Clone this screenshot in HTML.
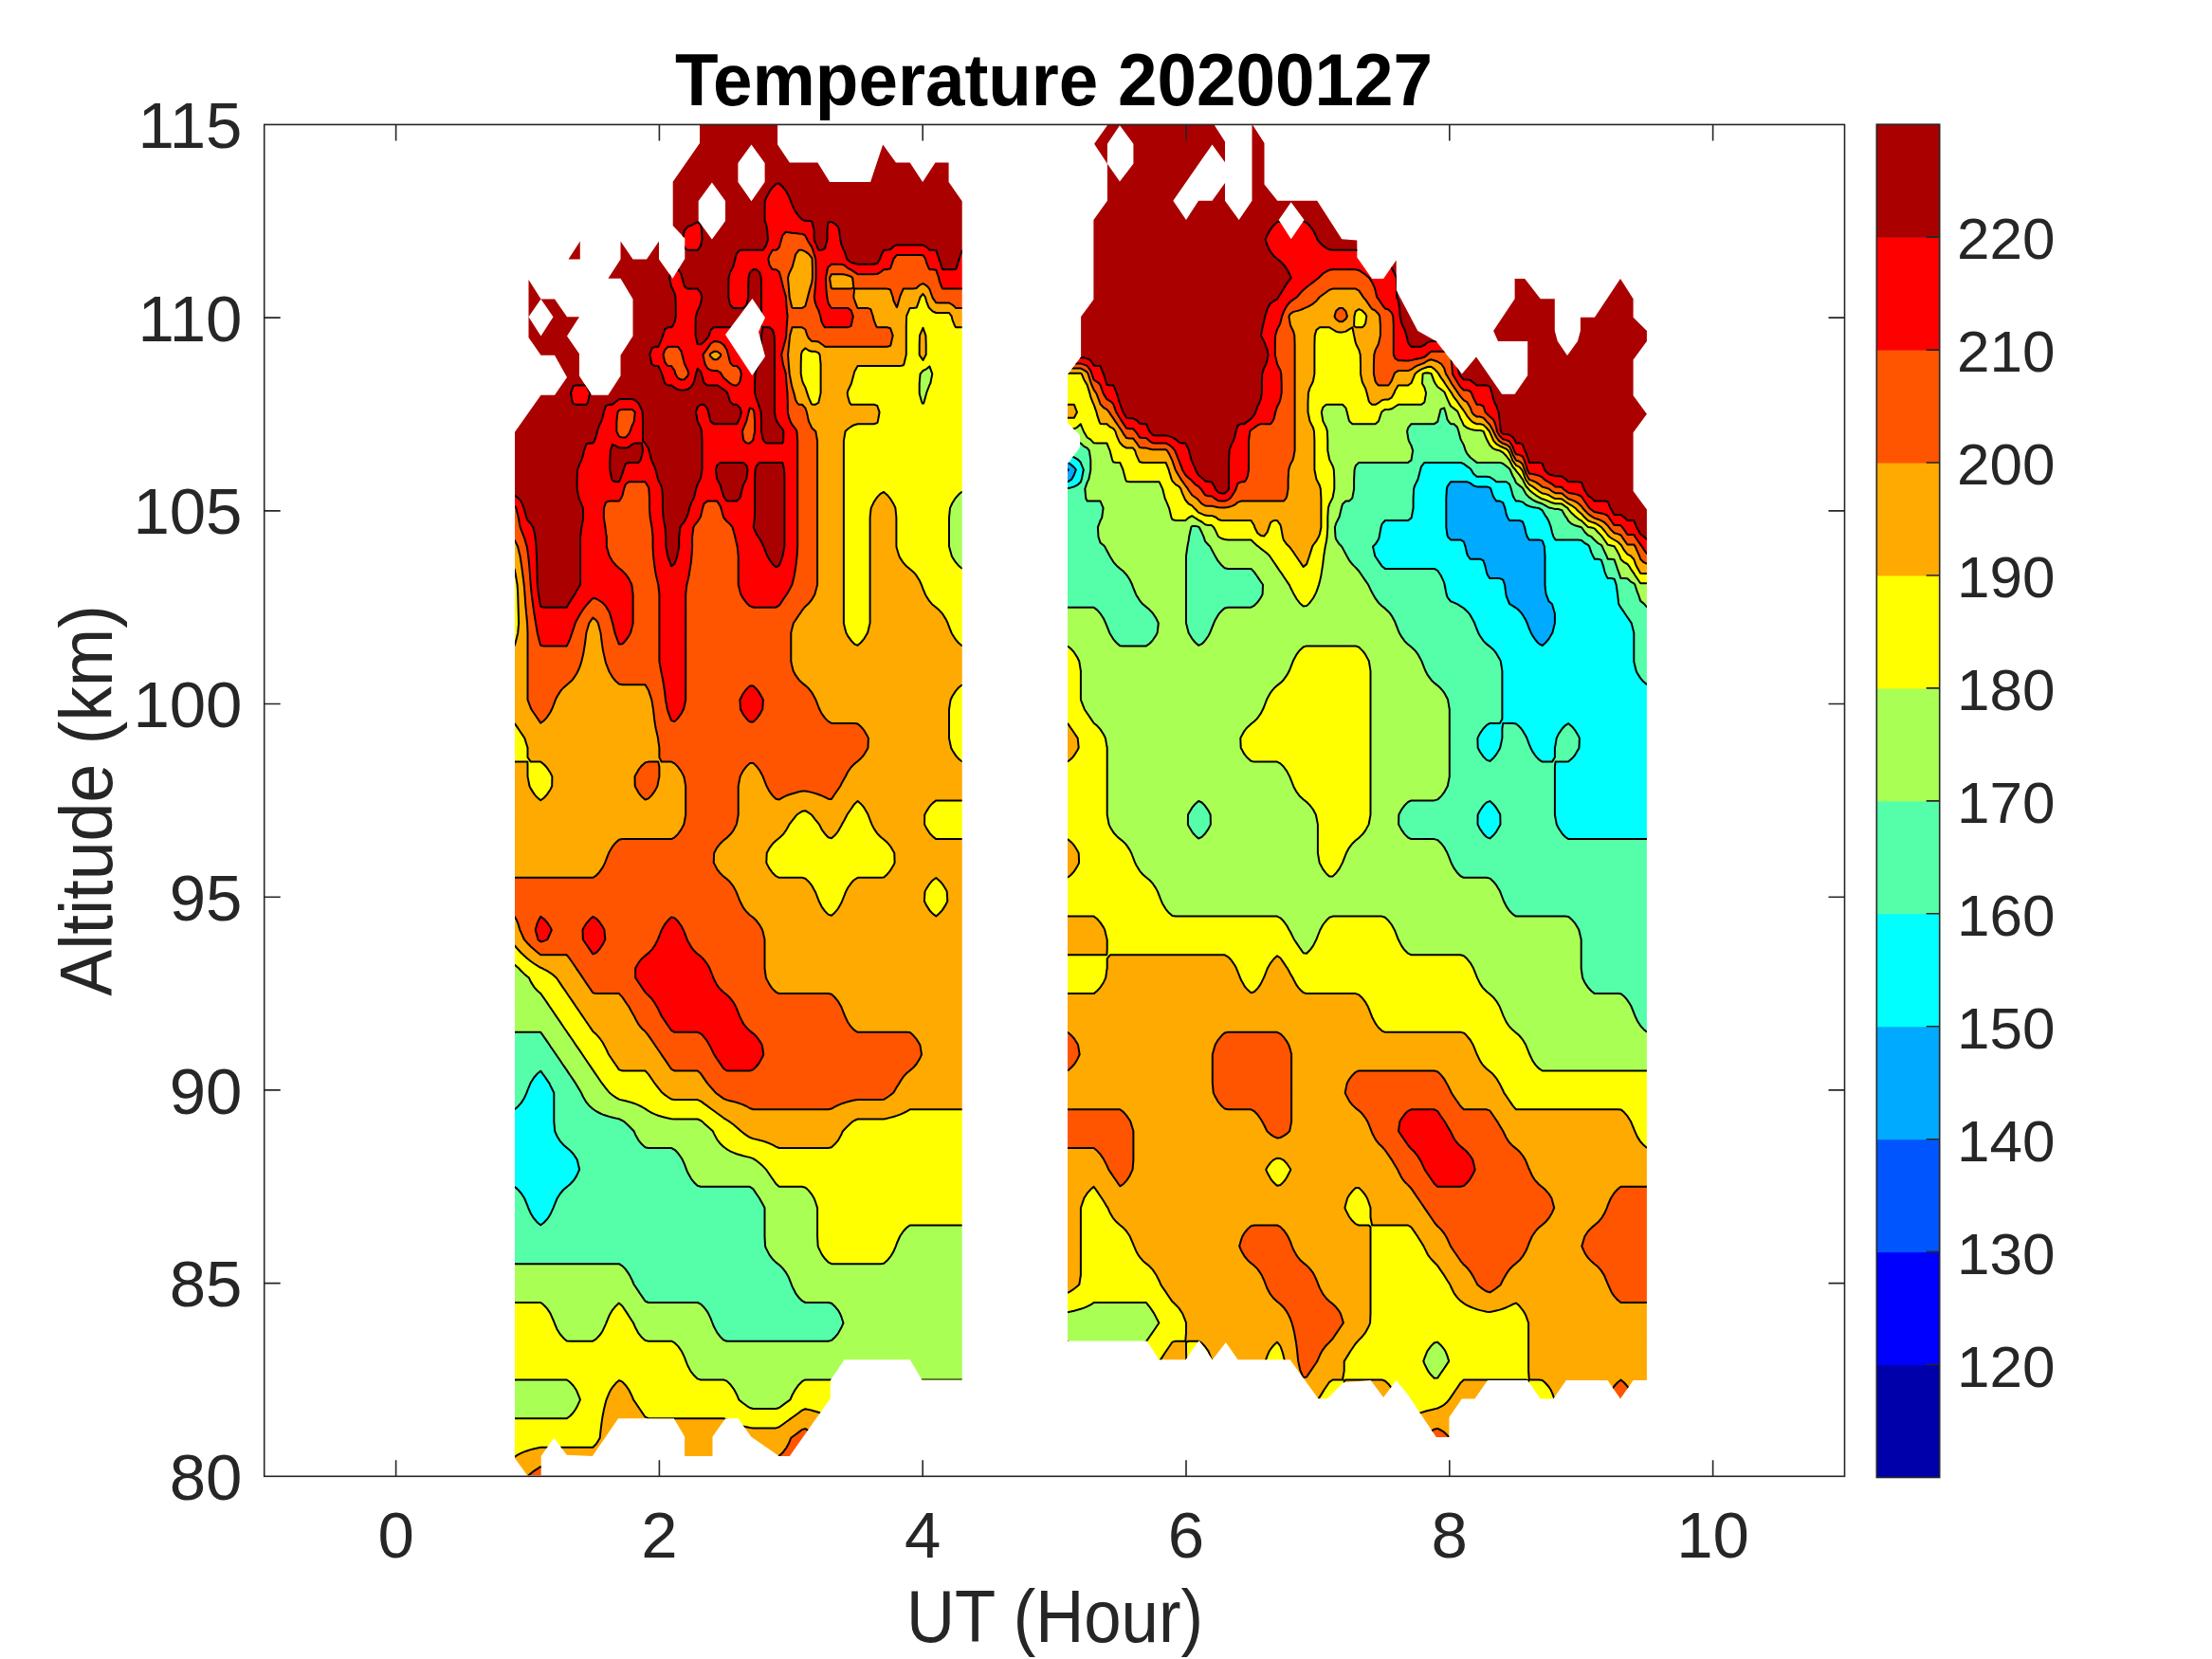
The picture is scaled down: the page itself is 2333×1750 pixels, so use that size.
<!DOCTYPE html>
<html><head><meta charset="utf-8"><style>
html,body{margin:0;padding:0;background:#fff;}
svg{display:block;font-family:"Liberation Sans",sans-serif;}
</style></head><body>
<svg width="2333" height="1750" viewBox="0 0 2333 1750" xmlns="http://www.w3.org/2000/svg">
<rect width="2333" height="1750" fill="#fff"/>
<defs><clipPath id="clipL"><path d="M543.0 1538.2L543.0 455.8L570.5 416.7L585.0 416.7L598.0 397.9L585.0 374.7L570.5 374.7L557.5 355.9L557.5 295.1L570.5 315.4L585.0 315.4L598.0 334.2L611.0 334.2L598.0 354.5L611.0 373.3L611.0 396.4L624.1 416.7L641.4 416.7L654.5 396.4L654.5 374.7L667.5 354.5L667.5 315.4L654.5 293.7L641.4 293.7L654.5 273.4L654.5 254.6L667.5 273.4L682.0 273.4L695.0 254.6L695.0 273.4L709.4 293.7L722.3 273.0L722.3 251.6L709.7 238.0L709.7 191.7L738.0 151.0L738.0 130.7L820.1 130.7L820.1 152.4L832.8 171.4L862.4 171.4L875.1 191.9L918.1 191.9L931.2 152.4L944.9 171.4L959.7 171.4L973.1 191.9L986.5 171.4L1000.6 171.4L1000.6 191.9L1014.7 212.3L1014.7 1455.5L972.4 1455.5L959.7 1434.3L890.6 1434.3L875.8 1456.0L875.8 1474.9L832.9 1535.9L821.6 1535.9L792.2 1515.6L778.6 1496.3L765.1 1496.3L751.5 1515.6L751.5 1535.9L722.1 1535.9L722.1 1515.6L710.8 1496.3L652.1 1496.3L624.9 1535.9L597.8 1534.8L584.2 1516.7L570.7 1535.9L570.7 1556.2L556.0 1556.2L543.1 1538.2Z"/><path d="M611.8 254.6L611.8 273.4L599.5 273.4Z"/></clipPath><clipPath id="clipR"><path d="M1126.0 1414.6L1126.0 489.3L1139.0 472.0L1139.0 458.9L1126.0 445.9L1126.0 394.9L1140.1 376.4L1140.1 334.1L1153.4 316.0L1153.4 232.1L1167.9 211.8L1167.9 172.7L1154.1 151.8L1167.9 132.2L1167.9 130.7L1280.0 130.7L1292.0 149.6L1292.0 211.8L1306.7 232.1L1320.5 211.8L1320.5 130.7L1333.5 151.0L1333.5 194.4L1347.3 211.8L1389.2 211.8L1415.2 252.3L1431.3 253.5L1431.3 271.6L1447.1 294.1L1459.1 294.1L1472.7 274.6L1472.7 306.2L1495.3 348.9L1514.8 360.0L1541.9 394.6L1557.0 376.6L1584.1 415.7L1597.6 415.7L1611.2 396.1L1611.2 360.0L1580.0 360.0L1575.1 349.0L1597.6 315.2L1597.6 294.1L1608.2 294.1L1624.7 315.2L1639.8 315.2L1639.8 349.0L1642.8 360.0L1653.0 375.0L1663.9 360.0L1666.9 349.0L1666.9 334.8L1681.9 334.8L1709.0 294.1L1722.6 315.2L1722.6 334.8L1736.9 349.0L1736.9 360.0L1722.6 379.6L1722.6 417.2L1736.9 436.8L1722.6 456.3L1722.6 518.1L1736.9 537.6L1736.9 1455.9L1722.6 1455.9L1709.0 1475.5L1695.5 1455.9L1651.8 1455.9L1638.3 1475.5L1624.7 1475.5L1611.2 1455.9L1569.0 1455.9L1555.5 1475.5L1541.9 1475.5L1528.4 1495.1L1528.4 1516.1L1514.8 1516.1L1484.7 1471.0L1472.7 1455.9L1459.1 1474.0L1445.6 1455.9L1416.9 1458.3L1400.1 1475.2L1390.3 1475.2L1360.6 1434.3L1305.6 1434.3L1292.9 1416.0L1278.8 1434.3L1264.7 1413.9L1250.6 1434.3L1222.4 1434.3L1209.7 1414.6Z"/></clipPath></defs>
<g clip-path="url(#clipL)">
<path d="MZ" fill="#0000AA" fill-rule="evenodd" stroke="#0000AA" stroke-width="0.6"/>
<path d="MZ" fill="#0000FF" fill-rule="evenodd" stroke="#0000FF" stroke-width="0.6"/>
<path d="MZ" fill="#0055FF" fill-rule="evenodd" stroke="#0055FF" stroke-width="0.6"/>
<path d="MZ" fill="#00AAFF" fill-rule="evenodd" stroke="#00AAFF" stroke-width="0.6"/>
<path d="M563.3 1285.5L566.7 1289.4L570.2 1292.3L573.6 1289.8L577.1 1286.0L578.4 1284.3L580.5 1280.8L583.6 1274.1L584.0 1273.0L587.4 1264.7L587.7 1264.0L590.9 1259.0L594.3 1255.0L595.5 1253.9L597.8 1252.1L601.2 1249.3L604.7 1245.5L606.0 1243.8L608.1 1240.4L611.2 1233.7L608.8 1223.6L608.1 1222.4L604.7 1217.2L601.2 1213.5L601.2 1213.5L597.8 1210.7L594.3 1207.7L590.9 1203.8L590.6 1203.4L587.4 1198.2L585.2 1193.2L584.3 1183.1L584.3 1173.0L584.3 1162.9L584.3 1152.8L584.0 1152.2L580.5 1145.1L579.4 1142.7L577.1 1139.4L573.6 1134.3L572.3 1132.6L570.2 1129.7L566.8 1132.6L566.7 1132.6L563.3 1136.5L559.8 1142.0L559.5 1142.7L556.4 1150.2L555.4 1152.8L553.0 1158.2L550.0 1162.9L549.5 1163.6L546.1 1167.4L542.6 1170.3L542.6 1173.0L542.6 1183.1L542.6 1193.2L542.6 1203.4L542.6 1213.5L542.6 1223.6L542.6 1233.7L542.6 1243.8L542.6 1251.8L545.3 1253.9L546.1 1254.6L549.5 1258.5L553.0 1263.8L553.1 1264.0L556.4 1271.9L557.2 1274.1L559.8 1280.0L562.4 1284.3Z" fill="#00FFFF" fill-rule="evenodd" stroke="#00FFFF" stroke-width="0.6"/>
<path d="M756.3 1405.7L759.8 1410.2L763.2 1413.5L766.7 1414.7L770.1 1414.7L773.6 1414.7L777.0 1414.7L780.5 1414.7L783.9 1414.7L787.4 1414.7L790.8 1414.7L794.3 1414.7L797.7 1414.7L801.1 1414.7L804.6 1414.7L808.0 1414.7L811.5 1414.7L814.9 1414.7L818.4 1414.7L821.8 1414.7L825.3 1414.7L828.7 1414.7L832.2 1414.7L835.6 1414.7L839.1 1414.7L842.5 1414.7L846.0 1414.7L849.4 1414.7L852.9 1414.7L856.3 1414.7L859.7 1414.7L863.2 1414.7L866.6 1414.7L870.1 1414.7L873.5 1414.7L877.0 1413.9L880.4 1410.8L883.9 1406.6L884.5 1405.6L887.3 1400.6L889.5 1395.5L887.3 1388.8L885.9 1385.4L883.9 1382.1L880.4 1377.9L877.6 1375.3L877.0 1374.7L873.5 1374.0L870.1 1374.0L866.6 1374.0L863.2 1374.0L859.7 1374.0L856.3 1374.0L852.9 1374.0L849.4 1374.0L846.0 1372.2L842.5 1368.7L839.8 1365.2L839.1 1364.0L835.6 1357.1L834.8 1355.0L832.2 1348.3L830.5 1344.9L828.7 1341.9L825.3 1337.6L822.4 1334.8L821.8 1334.3L818.4 1331.6L814.9 1328.2L812.2 1324.7L811.5 1323.6L808.0 1316.9L807.1 1314.6L806.5 1304.5L806.5 1294.4L806.5 1284.3L806.5 1274.1L804.6 1270.6L801.1 1264.3L801.0 1264.0L797.7 1259.2L794.3 1254.1L793.9 1253.9L790.8 1251.8L787.4 1251.8L783.9 1251.8L780.5 1251.8L777.0 1251.8L773.6 1251.8L770.1 1251.8L766.7 1251.8L763.2 1251.8L759.8 1251.8L756.3 1251.8L752.9 1251.8L749.4 1251.8L746.0 1251.8L742.5 1251.8L739.1 1251.8L735.7 1250.7L732.2 1247.4L729.3 1243.8L728.8 1243.1L725.3 1236.8L724.0 1233.7L721.9 1228.0L719.9 1223.6L718.4 1221.0L715.0 1216.3L712.3 1213.5L711.5 1212.8L708.1 1211.0L704.6 1211.0L701.2 1211.0L697.7 1211.0L694.3 1211.0L690.8 1211.0L687.4 1211.0L683.9 1211.0L680.5 1210.2L677.0 1207.1L673.9 1203.4L673.6 1202.9L670.2 1196.9L668.6 1193.2L666.7 1191.2L663.3 1187.7L659.8 1184.5L658.2 1183.1L656.4 1182.0L652.9 1180.3L649.5 1179.6L646.0 1178.8L642.6 1177.9L639.1 1176.8L635.7 1175.6L632.2 1174.0L630.3 1173.0L628.8 1172.2L625.3 1169.8L621.9 1166.8L618.6 1162.9L618.4 1162.7L615.0 1157.0L613.1 1152.8L611.6 1150.3L608.1 1144.4L607.1 1142.7L604.7 1139.1L601.2 1134.0L600.2 1132.6L597.8 1128.9L594.3 1123.9L593.3 1122.5L590.9 1118.8L587.4 1113.8L586.4 1112.3L584.0 1108.7L580.5 1103.7L579.6 1102.2L577.1 1098.6L573.6 1093.6L572.6 1092.1L570.2 1088.8L566.7 1088.8L563.3 1088.8L559.8 1088.8L556.4 1088.8L553.0 1088.8L549.5 1088.8L546.1 1088.8L542.6 1088.8L542.6 1092.1L542.6 1102.2L542.6 1112.3L542.6 1122.5L542.6 1132.6L542.6 1142.7L542.6 1152.8L542.6 1162.9L542.6 1170.3L546.1 1167.4L549.5 1163.6L550.0 1162.9L553.0 1158.2L555.4 1152.8L556.4 1150.2L559.5 1142.7L559.8 1142.0L563.3 1136.5L566.7 1132.6L566.8 1132.6L570.2 1129.7L572.3 1132.6L573.6 1134.3L577.1 1139.4L579.4 1142.7L580.5 1145.1L584.0 1152.2L584.3 1152.8L584.3 1162.9L584.3 1173.0L584.3 1183.1L585.2 1193.2L587.4 1198.2L590.6 1203.4L590.9 1203.8L594.3 1207.7L597.8 1210.7L601.2 1213.5L601.2 1213.5L604.7 1217.2L608.1 1222.4L608.8 1223.6L611.2 1233.7L608.1 1240.4L606.0 1243.8L604.7 1245.5L601.2 1249.3L597.8 1252.1L595.5 1253.9L594.3 1255.0L590.9 1259.0L587.7 1264.0L587.4 1264.7L584.0 1273.0L583.6 1274.1L580.5 1280.8L578.4 1284.3L577.1 1286.0L573.6 1289.8L570.2 1292.3L566.7 1289.4L563.3 1285.5L562.4 1284.3L559.8 1280.0L557.2 1274.1L556.4 1271.9L553.1 1264.0L553.0 1263.8L549.5 1258.5L546.1 1254.6L545.3 1253.9L542.6 1251.8L542.6 1253.9L542.6 1264.0L542.6 1274.1L542.6 1284.3L542.6 1294.4L542.6 1304.5L542.6 1314.6L542.6 1324.7L542.6 1333.2L546.1 1333.2L549.5 1333.2L553.0 1333.2L556.4 1333.2L559.8 1333.2L563.3 1333.2L566.7 1333.2L570.2 1333.2L573.6 1333.2L577.1 1333.2L580.5 1333.2L584.0 1333.2L587.4 1333.2L590.9 1333.2L594.3 1333.2L597.8 1333.2L601.2 1333.2L604.7 1333.2L608.1 1333.2L611.6 1333.2L615.0 1333.2L618.4 1333.2L621.9 1333.2L625.3 1333.2L628.8 1333.2L632.2 1333.2L635.7 1333.2L639.1 1333.2L642.6 1333.2L646.0 1333.2L649.5 1333.2L652.9 1333.2L655.5 1334.8L656.4 1335.4L659.8 1338.9L663.3 1343.9L663.9 1344.9L666.7 1350.4L668.6 1355.0L670.2 1357.3L673.6 1362.4L675.5 1365.2L677.0 1367.4L680.5 1372.5L683.9 1374.0L687.4 1374.0L690.8 1374.0L694.3 1374.0L697.7 1374.0L701.2 1374.0L704.6 1374.0L708.1 1374.0L711.5 1374.0L715.0 1374.0L718.4 1374.0L721.9 1374.0L725.3 1374.0L728.8 1374.0L732.2 1374.0L735.7 1374.0L738.5 1375.3L739.1 1375.6L742.5 1379.0L746.0 1383.6L747.0 1385.4L749.4 1390.4L751.4 1395.5L752.9 1399.3L756.3 1405.6Z" fill="#55FFAA" fill-rule="evenodd" stroke="#55FFAA" stroke-width="0.6"/>
<path d="M546.1 1496.2L549.5 1496.2L553.0 1496.2L556.4 1496.2L559.8 1496.2L563.3 1496.2L566.7 1496.2L570.2 1496.2L573.6 1496.2L577.1 1496.2L580.5 1496.2L584.0 1496.2L587.4 1496.2L590.9 1496.2L594.3 1496.2L597.8 1496.2L601.2 1493.7L604.7 1490.0L607.1 1486.5L608.1 1484.8L611.6 1477.3L611.9 1476.4L611.6 1475.4L608.1 1466.9L607.8 1466.3L604.7 1461.7L601.2 1458.0L598.8 1456.2L597.8 1455.5L594.3 1455.5L590.9 1455.5L587.4 1455.5L584.0 1455.5L580.5 1455.5L577.1 1455.5L573.6 1455.5L570.2 1455.5L566.7 1455.5L563.3 1455.5L559.8 1455.5L556.4 1455.5L553.0 1455.5L549.5 1455.5L546.1 1455.5L542.6 1455.5L542.6 1456.2L542.6 1466.3L542.6 1476.4L542.6 1486.5L542.6 1496.2ZM780.5 1477.4L783.9 1480.3L787.4 1482.8L790.8 1485.0L794.3 1486.0L797.7 1486.0L801.1 1486.0L804.6 1486.0L808.0 1486.0L811.5 1486.0L814.9 1486.0L818.4 1486.0L821.8 1485.0L825.3 1482.4L828.7 1479.9L832.2 1477.4L833.5 1476.4L835.6 1471.5L838.5 1466.3L839.1 1465.4L842.5 1460.7L846.0 1457.2L847.9 1456.2L849.4 1455.5L852.9 1455.5L856.3 1455.5L859.7 1455.5L863.2 1455.5L866.6 1455.5L870.1 1455.5L873.5 1455.5L877.0 1455.5L880.4 1455.5L883.9 1455.5L887.3 1455.5L890.8 1455.5L894.2 1455.5L897.7 1455.5L901.1 1455.5L904.6 1455.5L908.0 1455.5L911.5 1455.5L914.9 1455.5L918.3 1455.5L921.8 1455.5L925.2 1455.5L928.7 1455.5L932.1 1455.5L935.6 1455.5L939.0 1455.5L942.5 1455.5L945.9 1455.5L949.4 1455.5L952.8 1455.5L956.3 1455.5L959.7 1455.5L963.2 1455.5L966.6 1455.5L970.1 1455.5L973.5 1455.5L977.0 1455.5L980.4 1455.5L983.8 1455.5L987.3 1455.5L990.7 1455.5L994.2 1455.5L997.6 1455.5L1001.1 1455.5L1004.5 1455.5L1008.0 1455.5L1011.4 1455.5L1014.9 1455.5L1014.9 1446.1L1014.9 1435.9L1014.9 1425.8L1014.9 1415.7L1014.9 1405.6L1014.9 1395.5L1014.9 1385.4L1014.9 1375.3L1014.9 1365.2L1014.9 1355.0L1014.9 1344.9L1014.9 1334.8L1014.9 1324.7L1014.9 1314.6L1014.9 1304.5L1014.9 1294.4L1014.9 1292.5L1011.4 1292.5L1008.0 1292.5L1004.5 1292.5L1001.1 1292.5L997.6 1292.5L994.2 1292.5L990.7 1292.5L987.3 1292.5L983.8 1292.5L980.4 1292.5L977.0 1292.5L973.5 1292.5L970.1 1292.5L966.6 1292.5L963.2 1292.5L959.7 1292.5L957.1 1294.4L956.3 1295.0L952.8 1298.7L949.4 1303.8L949.0 1304.5L945.9 1311.5L944.8 1314.6L942.5 1320.0L939.7 1324.7L939.0 1325.7L935.6 1329.8L932.1 1332.8L928.7 1333.2L925.2 1333.2L921.8 1333.2L918.3 1333.2L914.9 1333.2L911.5 1333.2L908.0 1333.2L904.6 1333.2L901.1 1333.2L897.7 1333.2L894.2 1333.2L890.8 1333.2L887.3 1333.2L883.9 1333.2L880.4 1333.2L877.0 1333.2L873.5 1331.3L870.1 1327.8L867.8 1324.7L866.6 1322.9L863.2 1315.9L862.7 1314.6L862.1 1304.5L862.1 1294.4L862.1 1284.3L862.1 1274.1L859.7 1266.8L858.6 1264.0L856.3 1260.2L852.9 1255.9L850.9 1253.9L849.4 1252.7L846.0 1251.8L842.5 1251.8L839.1 1251.8L835.6 1251.8L832.2 1251.8L828.7 1251.8L825.3 1251.8L821.8 1251.8L818.4 1248.8L815.0 1243.8L814.9 1243.7L811.5 1238.7L808.1 1233.7L808.0 1233.6L804.6 1230.1L801.1 1227.1L797.7 1224.3L796.7 1223.6L794.3 1222.1L790.8 1220.9L787.4 1220.1L783.9 1219.3L780.5 1218.3L777.0 1217.2L773.6 1215.9L770.1 1214.3L768.7 1213.5L766.7 1212.3L763.2 1209.8L759.8 1206.5L757.3 1203.4L756.3 1202.0L752.9 1195.6L751.9 1193.2L749.4 1191.1L746.0 1188.1L742.5 1184.9L740.7 1183.1L739.1 1182.0L735.7 1180.5L732.2 1180.5L728.8 1180.5L725.3 1180.5L721.9 1180.5L718.4 1180.5L715.0 1180.5L711.5 1180.5L708.1 1180.2L704.6 1179.5L701.2 1178.7L697.7 1177.8L694.3 1176.7L690.8 1175.4L687.4 1173.8L685.8 1173.0L683.9 1171.9L680.5 1169.6L677.0 1167.5L673.6 1165.8L670.2 1164.4L666.7 1163.2L665.8 1162.9L663.3 1162.2L659.8 1161.3L656.4 1160.6L652.9 1159.6L649.5 1157.6L646.0 1155.2L643.0 1152.8L642.6 1152.3L639.1 1148.1L635.7 1143.7L634.9 1142.7L632.2 1138.8L628.8 1133.7L628.0 1132.6L625.3 1128.6L621.9 1123.6L621.1 1122.5L618.4 1118.5L615.0 1113.5L614.2 1112.3L611.6 1108.4L608.1 1103.4L607.3 1102.2L604.7 1098.3L601.2 1093.3L600.4 1092.1L597.8 1088.2L594.3 1083.2L593.5 1082.0L590.9 1078.1L587.4 1073.0L586.6 1071.9L584.0 1068.0L580.5 1062.9L579.7 1061.8L577.1 1057.9L573.6 1052.8L572.8 1051.7L570.2 1047.9L566.7 1045.0L563.7 1041.6L563.3 1041.1L559.8 1035.6L557.9 1031.4L556.4 1030.3L553.0 1027.4L549.5 1024.0L547.1 1021.3L546.1 1020.5L542.6 1017.5L542.6 1021.3L542.6 1031.4L542.6 1041.6L542.6 1051.7L542.6 1061.8L542.6 1071.9L542.6 1082.0L542.6 1088.8L546.1 1088.8L549.5 1088.8L553.0 1088.8L556.4 1088.8L559.8 1088.8L563.3 1088.8L566.7 1088.8L570.2 1088.8L572.6 1092.1L573.6 1093.6L577.1 1098.6L579.6 1102.2L580.5 1103.7L584.0 1108.7L586.4 1112.3L587.4 1113.8L590.9 1118.8L593.3 1122.5L594.3 1123.9L597.8 1128.9L600.2 1132.6L601.2 1134.0L604.7 1139.1L607.1 1142.7L608.1 1144.4L611.6 1150.3L613.1 1152.8L615.0 1157.0L618.4 1162.7L618.6 1162.9L621.9 1166.8L625.3 1169.8L628.8 1172.2L630.3 1173.0L632.2 1174.0L635.7 1175.6L639.1 1176.8L642.6 1177.9L646.0 1178.8L649.5 1179.6L652.9 1180.3L656.4 1182.0L658.2 1183.1L659.8 1184.5L663.3 1187.7L666.7 1191.2L668.6 1193.2L670.2 1196.9L673.6 1202.9L673.9 1203.4L677.0 1207.1L680.5 1210.2L683.9 1211.0L687.4 1211.0L690.8 1211.0L694.3 1211.0L697.7 1211.0L701.2 1211.0L704.6 1211.0L708.1 1211.0L711.5 1212.8L712.3 1213.5L715.0 1216.3L718.4 1221.0L719.9 1223.6L721.9 1228.0L724.0 1233.7L725.3 1236.8L728.8 1243.1L729.3 1243.8L732.2 1247.4L735.7 1250.7L739.1 1251.8L742.5 1251.8L746.0 1251.8L749.4 1251.8L752.9 1251.8L756.3 1251.8L759.8 1251.8L763.2 1251.8L766.7 1251.8L770.1 1251.8L773.6 1251.8L777.0 1251.8L780.5 1251.8L783.9 1251.8L787.4 1251.8L790.8 1251.8L793.9 1253.9L794.3 1254.1L797.7 1259.2L801.0 1264.0L801.1 1264.3L804.6 1270.6L806.5 1274.1L806.5 1284.3L806.5 1294.4L806.5 1304.5L807.1 1314.6L808.0 1316.9L811.5 1323.6L812.2 1324.7L814.9 1328.2L818.4 1331.6L821.8 1334.3L822.4 1334.8L825.3 1337.6L828.7 1341.9L830.5 1344.9L832.2 1348.3L834.8 1355.0L835.6 1357.1L839.1 1364.0L839.8 1365.2L842.5 1368.7L846.0 1372.2L849.4 1374.0L852.9 1374.0L856.3 1374.0L859.7 1374.0L863.2 1374.0L866.6 1374.0L870.1 1374.0L873.5 1374.0L877.0 1374.7L877.6 1375.3L880.4 1377.9L883.9 1382.1L885.9 1385.4L887.3 1388.8L889.5 1395.5L887.3 1400.6L884.5 1405.6L883.9 1406.6L880.4 1410.8L877.0 1413.9L873.5 1414.7L870.1 1414.7L866.6 1414.7L863.2 1414.7L859.7 1414.7L856.3 1414.7L852.9 1414.7L849.4 1414.7L846.0 1414.7L842.5 1414.7L839.1 1414.7L835.6 1414.7L832.2 1414.7L828.7 1414.7L825.3 1414.7L821.8 1414.7L818.4 1414.7L814.9 1414.7L811.5 1414.7L808.0 1414.7L804.6 1414.7L801.1 1414.7L797.7 1414.7L794.3 1414.7L790.8 1414.7L787.4 1414.7L783.9 1414.7L780.5 1414.7L777.0 1414.7L773.6 1414.7L770.1 1414.7L766.7 1414.7L763.2 1413.5L759.8 1410.2L756.3 1405.7L756.3 1405.6L752.9 1399.3L751.4 1395.5L749.4 1390.4L747.0 1385.4L746.0 1383.6L742.5 1379.0L739.1 1375.6L738.5 1375.3L735.7 1374.0L732.2 1374.0L728.8 1374.0L725.3 1374.0L721.9 1374.0L718.4 1374.0L715.0 1374.0L711.5 1374.0L708.1 1374.0L704.6 1374.0L701.2 1374.0L697.7 1374.0L694.3 1374.0L690.8 1374.0L687.4 1374.0L683.9 1374.0L680.5 1372.5L677.0 1367.4L675.5 1365.2L673.6 1362.4L670.2 1357.3L668.6 1355.0L666.7 1350.4L663.9 1344.9L663.3 1343.9L659.8 1338.9L656.4 1335.4L655.5 1334.8L652.9 1333.2L649.5 1333.2L646.0 1333.2L642.6 1333.2L639.1 1333.2L635.7 1333.2L632.2 1333.2L628.8 1333.2L625.3 1333.2L621.9 1333.2L618.4 1333.2L615.0 1333.2L611.6 1333.2L608.1 1333.2L604.7 1333.2L601.2 1333.2L597.8 1333.2L594.3 1333.2L590.9 1333.2L587.4 1333.2L584.0 1333.2L580.5 1333.2L577.1 1333.2L573.6 1333.2L570.2 1333.2L566.7 1333.2L563.3 1333.2L559.8 1333.2L556.4 1333.2L553.0 1333.2L549.5 1333.2L546.1 1333.2L542.6 1333.2L542.6 1334.8L542.6 1344.9L542.6 1355.0L542.6 1365.2L542.6 1374.0L546.1 1374.0L549.5 1374.0L553.0 1374.0L556.4 1374.0L559.8 1374.0L563.3 1374.0L566.7 1374.0L570.2 1374.0L572.0 1375.3L573.6 1376.7L577.1 1380.4L580.4 1385.4L580.5 1385.7L584.0 1393.5L584.7 1395.5L587.4 1401.9L589.6 1405.6L590.9 1407.5L594.3 1411.4L597.8 1414.4L601.2 1414.7L604.7 1414.7L608.1 1414.7L611.6 1414.7L615.0 1414.7L618.4 1414.7L621.9 1414.7L625.3 1414.7L628.8 1412.4L632.2 1408.8L634.5 1405.6L635.7 1403.7L639.1 1396.3L639.4 1395.5L642.6 1387.7L643.8 1385.4L646.0 1381.8L649.5 1377.7L652.1 1375.3L652.9 1374.6L653.6 1375.3L656.4 1377.8L659.8 1382.9L661.5 1385.4L663.3 1388.2L666.7 1393.5L668.0 1395.5L670.2 1400.6L672.9 1405.6L673.6 1406.6L677.0 1410.8L680.5 1413.9L683.9 1414.7L687.4 1414.7L690.8 1414.7L694.3 1414.7L697.7 1414.7L701.2 1414.7L704.6 1414.7L708.1 1414.7L710.1 1415.7L711.5 1416.5L715.0 1419.9L718.4 1424.7L719.1 1425.8L721.9 1431.6L723.5 1435.9L725.3 1440.5L728.3 1446.1L728.8 1446.8L732.2 1451.1L735.7 1454.4L739.1 1455.5L742.5 1455.5L746.0 1455.5L749.4 1455.5L752.9 1455.5L756.3 1455.5L759.8 1455.5L763.2 1455.5L765.0 1456.2L766.7 1456.9L770.1 1460.2L773.6 1464.8L774.5 1466.3L777.0 1470.9L779.3 1476.4ZM1011.4 597.0L1014.9 599.9L1014.9 596.6L1014.9 586.5L1014.9 576.4L1014.9 566.3L1014.9 556.2L1014.9 546.0L1014.9 535.9L1014.9 525.8L1014.9 518.5L1011.4 521.3L1008.0 525.2L1007.5 525.8L1004.5 530.5L1002.0 535.9L1001.1 545.0L1001.0 546.0L1001.0 556.2L1001.0 566.3L1001.0 576.4L1001.1 576.8L1003.8 586.5L1004.5 587.9L1008.0 593.2L1011.0 596.6ZM973.5 426.3L974.4 424.7L977.0 415.2L977.1 414.6L980.4 406.0L981.3 404.5L983.3 394.4L980.4 386.4L977.0 389.3L973.5 391.0L970.6 394.4L970.1 399.7L969.7 404.5L969.7 414.6L970.1 416.8L972.4 424.7Z" fill="#AAFF55" fill-rule="evenodd" stroke="#AAFF55" stroke-width="0.6"/>
<path d="M546.1 1534.7L549.5 1532.9L553.0 1531.4L556.4 1530.2L559.8 1529.1L563.3 1528.2L566.7 1527.5L569.2 1527.0L570.2 1526.8L573.6 1526.7L577.1 1526.7L580.5 1526.7L584.0 1526.7L587.4 1526.7L590.9 1526.7L594.3 1526.7L597.8 1526.7L601.2 1526.7L604.7 1526.7L608.1 1526.7L611.6 1526.7L615.0 1526.7L618.4 1526.7L621.9 1526.7L625.3 1526.7L628.8 1523.3L632.2 1517.8L632.7 1516.8L633.8 1506.7L635.1 1496.6L635.7 1493.2L637.0 1486.5L639.1 1478.0L639.6 1476.4L642.6 1469.1L644.1 1466.3L646.0 1463.3L649.5 1459.1L652.8 1456.2L652.9 1456.1L653.2 1456.2L656.4 1457.6L659.8 1461.2L663.3 1466.1L663.4 1466.3L666.7 1473.0L668.0 1476.4L670.2 1479.5L673.6 1484.6L674.9 1486.5L677.0 1489.6L680.5 1494.7L683.9 1496.2L687.4 1496.2L690.8 1496.2L694.3 1496.2L697.7 1496.2L701.2 1496.2L704.6 1496.2L708.1 1496.2L711.5 1496.2L715.0 1496.2L718.4 1496.2L721.9 1496.2L725.3 1496.2L728.8 1496.2L732.2 1496.2L735.7 1496.2L739.1 1496.2L742.5 1496.2L746.0 1496.2L749.4 1496.2L752.9 1496.2L756.3 1496.2L759.8 1496.2L763.2 1496.2L764.4 1496.6L766.7 1497.4L770.1 1499.4L773.6 1501.1L777.0 1502.4L780.5 1503.5L783.9 1504.5L787.4 1505.3L790.8 1506.0L794.3 1506.4L797.7 1506.4L801.1 1506.4L804.6 1506.4L808.0 1506.4L811.5 1506.4L814.9 1506.4L818.4 1506.4L821.8 1505.3L825.3 1502.8L828.7 1500.3L832.2 1497.8L833.7 1496.6L835.6 1495.2L839.1 1492.7L842.5 1490.2L846.0 1487.6L848.7 1486.5L849.4 1486.2L850.8 1486.5L852.9 1486.9L856.3 1487.7L859.7 1488.7L863.2 1489.8L866.6 1491.1L870.1 1492.6L873.5 1494.6L877.0 1496.2L880.4 1496.2L883.9 1496.2L887.3 1496.2L890.8 1496.2L894.2 1496.2L897.7 1496.2L901.1 1496.2L904.6 1496.2L908.0 1496.2L911.5 1496.2L914.9 1496.2L918.3 1496.2L921.8 1496.2L925.2 1496.2L928.7 1496.2L932.1 1496.2L935.6 1496.2L939.0 1496.2L942.5 1496.2L945.9 1496.2L949.4 1496.2L952.8 1496.2L956.3 1496.2L959.7 1496.2L963.2 1496.2L966.6 1496.2L970.1 1496.2L973.5 1496.2L977.0 1496.2L980.4 1496.2L983.8 1496.2L987.3 1496.2L990.7 1496.2L994.2 1496.2L997.6 1496.2L1001.1 1496.2L1004.5 1496.2L1008.0 1496.2L1011.4 1496.2L1014.9 1496.2L1014.9 1486.5L1014.9 1476.4L1014.9 1466.3L1014.9 1456.2L1014.9 1455.5L1011.4 1455.5L1008.0 1455.5L1004.5 1455.5L1001.1 1455.5L997.6 1455.5L994.2 1455.5L990.7 1455.5L987.3 1455.5L983.8 1455.5L980.4 1455.5L977.0 1455.5L973.5 1455.5L970.1 1455.5L966.6 1455.5L963.2 1455.5L959.7 1455.5L956.3 1455.5L952.8 1455.5L949.4 1455.5L945.9 1455.5L942.5 1455.5L939.0 1455.5L935.6 1455.5L932.1 1455.5L928.7 1455.5L925.2 1455.5L921.8 1455.5L918.3 1455.5L914.9 1455.5L911.5 1455.5L908.0 1455.5L904.6 1455.5L901.1 1455.5L897.7 1455.5L894.2 1455.5L890.8 1455.5L887.3 1455.5L883.9 1455.5L880.4 1455.5L877.0 1455.5L873.5 1455.5L870.1 1455.5L866.6 1455.5L863.2 1455.5L859.7 1455.5L856.3 1455.5L852.9 1455.5L849.4 1455.5L847.9 1456.2L846.0 1457.2L842.5 1460.7L839.1 1465.4L838.5 1466.3L835.6 1471.5L833.5 1476.4L832.2 1477.4L828.7 1479.9L825.3 1482.4L821.8 1485.0L818.4 1486.0L814.9 1486.0L811.5 1486.0L808.0 1486.0L804.6 1486.0L801.1 1486.0L797.7 1486.0L794.3 1486.0L790.8 1485.0L787.4 1482.8L783.9 1480.3L780.5 1477.4L779.3 1476.4L777.0 1470.9L774.5 1466.3L773.6 1464.8L770.1 1460.2L766.7 1456.9L765.0 1456.2L763.2 1455.5L759.8 1455.5L756.3 1455.5L752.9 1455.5L749.4 1455.5L746.0 1455.5L742.5 1455.5L739.1 1455.5L735.7 1454.4L732.2 1451.1L728.8 1446.8L728.3 1446.1L725.3 1440.5L723.5 1435.9L721.9 1431.6L719.1 1425.8L718.4 1424.7L715.0 1419.9L711.5 1416.5L710.1 1415.7L708.1 1414.7L704.6 1414.7L701.2 1414.7L697.7 1414.7L694.3 1414.7L690.8 1414.7L687.4 1414.7L683.9 1414.7L680.5 1413.9L677.0 1410.8L673.6 1406.6L672.9 1405.6L670.2 1400.6L668.0 1395.5L666.7 1393.5L663.3 1388.2L661.5 1385.4L659.8 1382.9L656.4 1377.8L653.6 1375.3L652.9 1374.6L652.1 1375.3L649.5 1377.7L646.0 1381.8L643.8 1385.4L642.6 1387.7L639.4 1395.5L639.1 1396.3L635.7 1403.7L634.5 1405.6L632.2 1408.8L628.8 1412.4L625.3 1414.7L621.9 1414.7L618.4 1414.7L615.0 1414.7L611.6 1414.7L608.1 1414.7L604.7 1414.7L601.2 1414.7L597.8 1414.4L594.3 1411.4L590.9 1407.5L589.6 1405.6L587.4 1401.9L584.7 1395.5L584.0 1393.5L580.5 1385.7L580.4 1385.4L577.1 1380.4L573.6 1376.7L572.0 1375.3L570.2 1374.0L566.7 1374.0L563.3 1374.0L559.8 1374.0L556.4 1374.0L553.0 1374.0L549.5 1374.0L546.1 1374.0L542.6 1374.0L542.6 1375.3L542.6 1385.4L542.6 1395.5L542.6 1405.6L542.6 1415.7L542.6 1425.8L542.6 1435.9L542.6 1446.1L542.6 1455.5L546.1 1455.5L549.5 1455.5L553.0 1455.5L556.4 1455.5L559.8 1455.5L563.3 1455.5L566.7 1455.5L570.2 1455.5L573.6 1455.5L577.1 1455.5L580.5 1455.5L584.0 1455.5L587.4 1455.5L590.9 1455.5L594.3 1455.5L597.8 1455.5L598.8 1456.2L601.2 1458.0L604.7 1461.7L607.8 1466.3L608.1 1466.9L611.6 1475.4L611.9 1476.4L611.6 1477.3L608.1 1484.8L607.1 1486.5L604.7 1490.0L601.2 1493.7L597.8 1496.2L594.3 1496.2L590.9 1496.2L587.4 1496.2L584.0 1496.2L580.5 1496.2L577.1 1496.2L573.6 1496.2L570.2 1496.2L566.7 1496.2L563.3 1496.2L559.8 1496.2L556.4 1496.2L553.0 1496.2L549.5 1496.2L546.1 1496.2L542.6 1496.2L542.6 1496.6L542.6 1506.7L542.6 1516.8L542.6 1527.0L542.6 1536.9ZM870.1 1327.8L873.5 1331.3L877.0 1333.2L880.4 1333.2L883.9 1333.2L887.3 1333.2L890.8 1333.2L894.2 1333.2L897.7 1333.2L901.1 1333.2L904.6 1333.2L908.0 1333.2L911.5 1333.2L914.9 1333.2L918.3 1333.2L921.8 1333.2L925.2 1333.2L928.7 1333.2L932.1 1332.8L935.6 1329.8L939.0 1325.7L939.7 1324.7L942.5 1320.0L944.8 1314.6L945.9 1311.5L949.0 1304.5L949.4 1303.8L952.8 1298.7L956.3 1295.0L957.1 1294.4L959.7 1292.5L963.2 1292.5L966.6 1292.5L970.1 1292.5L973.5 1292.5L977.0 1292.5L980.4 1292.5L983.8 1292.5L987.3 1292.5L990.7 1292.5L994.2 1292.5L997.6 1292.5L1001.1 1292.5L1004.5 1292.5L1008.0 1292.5L1011.4 1292.5L1014.9 1292.5L1014.9 1284.3L1014.9 1274.1L1014.9 1264.0L1014.9 1253.9L1014.9 1243.8L1014.9 1233.7L1014.9 1223.6L1014.9 1213.5L1014.9 1203.4L1014.9 1193.2L1014.9 1183.1L1014.9 1173.0L1014.9 1170.3L1011.4 1170.3L1008.0 1170.3L1004.5 1170.3L1001.1 1170.3L997.6 1170.3L994.2 1170.3L990.7 1170.3L987.3 1170.3L983.8 1170.3L980.4 1170.3L977.0 1170.3L973.5 1170.3L970.1 1170.3L966.6 1170.3L963.2 1170.3L959.7 1170.3L956.3 1172.3L955.0 1173.0L952.8 1174.1L949.4 1175.6L945.9 1176.9L942.5 1178.0L939.0 1178.9L935.6 1179.7L932.1 1180.4L928.7 1180.5L925.2 1180.5L921.8 1180.5L918.3 1180.5L914.9 1180.5L911.5 1180.5L908.0 1180.5L904.6 1180.5L901.1 1182.0L899.3 1183.1L897.7 1184.5L894.2 1187.7L890.8 1191.2L888.9 1193.2L887.3 1196.9L883.9 1202.9L883.6 1203.4L880.4 1207.1L877.0 1210.2L873.5 1211.0L870.1 1211.0L866.6 1211.0L863.2 1211.0L859.7 1211.0L856.3 1211.0L852.9 1211.0L849.4 1211.0L846.0 1211.0L842.5 1211.0L839.1 1211.0L835.6 1211.0L832.2 1211.0L828.7 1211.0L825.3 1211.0L821.8 1211.0L818.4 1209.6L814.9 1207.7L811.5 1206.1L808.0 1204.7L804.6 1203.6L803.7 1203.4L801.1 1202.7L797.7 1201.9L794.3 1201.1L790.8 1199.8L787.4 1197.6L783.9 1195.1L781.6 1193.2L780.5 1192.2L777.0 1189.2L773.6 1186.3L770.1 1183.7L769.3 1183.1L766.7 1181.5L763.2 1179.3L759.8 1176.7L756.3 1174.2L754.7 1173.0L752.9 1171.7L749.4 1169.2L746.0 1166.6L742.5 1164.1L740.9 1162.9L739.1 1161.6L735.7 1160.1L732.2 1160.1L728.8 1160.1L725.3 1160.1L721.9 1160.1L718.4 1160.1L715.0 1160.1L711.5 1160.1L708.1 1159.4L704.6 1157.3L701.2 1154.9L698.6 1152.8L697.7 1151.8L694.3 1147.6L690.8 1143.2L690.5 1142.7L687.4 1138.2L683.9 1133.1L683.4 1132.6L680.5 1129.5L677.0 1129.5L673.6 1129.5L670.2 1129.5L666.7 1129.5L663.3 1129.5L659.8 1129.5L656.4 1129.5L652.9 1128.4L649.5 1123.3L648.9 1122.5L646.0 1118.2L642.6 1113.2L642.0 1112.3L639.1 1106.1L637.0 1102.2L635.7 1099.8L632.2 1094.8L629.8 1092.1L628.8 1091.1L625.3 1087.9L621.9 1082.9L621.3 1082.0L618.4 1077.8L615.0 1072.7L614.4 1071.9L611.6 1067.7L608.1 1062.6L607.5 1061.8L604.7 1057.6L601.2 1052.5L600.6 1051.7L597.8 1047.5L594.3 1042.4L593.7 1041.6L590.9 1037.4L587.4 1032.3L586.8 1031.4L584.0 1028.9L580.5 1026.3L577.1 1024.1L573.6 1022.3L571.8 1021.3L570.2 1020.8L566.7 1018.7L563.3 1016.5L559.8 1014.0L556.4 1011.3L556.3 1011.2L553.0 1008.3L549.5 1005.0L546.1 1001.3L545.9 1001.1L542.6 997.1L542.6 1001.1L542.6 1011.2L542.6 1017.5L546.1 1020.5L547.1 1021.3L549.5 1024.0L553.0 1027.4L556.4 1030.3L557.9 1031.4L559.8 1035.6L563.3 1041.1L563.7 1041.6L566.7 1045.0L570.2 1047.9L572.8 1051.7L573.6 1052.8L577.1 1057.9L579.7 1061.8L580.5 1062.9L584.0 1068.0L586.6 1071.9L587.4 1073.0L590.9 1078.1L593.5 1082.0L594.3 1083.2L597.8 1088.2L600.4 1092.1L601.2 1093.3L604.7 1098.3L607.3 1102.2L608.1 1103.4L611.6 1108.4L614.2 1112.3L615.0 1113.5L618.4 1118.5L621.1 1122.5L621.9 1123.6L625.3 1128.6L628.0 1132.6L628.8 1133.7L632.2 1138.8L634.9 1142.7L635.7 1143.7L639.1 1148.1L642.6 1152.3L643.0 1152.8L646.0 1155.2L649.5 1157.6L652.9 1159.6L656.4 1160.6L659.8 1161.3L663.3 1162.2L665.8 1162.9L666.7 1163.2L670.2 1164.4L673.6 1165.8L677.0 1167.5L680.5 1169.6L683.9 1171.9L685.8 1173.0L687.4 1173.8L690.8 1175.4L694.3 1176.7L697.7 1177.8L701.2 1178.7L704.6 1179.5L708.1 1180.2L711.5 1180.5L715.0 1180.5L718.4 1180.5L721.9 1180.5L725.3 1180.5L728.8 1180.5L732.2 1180.5L735.7 1180.5L739.1 1182.0L740.7 1183.1L742.5 1184.9L746.0 1188.1L749.4 1191.1L751.9 1193.2L752.9 1195.6L756.3 1202.0L757.3 1203.4L759.8 1206.5L763.2 1209.8L766.7 1212.3L768.7 1213.5L770.1 1214.3L773.6 1215.9L777.0 1217.2L780.5 1218.3L783.9 1219.3L787.4 1220.1L790.8 1220.9L794.3 1222.1L796.7 1223.6L797.7 1224.3L801.1 1227.1L804.6 1230.1L808.0 1233.6L808.1 1233.7L811.5 1238.7L814.9 1243.7L815.0 1243.8L818.4 1248.8L821.8 1251.8L825.3 1251.8L828.7 1251.8L832.2 1251.8L835.6 1251.8L839.1 1251.8L842.5 1251.8L846.0 1251.8L849.4 1252.7L850.9 1253.9L852.9 1255.9L856.3 1260.2L858.6 1264.0L859.7 1266.8L862.1 1274.1L862.1 1284.3L862.1 1294.4L862.1 1304.5L862.7 1314.6L863.2 1315.9L866.6 1322.9L867.8 1324.7ZM870.1 961.1L873.5 964.6L877.0 965.8L880.4 962.7L882.2 960.7L883.9 958.5L887.3 952.5L888.2 950.5L890.8 943.9L892.2 940.4L894.2 936.5L897.7 931.6L898.7 930.3L901.1 928.0L904.6 925.8L908.0 925.8L911.5 925.8L914.9 925.8L918.3 925.8L921.8 925.8L925.2 925.8L928.7 925.8L932.1 925.4L935.6 922.4L937.5 920.2L939.0 918.3L942.5 912.6L943.6 910.1L943.3 900.0L942.5 898.4L939.0 892.6L936.8 889.9L935.6 888.6L932.1 885.6L928.7 882.8L925.8 879.8L925.2 879.1L921.8 874.1L919.5 869.6L918.3 866.6L915.6 859.5L914.9 858.0L911.5 852.2L909.3 849.4L908.0 848.1L904.6 845.0L901.1 848.2L900.3 849.4L897.7 853.3L894.2 858.3L893.4 859.5L890.8 864.7L888.0 869.6L887.3 871.0L883.9 877.0L881.7 879.8L880.4 881.2L877.0 884.3L873.5 883.2L870.2 879.8L870.1 879.6L866.6 874.8L864.0 869.6L863.2 868.6L859.7 864.3L856.3 859.9L856.0 859.5L852.9 857.4L849.4 855.2L846.0 855.8L842.5 858.0L840.4 859.5L839.1 861.2L835.6 865.6L832.4 869.6L832.2 870.2L828.7 876.4L826.2 879.8L825.3 880.8L821.8 884.0L818.4 886.7L815.1 889.9L814.9 890.1L811.5 894.7L808.7 900.0L808.3 910.1L811.5 916.2L814.4 920.2L814.9 920.8L818.4 924.2L821.8 925.8L825.3 925.8L828.7 925.8L832.2 925.8L835.6 925.8L839.1 925.8L842.5 925.8L846.0 925.8L849.4 926.8L852.9 930.0L853.2 930.3L856.3 934.2L859.7 940.4L859.8 940.4L863.2 949.1L863.7 950.5L866.6 956.3L869.7 960.7ZM983.8 963.9L987.3 966.4L990.7 963.5L993.3 960.7L994.2 959.6L997.6 954.1L999.3 950.5L998.7 940.4L997.6 938.3L994.2 932.8L992.1 930.3L990.7 928.9L987.3 926.0L983.8 928.5L982.1 930.3L980.4 932.3L977.0 937.6L975.5 940.4L974.9 950.5L977.0 954.9L980.4 960.1L980.8 960.7ZM983.8 882.4L987.3 885.1L990.7 885.1L994.2 885.1L997.6 885.1L1001.1 885.1L1004.5 885.1L1008.0 885.1L1011.4 885.1L1014.9 885.1L1014.9 879.8L1014.9 869.6L1014.9 859.5L1014.9 849.4L1014.9 844.4L1011.4 844.4L1008.0 844.4L1004.5 844.4L1001.1 844.4L997.6 844.4L994.2 844.4L990.7 844.4L987.3 844.4L983.8 847.1L981.6 849.4L980.4 850.8L977.0 856.1L975.2 859.5L975.1 869.6L977.0 873.4L980.4 878.6L981.3 879.8ZM566.7 841.3L570.2 844.2L573.6 841.7L575.9 839.3L577.1 837.9L580.5 832.7L582.2 829.2L582.4 819.1L580.5 815.3L577.1 810.1L576.2 809.0L573.6 806.3L570.2 803.6L566.7 803.6L563.3 803.6L559.8 803.6L556.5 798.9L556.5 788.7L556.4 788.5L553.3 778.6L553.0 778.1L549.5 773.0L546.5 768.5L546.1 767.9L542.6 762.9L542.6 768.5L542.6 778.6L542.6 788.7L542.6 798.9L542.6 803.6L546.1 803.6L549.5 803.6L553.0 803.6L556.4 803.6L556.5 809.0L556.5 819.1L558.5 829.2L559.8 831.9L563.3 837.4L564.9 839.3ZM1011.4 800.7L1014.9 803.6L1014.9 798.9L1014.9 788.7L1014.9 778.6L1014.9 768.5L1014.9 758.4L1014.9 748.3L1014.9 738.2L1014.9 728.1L1014.9 722.2L1011.4 725.0L1008.6 728.1L1008.0 728.9L1004.5 734.2L1002.6 738.2L1001.1 747.6L1001.0 748.3L1001.0 758.4L1001.0 768.5L1001.0 778.6L1001.1 779.2L1003.1 788.7L1004.5 791.5L1008.0 796.9L1009.6 798.9ZM543.8 677.5L546.1 668.0L546.2 667.4L547.1 657.3L546.8 647.2L546.5 637.1L546.2 626.9L546.1 624.4L545.6 616.8L543.9 606.7L542.6 599.9L542.6 606.7L542.6 616.8L542.6 626.9L542.6 637.1L542.6 647.2L542.6 657.3L542.6 667.4L542.6 677.5L542.6 681.4ZM901.1 679.3L904.6 680.8L908.0 677.7L908.2 677.5L911.5 673.6L914.9 667.7L915.1 667.4L917.6 657.3L917.6 647.2L917.6 637.1L917.6 626.9L917.6 616.8L917.6 606.7L917.6 596.6L917.6 586.5L917.6 576.4L917.6 566.3L917.6 556.2L917.6 546.0L918.3 539.1L918.7 535.9L921.8 529.4L924.2 525.8L925.2 524.4L928.7 520.8L932.1 518.9L935.6 521.9L938.9 525.8L939.0 526.0L942.5 531.7L944.4 535.9L945.4 546.0L945.4 556.2L945.4 566.3L945.4 576.4L945.9 578.5L948.3 586.5L949.4 588.6L952.8 593.7L955.4 596.6L956.3 597.4L959.7 600.2L963.2 603.2L966.3 606.7L966.6 607.2L970.1 612.8L971.9 616.8L973.5 621.1L975.9 626.9L977.0 629.0L980.4 634.2L982.9 637.1L983.8 638.0L987.3 640.8L990.7 643.8L993.8 647.2L994.2 647.7L997.6 653.1L999.6 657.3L1001.1 661.3L1003.5 667.4L1004.5 669.3L1008.0 674.7L1010.4 677.5L1011.4 678.5L1014.9 681.4L1014.9 677.5L1014.9 667.4L1014.9 657.3L1014.9 647.2L1014.9 637.1L1014.9 626.9L1014.9 616.8L1014.9 606.7L1014.9 599.9L1011.4 597.0L1011.0 596.6L1008.0 593.2L1004.5 587.9L1003.8 586.5L1001.1 576.8L1001.0 576.4L1001.0 566.3L1001.0 556.2L1001.0 546.0L1001.1 545.0L1002.0 535.9L1004.5 530.5L1007.5 525.8L1008.0 525.2L1011.4 521.3L1014.9 518.5L1014.9 515.7L1014.9 505.6L1014.9 495.5L1014.9 485.4L1014.9 475.3L1014.9 465.1L1014.9 455.0L1014.9 444.9L1014.9 434.8L1014.9 424.7L1014.9 414.6L1014.9 404.5L1014.9 394.4L1014.9 384.2L1014.9 374.1L1014.9 364.0L1014.9 353.9L1014.9 345.3L1011.4 345.3L1008.0 345.3L1007.1 343.8L1004.5 337.3L1003.7 333.7L1001.1 330.1L997.6 330.0L994.2 330.0L990.7 330.0L987.3 330.0L983.8 328.5L980.4 325.3L979.3 323.6L977.0 317.6L976.0 313.5L973.5 310.0L970.5 313.5L970.1 315.2L967.1 323.6L966.6 324.4L963.2 324.9L959.7 324.9L956.3 332.9L956.1 333.7L955.8 343.8L955.8 353.9L955.8 364.0L955.8 374.1L953.4 384.2L952.8 385.3L949.4 386.1L945.9 386.1L942.5 386.1L939.0 386.1L935.6 386.1L932.1 386.1L928.7 386.1L925.2 386.1L921.8 386.1L918.3 386.1L914.9 386.1L911.5 386.1L908.0 386.1L904.6 386.1L901.1 392.3L900.6 394.4L897.9 404.5L897.7 405.0L894.2 412.5L893.7 414.6L894.2 418.1L896.1 424.7L897.7 426.8L901.1 426.8L904.6 426.8L908.0 426.8L911.5 426.8L914.9 426.8L918.3 426.8L921.8 426.8L925.2 427.9L927.6 434.8L925.8 444.9L925.2 446.1L921.8 447.2L918.3 447.2L914.9 447.2L911.5 447.2L908.0 447.2L904.6 447.2L901.1 448.2L897.7 450.0L894.2 452.5L891.6 455.0L890.8 459.7L889.9 465.1L889.9 475.3L889.9 485.4L889.9 495.5L889.9 505.6L889.9 515.7L889.9 525.8L889.9 535.9L889.9 546.0L889.9 556.2L889.9 566.3L889.9 576.4L889.9 586.5L889.9 596.6L889.9 606.7L889.9 616.8L889.9 626.9L889.9 637.1L889.9 647.2L889.9 657.3L890.8 661.3L892.4 667.4L894.2 670.8L897.7 675.7L899.3 677.5ZM972.4 424.7L970.1 416.8L969.7 414.6L969.7 404.5L970.1 399.7L970.6 394.4L973.5 391.0L977.0 389.3L980.4 386.4L983.3 394.4L981.3 404.5L980.4 406.0L977.1 414.6L977.0 415.2L974.4 424.7L973.5 426.3ZM969.7 374.1L969.7 364.0L970.0 353.9L970.1 353.7L973.5 345.8L976.4 353.9L976.7 364.0L976.7 374.1L973.5 379.9L970.1 375.2ZM856.3 426.8L859.7 426.8L863.2 424.8L863.3 424.7L865.6 414.6L865.6 404.5L865.6 394.4L865.6 384.2L864.6 374.1L863.2 372.1L859.7 370.8L856.3 370.8L852.9 369.8L849.4 367.2L846.0 370.5L845.0 374.1L844.7 384.2L844.7 394.4L846.0 401.0L847.2 404.5L849.4 408.6L851.3 414.6L852.9 419.4L855.2 424.7Z" fill="#FFFF00" fill-rule="evenodd" stroke="#FFFF00" stroke-width="0.6"/>
<path d="M546.1 1557.3L549.5 1557.3L553.0 1557.3L556.4 1557.3L556.5 1557.3L559.8 1554.3L563.3 1551.6L566.7 1549.3L570.2 1547.2L571.4 1547.2L573.6 1547.1L577.1 1547.1L580.5 1547.1L584.0 1547.1L587.4 1547.1L590.9 1547.1L594.3 1547.1L597.8 1547.1L601.2 1547.1L604.7 1547.1L608.1 1547.1L611.6 1547.1L615.0 1547.1L618.4 1547.1L621.9 1547.1L625.3 1547.1L628.8 1546.0L632.2 1544.1L635.7 1541.6L639.1 1537.9L639.7 1537.1L642.6 1531.9L644.4 1527.0L646.0 1520.6L646.7 1516.8L649.5 1507.3L649.6 1506.7L652.9 1498.0L656.4 1500.1L659.8 1505.1L660.9 1506.7L663.3 1510.3L666.7 1515.5L667.6 1516.8L667.6 1527.0L667.6 1537.1L667.6 1547.2L667.6 1557.3L670.2 1557.3L673.6 1557.3L677.0 1557.3L680.5 1557.3L683.9 1557.3L687.4 1557.3L690.8 1557.3L694.3 1557.3L697.7 1557.3L701.2 1557.3L704.6 1557.3L708.1 1557.3L711.5 1557.3L715.0 1557.3L718.4 1557.3L721.9 1557.3L723.2 1557.3L725.3 1551.9L727.8 1547.2L728.8 1545.6L732.2 1541.3L735.7 1538.0L739.1 1538.5L742.5 1541.9L746.0 1546.6L746.4 1547.2L749.4 1553.3L751.0 1557.3L752.9 1557.3L756.3 1557.3L759.8 1557.3L763.2 1557.3L766.7 1557.3L770.1 1557.3L773.6 1557.3L777.0 1557.3L778.7 1557.3L780.5 1552.8L783.3 1547.2L783.9 1546.2L787.4 1541.7L790.8 1538.4L793.9 1537.1L794.3 1536.9L797.7 1536.9L801.1 1536.9L804.6 1536.9L808.0 1536.9L811.5 1536.9L814.9 1536.9L818.4 1536.9L821.8 1535.8L825.3 1532.6L828.7 1528.2L829.5 1527.0L832.2 1522.0L834.2 1516.8L835.6 1515.8L839.1 1513.2L842.5 1510.6L846.0 1508.0L849.4 1507.1L852.9 1509.2L856.3 1511.7L859.7 1514.6L862.2 1516.8L863.2 1519.6L866.6 1526.6L866.8 1527.0L870.1 1531.5L873.5 1535.0L877.0 1536.9L880.4 1536.9L883.9 1536.9L887.3 1536.9L890.8 1536.9L894.2 1536.9L897.7 1536.9L901.1 1536.9L904.6 1536.9L908.0 1536.9L911.5 1536.9L914.9 1536.9L918.3 1536.9L921.8 1536.9L925.2 1536.9L928.7 1536.9L932.1 1536.9L935.6 1536.9L939.0 1536.9L942.5 1536.9L945.9 1536.9L949.4 1536.9L952.8 1536.9L956.3 1536.9L959.7 1536.9L963.2 1536.9L966.6 1536.9L970.1 1536.9L973.5 1536.9L977.0 1536.9L980.4 1536.9L983.8 1536.9L987.3 1536.9L990.7 1536.9L994.2 1536.9L997.6 1536.9L1001.1 1536.9L1004.5 1536.9L1008.0 1536.9L1011.4 1536.9L1014.9 1536.9L1014.9 1527.0L1014.9 1516.8L1014.9 1506.7L1014.9 1496.6L1014.9 1496.2L1011.4 1496.2L1008.0 1496.2L1004.5 1496.2L1001.1 1496.2L997.6 1496.2L994.2 1496.2L990.7 1496.2L987.3 1496.2L983.8 1496.2L980.4 1496.2L977.0 1496.2L973.5 1496.2L970.1 1496.2L966.6 1496.2L963.2 1496.2L959.7 1496.2L956.3 1496.2L952.8 1496.2L949.4 1496.2L945.9 1496.2L942.5 1496.2L939.0 1496.2L935.6 1496.2L932.1 1496.2L928.7 1496.2L925.2 1496.2L921.8 1496.2L918.3 1496.2L914.9 1496.2L911.5 1496.2L908.0 1496.2L904.6 1496.2L901.1 1496.2L897.7 1496.2L894.2 1496.2L890.8 1496.2L887.3 1496.2L883.9 1496.2L880.4 1496.2L877.0 1496.2L873.5 1494.6L870.1 1492.6L866.6 1491.1L863.2 1489.8L859.7 1488.7L856.3 1487.7L852.9 1486.9L850.8 1486.5L849.4 1486.2L848.7 1486.5L846.0 1487.6L842.5 1490.2L839.1 1492.7L835.6 1495.2L833.7 1496.6L832.2 1497.8L828.7 1500.3L825.3 1502.8L821.8 1505.3L818.4 1506.4L814.9 1506.4L811.5 1506.4L808.0 1506.4L804.6 1506.4L801.1 1506.4L797.7 1506.4L794.3 1506.4L790.8 1506.0L787.4 1505.3L783.9 1504.5L780.5 1503.5L777.0 1502.4L773.6 1501.1L770.1 1499.4L766.7 1497.4L764.4 1496.6L763.2 1496.2L759.8 1496.2L756.3 1496.2L752.9 1496.2L749.4 1496.2L746.0 1496.2L742.5 1496.2L739.1 1496.2L735.7 1496.2L732.2 1496.2L728.8 1496.2L725.3 1496.2L721.9 1496.2L718.4 1496.2L715.0 1496.2L711.5 1496.2L708.1 1496.2L704.6 1496.2L701.2 1496.2L697.7 1496.2L694.3 1496.2L690.8 1496.2L687.4 1496.2L683.9 1496.2L680.5 1494.7L677.0 1489.6L674.9 1486.5L673.6 1484.6L670.2 1479.5L668.0 1476.4L666.7 1473.0L663.4 1466.3L663.3 1466.1L659.8 1461.2L656.4 1457.6L653.2 1456.2L652.9 1456.1L652.8 1456.2L649.5 1459.1L646.0 1463.3L644.1 1466.3L642.6 1469.1L639.6 1476.4L639.1 1478.0L637.0 1486.5L635.7 1493.2L635.1 1496.6L633.8 1506.7L632.7 1516.8L632.2 1517.8L628.8 1523.3L625.3 1526.7L621.9 1526.7L618.4 1526.7L615.0 1526.7L611.6 1526.7L608.1 1526.7L604.7 1526.7L601.2 1526.7L597.8 1526.7L594.3 1526.7L590.9 1526.7L587.4 1526.7L584.0 1526.7L580.5 1526.7L577.1 1526.7L573.6 1526.7L570.2 1526.8L569.2 1527.0L566.7 1527.5L563.3 1528.2L559.8 1529.1L556.4 1530.2L553.0 1531.4L549.5 1532.9L546.1 1534.7L542.6 1536.9L542.6 1537.1L542.6 1547.2L542.6 1557.3ZM804.6 1203.6L808.0 1204.7L811.5 1206.1L814.9 1207.7L818.4 1209.6L821.8 1211.0L825.3 1211.0L828.7 1211.0L832.2 1211.0L835.6 1211.0L839.1 1211.0L842.5 1211.0L846.0 1211.0L849.4 1211.0L852.9 1211.0L856.3 1211.0L859.7 1211.0L863.2 1211.0L866.6 1211.0L870.1 1211.0L873.5 1211.0L877.0 1210.2L880.4 1207.1L883.6 1203.4L883.9 1202.9L887.3 1196.9L888.9 1193.2L890.8 1191.2L894.2 1187.7L897.7 1184.5L899.3 1183.1L901.1 1182.0L904.6 1180.5L908.0 1180.5L911.5 1180.5L914.9 1180.5L918.3 1180.5L921.8 1180.5L925.2 1180.5L928.7 1180.5L932.1 1180.4L935.6 1179.7L939.0 1178.9L942.5 1178.0L945.9 1176.9L949.4 1175.6L952.8 1174.1L955.0 1173.0L956.3 1172.3L959.7 1170.3L963.2 1170.3L966.6 1170.3L970.1 1170.3L973.5 1170.3L977.0 1170.3L980.4 1170.3L983.8 1170.3L987.3 1170.3L990.7 1170.3L994.2 1170.3L997.6 1170.3L1001.1 1170.3L1004.5 1170.3L1008.0 1170.3L1011.4 1170.3L1014.9 1170.3L1014.9 1162.9L1014.9 1152.8L1014.9 1142.7L1014.9 1132.6L1014.9 1122.5L1014.9 1112.3L1014.9 1102.2L1014.9 1092.1L1014.9 1082.0L1014.9 1071.9L1014.9 1061.8L1014.9 1051.7L1014.9 1041.6L1014.9 1031.4L1014.9 1021.3L1014.9 1011.2L1014.9 1001.1L1014.9 991.0L1014.9 980.9L1014.9 970.8L1014.9 960.7L1014.9 950.5L1014.9 940.4L1014.9 930.3L1014.9 920.2L1014.9 910.1L1014.9 900.0L1014.9 889.9L1014.9 885.1L1011.4 885.1L1008.0 885.1L1004.5 885.1L1001.1 885.1L997.6 885.1L994.2 885.1L990.7 885.1L987.3 885.1L983.8 882.4L981.3 879.8L980.4 878.6L977.0 873.4L975.1 869.6L975.2 859.5L977.0 856.1L980.4 850.8L981.6 849.4L983.8 847.1L987.3 844.4L990.7 844.4L994.2 844.4L997.6 844.4L1001.1 844.4L1004.5 844.4L1008.0 844.4L1011.4 844.4L1014.9 844.4L1014.9 839.3L1014.9 829.2L1014.9 819.1L1014.9 809.0L1014.9 803.6L1011.4 800.7L1009.6 798.9L1008.0 796.9L1004.5 791.5L1003.1 788.7L1001.1 779.2L1001.0 778.6L1001.0 768.5L1001.0 758.4L1001.0 748.3L1001.1 747.6L1002.6 738.2L1004.5 734.2L1008.0 728.9L1008.6 728.1L1011.4 725.0L1014.9 722.2L1014.9 718.0L1014.9 707.8L1014.9 697.7L1014.9 687.6L1014.9 681.4L1011.4 678.5L1010.4 677.5L1008.0 674.7L1004.5 669.3L1003.5 667.4L1001.1 661.3L999.6 657.3L997.6 653.1L994.2 647.7L993.8 647.2L990.7 643.8L987.3 640.8L983.8 638.0L982.9 637.1L980.4 634.2L977.0 629.0L975.9 626.9L973.5 621.1L971.9 616.8L970.1 612.8L966.6 607.2L966.3 606.7L963.2 603.2L959.7 600.2L956.3 597.4L955.4 596.6L952.8 593.7L949.4 588.6L948.3 586.5L945.9 578.5L945.4 576.4L945.4 566.3L945.4 556.2L945.4 546.0L944.4 535.9L942.5 531.7L939.0 526.0L938.9 525.8L935.6 521.9L932.1 518.9L928.7 520.8L925.2 524.4L924.2 525.8L921.8 529.4L918.7 535.9L918.3 539.1L917.6 546.0L917.6 556.2L917.6 566.3L917.6 576.4L917.6 586.5L917.6 596.6L917.6 606.7L917.6 616.8L917.6 626.9L917.6 637.1L917.6 647.2L917.6 657.3L915.1 667.4L914.9 667.7L911.5 673.6L908.2 677.5L908.0 677.7L904.6 680.8L901.1 679.3L899.3 677.5L897.7 675.7L894.2 670.8L892.4 667.4L890.8 661.3L889.9 657.3L889.9 647.2L889.9 637.1L889.9 626.9L889.9 616.8L889.9 606.7L889.9 596.6L889.9 586.5L889.9 576.4L889.9 566.3L889.9 556.2L889.9 546.0L889.9 535.9L889.9 525.8L889.9 515.7L889.9 505.6L889.9 495.5L889.9 485.4L889.9 475.3L889.9 465.1L890.8 459.7L891.6 455.0L894.2 452.5L897.7 450.0L901.1 448.2L904.6 447.2L908.0 447.2L911.5 447.2L914.9 447.2L918.3 447.2L921.8 447.2L925.2 446.1L925.8 444.9L927.6 434.8L925.2 427.9L921.8 426.8L918.3 426.8L914.9 426.8L911.5 426.8L908.0 426.8L904.6 426.8L901.1 426.8L897.7 426.8L896.1 424.7L894.2 418.1L893.7 414.6L894.2 412.5L897.7 405.0L897.9 404.5L900.6 394.4L901.1 392.3L904.6 386.1L908.0 386.1L911.5 386.1L914.9 386.1L918.3 386.1L921.8 386.1L925.2 386.1L928.7 386.1L932.1 386.1L935.6 386.1L939.0 386.1L942.5 386.1L945.9 386.1L949.4 386.1L952.8 385.3L953.4 384.2L955.8 374.1L955.8 364.0L955.8 353.9L955.8 343.8L956.1 333.7L956.3 332.9L959.7 324.9L963.2 324.9L966.6 324.4L967.1 323.6L970.1 315.2L970.5 313.5L973.5 310.0L976.0 313.5L977.0 317.6L979.3 323.6L980.4 325.3L983.8 328.5L987.3 330.0L990.7 330.0L994.2 330.0L997.6 330.0L1001.1 330.1L1003.7 333.7L1004.5 337.3L1007.1 343.8L1008.0 345.3L1011.4 345.3L1014.9 345.3L1014.9 343.8L1014.9 333.7L1014.9 324.9L1011.4 324.9L1008.0 324.9L1006.9 323.6L1004.5 321.5L1001.1 319.6L997.6 319.6L994.2 319.6L990.7 319.5L987.3 319.3L983.8 314.4L983.4 313.5L980.4 305.0L979.2 303.3L977.0 301.2L973.5 299.1L970.1 300.7L967.2 303.3L966.6 304.1L963.2 304.6L959.7 304.6L956.3 304.6L952.8 304.6L949.4 312.3L949.1 313.5L946.2 323.6L945.9 324.1L945.5 323.6L942.5 317.3L941.7 313.5L939.0 305.5L935.6 304.6L932.1 304.6L928.7 304.6L925.2 304.6L921.8 304.6L918.3 304.6L914.9 304.6L911.5 304.6L908.0 304.6L904.6 304.6L901.1 304.6L900.3 313.5L901.1 316.0L903.9 323.6L904.6 324.9L908.0 324.9L911.5 324.9L914.9 324.9L918.3 326.1L920.8 333.7L921.8 338.2L924.1 343.8L925.2 345.3L928.7 345.3L932.1 345.3L935.6 345.3L939.0 346.2L941.7 353.9L939.4 364.0L939.0 364.8L935.6 365.7L932.1 365.7L928.7 365.7L925.2 365.7L921.8 365.7L918.3 365.7L914.9 365.7L911.5 365.7L908.0 365.7L904.6 365.7L901.1 365.7L897.7 365.7L894.2 365.7L890.8 365.7L887.3 365.7L883.9 365.7L880.4 365.7L877.0 365.7L873.5 365.7L870.1 365.7L868.1 364.0L866.6 363.0L863.2 360.5L859.7 360.0L856.3 360.0L852.9 356.7L851.4 353.9L849.4 347.5L846.0 345.3L842.5 345.3L839.1 345.3L835.6 345.3L833.1 353.9L832.2 363.2L832.1 364.0L831.1 374.1L831.8 384.2L832.2 388.7L832.7 394.4L834.6 404.5L835.6 408.8L837.4 414.6L839.1 421.8L840.6 424.7L842.5 426.8L846.0 426.8L849.4 430.4L850.9 434.8L852.9 444.1L853.2 444.9L856.3 451.4L859.7 454.4L860.3 455.0L862.1 465.1L862.1 475.3L862.1 485.4L862.1 495.5L862.1 505.6L862.1 515.7L862.1 525.8L862.1 535.9L862.1 546.0L862.1 556.2L862.1 566.3L862.1 576.4L862.1 586.5L862.1 596.6L862.1 606.7L862.1 616.8L859.7 625.7L859.4 626.9L856.3 632.3L852.9 636.6L852.4 637.1L849.4 639.7L846.0 643.9L843.8 647.2L842.5 649.0L839.1 654.1L836.9 657.3L835.6 662.2L834.3 667.4L834.3 677.5L834.3 687.6L834.3 697.7L835.6 703.6L836.7 707.8L839.1 712.2L842.5 716.9L843.5 718.0L846.0 720.4L849.4 723.1L852.9 726.3L854.4 728.1L856.3 730.6L859.7 736.7L860.4 738.2L863.2 745.4L864.4 748.3L866.6 752.6L870.1 757.4L871.0 758.4L873.5 760.9L877.0 762.9L880.4 762.9L883.9 762.9L887.3 762.9L890.8 762.9L894.2 762.9L897.7 762.9L901.1 762.9L904.6 763.5L908.0 766.6L909.8 768.5L911.5 770.7L914.9 776.6L915.9 778.6L915.5 788.7L914.9 790.0L911.5 795.8L909.0 798.9L908.0 799.9L904.6 803.0L901.1 805.8L898.0 809.0L897.7 809.3L894.2 814.3L891.8 819.1L890.8 820.7L887.3 827.1L886.3 829.2L883.9 832.8L880.4 837.8L879.4 839.3L877.0 842.9L873.5 842.7L870.1 840.8L866.8 839.3L866.6 839.2L863.2 838.0L859.7 836.9L856.3 835.9L852.9 835.1L849.4 834.4L846.0 834.6L842.5 835.3L839.1 836.2L835.6 837.2L832.2 838.3L829.6 839.3L828.7 839.7L825.3 841.3L821.8 843.4L818.4 842.8L814.9 839.4L814.9 839.3L811.5 834.7L808.6 829.2L808.0 827.9L804.6 819.1L804.6 819.0L801.1 812.6L798.4 809.0L797.7 808.2L794.3 804.9L790.8 805.1L787.4 808.4L786.9 809.0L783.9 812.9L780.6 819.1L780.5 819.9L778.7 829.2L778.7 839.3L778.7 849.4L778.7 859.5L777.0 868.8L776.8 869.6L773.6 875.8L770.6 879.8L770.1 880.3L766.7 883.7L763.2 886.4L759.8 889.7L759.6 889.9L756.3 894.1L753.1 900.0L752.9 906.1L752.7 910.1L752.9 910.4L756.3 916.8L758.8 920.2L759.8 921.3L763.2 924.6L766.7 927.3L769.9 930.3L770.1 930.6L773.6 935.2L776.4 940.4L777.0 941.9L780.4 950.5L780.5 950.7L783.9 957.3L786.4 960.7L787.4 961.8L790.8 965.2L794.3 967.8L797.4 970.8L797.7 971.1L801.1 975.6L804.1 980.9L804.6 982.7L806.5 991.0L806.5 1001.1L806.5 1011.2L806.5 1021.3L807.9 1031.4L808.0 1031.7L811.5 1038.4L813.7 1041.6L814.9 1043.1L818.4 1046.5L821.8 1048.1L825.3 1048.1L828.7 1048.1L832.2 1048.1L835.6 1048.1L839.1 1048.1L842.5 1048.1L846.0 1048.1L849.4 1048.1L852.9 1048.1L856.3 1048.1L859.7 1048.1L863.2 1048.1L866.6 1048.1L870.1 1048.1L873.5 1048.1L877.0 1048.8L880.2 1051.7L880.4 1052.0L883.9 1056.2L887.2 1061.8L887.3 1062.2L890.8 1070.9L891.2 1071.9L894.2 1078.2L896.8 1082.0L897.7 1083.1L901.1 1086.7L904.6 1088.8L908.0 1088.8L911.5 1088.8L914.9 1088.8L918.3 1088.8L921.8 1088.8L925.2 1088.8L928.7 1088.8L932.1 1088.8L935.6 1088.8L939.0 1088.8L942.5 1088.8L945.9 1088.8L949.4 1088.8L952.8 1088.8L956.3 1088.8L959.7 1089.1L963.2 1092.1L963.2 1092.1L966.6 1096.1L970.1 1101.7L970.4 1102.2L972.0 1112.3L970.1 1116.7L966.6 1122.3L966.5 1122.5L963.2 1126.3L959.7 1129.2L956.3 1132.0L955.7 1132.6L952.8 1135.7L949.4 1140.9L948.4 1142.7L945.9 1146.5L942.5 1152.4L942.2 1152.8L939.0 1155.3L935.6 1157.7L932.1 1159.8L928.7 1160.1L925.2 1160.1L921.8 1160.1L918.3 1160.1L914.9 1160.1L911.5 1160.1L908.0 1160.1L904.6 1160.1L901.1 1160.6L897.7 1161.3L894.2 1162.2L891.7 1162.9L890.8 1163.2L887.3 1164.4L883.9 1165.8L880.4 1167.5L877.0 1169.6L873.5 1170.3L870.1 1170.3L866.6 1170.3L863.2 1170.3L859.7 1170.3L856.3 1170.3L852.9 1170.3L849.4 1170.3L846.0 1170.3L842.5 1170.3L839.1 1170.3L835.6 1170.3L832.2 1170.3L828.7 1170.3L825.3 1170.3L821.8 1170.3L818.4 1170.3L814.9 1170.3L811.5 1170.3L808.0 1170.3L804.6 1170.3L801.1 1170.3L797.7 1170.3L794.3 1170.3L790.8 1169.0L787.4 1167.0L783.9 1165.4L780.5 1164.1L777.0 1163.0L776.9 1162.9L773.6 1162.0L770.1 1161.2L766.7 1160.4L763.2 1158.9L759.8 1156.4L756.3 1153.9L754.9 1152.8L752.9 1150.5L749.4 1146.6L746.0 1142.7L746.0 1142.6L742.5 1137.6L739.1 1132.6L739.1 1132.5L735.7 1129.5L732.2 1129.5L728.8 1129.5L725.3 1129.5L721.9 1129.5L718.4 1129.5L715.0 1129.5L711.5 1129.5L708.1 1127.8L704.6 1122.7L704.5 1122.5L701.2 1117.6L697.7 1112.6L697.6 1112.3L694.3 1107.5L690.8 1102.5L690.7 1102.2L687.4 1097.4L683.9 1092.4L683.7 1092.1L680.5 1088.0L677.0 1084.9L674.6 1082.0L673.6 1080.7L670.2 1074.7L668.9 1071.9L666.7 1068.3L663.3 1062.1L663.1 1061.8L659.8 1057.0L656.4 1051.9L656.1 1051.7L652.9 1048.1L649.5 1048.1L646.0 1048.1L642.6 1048.1L639.1 1048.1L635.7 1048.1L632.2 1048.1L628.8 1048.1L625.3 1047.2L621.9 1042.1L621.5 1041.6L618.4 1037.1L615.0 1032.0L614.6 1031.4L611.6 1026.9L608.1 1021.9L607.7 1021.3L604.7 1016.8L601.2 1011.8L600.8 1011.2L597.8 1007.3L594.3 1007.3L590.9 1007.3L587.4 1007.3L584.0 1007.3L580.5 1007.3L577.1 1007.3L573.6 1007.3L570.2 1007.2L566.7 1004.5L563.3 1001.6L562.7 1001.1L559.8 998.5L556.4 995.0L553.0 991.2L552.8 991.0L549.5 983.3L548.3 980.9L546.1 973.3L545.0 970.8L542.6 966.6L542.6 970.8L542.6 980.9L542.6 991.0L542.6 997.1L545.9 1001.1L546.1 1001.3L549.5 1005.0L553.0 1008.3L556.3 1011.2L556.4 1011.3L559.8 1014.0L563.3 1016.5L566.7 1018.7L570.2 1020.8L571.8 1021.3L573.6 1022.3L577.1 1024.1L580.5 1026.3L584.0 1028.9L586.8 1031.4L587.4 1032.3L590.9 1037.4L593.7 1041.6L594.3 1042.4L597.8 1047.5L600.6 1051.7L601.2 1052.5L604.7 1057.6L607.5 1061.8L608.1 1062.6L611.6 1067.7L614.4 1071.9L615.0 1072.7L618.4 1077.8L621.3 1082.0L621.9 1082.9L625.3 1087.9L628.8 1091.1L629.8 1092.1L632.2 1094.8L635.7 1099.8L637.0 1102.2L639.1 1106.1L642.0 1112.3L642.6 1113.2L646.0 1118.2L648.9 1122.5L649.5 1123.3L652.9 1128.4L656.4 1129.5L659.8 1129.5L663.3 1129.5L666.7 1129.5L670.2 1129.5L673.6 1129.5L677.0 1129.5L680.5 1129.5L683.4 1132.6L683.9 1133.1L687.4 1138.2L690.5 1142.7L690.8 1143.2L694.3 1147.6L697.7 1151.8L698.6 1152.8L701.2 1154.9L704.6 1157.3L708.1 1159.4L711.5 1160.1L715.0 1160.1L718.4 1160.1L721.9 1160.1L725.3 1160.1L728.8 1160.1L732.2 1160.1L735.7 1160.1L739.1 1161.6L740.9 1162.9L742.5 1164.1L746.0 1166.6L749.4 1169.2L752.9 1171.7L754.7 1173.0L756.3 1174.2L759.8 1176.7L763.2 1179.3L766.7 1181.5L769.3 1183.1L770.1 1183.7L773.6 1186.3L777.0 1189.2L780.5 1192.2L781.6 1193.2L783.9 1195.1L787.4 1197.6L790.8 1199.8L794.3 1201.1L797.7 1201.9L801.1 1202.7L803.7 1203.4ZM869.7 960.7L866.6 956.3L863.7 950.5L863.2 949.1L859.8 940.4L859.7 940.4L856.3 934.2L853.2 930.3L852.9 930.0L849.4 926.8L846.0 925.8L842.5 925.8L839.1 925.8L835.6 925.8L832.2 925.8L828.7 925.8L825.3 925.8L821.8 925.8L818.4 924.2L814.9 920.8L814.4 920.2L811.5 916.2L808.3 910.1L808.7 900.0L811.5 894.7L814.9 890.1L815.1 889.9L818.4 886.7L821.8 884.0L825.3 880.8L826.2 879.8L828.7 876.4L832.2 870.2L832.4 869.6L835.6 865.6L839.1 861.2L840.4 859.5L842.5 858.0L846.0 855.8L849.4 855.2L852.9 857.4L856.0 859.5L856.3 859.9L859.7 864.3L863.2 868.6L864.0 869.6L866.6 874.8L870.1 879.6L870.2 879.8L873.5 883.2L877.0 884.3L880.4 881.2L881.7 879.8L883.9 877.0L887.3 871.0L888.0 869.6L890.8 864.7L893.4 859.5L894.2 858.3L897.7 853.3L900.3 849.4L901.1 848.2L904.6 845.0L908.0 848.1L909.3 849.4L911.5 852.2L914.9 858.0L915.6 859.5L918.3 866.6L919.5 869.6L921.8 874.1L925.2 879.1L925.8 879.8L928.7 882.8L932.1 885.6L935.6 888.6L936.8 889.9L939.0 892.6L942.5 898.4L943.3 900.0L943.6 910.1L942.5 912.6L939.0 918.3L937.5 920.2L935.6 922.4L932.1 925.4L928.7 925.8L925.2 925.8L921.8 925.8L918.3 925.8L914.9 925.8L911.5 925.8L908.0 925.8L904.6 925.8L901.1 928.0L898.7 930.3L897.7 931.6L894.2 936.5L892.2 940.4L890.8 943.9L888.2 950.5L887.3 952.5L883.9 958.5L882.2 960.7L880.4 962.7L877.0 965.8L873.5 964.6L870.1 961.1ZM980.8 960.7L980.4 960.1L977.0 954.9L974.9 950.5L975.5 940.4L977.0 937.6L980.4 932.3L982.1 930.3L983.8 928.5L987.3 926.0L990.7 928.9L992.1 930.3L994.2 932.8L997.6 938.3L998.7 940.4L999.3 950.5L997.6 954.1L994.2 959.6L993.3 960.7L990.7 963.5L987.3 966.4L983.8 963.9ZM855.2 424.7L852.9 419.4L851.3 414.6L849.4 408.6L847.2 404.5L846.0 401.0L844.7 394.4L844.7 384.2L845.0 374.1L846.0 370.5L849.4 367.2L852.9 369.8L856.3 370.8L859.7 370.8L863.2 372.1L864.6 374.1L865.6 384.2L865.6 394.4L865.6 404.5L865.6 414.6L863.3 424.7L863.2 424.8L859.7 426.8L856.3 426.8ZM546.1 925.8L549.5 925.8L553.0 925.8L556.4 925.8L559.8 925.8L563.3 925.8L566.7 925.8L570.2 925.8L573.6 925.8L577.1 925.8L580.5 925.8L584.0 925.8L587.4 925.8L590.9 925.8L594.3 925.8L597.8 925.8L601.2 925.8L604.7 925.8L608.1 925.8L611.6 925.8L615.0 925.8L618.4 925.8L621.9 925.8L625.3 925.8L628.8 923.5L632.0 920.2L632.2 919.9L635.7 914.9L638.1 910.1L639.1 907.3L642.0 900.0L642.6 898.8L646.0 892.9L648.5 889.9L649.5 888.8L652.9 885.7L656.4 885.1L659.8 885.1L663.3 885.1L666.7 885.1L670.2 885.1L673.6 885.1L677.0 885.1L680.5 885.1L683.9 885.1L687.4 885.1L690.8 885.1L694.3 885.1L697.7 885.1L701.2 885.1L704.6 885.1L708.1 885.1L711.5 883.3L715.0 879.9L715.1 879.8L718.4 875.1L721.3 869.6L721.9 866.8L723.2 859.5L723.2 849.4L723.2 839.3L723.2 829.2L721.9 821.9L721.3 819.1L718.4 813.6L715.1 809.0L715.0 808.9L711.5 805.4L708.1 803.6L704.6 803.6L701.2 803.6L697.7 803.6L695.4 798.9L695.4 788.7L694.3 781.6L694.0 778.6L691.7 768.5L690.8 763.3L690.1 758.4L689.0 748.3L687.4 738.8L687.3 738.2L684.0 728.1L683.9 728.0L680.5 722.2L677.0 722.2L673.6 722.2L670.2 722.2L666.7 722.2L663.3 722.2L659.8 722.2L656.4 722.2L652.9 721.5L649.5 718.5L649.0 718.0L646.0 714.3L642.6 708.5L642.3 707.8L639.1 699.6L638.6 697.7L636.3 687.6L635.7 684.4L634.7 677.5L633.5 667.4L632.2 662.7L630.8 657.3L628.8 654.3L625.3 651.6L621.9 656.5L621.4 657.3L618.4 667.3L618.4 667.4L617.2 677.5L615.6 687.6L615.0 690.8L613.3 697.7L611.6 703.2L609.6 707.8L608.1 710.8L604.7 715.9L602.9 718.0L601.2 719.6L597.8 722.5L594.3 725.4L591.9 728.1L590.9 729.4L587.4 735.0L585.9 738.2L584.0 743.3L582.0 748.3L580.5 751.2L577.1 756.4L575.4 758.4L573.6 760.2L570.2 762.6L567.3 758.4L566.7 757.5L563.3 752.5L560.4 748.3L559.8 746.8L556.5 738.2L556.5 728.1L556.5 718.0L556.5 707.8L556.5 697.7L556.5 687.6L556.5 677.5L556.5 667.4L556.4 665.2L556.1 657.3L555.1 647.2L554.2 637.1L553.5 626.9L553.0 620.6L552.7 616.8L551.4 606.7L550.1 596.6L549.5 592.8L548.5 586.5L546.1 576.7L546.0 576.4L542.6 569.4L542.6 576.4L542.6 586.5L542.6 596.6L542.6 599.9L543.9 606.7L545.6 616.8L546.1 624.4L546.2 626.9L546.5 637.1L546.8 647.2L547.1 657.3L546.2 667.4L546.1 668.0L543.8 677.5L542.6 681.4L542.6 687.6L542.6 697.7L542.6 707.8L542.6 718.0L542.6 728.1L542.6 738.2L542.6 748.3L542.6 758.4L542.6 762.9L546.1 767.9L546.5 768.5L549.5 773.0L553.0 778.1L553.3 778.6L556.4 788.5L556.5 788.7L556.5 798.9L559.8 803.6L563.3 803.6L566.7 803.6L570.2 803.6L573.6 806.3L576.2 809.0L577.1 810.1L580.5 815.3L582.4 819.1L582.2 829.2L580.5 832.7L577.1 837.9L575.9 839.3L573.6 841.7L570.2 844.2L566.7 841.3L564.9 839.3L563.3 837.4L559.8 831.9L558.5 829.2L556.5 819.1L556.5 809.0L556.4 803.6L553.0 803.6L549.5 803.6L546.1 803.6L542.6 803.6L542.6 809.0L542.6 819.1L542.6 829.2L542.6 839.3L542.6 849.4L542.6 859.5L542.6 869.6L542.6 879.8L542.6 889.9L542.6 900.0L542.6 910.1L542.6 920.2L542.6 925.8ZM676.0 839.3L673.6 836.3L670.2 830.3L669.7 829.2L669.5 819.1L670.2 817.7L673.6 811.7L675.7 809.0L677.0 807.5L680.5 804.4L683.9 803.6L687.4 803.6L690.8 803.6L694.3 803.6L695.4 809.0L695.4 819.1L694.3 824.3L693.4 829.2L690.8 834.1L687.4 838.9L687.0 839.3L683.9 842.4L680.5 843.6L677.0 840.5ZM749.4 376.1L752.9 379.2L756.3 379.2L759.8 376.0L760.4 374.1L759.8 373.2L756.3 370.8L752.9 370.8L749.4 373.0L748.7 374.1ZM970.1 375.2L973.5 379.9L976.7 374.1L976.7 364.0L976.4 353.9L973.5 345.8L970.1 353.7L970.0 353.9L969.7 364.0L969.7 374.1ZM835.6 324.9L839.1 324.9L842.5 324.9L846.0 324.9L848.3 323.6L849.4 322.7L851.9 313.5L852.9 309.6L854.6 303.3L856.3 297.8L856.9 293.2L856.9 283.1L856.6 273.0L856.3 272.2L852.9 267.9L849.4 265.4L846.0 263.8L842.5 263.8L839.1 268.5L838.0 273.0L835.6 281.7L834.9 283.1L832.2 288.7L831.0 293.2L831.9 303.3L832.2 307.2L832.7 313.5L835.1 323.6ZM877.0 304.6L880.4 304.6L883.9 304.6L887.3 304.6L890.8 304.6L894.2 304.6L897.7 304.6L900.3 303.3L899.2 293.2L897.7 291.7L894.2 290.5L890.8 289.6L887.3 289.3L883.9 289.3L880.4 289.3L877.0 289.3L875.0 293.2L876.6 303.3Z" fill="#FFAA00" fill-rule="evenodd" stroke="#FFAA00" stroke-width="0.6"/>
<path d="M559.8 1557.3L563.3 1557.3L566.7 1557.3L570.2 1557.3L573.6 1557.3L577.1 1557.3L580.5 1557.3L584.0 1557.3L587.4 1557.3L590.9 1557.3L594.3 1557.3L597.8 1557.3L601.2 1557.3L604.7 1557.3L608.1 1557.3L611.6 1557.3L615.0 1557.3L618.4 1557.3L621.9 1557.3L625.3 1557.3L628.8 1557.3L632.2 1557.3L635.7 1557.3L639.1 1557.3L642.6 1557.3L646.0 1557.3L649.5 1557.3L652.9 1557.3L656.4 1557.3L659.8 1557.3L663.3 1557.3L666.7 1557.3L667.6 1557.3L667.6 1547.2L667.6 1537.1L667.6 1527.0L667.6 1516.8L666.7 1515.5L663.3 1510.3L660.9 1506.7L659.8 1505.1L656.4 1500.1L652.9 1498.0L649.6 1506.7L649.5 1507.3L646.7 1516.8L646.0 1520.6L644.4 1527.0L642.6 1531.9L639.7 1537.1L639.1 1537.9L635.7 1541.6L632.2 1544.1L628.8 1546.0L625.3 1547.1L621.9 1547.1L618.4 1547.1L615.0 1547.1L611.6 1547.1L608.1 1547.1L604.7 1547.1L601.2 1547.1L597.8 1547.1L594.3 1547.1L590.9 1547.1L587.4 1547.1L584.0 1547.1L580.5 1547.1L577.1 1547.1L573.6 1547.1L571.4 1547.2L570.2 1547.2L566.7 1549.3L563.3 1551.6L559.8 1554.3L556.5 1557.3ZM725.3 1557.3L728.8 1557.3L732.2 1557.3L735.7 1557.3L739.1 1557.3L742.5 1557.3L746.0 1557.3L749.4 1557.3L751.0 1557.3L749.4 1553.3L746.4 1547.2L746.0 1546.6L742.5 1541.9L739.1 1538.5L735.7 1538.0L732.2 1541.3L728.8 1545.6L727.8 1547.2L725.3 1551.9L723.2 1557.3ZM780.5 1557.3L783.9 1557.3L787.4 1557.3L790.8 1557.3L794.3 1557.3L797.7 1557.3L801.1 1557.3L804.6 1557.3L808.0 1557.3L811.5 1557.3L814.9 1557.3L818.4 1557.3L821.8 1557.3L825.3 1557.3L828.7 1557.3L832.2 1557.3L835.6 1557.3L839.1 1557.3L842.5 1557.3L846.0 1557.3L849.4 1557.3L852.9 1557.3L856.3 1557.3L859.7 1557.3L863.2 1557.3L866.6 1557.3L870.1 1557.3L873.5 1557.3L877.0 1557.3L880.4 1557.3L883.9 1557.3L887.3 1557.3L890.8 1557.3L894.2 1557.3L897.7 1557.3L901.1 1557.3L904.6 1557.3L908.0 1557.3L911.5 1557.3L914.9 1557.3L918.3 1557.3L921.8 1557.3L925.2 1557.3L928.7 1557.3L932.1 1557.3L935.6 1557.3L939.0 1557.3L942.5 1557.3L945.9 1557.3L949.4 1557.3L952.8 1557.3L956.3 1557.3L959.7 1557.3L963.2 1557.3L966.6 1557.3L970.1 1557.3L973.5 1557.3L977.0 1557.3L980.4 1557.3L983.8 1557.3L987.3 1557.3L990.7 1557.3L994.2 1557.3L997.6 1557.3L1001.1 1557.3L1004.5 1557.3L1008.0 1557.3L1011.4 1557.3L1014.9 1557.3L1014.9 1547.2L1014.9 1537.1L1014.9 1536.9L1011.4 1536.9L1008.0 1536.9L1004.5 1536.9L1001.1 1536.9L997.6 1536.9L994.2 1536.9L990.7 1536.9L987.3 1536.9L983.8 1536.9L980.4 1536.9L977.0 1536.9L973.5 1536.9L970.1 1536.9L966.6 1536.9L963.2 1536.9L959.7 1536.9L956.3 1536.9L952.8 1536.9L949.4 1536.9L945.9 1536.9L942.5 1536.9L939.0 1536.9L935.6 1536.9L932.1 1536.9L928.7 1536.9L925.2 1536.9L921.8 1536.9L918.3 1536.9L914.9 1536.9L911.5 1536.9L908.0 1536.9L904.6 1536.9L901.1 1536.9L897.7 1536.9L894.2 1536.9L890.8 1536.9L887.3 1536.9L883.9 1536.9L880.4 1536.9L877.0 1536.9L873.5 1535.0L870.1 1531.5L866.8 1527.0L866.6 1526.6L863.2 1519.6L862.2 1516.8L859.7 1514.6L856.3 1511.7L852.9 1509.2L849.4 1507.1L846.0 1508.0L842.5 1510.6L839.1 1513.2L835.6 1515.8L834.2 1516.8L832.2 1522.0L829.5 1527.0L828.7 1528.2L825.3 1532.6L821.8 1535.8L818.4 1536.9L814.9 1536.9L811.5 1536.9L808.0 1536.9L804.6 1536.9L801.1 1536.9L797.7 1536.9L794.3 1536.9L793.9 1537.1L790.8 1538.4L787.4 1541.7L783.9 1546.2L783.3 1547.2L780.5 1552.8L778.7 1557.3ZM777.0 1163.0L780.5 1164.1L783.9 1165.4L787.4 1167.0L790.8 1169.0L794.3 1170.3L797.7 1170.3L801.1 1170.3L804.6 1170.3L808.0 1170.3L811.5 1170.3L814.9 1170.3L818.4 1170.3L821.8 1170.3L825.3 1170.3L828.7 1170.3L832.2 1170.3L835.6 1170.3L839.1 1170.3L842.5 1170.3L846.0 1170.3L849.4 1170.3L852.9 1170.3L856.3 1170.3L859.7 1170.3L863.2 1170.3L866.6 1170.3L870.1 1170.3L873.5 1170.3L877.0 1169.6L880.4 1167.5L883.9 1165.8L887.3 1164.4L890.8 1163.2L891.7 1162.9L894.2 1162.2L897.7 1161.3L901.1 1160.6L904.6 1160.1L908.0 1160.1L911.5 1160.1L914.9 1160.1L918.3 1160.1L921.8 1160.1L925.2 1160.1L928.7 1160.1L932.1 1159.8L935.6 1157.7L939.0 1155.3L942.2 1152.8L942.5 1152.4L945.9 1146.5L948.4 1142.7L949.4 1140.9L952.8 1135.7L955.7 1132.6L956.3 1132.0L959.7 1129.2L963.2 1126.3L966.5 1122.5L966.6 1122.3L970.1 1116.7L972.0 1112.3L970.4 1102.2L970.1 1101.7L966.6 1096.1L963.2 1092.1L963.2 1092.1L959.7 1089.1L956.3 1088.8L952.8 1088.8L949.4 1088.8L945.9 1088.8L942.5 1088.8L939.0 1088.8L935.6 1088.8L932.1 1088.8L928.7 1088.8L925.2 1088.8L921.8 1088.8L918.3 1088.8L914.9 1088.8L911.5 1088.8L908.0 1088.8L904.6 1088.8L901.1 1086.7L897.7 1083.1L896.8 1082.0L894.2 1078.2L891.2 1071.9L890.8 1070.9L887.3 1062.2L887.2 1061.8L883.9 1056.2L880.4 1052.0L880.2 1051.7L877.0 1048.8L873.5 1048.1L870.1 1048.1L866.6 1048.1L863.2 1048.1L859.7 1048.1L856.3 1048.1L852.9 1048.1L849.4 1048.1L846.0 1048.1L842.5 1048.1L839.1 1048.1L835.6 1048.1L832.2 1048.1L828.7 1048.1L825.3 1048.1L821.8 1048.1L818.4 1046.5L814.9 1043.1L813.7 1041.6L811.5 1038.4L808.0 1031.7L807.9 1031.4L806.5 1021.3L806.5 1011.2L806.5 1001.1L806.5 991.0L804.6 982.7L804.1 980.9L801.1 975.6L797.7 971.1L797.4 970.8L794.3 967.8L790.8 965.2L787.4 961.8L786.4 960.7L783.9 957.3L780.5 950.7L780.4 950.5L777.0 941.9L776.4 940.4L773.6 935.2L770.1 930.6L769.9 930.3L766.7 927.3L763.2 924.6L759.8 921.3L758.8 920.2L756.3 916.8L752.9 910.4L752.7 910.1L752.9 906.1L753.1 900.0L756.3 894.1L759.6 889.9L759.8 889.7L763.2 886.4L766.7 883.7L770.1 880.3L770.6 879.8L773.6 875.8L776.8 869.6L777.0 868.8L778.7 859.5L778.7 849.4L778.7 839.3L778.7 829.2L780.5 819.9L780.6 819.1L783.9 812.9L786.9 809.0L787.4 808.4L790.8 805.1L794.3 804.9L797.7 808.2L798.4 809.0L801.1 812.6L804.6 819.0L804.6 819.1L808.0 827.9L808.6 829.2L811.5 834.7L814.9 839.3L814.9 839.4L818.4 842.8L821.8 843.4L825.3 841.3L828.7 839.7L829.6 839.3L832.2 838.3L835.6 837.2L839.1 836.2L842.5 835.3L846.0 834.6L849.4 834.4L852.9 835.1L856.3 835.9L859.7 836.9L863.2 838.0L866.6 839.2L866.8 839.3L870.1 840.8L873.5 842.7L877.0 842.9L879.4 839.3L880.4 837.8L883.9 832.8L886.3 829.2L887.3 827.1L890.8 820.7L891.8 819.1L894.2 814.3L897.7 809.3L898.0 809.0L901.1 805.8L904.6 803.0L908.0 799.9L909.0 798.9L911.5 795.8L914.9 790.0L915.5 788.7L915.9 778.6L914.9 776.6L911.5 770.7L909.8 768.5L908.0 766.6L904.6 763.5L901.1 762.9L897.7 762.9L894.2 762.9L890.8 762.9L887.3 762.9L883.9 762.9L880.4 762.9L877.0 762.9L873.5 760.9L871.0 758.4L870.1 757.4L866.6 752.6L864.4 748.3L863.2 745.4L860.4 738.2L859.7 736.7L856.3 730.6L854.4 728.1L852.9 726.3L849.4 723.1L846.0 720.4L843.5 718.0L842.5 716.9L839.1 712.2L836.7 707.8L835.6 703.6L834.3 697.7L834.3 687.6L834.3 677.5L834.3 667.4L835.6 662.2L836.9 657.3L839.1 654.1L842.5 649.0L843.8 647.2L846.0 643.9L849.4 639.7L852.4 637.1L852.9 636.6L856.3 632.3L859.4 626.9L859.7 625.7L862.1 616.8L862.1 606.7L862.1 596.6L862.1 586.5L862.1 576.4L862.1 566.3L862.1 556.2L862.1 546.0L862.1 535.9L862.1 525.8L862.1 515.7L862.1 505.6L862.1 495.5L862.1 485.4L862.1 475.3L862.1 465.1L860.3 455.0L859.7 454.4L856.3 451.4L853.2 444.9L852.9 444.1L850.9 434.8L849.4 430.4L846.0 426.8L842.5 426.8L840.6 424.7L839.1 421.8L837.4 414.6L835.6 408.8L834.6 404.5L832.7 394.4L832.2 388.7L831.8 384.2L831.1 374.1L832.1 364.0L832.2 363.2L833.1 353.9L835.6 345.3L839.1 345.3L842.5 345.3L846.0 345.3L849.4 347.5L851.4 353.9L852.9 356.7L856.3 360.0L859.7 360.0L863.2 360.5L866.6 363.0L868.1 364.0L870.1 365.7L873.5 365.7L877.0 365.7L880.4 365.7L883.9 365.7L887.3 365.7L890.8 365.7L894.2 365.7L897.7 365.7L901.1 365.7L904.6 365.7L908.0 365.7L911.5 365.7L914.9 365.7L918.3 365.7L921.8 365.7L925.2 365.7L928.7 365.7L932.1 365.7L935.6 365.7L939.0 364.8L939.4 364.0L941.7 353.9L939.0 346.2L935.6 345.3L932.1 345.3L928.7 345.3L925.2 345.3L924.1 343.8L921.8 338.2L920.8 333.7L918.3 326.1L914.9 324.9L911.5 324.9L908.0 324.9L904.6 324.9L903.9 323.6L901.1 316.0L900.3 313.5L901.1 304.6L904.6 304.6L908.0 304.6L911.5 304.6L914.9 304.6L918.3 304.6L921.8 304.6L925.2 304.6L928.7 304.6L932.1 304.6L935.6 304.6L939.0 305.5L941.7 313.5L942.5 317.3L945.5 323.6L945.9 324.1L946.2 323.6L949.1 313.5L949.4 312.3L952.8 304.6L956.3 304.6L959.7 304.6L963.2 304.6L966.6 304.1L967.2 303.3L970.1 300.7L973.5 299.1L977.0 301.2L979.2 303.3L980.4 305.0L983.4 313.5L983.8 314.4L987.3 319.3L990.7 319.5L994.2 319.6L997.6 319.6L1001.1 319.6L1004.5 321.5L1006.9 323.6L1008.0 324.9L1011.4 324.9L1014.9 324.9L1014.9 323.6L1014.9 313.5L1014.9 304.6L1011.4 304.6L1008.0 304.6L1004.5 304.6L1001.1 304.6L997.6 304.6L994.2 304.6L993.4 303.3L990.7 296.1L990.2 293.2L987.3 284.8L983.8 284.2L980.4 284.2L979.7 283.1L977.0 276.6L976.1 273.0L973.5 269.3L970.1 268.9L966.6 268.9L963.2 268.9L959.7 268.9L956.3 268.9L952.8 268.9L949.4 268.9L945.9 268.9L942.5 273.0L942.5 273.1L939.1 283.1L939.0 283.3L935.6 284.2L932.1 284.2L928.7 287.2L925.2 289.0L921.8 289.3L918.3 289.3L914.9 289.3L911.5 289.3L908.0 289.3L904.6 289.3L901.1 286.9L897.7 284.6L894.8 283.1L894.2 282.7L890.8 279.9L887.3 278.8L883.9 278.7L880.4 278.7L877.0 278.7L873.5 281.8L872.9 283.1L870.9 293.2L871.3 303.3L872.3 313.5L873.5 319.5L875.8 323.6L877.0 324.9L880.4 324.9L883.9 324.9L887.3 324.9L890.8 324.9L894.2 324.9L897.7 327.5L899.8 333.7L897.7 343.8L897.7 343.9L894.2 345.3L890.8 345.3L887.3 345.3L883.9 345.3L880.4 345.3L877.0 345.3L873.5 345.3L870.1 345.3L868.8 343.8L866.6 339.7L865.3 333.7L863.2 326.9L861.4 323.6L859.7 318.9L858.8 313.5L859.7 304.8L859.9 303.3L860.6 293.2L860.6 283.1L860.3 273.0L859.7 271.4L857.1 262.9L856.3 260.9L852.9 255.4L851.4 252.8L849.4 248.7L846.0 246.7L842.5 246.4L839.1 246.0L835.6 245.7L832.2 245.2L828.7 244.8L825.3 248.5L824.1 252.8L821.8 261.1L819.8 262.9L818.4 263.8L814.9 263.8L811.5 269.6L810.3 273.0L811.5 279.2L813.8 283.1L814.9 284.2L818.4 284.2L821.8 286.8L823.7 293.2L825.3 300.0L826.1 303.3L828.7 312.1L828.9 313.5L829.6 323.6L830.6 333.7L829.8 343.8L829.2 353.9L828.7 357.4L826.9 364.0L825.3 370.0L824.2 374.1L825.3 380.4L825.9 384.2L828.7 393.6L828.8 394.4L829.5 404.5L830.5 414.6L830.8 424.7L830.8 434.8L832.2 440.7L833.8 444.9L835.6 448.2L839.1 452.5L840.4 455.0L841.2 465.1L841.2 475.3L841.2 485.4L841.2 495.5L841.2 505.6L841.2 515.7L841.2 525.8L841.2 535.9L841.2 546.0L841.2 556.2L841.2 566.3L841.2 576.4L840.6 586.5L839.4 596.6L839.1 599.0L837.8 606.7L835.6 616.0L835.4 616.8L832.2 622.8L829.8 626.9L828.7 628.5L825.3 633.5L822.9 637.1L821.8 638.6L818.4 640.7L814.9 640.7L811.5 640.7L808.0 640.7L804.6 640.7L801.1 640.7L797.7 640.7L794.3 640.7L790.8 639.2L788.4 637.1L787.4 635.9L783.9 631.4L781.4 626.9L780.5 623.7L778.7 616.8L778.7 606.7L778.7 596.6L778.7 586.5L777.7 576.4L777.0 573.8L775.3 566.3L773.6 559.9L772.5 556.2L770.1 553.1L766.7 550.1L763.3 546.0L763.2 545.9L760.4 535.9L759.8 534.1L756.3 528.6L752.9 528.6L749.4 528.6L746.0 528.6L742.5 531.4L741.1 535.9L739.1 544.6L738.4 546.0L735.7 550.2L732.2 554.5L731.4 556.2L730.1 566.3L730.1 576.4L729.5 586.5L728.8 593.0L728.3 596.6L726.7 606.7L725.3 612.9L724.3 616.8L723.2 626.9L723.2 637.1L723.2 647.2L723.2 657.3L723.2 667.4L723.2 677.5L723.2 687.6L723.2 697.7L723.2 707.8L723.2 718.0L723.2 728.1L723.2 738.2L721.9 744.4L720.9 748.3L718.4 752.9L715.0 757.7L714.3 758.4L711.5 761.1L708.1 760.1L707.4 758.4L704.6 750.6L703.9 748.3L702.0 738.2L701.2 730.8L700.8 728.1L699.3 718.0L697.7 710.0L697.2 707.8L695.4 697.7L695.4 687.6L695.4 677.5L695.4 667.4L695.4 657.3L695.4 647.2L695.4 637.1L695.4 626.9L694.3 616.8L694.3 616.7L691.9 606.7L690.8 600.4L690.3 596.6L689.1 586.5L688.5 576.4L688.5 566.3L687.6 556.2L687.4 555.5L685.7 546.0L685.0 535.9L685.0 525.8L684.4 515.7L683.9 513.8L680.5 508.3L677.0 508.3L673.6 508.3L670.2 508.3L666.7 508.3L663.3 508.3L659.8 510.8L658.1 515.7L656.4 522.9L654.9 525.8L652.9 528.6L649.5 528.6L646.0 528.6L642.6 528.6L639.1 529.8L636.9 535.9L636.8 546.0L638.4 556.2L639.1 562.2L639.8 566.3L639.8 576.4L642.6 586.2L642.7 586.5L646.0 592.1L649.5 596.2L649.8 596.6L652.9 599.3L656.4 602.1L659.8 605.6L660.7 606.7L663.3 610.6L666.3 616.8L666.7 619.6L667.6 626.9L667.6 637.1L667.6 647.2L667.6 657.3L666.7 661.3L665.1 667.4L663.3 670.8L659.8 675.7L658.2 677.5L656.4 679.3L652.9 679.6L652.1 677.5L649.5 670.3L648.5 667.4L646.1 657.3L646.0 657.0L643.2 647.2L642.6 645.7L639.1 639.7L636.8 637.1L635.7 636.0L632.2 633.5L628.8 631.6L625.3 631.1L621.9 634.5L619.6 637.1L618.4 638.4L615.0 643.0L612.2 647.2L611.6 648.3L608.1 654.6L606.8 657.3L604.7 663.6L603.4 667.4L601.2 673.9L599.7 677.5L597.8 681.4L594.3 681.4L590.9 681.4L587.4 681.4L584.0 681.4L580.5 681.4L577.1 681.4L573.6 681.4L570.2 680.8L569.2 677.5L566.8 667.4L566.7 666.9L565.1 657.3L563.4 647.2L563.3 646.5L562.0 637.1L560.7 626.9L559.8 617.9L559.7 616.8L559.0 606.7L558.2 596.6L557.2 586.5L556.4 580.5L555.7 576.4L553.0 567.1L552.6 566.3L549.5 558.3L548.7 556.2L546.8 546.0L546.1 543.0L544.4 535.9L542.6 533.7L542.6 535.9L542.6 546.0L542.6 556.2L542.6 566.3L542.6 569.4L546.0 576.4L546.1 576.7L548.5 586.5L549.5 592.8L550.1 596.6L551.4 606.7L552.7 616.8L553.0 620.6L553.5 626.9L554.2 637.1L555.1 647.2L556.1 657.3L556.4 665.2L556.5 667.4L556.5 677.5L556.5 687.6L556.5 697.7L556.5 707.8L556.5 718.0L556.5 728.1L556.5 738.2L559.8 746.8L560.4 748.3L563.3 752.5L566.7 757.5L567.3 758.4L570.2 762.6L573.6 760.2L575.4 758.4L577.1 756.4L580.5 751.2L582.0 748.3L584.0 743.3L585.9 738.2L587.4 735.0L590.9 729.4L591.9 728.1L594.3 725.4L597.8 722.5L601.2 719.6L602.9 718.0L604.7 715.9L608.1 710.8L609.6 707.8L611.6 703.2L613.3 697.7L615.0 690.8L615.6 687.6L617.2 677.5L618.4 667.4L618.4 667.3L621.4 657.3L621.9 656.5L625.3 651.6L628.8 654.3L630.8 657.3L632.2 662.7L633.5 667.4L634.7 677.5L635.7 684.4L636.3 687.6L638.6 697.7L639.1 699.6L642.3 707.8L642.6 708.5L646.0 714.3L649.0 718.0L649.5 718.5L652.9 721.5L656.4 722.2L659.8 722.2L663.3 722.2L666.7 722.2L670.2 722.2L673.6 722.2L677.0 722.2L680.5 722.2L683.9 728.0L684.0 728.1L687.3 738.2L687.4 738.8L689.0 748.3L690.1 758.4L690.8 763.3L691.7 768.5L694.0 778.6L694.3 781.6L695.4 788.7L695.4 798.9L697.7 803.6L701.2 803.6L704.6 803.6L708.1 803.6L711.5 805.4L715.0 808.9L715.1 809.0L718.4 813.6L721.3 819.1L721.9 821.9L723.2 829.2L723.2 839.3L723.2 849.4L723.2 859.5L721.9 866.8L721.3 869.6L718.4 875.1L715.1 879.8L715.0 879.9L711.5 883.3L708.1 885.1L704.6 885.1L701.2 885.1L697.7 885.1L694.3 885.1L690.8 885.1L687.4 885.1L683.9 885.1L680.5 885.1L677.0 885.1L673.6 885.1L670.2 885.1L666.7 885.1L663.3 885.1L659.8 885.1L656.4 885.1L652.9 885.7L649.5 888.8L648.5 889.9L646.0 892.9L642.6 898.8L642.0 900.0L639.1 907.3L638.1 910.1L635.7 914.9L632.2 919.9L632.0 920.2L628.8 923.5L625.3 925.8L621.9 925.8L618.4 925.8L615.0 925.8L611.6 925.8L608.1 925.8L604.7 925.8L601.2 925.8L597.8 925.8L594.3 925.8L590.9 925.8L587.4 925.8L584.0 925.8L580.5 925.8L577.1 925.8L573.6 925.8L570.2 925.8L566.7 925.8L563.3 925.8L559.8 925.8L556.4 925.8L553.0 925.8L549.5 925.8L546.1 925.8L542.6 925.8L542.6 930.3L542.6 940.4L542.6 950.5L542.6 960.7L542.6 966.6L545.0 970.8L546.1 973.3L548.3 980.9L549.5 983.3L552.8 991.0L553.0 991.2L556.4 995.0L559.8 998.5L562.7 1001.1L563.3 1001.6L566.7 1004.5L570.2 1007.2L573.6 1007.3L577.1 1007.3L580.5 1007.3L584.0 1007.3L587.4 1007.3L590.9 1007.3L594.3 1007.3L597.8 1007.3L600.8 1011.2L601.2 1011.8L604.7 1016.8L607.7 1021.3L608.1 1021.9L611.6 1026.9L614.6 1031.4L615.0 1032.0L618.4 1037.1L621.5 1041.6L621.9 1042.1L625.3 1047.2L628.8 1048.1L632.2 1048.1L635.7 1048.1L639.1 1048.1L642.6 1048.1L646.0 1048.1L649.5 1048.1L652.9 1048.1L656.1 1051.7L656.4 1051.9L659.8 1057.0L663.1 1061.8L663.3 1062.1L666.7 1068.3L668.9 1071.9L670.2 1074.7L673.6 1080.7L674.6 1082.0L677.0 1084.9L680.5 1088.0L683.7 1092.1L683.9 1092.4L687.4 1097.4L690.7 1102.2L690.8 1102.5L694.3 1107.5L697.6 1112.3L697.7 1112.6L701.2 1117.6L704.5 1122.5L704.6 1122.7L708.1 1127.8L711.5 1129.5L715.0 1129.5L718.4 1129.5L721.9 1129.5L725.3 1129.5L728.8 1129.5L732.2 1129.5L735.7 1129.5L739.1 1132.5L739.1 1132.6L742.5 1137.6L746.0 1142.6L746.0 1142.7L749.4 1146.6L752.9 1150.5L754.9 1152.8L756.3 1153.9L759.8 1156.4L763.2 1158.9L766.7 1160.4L770.1 1161.2L773.6 1162.0L776.9 1162.9ZM760.0 1122.5L759.8 1122.1L756.3 1117.1L753.1 1112.3L752.9 1111.8L749.4 1104.6L748.1 1102.2L746.0 1098.4L742.5 1093.8L741.0 1092.1L739.1 1090.4L735.7 1088.8L732.2 1088.8L728.8 1088.8L725.3 1088.8L721.9 1088.8L718.4 1088.8L715.0 1088.8L711.5 1088.8L708.1 1087.0L704.7 1082.0L704.6 1082.0L701.2 1076.9L697.8 1071.9L697.7 1071.8L694.3 1064.6L692.7 1061.8L690.8 1058.4L687.4 1053.5L685.7 1051.7L683.9 1050.0L680.5 1046.6L677.1 1041.6L677.0 1041.5L673.6 1036.5L670.2 1031.4L670.2 1021.3L673.6 1015.4L677.0 1011.2L677.0 1011.2L680.5 1008.1L683.9 1005.4L687.4 1001.9L688.0 1001.1L690.8 997.0L693.9 991.0L694.3 989.9L697.7 981.1L697.8 980.9L701.2 975.0L704.6 970.8L704.6 970.7L708.1 967.5L711.5 968.4L714.0 970.8L715.0 971.8L718.4 976.5L720.7 980.9L721.9 983.6L724.7 991.0L725.3 992.4L728.8 998.6L730.6 1001.1L732.2 1003.0L735.7 1006.2L739.1 1008.9L741.5 1011.2L742.5 1012.3L746.0 1017.0L748.4 1021.3L749.4 1023.9L752.4 1031.4L752.9 1032.7L756.3 1039.1L758.1 1041.6L759.8 1043.5L763.2 1046.8L766.7 1049.5L769.0 1051.7L770.1 1052.8L773.6 1057.4L776.0 1061.8L777.0 1064.1L780.0 1071.9L780.5 1072.9L783.9 1079.5L785.7 1082.0L787.4 1084.0L790.8 1087.4L794.3 1090.1L796.5 1092.1L797.7 1093.3L801.1 1097.8L803.7 1102.2L804.6 1107.5L805.3 1112.3L804.6 1114.1L801.1 1120.5L799.8 1122.5L797.7 1125.0L794.3 1128.3L790.8 1129.5L787.4 1129.5L783.9 1129.5L780.5 1129.5L777.0 1129.5L773.6 1129.5L770.1 1129.5L766.7 1129.5L763.2 1127.2ZM621.7 1001.1L618.4 996.3L615.0 991.3L614.8 991.0L614.5 980.9L615.0 979.8L618.4 974.1L621.2 970.8L621.9 970.1L625.3 967.0L628.8 968.9L630.7 970.8L632.2 972.5L635.7 977.6L637.4 980.9L638.3 991.0L635.7 996.3L632.4 1001.1L632.2 1001.4L628.8 1005.0L625.3 1006.4L621.9 1001.4ZM567.4 991.0L566.7 988.2L564.7 980.9L566.7 973.8L568.0 970.8L570.2 966.9L573.6 969.3L575.1 970.8L577.1 973.0L580.5 978.3L581.8 980.9L580.5 984.0L577.4 991.0L577.1 991.1L573.6 992.6L570.2 993.6ZM787.6 758.4L787.4 758.1L783.9 753.6L781.0 748.3L780.5 739.3L780.4 738.2L780.5 738.0L783.9 731.5L786.4 728.1L787.4 726.9L790.8 723.6L794.3 723.4L797.7 726.7L798.9 728.1L801.1 731.2L804.6 737.6L804.9 738.2L804.6 742.6L804.2 748.3L801.1 753.9L797.7 758.3L797.6 758.4L794.3 761.6L790.8 761.5ZM835.1 323.6L832.7 313.5L832.2 307.2L831.9 303.3L831.0 293.2L832.2 288.7L834.9 283.1L835.6 281.7L838.0 273.0L839.1 268.5L842.5 263.8L846.0 263.8L849.4 265.4L852.9 267.9L856.3 272.2L856.6 273.0L856.9 283.1L856.9 293.2L856.3 297.8L854.6 303.3L852.9 309.6L851.9 313.5L849.4 322.7L848.3 323.6L846.0 324.9L842.5 324.9L839.1 324.9L835.6 324.9ZM876.6 303.3L875.0 293.2L877.0 289.3L880.4 289.3L883.9 289.3L887.3 289.3L890.8 289.6L894.2 290.5L897.7 291.7L899.2 293.2L900.3 303.3L897.7 304.6L894.2 304.6L890.8 304.6L887.3 304.6L883.9 304.6L880.4 304.6L877.0 304.6ZM677.0 840.5L680.5 843.6L683.9 842.4L687.0 839.3L687.4 838.9L690.8 834.1L693.4 829.2L694.3 824.3L695.4 819.1L695.4 809.0L694.3 803.6L690.8 803.6L687.4 803.6L683.9 803.6L680.5 804.4L677.0 807.5L675.7 809.0L673.6 811.7L670.2 817.7L669.5 819.1L669.7 829.2L670.2 830.3L673.6 836.3L676.0 839.3ZM787.4 467.5L790.8 467.5L793.6 465.1L794.3 464.2L796.1 455.0L796.1 444.9L795.4 434.8L794.3 431.6L790.8 430.4L789.6 434.8L787.4 443.8L787.0 444.9L783.9 452.4L783.0 455.0L783.9 462.8L784.8 465.1ZM652.9 460.4L656.4 461.6L659.8 461.6L663.3 457.6L664.6 455.0L666.7 448.7L668.7 444.9L669.7 434.8L666.7 431.9L663.3 431.9L659.8 431.9L656.4 431.9L652.9 432.8L651.5 434.8L650.3 444.9L650.3 455.0ZM773.6 406.4L777.0 406.4L779.2 404.5L780.5 402.2L781.9 394.4L780.5 389.4L777.0 386.1L773.6 386.1L771.4 384.2L770.1 382.6L768.0 374.1L766.7 369.3L763.5 364.0L763.2 363.7L759.8 361.2L756.3 360.3L752.9 360.3L749.4 362.7L748.6 364.0L746.0 367.9L742.5 372.6L741.5 374.1L742.5 379.4L743.7 384.2L746.0 388.3L749.4 390.5L752.9 391.1L756.3 391.1L759.8 393.0L760.6 394.4L763.2 398.5L766.7 401.5L770.1 404.4L770.2 404.5ZM748.7 374.1L749.4 373.0L752.9 370.8L756.3 370.8L759.8 373.2L760.4 374.1L759.8 376.0L756.3 379.2L752.9 379.2L749.4 376.1ZM715.0 398.9L718.4 400.5L721.9 400.2L725.3 396.5L726.3 394.4L725.3 390.6L722.2 384.2L721.9 383.6L719.4 374.1L718.4 370.3L715.0 365.7L711.5 365.7L708.1 365.7L704.6 365.7L701.2 369.1L699.5 374.1L701.2 381.8L702.8 384.2L704.6 386.1L708.1 386.1L711.5 390.9L712.4 394.4Z" fill="#FF5500" fill-rule="evenodd" stroke="#FF5500" stroke-width="0.6"/>
<path d="M763.2 1127.2L766.7 1129.5L770.1 1129.5L773.6 1129.5L777.0 1129.5L780.5 1129.5L783.9 1129.5L787.4 1129.5L790.8 1129.5L794.3 1128.3L797.7 1125.0L799.8 1122.5L801.1 1120.5L804.6 1114.1L805.3 1112.3L804.6 1107.5L803.7 1102.2L801.1 1097.8L797.7 1093.3L796.5 1092.1L794.3 1090.1L790.8 1087.4L787.4 1084.0L785.7 1082.0L783.9 1079.5L780.5 1072.9L780.0 1071.9L777.0 1064.1L776.0 1061.8L773.6 1057.4L770.1 1052.8L769.0 1051.7L766.7 1049.5L763.2 1046.8L759.8 1043.5L758.1 1041.6L756.3 1039.1L752.9 1032.7L752.4 1031.4L749.4 1023.9L748.4 1021.3L746.0 1017.0L742.5 1012.3L741.5 1011.2L739.1 1008.9L735.7 1006.2L732.2 1003.0L730.6 1001.1L728.8 998.6L725.3 992.4L724.7 991.0L721.9 983.6L720.7 980.9L718.4 976.5L715.0 971.8L714.0 970.8L711.5 968.4L708.1 967.5L704.6 970.7L704.6 970.8L701.2 975.0L697.8 980.9L697.7 981.1L694.3 989.9L693.9 991.0L690.8 997.0L688.0 1001.1L687.4 1001.9L683.9 1005.4L680.5 1008.1L677.0 1011.2L677.0 1011.2L673.6 1015.4L670.2 1021.3L670.2 1031.4L673.6 1036.5L677.0 1041.5L677.1 1041.6L680.5 1046.6L683.9 1050.0L685.7 1051.7L687.4 1053.5L690.8 1058.4L692.7 1061.8L694.3 1064.6L697.7 1071.8L697.8 1071.9L701.2 1076.9L704.6 1082.0L704.7 1082.0L708.1 1087.0L711.5 1088.8L715.0 1088.8L718.4 1088.8L721.9 1088.8L725.3 1088.8L728.8 1088.8L732.2 1088.8L735.7 1088.8L739.1 1090.4L741.0 1092.1L742.5 1093.8L746.0 1098.4L748.1 1102.2L749.4 1104.6L752.9 1111.8L753.1 1112.3L756.3 1117.1L759.8 1122.1L760.0 1122.5ZM621.9 1001.4L625.3 1006.4L628.8 1005.0L632.2 1001.4L632.4 1001.1L635.7 996.3L638.3 991.0L637.4 980.9L635.7 977.6L632.2 972.5L630.7 970.8L628.8 968.9L625.3 967.0L621.9 970.1L621.2 970.8L618.4 974.1L615.0 979.8L614.5 980.9L614.8 991.0L615.0 991.3L618.4 996.3L621.7 1001.1ZM570.2 993.6L573.6 992.6L577.1 991.1L577.4 991.0L580.5 984.0L581.8 980.9L580.5 978.3L577.1 973.0L575.1 970.8L573.6 969.3L570.2 966.9L568.0 970.8L566.7 973.8L564.7 980.9L566.7 988.2L567.4 991.0ZM708.1 760.1L711.5 761.1L714.3 758.4L715.0 757.7L718.4 752.9L720.9 748.3L721.9 744.4L723.2 738.2L723.2 728.1L723.2 718.0L723.2 707.8L723.2 697.7L723.2 687.6L723.2 677.5L723.2 667.4L723.2 657.3L723.2 647.2L723.2 637.1L723.2 626.9L724.3 616.8L725.3 612.9L726.7 606.7L728.3 596.6L728.8 593.0L729.5 586.5L730.1 576.4L730.1 566.3L731.4 556.2L732.2 554.5L735.7 550.2L738.4 546.0L739.1 544.6L741.1 535.9L742.5 531.4L746.0 528.6L749.4 528.6L752.9 528.6L756.3 528.6L759.8 534.1L760.4 535.9L763.2 545.9L763.3 546.0L766.7 550.1L770.1 553.1L772.5 556.2L773.6 559.9L775.3 566.3L777.0 573.8L777.7 576.4L778.7 586.5L778.7 596.6L778.7 606.7L778.7 616.8L780.5 623.7L781.4 626.9L783.9 631.4L787.4 635.9L788.4 637.1L790.8 639.2L794.3 640.7L797.7 640.7L801.1 640.7L804.6 640.7L808.0 640.7L811.5 640.7L814.9 640.7L818.4 640.7L821.8 638.6L822.9 637.1L825.3 633.5L828.7 628.5L829.8 626.9L832.2 622.8L835.4 616.8L835.6 616.0L837.8 606.7L839.1 599.0L839.4 596.6L840.6 586.5L841.2 576.4L841.2 566.3L841.2 556.2L841.2 546.0L841.2 535.9L841.2 525.8L841.2 515.7L841.2 505.6L841.2 495.5L841.2 485.4L841.2 475.3L841.2 465.1L840.4 455.0L839.1 452.5L835.6 448.2L833.8 444.9L832.2 440.7L830.8 434.8L830.8 424.7L830.5 414.6L829.5 404.5L828.8 394.4L828.7 393.6L825.9 384.2L825.3 380.4L824.2 374.1L825.3 370.0L826.9 364.0L828.7 357.4L829.2 353.9L829.8 343.8L830.6 333.7L829.6 323.6L828.9 313.5L828.7 312.1L826.1 303.3L825.3 300.0L823.7 293.2L821.8 286.8L818.4 284.2L814.9 284.2L813.8 283.1L811.5 279.2L810.3 273.0L811.5 269.6L814.9 263.8L818.4 263.8L819.8 262.9L821.8 261.1L824.1 252.8L825.3 248.5L828.7 244.8L832.2 245.2L835.6 245.7L839.1 246.0L842.5 246.4L846.0 246.7L849.4 248.7L851.4 252.8L852.9 255.4L856.3 260.9L857.1 262.9L859.7 271.4L860.3 273.0L860.6 283.1L860.6 293.2L859.9 303.3L859.7 304.8L858.8 313.5L859.7 318.9L861.4 323.6L863.2 326.9L865.3 333.7L866.6 339.7L868.8 343.8L870.1 345.3L873.5 345.3L877.0 345.3L880.4 345.3L883.9 345.3L887.3 345.3L890.8 345.3L894.2 345.3L897.7 343.9L897.7 343.8L899.8 333.7L897.7 327.5L894.2 324.9L890.8 324.9L887.3 324.9L883.9 324.9L880.4 324.9L877.0 324.9L875.8 323.6L873.5 319.5L872.3 313.5L871.3 303.3L870.9 293.2L872.9 283.1L873.5 281.8L877.0 278.7L880.4 278.7L883.9 278.7L887.3 278.8L890.8 279.9L894.2 282.7L894.8 283.1L897.7 284.6L901.1 286.9L904.6 289.3L908.0 289.3L911.5 289.3L914.9 289.3L918.3 289.3L921.8 289.3L925.2 289.0L928.7 287.2L932.1 284.2L935.6 284.2L939.0 283.3L939.1 283.1L942.5 273.1L942.5 273.0L945.9 268.9L949.4 268.9L952.8 268.9L956.3 268.9L959.7 268.9L963.2 268.9L966.6 268.9L970.1 268.9L973.5 269.3L976.1 273.0L977.0 276.6L979.7 283.1L980.4 284.2L983.8 284.2L987.3 284.8L990.2 293.2L990.7 296.1L993.4 303.3L994.2 304.6L997.6 304.6L1001.1 304.6L1004.5 304.6L1008.0 304.6L1011.4 304.6L1014.9 304.6L1014.9 303.3L1014.9 293.2L1014.9 283.1L1014.9 273.0L1014.9 263.8L1011.6 273.0L1011.4 273.9L1008.6 283.1L1008.0 284.1L1004.5 284.2L1001.1 284.2L997.6 284.2L994.2 284.2L993.8 283.1L990.7 274.1L990.4 273.0L987.3 264.1L983.8 263.8L980.4 263.8L979.6 262.9L977.0 260.4L973.5 258.5L970.1 258.4L966.6 258.4L963.2 258.4L959.7 258.4L956.3 258.4L952.8 258.4L949.4 258.4L945.9 258.4L942.5 259.9L939.2 262.9L939.0 263.1L935.6 263.8L932.1 263.8L928.7 270.9L928.2 273.0L925.2 277.9L921.8 278.7L918.3 278.7L914.9 278.7L911.5 278.7L908.0 278.7L904.6 278.7L901.1 277.8L897.7 276.9L894.2 274.3L893.2 273.0L890.8 265.4L889.4 262.9L887.3 257.6L886.3 252.8L885.1 242.7L883.9 239.0L880.4 236.0L877.0 234.0L873.5 234.6L872.5 242.7L872.5 252.8L870.1 261.9L868.5 262.9L866.6 263.8L863.2 263.8L862.9 262.9L859.7 255.4L858.6 252.8L858.6 242.7L856.3 233.6L852.9 233.0L849.4 232.8L847.9 232.6L846.0 231.5L842.5 228.0L839.1 223.3L838.5 222.4L835.6 216.4L834.1 212.3L832.2 207.5L829.4 202.2L828.7 201.2L825.3 196.9L821.8 193.6L818.4 194.1L814.9 197.5L811.5 202.2L811.5 202.2L808.0 208.9L806.7 212.3L806.5 222.4L806.5 232.6L808.0 236.1L809.2 242.7L810.0 252.8L808.0 258.9L805.3 262.9L804.6 263.8L801.1 263.8L797.7 263.8L794.3 263.8L790.8 263.8L787.4 263.8L783.9 263.8L780.5 263.8L777.0 267.2L775.4 273.0L773.6 280.5L772.3 283.1L770.1 287.4L768.5 293.2L768.3 303.3L768.3 313.5L770.1 321.4L771.9 323.6L773.6 324.9L777.0 324.9L780.5 324.9L783.9 324.9L785.6 323.6L787.4 321.4L789.2 313.5L789.2 303.3L789.4 293.2L790.8 287.8L794.3 284.2L797.7 284.2L801.1 287.2L802.8 293.2L803.0 303.3L803.0 313.5L803.0 323.6L803.0 333.7L803.0 343.8L801.1 345.3L797.7 345.3L794.3 345.3L790.8 345.3L787.4 345.3L783.9 345.3L780.5 345.3L777.0 345.3L773.6 345.3L770.1 345.3L766.7 345.3L763.2 345.3L759.8 345.3L756.3 345.3L752.9 345.3L749.4 348.2L747.8 353.9L746.0 356.7L742.5 360.7L739.1 363.3L735.7 362.9L733.6 353.9L733.6 343.8L733.9 333.7L735.7 327.6L737.8 323.6L739.1 319.8L740.3 313.5L739.1 308.8L735.7 304.6L732.2 304.6L728.8 304.6L725.3 304.6L723.4 303.3L721.9 302.1L719.5 293.2L718.4 288.9L715.0 284.2L711.5 284.2L708.1 286.4L706.0 293.2L708.1 302.1L708.6 303.3L711.5 309.4L712.5 313.5L712.8 323.6L712.8 333.7L711.5 339.9L709.5 343.8L708.1 345.3L704.6 345.3L701.2 347.4L699.2 353.9L697.7 358.2L695.1 364.0L694.3 365.7L690.8 365.7L687.4 367.5L685.3 374.1L687.4 384.2L687.5 384.2L690.8 386.1L694.3 386.1L697.7 392.9L698.2 394.4L701.2 404.4L701.3 404.5L704.6 406.4L708.1 406.4L711.5 408.9L715.0 411.0L718.4 411.5L721.9 411.5L725.3 410.6L728.8 408.1L731.2 404.5L732.2 401.8L734.0 394.4L735.7 388.7L739.1 392.0L739.9 394.4L742.5 403.7L743.4 404.5L746.0 406.4L749.4 406.4L752.9 406.4L756.3 406.4L759.8 408.6L763.2 410.8L766.7 413.8L767.2 414.6L770.1 423.7L771.1 424.7L773.6 426.8L777.0 426.8L780.5 430.2L781.8 434.8L780.5 440.4L778.5 444.9L777.0 447.2L773.6 447.2L770.1 447.2L766.7 447.2L763.2 447.2L759.8 447.2L756.3 447.2L752.9 447.2L750.0 444.9L749.4 444.2L747.1 434.8L746.0 430.8L742.5 426.8L739.1 426.8L735.7 429.4L734.0 434.8L735.7 444.3L735.9 444.9L739.1 451.4L740.1 455.0L740.5 465.1L740.5 475.3L740.5 485.4L740.5 495.5L739.1 503.5L738.4 505.6L735.7 510.9L734.1 515.7L732.2 524.0L731.5 525.8L728.8 531.1L727.2 535.9L725.3 542.9L724.0 546.0L721.9 550.1L718.4 554.3L717.5 556.2L716.2 566.3L716.2 576.4L715.0 583.2L714.3 586.5L711.5 594.6L708.8 596.6L708.1 597.1L707.9 596.6L704.6 587.6L704.3 586.5L702.3 576.4L702.3 566.3L701.5 556.2L701.2 555.1L699.6 546.0L698.9 535.9L698.9 525.8L698.3 515.7L697.7 513.4L694.3 506.3L694.0 505.6L691.4 495.5L690.8 493.2L687.4 486.1L687.1 485.4L684.5 475.3L683.9 473.0L680.5 467.5L678.0 465.1L678.0 455.0L678.0 444.9L677.6 434.8L677.0 432.5L673.6 425.6L672.8 424.7L670.2 422.4L666.7 421.0L663.3 421.0L659.8 421.0L656.4 421.0L652.9 421.3L649.5 423.8L648.3 424.7L646.0 426.8L642.6 426.8L639.1 428.0L636.8 434.8L635.7 440.0L634.0 444.9L632.2 448.2L629.9 455.0L628.8 460.1L626.9 465.1L625.3 467.5L621.9 467.5L618.4 468.4L616.0 475.3L615.0 480.1L613.3 485.4L611.6 488.7L609.1 495.5L608.6 505.6L608.6 515.7L610.6 525.8L611.6 527.8L615.0 535.9L615.0 539.0L615.1 546.0L615.0 547.4L613.4 556.2L612.1 566.3L612.1 576.4L612.1 586.5L612.1 596.6L612.1 606.7L612.1 616.8L611.6 617.6L608.1 623.3L606.2 626.9L604.7 629.1L601.2 634.6L599.7 637.1L597.8 640.7L594.3 640.7L590.9 640.7L587.4 640.7L584.0 640.7L580.5 640.7L577.1 640.7L573.6 640.7L570.2 639.6L569.7 637.1L568.0 626.9L566.8 616.8L566.7 612.4L566.6 606.7L566.3 596.6L566.0 586.5L565.5 576.4L564.5 566.3L563.3 560.2L562.2 556.2L559.8 552.2L556.4 548.8L555.3 546.0L553.0 537.8L552.5 535.9L549.5 528.6L546.9 525.8L546.1 525.0L542.6 522.7L542.6 525.8L542.6 533.7L544.4 535.9L546.1 543.0L546.8 546.0L548.7 556.2L549.5 558.3L552.6 566.3L553.0 567.1L555.7 576.4L556.4 580.5L557.2 586.5L558.2 596.6L559.0 606.7L559.7 616.8L559.8 617.9L560.7 626.9L562.0 637.1L563.3 646.5L563.4 647.2L565.1 657.3L566.7 666.9L566.8 667.4L569.2 677.5L570.2 680.8L573.6 681.4L577.1 681.4L580.5 681.4L584.0 681.4L587.4 681.4L590.9 681.4L594.3 681.4L597.8 681.4L599.7 677.5L601.2 673.9L603.4 667.4L604.7 663.6L606.8 657.3L608.1 654.6L611.6 648.3L612.2 647.2L615.0 643.0L618.4 638.4L619.6 637.1L621.9 634.5L625.3 631.1L628.8 631.6L632.2 633.5L635.7 636.0L636.8 637.1L639.1 639.7L642.6 645.7L643.2 647.2L646.0 657.0L646.1 657.3L648.5 667.4L649.5 670.3L652.1 677.5L652.9 679.6L656.4 679.3L658.2 677.5L659.8 675.7L663.3 670.8L665.1 667.4L666.7 661.3L667.6 657.3L667.6 647.2L667.6 637.1L667.6 626.9L666.7 619.6L666.3 616.8L663.3 610.6L660.7 606.7L659.8 605.6L656.4 602.1L652.9 599.3L649.8 596.6L649.5 596.2L646.0 592.1L642.7 586.5L642.6 586.2L639.8 576.4L639.8 566.3L639.1 562.2L638.4 556.2L636.8 546.0L636.9 535.9L639.1 529.8L642.6 528.6L646.0 528.6L649.5 528.6L652.9 528.6L654.9 525.8L656.4 522.9L658.1 515.7L659.8 510.8L663.3 508.3L666.7 508.3L670.2 508.3L673.6 508.3L677.0 508.3L680.5 508.3L683.9 513.8L684.4 515.7L685.0 525.8L685.0 535.9L685.7 546.0L687.4 555.5L687.6 556.2L688.5 566.3L688.5 576.4L689.1 586.5L690.3 596.6L690.8 600.4L691.9 606.7L694.3 616.7L694.3 616.8L695.4 626.9L695.4 637.1L695.4 647.2L695.4 657.3L695.4 667.4L695.4 677.5L695.4 687.6L695.4 697.7L697.2 707.8L697.7 710.0L699.3 718.0L700.8 728.1L701.2 730.8L702.0 738.2L703.9 748.3L704.6 750.6L707.4 758.4ZM816.5 596.6L814.9 594.9L811.5 590.3L809.4 586.5L808.0 583.4L805.3 576.4L804.6 574.6L801.1 568.2L799.8 566.3L797.7 563.1L794.7 556.2L795.9 546.0L796.1 535.9L796.1 525.8L796.1 515.7L796.1 505.6L796.6 495.5L797.7 491.7L801.1 487.9L804.6 487.9L808.0 487.9L811.5 487.9L814.9 487.9L818.4 487.9L821.8 487.9L825.3 487.9L827.1 495.5L827.4 505.6L827.4 515.7L827.4 525.8L827.4 535.9L827.4 546.0L827.4 556.2L827.4 566.3L827.4 576.4L825.4 586.5L825.3 587.0L821.8 596.6L821.8 596.6L818.4 598.3ZM764.6 525.8L763.2 523.4L760.8 515.7L759.8 512.0L756.5 505.6L756.3 505.0L754.9 495.5L756.3 490.9L759.8 487.9L763.2 487.9L766.7 487.9L770.1 487.9L773.6 487.9L777.0 487.9L780.5 487.9L783.9 487.9L787.4 491.1L788.6 495.5L787.4 504.4L787.1 505.6L783.9 511.8L782.8 515.7L780.5 525.2L780.0 525.8L777.0 528.6L773.6 528.6L770.1 528.6L766.7 528.6ZM645.3 505.6L643.3 495.5L643.3 485.4L643.8 475.3L646.0 468.8L649.5 470.4L652.9 472.3L656.4 472.6L659.8 472.6L663.3 471.5L666.7 468.7L670.2 467.5L673.6 467.5L677.0 467.5L678.0 475.3L677.0 480.5L675.5 485.4L673.6 487.9L670.2 487.9L666.7 487.9L663.3 487.9L659.8 489.3L657.7 495.5L656.4 499.6L654.1 505.6L652.9 508.3L649.5 508.3L646.0 507.0ZM784.8 465.1L783.9 462.8L783.0 455.0L783.9 452.4L787.0 444.9L787.4 443.8L789.6 434.8L790.8 430.4L794.3 431.6L795.4 434.8L796.1 444.9L796.1 455.0L794.3 464.2L793.6 465.1L790.8 467.5L787.4 467.5ZM805.7 465.1L804.6 463.2L803.0 455.0L803.0 444.9L802.6 434.8L801.1 429.8L799.3 424.7L797.7 420.4L796.1 414.6L796.1 404.5L796.5 394.4L797.7 389.8L800.5 384.2L801.1 382.8L803.0 374.1L803.0 364.0L803.0 353.9L804.6 345.3L808.0 345.3L811.5 345.3L814.9 348.0L816.6 353.9L816.9 364.0L816.9 374.1L816.9 384.2L816.9 394.4L816.9 404.5L816.9 414.6L816.9 424.7L816.9 434.8L818.4 442.4L819.5 444.9L821.8 448.3L825.3 452.7L826.4 455.0L826.2 465.1L825.3 467.5L821.8 467.5L818.4 467.5L814.9 467.5L811.5 467.5L808.0 467.5ZM650.3 455.0L650.3 444.9L651.5 434.8L652.9 432.8L656.4 431.9L659.8 431.9L663.3 431.9L666.7 431.9L669.7 434.8L668.7 444.9L666.7 448.7L664.6 455.0L663.3 457.6L659.8 461.6L656.4 461.6L652.9 460.4ZM770.2 404.5L770.1 404.4L766.7 401.5L763.2 398.5L760.6 394.4L759.8 393.0L756.3 391.1L752.9 391.1L749.4 390.5L746.0 388.3L743.7 384.2L742.5 379.4L741.5 374.1L742.5 372.6L746.0 367.9L748.6 364.0L749.4 362.7L752.9 360.3L756.3 360.3L759.8 361.2L763.2 363.7L763.5 364.0L766.7 369.3L768.0 374.1L770.1 382.6L771.4 384.2L773.6 386.1L777.0 386.1L780.5 389.4L781.9 394.4L780.5 402.2L779.2 404.5L777.0 406.4L773.6 406.4ZM712.4 394.4L711.5 390.9L708.1 386.1L704.6 386.1L702.8 384.2L701.2 381.8L699.5 374.1L701.2 369.1L704.6 365.7L708.1 365.7L711.5 365.7L715.0 365.7L718.4 370.3L719.4 374.1L721.9 383.6L722.2 384.2L725.3 390.6L726.3 394.4L725.3 396.5L721.9 400.2L718.4 400.5L715.0 398.9ZM790.8 761.5L794.3 761.6L797.6 758.4L797.7 758.3L801.1 753.9L804.2 748.3L804.6 742.6L804.9 738.2L804.6 737.6L801.1 731.2L798.9 728.1L797.7 726.7L794.3 723.4L790.8 723.6L787.4 726.9L786.4 728.1L783.9 731.5L780.5 738.0L780.4 738.2L780.5 739.3L781.0 748.3L783.9 753.6L787.4 758.1L787.6 758.4ZM604.7 426.1L608.1 426.8L611.6 426.8L615.0 426.8L618.4 426.8L619.9 424.7L621.9 416.1L622.1 414.6L621.9 413.7L618.4 406.4L615.0 406.4L611.6 406.4L608.1 406.4L604.7 407.1L602.0 414.6L603.9 424.7ZM725.3 263.8L728.8 263.8L732.2 263.8L735.7 263.8L736.6 262.9L739.1 259.2L740.5 252.8L740.1 242.7L739.1 236.7L735.7 234.2L732.2 236.2L728.8 237.8L725.3 239.2L722.0 242.7L721.9 242.8L719.8 252.8L721.9 261.2L723.8 262.9Z" fill="#FF0000" fill-rule="evenodd" stroke="#FF0000" stroke-width="0.6"/>
<path d="M570.2 639.6L573.6 640.7L577.1 640.7L580.5 640.7L584.0 640.7L587.4 640.7L590.9 640.7L594.3 640.7L597.8 640.7L599.7 637.1L601.2 634.6L604.7 629.1L606.2 626.9L608.1 623.3L611.6 617.6L612.1 616.8L612.1 606.7L612.1 596.6L612.1 586.5L612.1 576.4L612.1 566.3L613.4 556.2L615.0 547.4L615.1 546.0L615.0 539.0L615.0 535.9L611.6 527.8L610.6 525.8L608.6 515.7L608.6 505.6L609.1 495.5L611.6 488.7L613.3 485.4L615.0 480.1L616.0 475.3L618.4 468.4L621.9 467.5L625.3 467.5L626.9 465.1L628.8 460.1L629.9 455.0L632.2 448.2L634.0 444.9L635.7 440.0L636.8 434.8L639.1 428.0L642.6 426.8L646.0 426.8L648.3 424.7L649.5 423.8L652.9 421.3L656.4 421.0L659.8 421.0L663.3 421.0L666.7 421.0L670.2 422.4L672.8 424.7L673.6 425.6L677.0 432.5L677.6 434.8L678.0 444.9L678.0 455.0L678.0 465.1L680.5 467.5L683.9 473.0L684.5 475.3L687.1 485.4L687.4 486.1L690.8 493.2L691.4 495.5L694.0 505.6L694.3 506.3L697.7 513.4L698.3 515.7L698.9 525.8L698.9 535.9L699.6 546.0L701.2 555.1L701.5 556.2L702.3 566.3L702.3 576.4L704.3 586.5L704.6 587.6L707.9 596.6L708.1 597.1L708.8 596.6L711.5 594.6L714.3 586.5L715.0 583.2L716.2 576.4L716.2 566.3L717.5 556.2L718.4 554.3L721.9 550.1L724.0 546.0L725.3 542.9L727.2 535.9L728.8 531.1L731.5 525.8L732.2 524.0L734.1 515.7L735.7 510.9L738.4 505.6L739.1 503.5L740.5 495.5L740.5 485.4L740.5 475.3L740.5 465.1L740.1 455.0L739.1 451.4L735.9 444.9L735.7 444.3L734.0 434.8L735.7 429.4L739.1 426.8L742.5 426.8L746.0 430.8L747.1 434.8L749.4 444.2L750.0 444.9L752.9 447.2L756.3 447.2L759.8 447.2L763.2 447.2L766.7 447.2L770.1 447.2L773.6 447.2L777.0 447.2L778.5 444.9L780.5 440.4L781.8 434.8L780.5 430.2L777.0 426.8L773.6 426.8L771.1 424.7L770.1 423.7L767.2 414.6L766.7 413.8L763.2 410.8L759.8 408.6L756.3 406.4L752.9 406.4L749.4 406.4L746.0 406.4L743.4 404.5L742.5 403.7L739.9 394.4L739.1 392.0L735.7 388.7L734.0 394.4L732.2 401.8L731.2 404.5L728.8 408.1L725.3 410.6L721.9 411.5L718.4 411.5L715.0 411.0L711.5 408.9L708.1 406.4L704.6 406.4L701.3 404.5L701.2 404.4L698.2 394.4L697.7 392.9L694.3 386.1L690.8 386.1L687.5 384.2L687.4 384.2L685.3 374.1L687.4 367.5L690.8 365.7L694.3 365.7L695.1 364.0L697.7 358.2L699.2 353.9L701.2 347.4L704.6 345.3L708.1 345.3L709.5 343.8L711.5 339.9L712.8 333.7L712.8 323.6L712.5 313.5L711.5 309.4L708.6 303.3L708.1 302.1L706.0 293.2L708.1 286.4L711.5 284.2L715.0 284.2L718.4 288.9L719.5 293.2L721.9 302.1L723.4 303.3L725.3 304.6L728.8 304.6L732.2 304.6L735.7 304.6L739.1 308.8L740.3 313.5L739.1 319.8L737.8 323.6L735.7 327.6L733.9 333.7L733.6 343.8L733.6 353.9L735.7 362.9L739.1 363.3L742.5 360.7L746.0 356.7L747.8 353.9L749.4 348.2L752.9 345.3L756.3 345.3L759.8 345.3L763.2 345.3L766.7 345.3L770.1 345.3L773.6 345.3L777.0 345.3L780.5 345.3L783.9 345.3L787.4 345.3L790.8 345.3L794.3 345.3L797.7 345.3L801.1 345.3L803.0 343.8L803.0 333.7L803.0 323.6L803.0 313.5L803.0 303.3L802.8 293.2L801.1 287.2L797.7 284.2L794.3 284.2L790.8 287.8L789.4 293.2L789.2 303.3L789.2 313.5L787.4 321.4L785.6 323.6L783.9 324.9L780.5 324.9L777.0 324.9L773.6 324.9L771.9 323.6L770.1 321.4L768.3 313.5L768.3 303.3L768.5 293.2L770.1 287.4L772.3 283.1L773.6 280.5L775.4 273.0L777.0 267.2L780.5 263.8L783.9 263.8L787.4 263.8L790.8 263.8L794.3 263.8L797.7 263.8L801.1 263.8L804.6 263.8L805.3 262.9L808.0 258.9L810.0 252.8L809.2 242.7L808.0 236.1L806.5 232.6L806.5 222.4L806.7 212.3L808.0 208.9L811.5 202.2L811.5 202.2L814.9 197.5L818.4 194.1L821.8 193.6L825.3 196.9L828.7 201.2L829.4 202.2L832.2 207.5L834.1 212.3L835.6 216.4L838.5 222.4L839.1 223.3L842.5 228.0L846.0 231.5L847.9 232.6L849.4 232.8L852.9 233.0L856.3 233.6L858.6 242.7L858.6 252.8L859.7 255.4L862.9 262.9L863.2 263.8L866.6 263.8L868.5 262.9L870.1 261.9L872.5 252.8L872.5 242.7L873.5 234.6L877.0 234.0L880.4 236.0L883.9 239.0L885.1 242.7L886.3 252.8L887.3 257.6L889.4 262.9L890.8 265.4L893.2 273.0L894.2 274.3L897.7 276.9L901.1 277.8L904.6 278.7L908.0 278.7L911.5 278.7L914.9 278.7L918.3 278.7L921.8 278.7L925.2 277.9L928.2 273.0L928.7 270.9L932.1 263.8L935.6 263.8L939.0 263.1L939.2 262.9L942.5 259.9L945.9 258.4L949.4 258.4L952.8 258.4L956.3 258.4L959.7 258.4L963.2 258.4L966.6 258.4L970.1 258.4L973.5 258.5L977.0 260.4L979.6 262.9L980.4 263.8L983.8 263.8L987.3 264.1L990.4 273.0L990.7 274.1L993.8 283.1L994.2 284.2L997.6 284.2L1001.1 284.2L1004.5 284.2L1008.0 284.1L1008.6 283.1L1011.4 273.9L1011.6 273.0L1014.9 263.8L1014.9 262.9L1014.9 252.8L1014.9 242.7L1014.9 232.6L1014.9 222.4L1014.9 212.3L1014.9 202.2L1014.9 192.1L1014.9 182.0L1014.9 171.9L1014.9 161.8L1014.9 151.7L1014.9 141.5L1014.9 131.4L1011.4 131.4L1008.0 131.4L1004.5 131.4L1001.1 131.4L997.6 131.4L994.2 131.4L990.7 131.4L987.3 131.4L983.8 131.4L980.4 131.4L977.0 131.4L973.5 131.4L970.1 131.4L966.6 131.4L963.2 131.4L959.7 131.4L956.3 131.4L952.8 131.4L949.4 131.4L945.9 131.4L942.5 131.4L939.0 131.4L935.6 131.4L932.1 131.4L928.7 131.4L925.2 131.4L921.8 131.4L918.3 131.4L914.9 131.4L911.5 131.4L908.0 131.4L904.6 131.4L901.1 131.4L897.7 131.4L894.2 131.4L890.8 131.4L887.3 131.4L883.9 131.4L880.4 131.4L877.0 131.4L873.5 131.4L870.1 131.4L866.6 131.4L863.2 131.4L859.7 131.4L856.3 131.4L852.9 131.4L849.4 131.4L846.0 131.4L842.5 131.4L839.1 131.4L835.6 131.4L832.2 131.4L828.7 131.4L825.3 131.4L821.8 131.4L818.4 131.4L814.9 131.4L811.5 131.4L808.0 131.4L804.6 131.4L801.1 131.4L797.7 131.4L794.3 131.4L790.8 131.4L787.4 131.4L783.9 131.4L780.5 131.4L777.0 131.4L773.6 131.4L770.1 131.4L766.7 131.4L763.2 131.4L759.8 131.4L756.3 131.4L752.9 131.4L749.4 131.4L746.0 131.4L742.5 131.4L739.1 131.4L735.7 131.4L732.2 131.4L728.8 131.4L725.3 131.4L721.9 131.4L718.4 131.4L715.0 131.4L711.5 131.4L708.1 131.4L704.6 131.4L701.2 131.4L697.7 131.4L694.3 131.4L690.8 131.4L687.4 131.4L683.9 131.4L680.5 131.4L677.0 131.4L673.6 131.4L670.2 131.4L666.7 131.4L663.3 131.4L659.8 131.4L656.4 131.4L652.9 131.4L649.5 131.4L646.0 131.4L642.6 131.4L639.1 131.4L635.7 131.4L632.2 131.4L628.8 131.4L625.3 131.4L621.9 131.4L618.4 131.4L615.0 131.4L611.6 131.4L608.1 131.4L604.7 131.4L601.2 131.4L597.8 131.4L594.3 131.4L590.9 131.4L587.4 131.4L584.0 131.4L580.5 131.4L577.1 131.4L573.6 131.4L570.2 131.4L566.7 131.4L563.3 131.4L559.8 131.4L556.4 131.4L553.0 131.4L549.5 131.4L546.1 131.4L542.6 131.4L542.6 141.5L542.6 151.7L542.6 161.8L542.6 171.9L542.6 182.0L542.6 192.1L542.6 202.2L542.6 212.3L542.6 222.4L542.6 232.6L542.6 242.7L542.6 252.8L542.6 262.9L542.6 273.0L542.6 283.1L542.6 293.2L542.6 303.3L542.6 313.5L542.6 323.6L542.6 333.7L542.6 343.8L542.6 353.9L542.6 364.0L542.6 374.1L542.6 384.2L542.6 394.4L542.6 404.5L542.6 414.6L542.6 424.7L542.6 434.8L542.6 444.9L542.6 455.0L542.6 465.1L542.6 475.3L542.6 485.4L542.6 495.5L542.6 505.6L542.6 515.7L542.6 522.7L546.1 525.0L546.9 525.8L549.5 528.6L552.5 535.9L553.0 537.8L555.3 546.0L556.4 548.8L559.8 552.2L562.2 556.2L563.3 560.2L564.5 566.3L565.5 576.4L566.0 586.5L566.3 596.6L566.6 606.7L566.7 612.4L566.8 616.8L568.0 626.9L569.7 637.1ZM603.9 424.7L602.0 414.6L604.7 407.1L608.1 406.4L611.6 406.4L615.0 406.4L618.4 406.4L621.9 413.7L622.1 414.6L621.9 416.1L619.9 424.7L618.4 426.8L615.0 426.8L611.6 426.8L608.1 426.8L604.7 426.1ZM723.8 262.9L721.9 261.2L719.8 252.8L721.9 242.8L722.0 242.7L725.3 239.2L728.8 237.8L732.2 236.2L735.7 234.2L739.1 236.7L740.1 242.7L740.5 252.8L739.1 259.2L736.6 262.9L735.7 263.8L732.2 263.8L728.8 263.8L725.3 263.8ZM818.4 598.3L821.8 596.6L821.8 596.6L825.3 587.0L825.4 586.5L827.4 576.4L827.4 566.3L827.4 556.2L827.4 546.0L827.4 535.9L827.4 525.8L827.4 515.7L827.4 505.6L827.1 495.5L825.3 487.9L821.8 487.9L818.4 487.9L814.9 487.9L811.5 487.9L808.0 487.9L804.6 487.9L801.1 487.9L797.7 491.7L796.6 495.5L796.1 505.6L796.1 515.7L796.1 525.8L796.1 535.9L795.9 546.0L794.7 556.2L797.7 563.1L799.8 566.3L801.1 568.2L804.6 574.6L805.3 576.4L808.0 583.4L809.4 586.5L811.5 590.3L814.9 594.9L816.5 596.6ZM766.7 528.6L770.1 528.6L773.6 528.6L777.0 528.6L780.0 525.8L780.5 525.2L782.8 515.7L783.9 511.8L787.1 505.6L787.4 504.4L788.6 495.5L787.4 491.1L783.9 487.9L780.5 487.9L777.0 487.9L773.6 487.9L770.1 487.9L766.7 487.9L763.2 487.9L759.8 487.9L756.3 490.9L754.9 495.5L756.3 505.0L756.5 505.6L759.8 512.0L760.8 515.7L763.2 523.4L764.6 525.8ZM646.0 507.0L649.5 508.3L652.9 508.3L654.1 505.6L656.4 499.6L657.7 495.5L659.8 489.3L663.3 487.9L666.7 487.9L670.2 487.9L673.6 487.9L675.5 485.4L677.0 480.5L678.0 475.3L677.0 467.5L673.6 467.5L670.2 467.5L666.7 468.7L663.3 471.5L659.8 472.6L656.4 472.6L652.9 472.3L649.5 470.4L646.0 468.8L643.8 475.3L643.3 485.4L643.3 495.5L645.3 505.6ZM808.0 467.5L811.5 467.5L814.9 467.5L818.4 467.5L821.8 467.5L825.3 467.5L826.2 465.1L826.4 455.0L825.3 452.7L821.8 448.3L819.5 444.9L818.4 442.4L816.9 434.8L816.9 424.7L816.9 414.6L816.9 404.5L816.9 394.4L816.9 384.2L816.9 374.1L816.9 364.0L816.6 353.9L814.9 348.0L811.5 345.3L808.0 345.3L804.6 345.3L803.0 353.9L803.0 364.0L803.0 374.1L801.1 382.8L800.5 384.2L797.7 389.8L796.5 394.4L796.1 404.5L796.1 414.6L797.7 420.4L799.3 424.7L801.1 429.8L802.6 434.8L803.0 444.9L803.0 455.0L804.6 463.2L805.7 465.1Z" fill="#AA0000" fill-rule="evenodd" stroke="#AA0000" stroke-width="0.6"/>
<path d="M542.6 1170.3L546.1 1167.4L549.5 1163.6L550.0 1162.9L553.0 1158.2L555.4 1152.8L556.4 1150.2L559.5 1142.7L559.8 1142.0L563.3 1136.5L566.7 1132.6L566.8 1132.6L570.2 1129.7L572.3 1132.6L573.6 1134.3L577.1 1139.4L579.4 1142.7L580.5 1145.1L584.0 1152.2L584.3 1152.8L584.3 1162.9L584.3 1173.0L584.3 1183.1L585.2 1193.2L587.4 1198.2L590.6 1203.4L590.9 1203.8L594.3 1207.7L597.8 1210.7L601.2 1213.5L601.2 1213.5L604.7 1217.2L608.1 1222.4L608.8 1223.6L611.2 1233.7L608.1 1240.4L606.0 1243.8L604.7 1245.5L601.2 1249.3L597.8 1252.1L595.5 1253.9L594.3 1255.0L590.9 1259.0L587.7 1264.0L587.4 1264.7L584.0 1273.0L583.6 1274.1L580.5 1280.8L578.4 1284.3L577.1 1286.0L573.6 1289.8L570.2 1292.3L566.7 1289.4L563.3 1285.5L562.4 1284.3L559.8 1280.0L557.2 1274.1L556.4 1271.9L553.1 1264.0L553.0 1263.8L549.5 1258.5L546.1 1254.6L545.3 1253.9L542.6 1251.8M542.6 1088.8L546.1 1088.8L549.5 1088.8L553.0 1088.8L556.4 1088.8L559.8 1088.8L563.3 1088.8L566.7 1088.8L570.2 1088.8L572.6 1092.1L573.6 1093.6L577.1 1098.6L579.6 1102.2L580.5 1103.7L584.0 1108.7L586.4 1112.3L587.4 1113.8L590.9 1118.8L593.3 1122.5L594.3 1123.9L597.8 1128.9L600.2 1132.6L601.2 1134.0L604.7 1139.1L607.1 1142.7L608.1 1144.4L611.6 1150.3L613.1 1152.8L615.0 1157.0L618.4 1162.7L618.6 1162.9L621.9 1166.8L625.3 1169.8L628.8 1172.2L630.3 1173.0L632.2 1174.0L635.7 1175.6L639.1 1176.8L642.6 1177.9L646.0 1178.8L649.5 1179.6L652.9 1180.3L656.4 1182.0L658.2 1183.1L659.8 1184.5L663.3 1187.7L666.7 1191.2L668.6 1193.2L670.2 1196.9L673.6 1202.9L673.9 1203.4L677.0 1207.1L680.5 1210.2L683.9 1211.0L687.4 1211.0L690.8 1211.0L694.3 1211.0L697.7 1211.0L701.2 1211.0L704.6 1211.0L708.1 1211.0L711.5 1212.8L712.3 1213.5L715.0 1216.3L718.4 1221.0L719.9 1223.6L721.9 1228.0L724.0 1233.7L725.3 1236.8L728.8 1243.1L729.3 1243.8L732.2 1247.4L735.7 1250.7L739.1 1251.8L742.5 1251.8L746.0 1251.8L749.4 1251.8L752.9 1251.8L756.3 1251.8L759.8 1251.8L763.2 1251.8L766.7 1251.8L770.1 1251.8L773.6 1251.8L777.0 1251.8L780.5 1251.8L783.9 1251.8L787.4 1251.8L790.8 1251.8L793.9 1253.9L794.3 1254.1L797.7 1259.2L801.0 1264.0L801.1 1264.3L804.6 1270.6L806.5 1274.1L806.5 1284.3L806.5 1294.4L806.5 1304.5L807.1 1314.6L808.0 1316.9L811.5 1323.6L812.2 1324.7L814.9 1328.2L818.4 1331.6L821.8 1334.3L822.4 1334.8L825.3 1337.6L828.7 1341.9L830.5 1344.9L832.2 1348.3L834.8 1355.0L835.6 1357.1L839.1 1364.0L839.8 1365.2L842.5 1368.7L846.0 1372.2L849.4 1374.0L852.9 1374.0L856.3 1374.0L859.7 1374.0L863.2 1374.0L866.6 1374.0L870.1 1374.0L873.5 1374.0L877.0 1374.7L877.6 1375.3L880.4 1377.9L883.9 1382.1L885.9 1385.4L887.3 1388.8L889.5 1395.5L887.3 1400.6L884.5 1405.6L883.9 1406.6L880.4 1410.8L877.0 1413.9L873.5 1414.7L870.1 1414.7L866.6 1414.7L863.2 1414.7L859.7 1414.7L856.3 1414.7L852.9 1414.7L849.4 1414.7L846.0 1414.7L842.5 1414.7L839.1 1414.7L835.6 1414.7L832.2 1414.7L828.7 1414.7L825.3 1414.7L821.8 1414.7L818.4 1414.7L814.9 1414.7L811.5 1414.7L808.0 1414.7L804.6 1414.7L801.1 1414.7L797.7 1414.7L794.3 1414.7L790.8 1414.7L787.4 1414.7L783.9 1414.7L780.5 1414.7L777.0 1414.7L773.6 1414.7L770.1 1414.7L766.7 1414.7L763.2 1413.5L759.8 1410.2L756.3 1405.7L756.3 1405.6L752.9 1399.3L751.4 1395.5L749.4 1390.4L747.0 1385.4L746.0 1383.6L742.5 1379.0L739.1 1375.6L738.5 1375.3L735.7 1374.0L732.2 1374.0L728.8 1374.0L725.3 1374.0L721.9 1374.0L718.4 1374.0L715.0 1374.0L711.5 1374.0L708.1 1374.0L704.6 1374.0L701.2 1374.0L697.7 1374.0L694.3 1374.0L690.8 1374.0L687.4 1374.0L683.9 1374.0L680.5 1372.5L677.0 1367.4L675.5 1365.2L673.6 1362.4L670.2 1357.3L668.6 1355.0L666.7 1350.4L663.9 1344.9L663.3 1343.9L659.8 1338.9L656.4 1335.4L655.5 1334.8L652.9 1333.2L649.5 1333.2L646.0 1333.2L642.6 1333.2L639.1 1333.2L635.7 1333.2L632.2 1333.2L628.8 1333.2L625.3 1333.2L621.9 1333.2L618.4 1333.2L615.0 1333.2L611.6 1333.2L608.1 1333.2L604.7 1333.2L601.2 1333.2L597.8 1333.2L594.3 1333.2L590.9 1333.2L587.4 1333.2L584.0 1333.2L580.5 1333.2L577.1 1333.2L573.6 1333.2L570.2 1333.2L566.7 1333.2L563.3 1333.2L559.8 1333.2L556.4 1333.2L553.0 1333.2L549.5 1333.2L546.1 1333.2L542.6 1333.2M542.6 1455.5L546.1 1455.5L549.5 1455.5L553.0 1455.5L556.4 1455.5L559.8 1455.5L563.3 1455.5L566.7 1455.5L570.2 1455.5L573.6 1455.5L577.1 1455.5L580.5 1455.5L584.0 1455.5L587.4 1455.5L590.9 1455.5L594.3 1455.5L597.8 1455.5L598.8 1456.2L601.2 1458.0L604.7 1461.7L607.8 1466.3L608.1 1466.9L611.6 1475.4L611.9 1476.4L611.6 1477.3L608.1 1484.8L607.1 1486.5L604.7 1490.0L601.2 1493.7L597.8 1496.2L594.3 1496.2L590.9 1496.2L587.4 1496.2L584.0 1496.2L580.5 1496.2L577.1 1496.2L573.6 1496.2L570.2 1496.2L566.7 1496.2L563.3 1496.2L559.8 1496.2L556.4 1496.2L553.0 1496.2L549.5 1496.2L546.1 1496.2L542.6 1496.2M1014.9 1455.5L1011.4 1455.5L1008.0 1455.5L1004.5 1455.5L1001.1 1455.5L997.6 1455.5L994.2 1455.5L990.7 1455.5L987.3 1455.5L983.8 1455.5L980.4 1455.5L977.0 1455.5L973.5 1455.5L970.1 1455.5L966.6 1455.5L963.2 1455.5L959.7 1455.5L956.3 1455.5L952.8 1455.5L949.4 1455.5L945.9 1455.5L942.5 1455.5L939.0 1455.5L935.6 1455.5L932.1 1455.5L928.7 1455.5L925.2 1455.5L921.8 1455.5L918.3 1455.5L914.9 1455.5L911.5 1455.5L908.0 1455.5L904.6 1455.5L901.1 1455.5L897.7 1455.5L894.2 1455.5L890.8 1455.5L887.3 1455.5L883.9 1455.5L880.4 1455.5L877.0 1455.5L873.5 1455.5L870.1 1455.5L866.6 1455.5L863.2 1455.5L859.7 1455.5L856.3 1455.5L852.9 1455.5L849.4 1455.5L847.9 1456.2L846.0 1457.2L842.5 1460.7L839.1 1465.4L838.5 1466.3L835.6 1471.5L833.5 1476.4L832.2 1477.4L828.7 1479.9L825.3 1482.4L821.8 1485.0L818.4 1486.0L814.9 1486.0L811.5 1486.0L808.0 1486.0L804.6 1486.0L801.1 1486.0L797.7 1486.0L794.3 1486.0L790.8 1485.0L787.4 1482.8L783.9 1480.3L780.5 1477.4L779.3 1476.4L777.0 1470.9L774.5 1466.3L773.6 1464.8L770.1 1460.2L766.7 1456.9L765.0 1456.2L763.2 1455.5L759.8 1455.5L756.3 1455.5L752.9 1455.5L749.4 1455.5L746.0 1455.5L742.5 1455.5L739.1 1455.5L735.7 1454.4L732.2 1451.1L728.8 1446.8L728.3 1446.1L725.3 1440.5L723.5 1435.9L721.9 1431.6L719.1 1425.8L718.4 1424.7L715.0 1419.9L711.5 1416.5L710.1 1415.7L708.1 1414.7L704.6 1414.7L701.2 1414.7L697.7 1414.7L694.3 1414.7L690.8 1414.7L687.4 1414.7L683.9 1414.7L680.5 1413.9L677.0 1410.8L673.6 1406.6L672.9 1405.6L670.2 1400.6L668.0 1395.5L666.7 1393.5L663.3 1388.2L661.5 1385.4L659.8 1382.9L656.4 1377.8L653.6 1375.3L652.9 1374.6L652.1 1375.3L649.5 1377.7L646.0 1381.8L643.8 1385.4L642.6 1387.7L639.4 1395.5L639.1 1396.3L635.7 1403.7L634.5 1405.6L632.2 1408.8L628.8 1412.4L625.3 1414.7L621.9 1414.7L618.4 1414.7L615.0 1414.7L611.6 1414.7L608.1 1414.7L604.7 1414.7L601.2 1414.7L597.8 1414.4L594.3 1411.4L590.9 1407.5L589.6 1405.6L587.4 1401.9L584.7 1395.5L584.0 1393.5L580.5 1385.7L580.4 1385.4L577.1 1380.4L573.6 1376.7L572.0 1375.3L570.2 1374.0L566.7 1374.0L563.3 1374.0L559.8 1374.0L556.4 1374.0L553.0 1374.0L549.5 1374.0L546.1 1374.0L542.6 1374.0M542.6 1017.5L546.1 1020.5L547.1 1021.3L549.5 1024.0L553.0 1027.4L556.4 1030.3L557.9 1031.4L559.8 1035.6L563.3 1041.1L563.7 1041.6L566.7 1045.0L570.2 1047.9L572.8 1051.7L573.6 1052.8L577.1 1057.9L579.7 1061.8L580.5 1062.9L584.0 1068.0L586.6 1071.9L587.4 1073.0L590.9 1078.1L593.5 1082.0L594.3 1083.2L597.8 1088.2L600.4 1092.1L601.2 1093.3L604.7 1098.3L607.3 1102.2L608.1 1103.4L611.6 1108.4L614.2 1112.3L615.0 1113.5L618.4 1118.5L621.1 1122.5L621.9 1123.6L625.3 1128.6L628.0 1132.6L628.8 1133.7L632.2 1138.8L634.9 1142.7L635.7 1143.7L639.1 1148.1L642.6 1152.3L643.0 1152.8L646.0 1155.2L649.5 1157.6L652.9 1159.6L656.4 1160.6L659.8 1161.3L663.3 1162.2L665.8 1162.9L666.7 1163.2L670.2 1164.4L673.6 1165.8L677.0 1167.5L680.5 1169.6L683.9 1171.9L685.8 1173.0L687.4 1173.8L690.8 1175.4L694.3 1176.7L697.7 1177.8L701.2 1178.7L704.6 1179.5L708.1 1180.2L711.5 1180.5L715.0 1180.5L718.4 1180.5L721.9 1180.5L725.3 1180.5L728.8 1180.5L732.2 1180.5L735.7 1180.5L739.1 1182.0L740.7 1183.1L742.5 1184.9L746.0 1188.1L749.4 1191.1L751.9 1193.2L752.9 1195.6L756.3 1202.0L757.3 1203.4L759.8 1206.5L763.2 1209.8L766.7 1212.3L768.7 1213.5L770.1 1214.3L773.6 1215.9L777.0 1217.2L780.5 1218.3L783.9 1219.3L787.4 1220.1L790.8 1220.9L794.3 1222.1L796.7 1223.6L797.7 1224.3L801.1 1227.1L804.6 1230.1L808.0 1233.6L808.1 1233.7L811.5 1238.7L814.9 1243.7L815.0 1243.8L818.4 1248.8L821.8 1251.8L825.3 1251.8L828.7 1251.8L832.2 1251.8L835.6 1251.8L839.1 1251.8L842.5 1251.8L846.0 1251.8L849.4 1252.7L850.9 1253.9L852.9 1255.9L856.3 1260.2L858.6 1264.0L859.7 1266.8L862.1 1274.1L862.1 1284.3L862.1 1294.4L862.1 1304.5L862.7 1314.6L863.2 1315.9L866.6 1322.9L867.8 1324.7L870.1 1327.8L873.5 1331.3L877.0 1333.2L880.4 1333.2L883.9 1333.2L887.3 1333.2L890.8 1333.2L894.2 1333.2L897.7 1333.2L901.1 1333.2L904.6 1333.2L908.0 1333.2L911.5 1333.2L914.9 1333.2L918.3 1333.2L921.8 1333.2L925.2 1333.2L928.7 1333.2L932.1 1332.8L935.6 1329.8L939.0 1325.7L939.7 1324.7L942.5 1320.0L944.8 1314.6L945.9 1311.5L949.0 1304.5L949.4 1303.8L952.8 1298.7L956.3 1295.0L957.1 1294.4L959.7 1292.5L963.2 1292.5L966.6 1292.5L970.1 1292.5L973.5 1292.5L977.0 1292.5L980.4 1292.5L983.8 1292.5L987.3 1292.5L990.7 1292.5L994.2 1292.5L997.6 1292.5L1001.1 1292.5L1004.5 1292.5L1008.0 1292.5L1011.4 1292.5L1014.9 1292.5M1014.9 599.9L1011.4 597.0L1011.0 596.6L1008.0 593.2L1004.5 587.9L1003.8 586.5L1001.1 576.8L1001.0 576.4L1001.0 566.3L1001.0 556.2L1001.0 546.0L1001.1 545.0L1002.0 535.9L1004.5 530.5L1007.5 525.8L1008.0 525.2L1011.4 521.3L1014.9 518.5M973.5 426.3L972.4 424.7L970.1 416.8L969.7 414.6L969.7 404.5L970.1 399.7L970.6 394.4L973.5 391.0L977.0 389.3L980.4 386.4L983.3 394.4L981.3 404.5L980.4 406.0L977.1 414.6L977.0 415.2L974.4 424.7L973.5 426.3M1014.9 1496.2L1011.4 1496.2L1008.0 1496.2L1004.5 1496.2L1001.1 1496.2L997.6 1496.2L994.2 1496.2L990.7 1496.2L987.3 1496.2L983.8 1496.2L980.4 1496.2L977.0 1496.2L973.5 1496.2L970.1 1496.2L966.6 1496.2L963.2 1496.2L959.7 1496.2L956.3 1496.2L952.8 1496.2L949.4 1496.2L945.9 1496.2L942.5 1496.2L939.0 1496.2L935.6 1496.2L932.1 1496.2L928.7 1496.2L925.2 1496.2L921.8 1496.2L918.3 1496.2L914.9 1496.2L911.5 1496.2L908.0 1496.2L904.6 1496.2L901.1 1496.2L897.7 1496.2L894.2 1496.2L890.8 1496.2L887.3 1496.2L883.9 1496.2L880.4 1496.2L877.0 1496.2L873.5 1494.6L870.1 1492.6L866.6 1491.1L863.2 1489.8L859.7 1488.7L856.3 1487.7L852.9 1486.9L850.8 1486.5L849.4 1486.2L848.7 1486.5L846.0 1487.6L842.5 1490.2L839.1 1492.7L835.6 1495.2L833.7 1496.6L832.2 1497.8L828.7 1500.3L825.3 1502.8L821.8 1505.3L818.4 1506.4L814.9 1506.4L811.5 1506.4L808.0 1506.4L804.6 1506.4L801.1 1506.4L797.7 1506.4L794.3 1506.4L790.8 1506.0L787.4 1505.3L783.9 1504.5L780.5 1503.5L777.0 1502.4L773.6 1501.1L770.1 1499.4L766.7 1497.4L764.4 1496.6L763.2 1496.2L759.8 1496.2L756.3 1496.2L752.9 1496.2L749.4 1496.2L746.0 1496.2L742.5 1496.2L739.1 1496.2L735.7 1496.2L732.2 1496.2L728.8 1496.2L725.3 1496.2L721.9 1496.2L718.4 1496.2L715.0 1496.2L711.5 1496.2L708.1 1496.2L704.6 1496.2L701.2 1496.2L697.7 1496.2L694.3 1496.2L690.8 1496.2L687.4 1496.2L683.9 1496.2L680.5 1494.7L677.0 1489.6L674.9 1486.5L673.6 1484.6L670.2 1479.5L668.0 1476.4L666.7 1473.0L663.4 1466.3L663.3 1466.1L659.8 1461.2L656.4 1457.6L653.2 1456.2L652.9 1456.1L652.8 1456.2L649.5 1459.1L646.0 1463.3L644.1 1466.3L642.6 1469.1L639.6 1476.4L639.1 1478.0L637.0 1486.5L635.7 1493.2L635.1 1496.6L633.8 1506.7L632.7 1516.8L632.2 1517.8L628.8 1523.3L625.3 1526.7L621.9 1526.7L618.4 1526.7L615.0 1526.7L611.6 1526.7L608.1 1526.7L604.7 1526.7L601.2 1526.7L597.8 1526.7L594.3 1526.7L590.9 1526.7L587.4 1526.7L584.0 1526.7L580.5 1526.7L577.1 1526.7L573.6 1526.7L570.2 1526.8L569.2 1527.0L566.7 1527.5L563.3 1528.2L559.8 1529.1L556.4 1530.2L553.0 1531.4L549.5 1532.9L546.1 1534.7L542.6 1536.9M542.6 997.1L545.9 1001.1L546.1 1001.3L549.5 1005.0L553.0 1008.3L556.3 1011.2L556.4 1011.3L559.8 1014.0L563.3 1016.5L566.7 1018.7L570.2 1020.8L571.8 1021.3L573.6 1022.3L577.1 1024.1L580.5 1026.3L584.0 1028.9L586.8 1031.4L587.4 1032.3L590.9 1037.4L593.7 1041.6L594.3 1042.4L597.8 1047.5L600.6 1051.7L601.2 1052.5L604.7 1057.6L607.5 1061.8L608.1 1062.6L611.6 1067.7L614.4 1071.9L615.0 1072.7L618.4 1077.8L621.3 1082.0L621.9 1082.9L625.3 1087.9L628.8 1091.1L629.8 1092.1L632.2 1094.8L635.7 1099.8L637.0 1102.2L639.1 1106.1L642.0 1112.3L642.6 1113.2L646.0 1118.2L648.9 1122.5L649.5 1123.3L652.9 1128.4L656.4 1129.5L659.8 1129.5L663.3 1129.5L666.7 1129.5L670.2 1129.5L673.6 1129.5L677.0 1129.5L680.5 1129.5L683.4 1132.6L683.9 1133.1L687.4 1138.2L690.5 1142.7L690.8 1143.2L694.3 1147.6L697.7 1151.8L698.6 1152.8L701.2 1154.9L704.6 1157.3L708.1 1159.4L711.5 1160.1L715.0 1160.1L718.4 1160.1L721.9 1160.1L725.3 1160.1L728.8 1160.1L732.2 1160.1L735.7 1160.1L739.1 1161.6L740.9 1162.9L742.5 1164.1L746.0 1166.6L749.4 1169.2L752.9 1171.7L754.7 1173.0L756.3 1174.2L759.8 1176.7L763.2 1179.3L766.7 1181.5L769.3 1183.1L770.1 1183.7L773.6 1186.3L777.0 1189.2L780.5 1192.2L781.6 1193.2L783.9 1195.1L787.4 1197.6L790.8 1199.8L794.3 1201.1L797.7 1201.9L801.1 1202.7L803.7 1203.4L804.6 1203.6L808.0 1204.7L811.5 1206.1L814.9 1207.7L818.4 1209.6L821.8 1211.0L825.3 1211.0L828.7 1211.0L832.2 1211.0L835.6 1211.0L839.1 1211.0L842.5 1211.0L846.0 1211.0L849.4 1211.0L852.9 1211.0L856.3 1211.0L859.7 1211.0L863.2 1211.0L866.6 1211.0L870.1 1211.0L873.5 1211.0L877.0 1210.2L880.4 1207.1L883.6 1203.4L883.9 1202.9L887.3 1196.9L888.9 1193.2L890.8 1191.2L894.2 1187.7L897.7 1184.5L899.3 1183.1L901.1 1182.0L904.6 1180.5L908.0 1180.5L911.5 1180.5L914.9 1180.5L918.3 1180.5L921.8 1180.5L925.2 1180.5L928.7 1180.5L932.1 1180.4L935.6 1179.7L939.0 1178.9L942.5 1178.0L945.9 1176.9L949.4 1175.6L952.8 1174.1L955.0 1173.0L956.3 1172.3L959.7 1170.3L963.2 1170.3L966.6 1170.3L970.1 1170.3L973.5 1170.3L977.0 1170.3L980.4 1170.3L983.8 1170.3L987.3 1170.3L990.7 1170.3L994.2 1170.3L997.6 1170.3L1001.1 1170.3L1004.5 1170.3L1008.0 1170.3L1011.4 1170.3L1014.9 1170.3M1014.9 885.1L1011.4 885.1L1008.0 885.1L1004.5 885.1L1001.1 885.1L997.6 885.1L994.2 885.1L990.7 885.1L987.3 885.1L983.8 882.4L981.3 879.8L980.4 878.6L977.0 873.4L975.1 869.6L975.2 859.5L977.0 856.1L980.4 850.8L981.6 849.4L983.8 847.1L987.3 844.4L990.7 844.4L994.2 844.4L997.6 844.4L1001.1 844.4L1004.5 844.4L1008.0 844.4L1011.4 844.4L1014.9 844.4M1014.9 803.6L1011.4 800.7L1009.6 798.9L1008.0 796.9L1004.5 791.5L1003.1 788.7L1001.1 779.2L1001.0 778.6L1001.0 768.5L1001.0 758.4L1001.0 748.3L1001.1 747.6L1002.6 738.2L1004.5 734.2L1008.0 728.9L1008.6 728.1L1011.4 725.0L1014.9 722.2M542.6 762.9L546.1 767.9L546.5 768.5L549.5 773.0L553.0 778.1L553.3 778.6L556.4 788.5L556.5 788.7L556.5 798.9L559.8 803.6L563.3 803.6L566.7 803.6L570.2 803.6L573.6 806.3L576.2 809.0L577.1 810.1L580.5 815.3L582.4 819.1L582.2 829.2L580.5 832.7L577.1 837.9L575.9 839.3L573.6 841.7L570.2 844.2L566.7 841.3L564.9 839.3L563.3 837.4L559.8 831.9L558.5 829.2L556.5 819.1L556.5 809.0L556.4 803.6L553.0 803.6L549.5 803.6L546.1 803.6L542.6 803.6M1014.9 681.4L1011.4 678.5L1010.4 677.5L1008.0 674.7L1004.5 669.3L1003.5 667.4L1001.1 661.3L999.6 657.3L997.6 653.1L994.2 647.7L993.8 647.2L990.7 643.8L987.3 640.8L983.8 638.0L982.9 637.1L980.4 634.2L977.0 629.0L975.9 626.9L973.5 621.1L971.9 616.8L970.1 612.8L966.6 607.2L966.3 606.7L963.2 603.2L959.7 600.2L956.3 597.4L955.4 596.6L952.8 593.7L949.4 588.6L948.3 586.5L945.9 578.5L945.4 576.4L945.4 566.3L945.4 556.2L945.4 546.0L944.4 535.9L942.5 531.7L939.0 526.0L938.9 525.8L935.6 521.9L932.1 518.9L928.7 520.8L925.2 524.4L924.2 525.8L921.8 529.4L918.7 535.9L918.3 539.1L917.6 546.0L917.6 556.2L917.6 566.3L917.6 576.4L917.6 586.5L917.6 596.6L917.6 606.7L917.6 616.8L917.6 626.9L917.6 637.1L917.6 647.2L917.6 657.3L915.1 667.4L914.9 667.7L911.5 673.6L908.2 677.5L908.0 677.7L904.6 680.8L901.1 679.3L899.3 677.5L897.7 675.7L894.2 670.8L892.4 667.4L890.8 661.3L889.9 657.3L889.9 647.2L889.9 637.1L889.9 626.9L889.9 616.8L889.9 606.7L889.9 596.6L889.9 586.5L889.9 576.4L889.9 566.3L889.9 556.2L889.9 546.0L889.9 535.9L889.9 525.8L889.9 515.7L889.9 505.6L889.9 495.5L889.9 485.4L889.9 475.3L889.9 465.1L890.8 459.7L891.6 455.0L894.2 452.5L897.7 450.0L901.1 448.2L904.6 447.2L908.0 447.2L911.5 447.2L914.9 447.2L918.3 447.2L921.8 447.2L925.2 446.1L925.8 444.9L927.6 434.8L925.2 427.9L921.8 426.8L918.3 426.8L914.9 426.8L911.5 426.8L908.0 426.8L904.6 426.8L901.1 426.8L897.7 426.8L896.1 424.7L894.2 418.1L893.7 414.6L894.2 412.5L897.7 405.0L897.9 404.5L900.6 394.4L901.1 392.3L904.6 386.1L908.0 386.1L911.5 386.1L914.9 386.1L918.3 386.1L921.8 386.1L925.2 386.1L928.7 386.1L932.1 386.1L935.6 386.1L939.0 386.1L942.5 386.1L945.9 386.1L949.4 386.1L952.8 385.3L953.4 384.2L955.8 374.1L955.8 364.0L955.8 353.9L955.8 343.8L956.1 333.7L956.3 332.9L959.7 324.9L963.2 324.9L966.6 324.4L967.1 323.6L970.1 315.2L970.5 313.5L973.5 310.0L976.0 313.5L977.0 317.6L979.3 323.6L980.4 325.3L983.8 328.5L987.3 330.0L990.7 330.0L994.2 330.0L997.6 330.0L1001.1 330.1L1003.7 333.7L1004.5 337.3L1007.1 343.8L1008.0 345.3L1011.4 345.3L1014.9 345.3M542.6 599.9L543.9 606.7L545.6 616.8L546.1 624.4L546.2 626.9L546.5 637.1L546.8 647.2L547.1 657.3L546.2 667.4L546.1 668.0L543.8 677.5L542.6 681.4M870.1 961.1L869.7 960.7L866.6 956.3L863.7 950.5L863.2 949.1L859.8 940.4L859.7 940.4L856.3 934.2L853.2 930.3L852.9 930.0L849.4 926.8L846.0 925.8L842.5 925.8L839.1 925.8L835.6 925.8L832.2 925.8L828.7 925.8L825.3 925.8L821.8 925.8L818.4 924.2L814.9 920.8L814.4 920.2L811.5 916.2L808.3 910.1L808.7 900.0L811.5 894.7L814.9 890.1L815.1 889.9L818.4 886.7L821.8 884.0L825.3 880.8L826.2 879.8L828.7 876.4L832.2 870.2L832.4 869.6L835.6 865.6L839.1 861.2L840.4 859.5L842.5 858.0L846.0 855.8L849.4 855.2L852.9 857.4L856.0 859.5L856.3 859.9L859.7 864.3L863.2 868.6L864.0 869.6L866.6 874.8L870.1 879.6L870.2 879.8L873.5 883.2L877.0 884.3L880.4 881.2L881.7 879.8L883.9 877.0L887.3 871.0L888.0 869.6L890.8 864.7L893.4 859.5L894.2 858.3L897.7 853.3L900.3 849.4L901.1 848.2L904.6 845.0L908.0 848.1L909.3 849.4L911.5 852.2L914.9 858.0L915.6 859.5L918.3 866.6L919.5 869.6L921.8 874.1L925.2 879.1L925.8 879.8L928.7 882.8L932.1 885.6L935.6 888.6L936.8 889.9L939.0 892.6L942.5 898.4L943.3 900.0L943.6 910.1L942.5 912.6L939.0 918.3L937.5 920.2L935.6 922.4L932.1 925.4L928.7 925.8L925.2 925.8L921.8 925.8L918.3 925.8L914.9 925.8L911.5 925.8L908.0 925.8L904.6 925.8L901.1 928.0L898.7 930.3L897.7 931.6L894.2 936.5L892.2 940.4L890.8 943.9L888.2 950.5L887.3 952.5L883.9 958.5L882.2 960.7L880.4 962.7L877.0 965.8L873.5 964.6L870.1 961.1M983.8 963.9L980.8 960.7L980.4 960.1L977.0 954.9L974.9 950.5L975.5 940.4L977.0 937.6L980.4 932.3L982.1 930.3L983.8 928.5L987.3 926.0L990.7 928.9L992.1 930.3L994.2 932.8L997.6 938.3L998.7 940.4L999.3 950.5L997.6 954.1L994.2 959.6L993.3 960.7L990.7 963.5L987.3 966.4L983.8 963.9M856.3 426.8L855.2 424.7L852.9 419.4L851.3 414.6L849.4 408.6L847.2 404.5L846.0 401.0L844.7 394.4L844.7 384.2L845.0 374.1L846.0 370.5L849.4 367.2L852.9 369.8L856.3 370.8L859.7 370.8L863.2 372.1L864.6 374.1L865.6 384.2L865.6 394.4L865.6 404.5L865.6 414.6L863.3 424.7L863.2 424.8L859.7 426.8L856.3 426.8M970.1 375.2L973.5 379.9L976.7 374.1L976.7 364.0L976.4 353.9L973.5 345.8L970.1 353.7L970.0 353.9L969.7 364.0L969.7 374.1L970.1 375.2M667.6 1557.3L667.6 1547.2L667.6 1537.1L667.6 1527.0L667.6 1516.8L666.7 1515.5L663.3 1510.3L660.9 1506.7L659.8 1505.1L656.4 1500.1L652.9 1498.0L649.6 1506.7L649.5 1507.3L646.7 1516.8L646.0 1520.6L644.4 1527.0L642.6 1531.9L639.7 1537.1L639.1 1537.9L635.7 1541.6L632.2 1544.1L628.8 1546.0L625.3 1547.1L621.9 1547.1L618.4 1547.1L615.0 1547.1L611.6 1547.1L608.1 1547.1L604.7 1547.1L601.2 1547.1L597.8 1547.1L594.3 1547.1L590.9 1547.1L587.4 1547.1L584.0 1547.1L580.5 1547.1L577.1 1547.1L573.6 1547.1L571.4 1547.2L570.2 1547.2L566.7 1549.3L563.3 1551.6L559.8 1554.3L556.5 1557.3M751.0 1557.3L749.4 1553.3L746.4 1547.2L746.0 1546.6L742.5 1541.9L739.1 1538.5L735.7 1538.0L732.2 1541.3L728.8 1545.6L727.8 1547.2L725.3 1551.9L723.2 1557.3M1014.9 1536.9L1011.4 1536.9L1008.0 1536.9L1004.5 1536.9L1001.1 1536.9L997.6 1536.9L994.2 1536.9L990.7 1536.9L987.3 1536.9L983.8 1536.9L980.4 1536.9L977.0 1536.9L973.5 1536.9L970.1 1536.9L966.6 1536.9L963.2 1536.9L959.7 1536.9L956.3 1536.9L952.8 1536.9L949.4 1536.9L945.9 1536.9L942.5 1536.9L939.0 1536.9L935.6 1536.9L932.1 1536.9L928.7 1536.9L925.2 1536.9L921.8 1536.9L918.3 1536.9L914.9 1536.9L911.5 1536.9L908.0 1536.9L904.6 1536.9L901.1 1536.9L897.7 1536.9L894.2 1536.9L890.8 1536.9L887.3 1536.9L883.9 1536.9L880.4 1536.9L877.0 1536.9L873.5 1535.0L870.1 1531.5L866.8 1527.0L866.6 1526.6L863.2 1519.6L862.2 1516.8L859.7 1514.6L856.3 1511.7L852.9 1509.2L849.4 1507.1L846.0 1508.0L842.5 1510.6L839.1 1513.2L835.6 1515.8L834.2 1516.8L832.2 1522.0L829.5 1527.0L828.7 1528.2L825.3 1532.6L821.8 1535.8L818.4 1536.9L814.9 1536.9L811.5 1536.9L808.0 1536.9L804.6 1536.9L801.1 1536.9L797.7 1536.9L794.3 1536.9L793.9 1537.1L790.8 1538.4L787.4 1541.7L783.9 1546.2L783.3 1547.2L780.5 1552.8L778.7 1557.3M542.6 966.6L545.0 970.8L546.1 973.3L548.3 980.9L549.5 983.3L552.8 991.0L553.0 991.2L556.4 995.0L559.8 998.5L562.7 1001.1L563.3 1001.6L566.7 1004.5L570.2 1007.2L573.6 1007.3L577.1 1007.3L580.5 1007.3L584.0 1007.3L587.4 1007.3L590.9 1007.3L594.3 1007.3L597.8 1007.3L600.8 1011.2L601.2 1011.8L604.7 1016.8L607.7 1021.3L608.1 1021.9L611.6 1026.9L614.6 1031.4L615.0 1032.0L618.4 1037.1L621.5 1041.6L621.9 1042.1L625.3 1047.2L628.8 1048.1L632.2 1048.1L635.7 1048.1L639.1 1048.1L642.6 1048.1L646.0 1048.1L649.5 1048.1L652.9 1048.1L656.1 1051.7L656.4 1051.9L659.8 1057.0L663.1 1061.8L663.3 1062.1L666.7 1068.3L668.9 1071.9L670.2 1074.7L673.6 1080.7L674.6 1082.0L677.0 1084.9L680.5 1088.0L683.7 1092.1L683.9 1092.4L687.4 1097.4L690.7 1102.2L690.8 1102.5L694.3 1107.5L697.6 1112.3L697.7 1112.6L701.2 1117.6L704.5 1122.5L704.6 1122.7L708.1 1127.8L711.5 1129.5L715.0 1129.5L718.4 1129.5L721.9 1129.5L725.3 1129.5L728.8 1129.5L732.2 1129.5L735.7 1129.5L739.1 1132.5L739.1 1132.6L742.5 1137.6L746.0 1142.6L746.0 1142.7L749.4 1146.6L752.9 1150.5L754.9 1152.8L756.3 1153.9L759.8 1156.4L763.2 1158.9L766.7 1160.4L770.1 1161.2L773.6 1162.0L776.9 1162.9L777.0 1163.0L780.5 1164.1L783.9 1165.4L787.4 1167.0L790.8 1169.0L794.3 1170.3L797.7 1170.3L801.1 1170.3L804.6 1170.3L808.0 1170.3L811.5 1170.3L814.9 1170.3L818.4 1170.3L821.8 1170.3L825.3 1170.3L828.7 1170.3L832.2 1170.3L835.6 1170.3L839.1 1170.3L842.5 1170.3L846.0 1170.3L849.4 1170.3L852.9 1170.3L856.3 1170.3L859.7 1170.3L863.2 1170.3L866.6 1170.3L870.1 1170.3L873.5 1170.3L877.0 1169.6L880.4 1167.5L883.9 1165.8L887.3 1164.4L890.8 1163.2L891.7 1162.9L894.2 1162.2L897.7 1161.3L901.1 1160.6L904.6 1160.1L908.0 1160.1L911.5 1160.1L914.9 1160.1L918.3 1160.1L921.8 1160.1L925.2 1160.1L928.7 1160.1L932.1 1159.8L935.6 1157.7L939.0 1155.3L942.2 1152.8L942.5 1152.4L945.9 1146.5L948.4 1142.7L949.4 1140.9L952.8 1135.7L955.7 1132.6L956.3 1132.0L959.7 1129.2L963.2 1126.3L966.5 1122.5L966.6 1122.3L970.1 1116.7L972.0 1112.3L970.4 1102.2L970.1 1101.7L966.6 1096.1L963.2 1092.1L963.2 1092.1L959.7 1089.1L956.3 1088.8L952.8 1088.8L949.4 1088.8L945.9 1088.8L942.5 1088.8L939.0 1088.8L935.6 1088.8L932.1 1088.8L928.7 1088.8L925.2 1088.8L921.8 1088.8L918.3 1088.8L914.9 1088.8L911.5 1088.8L908.0 1088.8L904.6 1088.8L901.1 1086.7L897.7 1083.1L896.8 1082.0L894.2 1078.2L891.2 1071.9L890.8 1070.9L887.3 1062.2L887.2 1061.8L883.9 1056.2L880.4 1052.0L880.2 1051.7L877.0 1048.8L873.5 1048.1L870.1 1048.1L866.6 1048.1L863.2 1048.1L859.7 1048.1L856.3 1048.1L852.9 1048.1L849.4 1048.1L846.0 1048.1L842.5 1048.1L839.1 1048.1L835.6 1048.1L832.2 1048.1L828.7 1048.1L825.3 1048.1L821.8 1048.1L818.4 1046.5L814.9 1043.1L813.7 1041.6L811.5 1038.4L808.0 1031.7L807.9 1031.4L806.5 1021.3L806.5 1011.2L806.5 1001.1L806.5 991.0L804.6 982.7L804.1 980.9L801.1 975.6L797.7 971.1L797.4 970.8L794.3 967.8L790.8 965.2L787.4 961.8L786.4 960.7L783.9 957.3L780.5 950.7L780.4 950.5L777.0 941.9L776.4 940.4L773.6 935.2L770.1 930.6L769.9 930.3L766.7 927.3L763.2 924.6L759.8 921.3L758.8 920.2L756.3 916.8L752.9 910.4L752.7 910.1L752.9 906.1L753.1 900.0L756.3 894.1L759.6 889.9L759.8 889.7L763.2 886.4L766.7 883.7L770.1 880.3L770.6 879.8L773.6 875.8L776.8 869.6L777.0 868.8L778.7 859.5L778.7 849.4L778.7 839.3L778.7 829.2L780.5 819.9L780.6 819.1L783.9 812.9L786.9 809.0L787.4 808.4L790.8 805.1L794.3 804.9L797.7 808.2L798.4 809.0L801.1 812.6L804.6 819.0L804.6 819.1L808.0 827.9L808.6 829.2L811.5 834.7L814.9 839.3L814.9 839.4L818.4 842.8L821.8 843.4L825.3 841.3L828.7 839.7L829.6 839.3L832.2 838.3L835.6 837.2L839.1 836.2L842.5 835.3L846.0 834.6L849.4 834.4L852.9 835.1L856.3 835.9L859.7 836.9L863.2 838.0L866.6 839.2L866.8 839.3L870.1 840.8L873.5 842.7L877.0 842.9L879.4 839.3L880.4 837.8L883.9 832.8L886.3 829.2L887.3 827.1L890.8 820.7L891.8 819.1L894.2 814.3L897.7 809.3L898.0 809.0L901.1 805.8L904.6 803.0L908.0 799.9L909.0 798.9L911.5 795.8L914.9 790.0L915.5 788.7L915.9 778.6L914.9 776.6L911.5 770.7L909.8 768.5L908.0 766.6L904.6 763.5L901.1 762.9L897.7 762.9L894.2 762.9L890.8 762.9L887.3 762.9L883.9 762.9L880.4 762.9L877.0 762.9L873.5 760.9L871.0 758.4L870.1 757.4L866.6 752.6L864.4 748.3L863.2 745.4L860.4 738.2L859.7 736.7L856.3 730.6L854.4 728.1L852.9 726.3L849.4 723.1L846.0 720.4L843.5 718.0L842.5 716.9L839.1 712.2L836.7 707.8L835.6 703.6L834.3 697.7L834.3 687.6L834.3 677.5L834.3 667.4L835.6 662.2L836.9 657.3L839.1 654.1L842.5 649.0L843.8 647.2L846.0 643.9L849.4 639.7L852.4 637.1L852.9 636.6L856.3 632.3L859.4 626.9L859.7 625.7L862.1 616.8L862.1 606.7L862.1 596.6L862.1 586.5L862.1 576.4L862.1 566.3L862.1 556.2L862.1 546.0L862.1 535.9L862.1 525.8L862.1 515.7L862.1 505.6L862.1 495.5L862.1 485.4L862.1 475.3L862.1 465.1L860.3 455.0L859.7 454.4L856.3 451.4L853.2 444.9L852.9 444.1L850.9 434.8L849.4 430.4L846.0 426.8L842.5 426.8L840.6 424.7L839.1 421.8L837.4 414.6L835.6 408.8L834.6 404.5L832.7 394.4L832.2 388.7L831.8 384.2L831.1 374.1L832.1 364.0L832.2 363.2L833.1 353.9L835.6 345.3L839.1 345.3L842.5 345.3L846.0 345.3L849.4 347.5L851.4 353.9L852.9 356.7L856.3 360.0L859.7 360.0L863.2 360.5L866.6 363.0L868.1 364.0L870.1 365.7L873.5 365.7L877.0 365.7L880.4 365.7L883.9 365.7L887.3 365.7L890.8 365.7L894.2 365.7L897.7 365.7L901.1 365.7L904.6 365.7L908.0 365.7L911.5 365.7L914.9 365.7L918.3 365.7L921.8 365.7L925.2 365.7L928.7 365.7L932.1 365.7L935.6 365.7L939.0 364.8L939.4 364.0L941.7 353.9L939.0 346.2L935.6 345.3L932.1 345.3L928.7 345.3L925.2 345.3L924.1 343.8L921.8 338.2L920.8 333.7L918.3 326.1L914.9 324.9L911.5 324.9L908.0 324.9L904.6 324.9L903.9 323.6L901.1 316.0L900.3 313.5L901.1 304.6L904.6 304.6L908.0 304.6L911.5 304.6L914.9 304.6L918.3 304.6L921.8 304.6L925.2 304.6L928.7 304.6L932.1 304.6L935.6 304.6L939.0 305.5L941.7 313.5L942.5 317.3L945.5 323.6L945.9 324.1L946.2 323.6L949.1 313.5L949.4 312.3L952.8 304.6L956.3 304.6L959.7 304.6L963.2 304.6L966.6 304.1L967.2 303.3L970.1 300.7L973.5 299.1L977.0 301.2L979.2 303.3L980.4 305.0L983.4 313.5L983.8 314.4L987.3 319.3L990.7 319.5L994.2 319.6L997.6 319.6L1001.1 319.6L1004.5 321.5L1006.9 323.6L1008.0 324.9L1011.4 324.9L1014.9 324.9M542.6 569.4L546.0 576.4L546.1 576.7L548.5 586.5L549.5 592.8L550.1 596.6L551.4 606.7L552.7 616.8L553.0 620.6L553.5 626.9L554.2 637.1L555.1 647.2L556.1 657.3L556.4 665.2L556.5 667.4L556.5 677.5L556.5 687.6L556.5 697.7L556.5 707.8L556.5 718.0L556.5 728.1L556.5 738.2L559.8 746.8L560.4 748.3L563.3 752.5L566.7 757.5L567.3 758.4L570.2 762.6L573.6 760.2L575.4 758.4L577.1 756.4L580.5 751.2L582.0 748.3L584.0 743.3L585.9 738.2L587.4 735.0L590.9 729.4L591.9 728.1L594.3 725.4L597.8 722.5L601.2 719.6L602.9 718.0L604.7 715.9L608.1 710.8L609.6 707.8L611.6 703.2L613.3 697.7L615.0 690.8L615.6 687.6L617.2 677.5L618.4 667.4L618.4 667.3L621.4 657.3L621.9 656.5L625.3 651.6L628.8 654.3L630.8 657.3L632.2 662.7L633.5 667.4L634.7 677.5L635.7 684.4L636.3 687.6L638.6 697.7L639.1 699.6L642.3 707.8L642.6 708.5L646.0 714.3L649.0 718.0L649.5 718.5L652.9 721.5L656.4 722.2L659.8 722.2L663.3 722.2L666.7 722.2L670.2 722.2L673.6 722.2L677.0 722.2L680.5 722.2L683.9 728.0L684.0 728.1L687.3 738.2L687.4 738.8L689.0 748.3L690.1 758.4L690.8 763.3L691.7 768.5L694.0 778.6L694.3 781.6L695.4 788.7L695.4 798.9L697.7 803.6L701.2 803.6L704.6 803.6L708.1 803.6L711.5 805.4L715.0 808.9L715.1 809.0L718.4 813.6L721.3 819.1L721.9 821.9L723.2 829.2L723.2 839.3L723.2 849.4L723.2 859.5L721.9 866.8L721.3 869.6L718.4 875.1L715.1 879.8L715.0 879.9L711.5 883.3L708.1 885.1L704.6 885.1L701.2 885.1L697.7 885.1L694.3 885.1L690.8 885.1L687.4 885.1L683.9 885.1L680.5 885.1L677.0 885.1L673.6 885.1L670.2 885.1L666.7 885.1L663.3 885.1L659.8 885.1L656.4 885.1L652.9 885.7L649.5 888.8L648.5 889.9L646.0 892.9L642.6 898.8L642.0 900.0L639.1 907.3L638.1 910.1L635.7 914.9L632.2 919.9L632.0 920.2L628.8 923.5L625.3 925.8L621.9 925.8L618.4 925.8L615.0 925.8L611.6 925.8L608.1 925.8L604.7 925.8L601.2 925.8L597.8 925.8L594.3 925.8L590.9 925.8L587.4 925.8L584.0 925.8L580.5 925.8L577.1 925.8L573.6 925.8L570.2 925.8L566.7 925.8L563.3 925.8L559.8 925.8L556.4 925.8L553.0 925.8L549.5 925.8L546.1 925.8L542.6 925.8M677.0 840.5L680.5 843.6L683.9 842.4L687.0 839.3L687.4 838.9L690.8 834.1L693.4 829.2L694.3 824.3L695.4 819.1L695.4 809.0L694.3 803.6L690.8 803.6L687.4 803.6L683.9 803.6L680.5 804.4L677.0 807.5L675.7 809.0L673.6 811.7L670.2 817.7L669.5 819.1L669.7 829.2L670.2 830.3L673.6 836.3L676.0 839.3L677.0 840.5M749.4 376.1L748.7 374.1L749.4 373.0L752.9 370.8L756.3 370.8L759.8 373.2L760.4 374.1L759.8 376.0L756.3 379.2L752.9 379.2L749.4 376.1M835.6 324.9L835.1 323.6L832.7 313.5L832.2 307.2L831.9 303.3L831.0 293.2L832.2 288.7L834.9 283.1L835.6 281.7L838.0 273.0L839.1 268.5L842.5 263.8L846.0 263.8L849.4 265.4L852.9 267.9L856.3 272.2L856.6 273.0L856.9 283.1L856.9 293.2L856.3 297.8L854.6 303.3L852.9 309.6L851.9 313.5L849.4 322.7L848.3 323.6L846.0 324.9L842.5 324.9L839.1 324.9L835.6 324.9M877.0 304.6L876.6 303.3L875.0 293.2L877.0 289.3L880.4 289.3L883.9 289.3L887.3 289.3L890.8 289.6L894.2 290.5L897.7 291.7L899.2 293.2L900.3 303.3L897.7 304.6L894.2 304.6L890.8 304.6L887.3 304.6L883.9 304.6L880.4 304.6L877.0 304.6M542.6 533.7L544.4 535.9L546.1 543.0L546.8 546.0L548.7 556.2L549.5 558.3L552.6 566.3L553.0 567.1L555.7 576.4L556.4 580.5L557.2 586.5L558.2 596.6L559.0 606.7L559.7 616.8L559.8 617.9L560.7 626.9L562.0 637.1L563.3 646.5L563.4 647.2L565.1 657.3L566.7 666.9L566.8 667.4L569.2 677.5L570.2 680.8L573.6 681.4L577.1 681.4L580.5 681.4L584.0 681.4L587.4 681.4L590.9 681.4L594.3 681.4L597.8 681.4L599.7 677.5L601.2 673.9L603.4 667.4L604.7 663.6L606.8 657.3L608.1 654.6L611.6 648.3L612.2 647.2L615.0 643.0L618.4 638.4L619.6 637.1L621.9 634.5L625.3 631.1L628.8 631.6L632.2 633.5L635.7 636.0L636.8 637.1L639.1 639.7L642.6 645.7L643.2 647.2L646.0 657.0L646.1 657.3L648.5 667.4L649.5 670.3L652.1 677.5L652.9 679.6L656.4 679.3L658.2 677.5L659.8 675.7L663.3 670.8L665.1 667.4L666.7 661.3L667.6 657.3L667.6 647.2L667.6 637.1L667.6 626.9L666.7 619.6L666.3 616.8L663.3 610.6L660.7 606.7L659.8 605.6L656.4 602.1L652.9 599.3L649.8 596.6L649.5 596.2L646.0 592.1L642.7 586.5L642.6 586.2L639.8 576.4L639.8 566.3L639.1 562.2L638.4 556.2L636.8 546.0L636.9 535.9L639.1 529.8L642.6 528.6L646.0 528.6L649.5 528.6L652.9 528.6L654.9 525.8L656.4 522.9L658.1 515.7L659.8 510.8L663.3 508.3L666.7 508.3L670.2 508.3L673.6 508.3L677.0 508.3L680.5 508.3L683.9 513.8L684.4 515.7L685.0 525.8L685.0 535.9L685.7 546.0L687.4 555.5L687.6 556.2L688.5 566.3L688.5 576.4L689.1 586.5L690.3 596.6L690.8 600.4L691.9 606.7L694.3 616.7L694.3 616.8L695.4 626.9L695.4 637.1L695.4 647.2L695.4 657.3L695.4 667.4L695.4 677.5L695.4 687.6L695.4 697.7L697.2 707.8L697.7 710.0L699.3 718.0L700.8 728.1L701.2 730.8L702.0 738.2L703.9 748.3L704.6 750.6L707.4 758.4L708.1 760.1L711.5 761.1L714.3 758.4L715.0 757.7L718.4 752.9L720.9 748.3L721.9 744.4L723.2 738.2L723.2 728.1L723.2 718.0L723.2 707.8L723.2 697.7L723.2 687.6L723.2 677.5L723.2 667.4L723.2 657.3L723.2 647.2L723.2 637.1L723.2 626.9L724.3 616.8L725.3 612.9L726.7 606.7L728.3 596.6L728.8 593.0L729.5 586.5L730.1 576.4L730.1 566.3L731.4 556.2L732.2 554.5L735.7 550.2L738.4 546.0L739.1 544.6L741.1 535.9L742.5 531.4L746.0 528.6L749.4 528.6L752.9 528.6L756.3 528.6L759.8 534.1L760.4 535.9L763.2 545.9L763.3 546.0L766.7 550.1L770.1 553.1L772.5 556.2L773.6 559.9L775.3 566.3L777.0 573.8L777.7 576.4L778.7 586.5L778.7 596.6L778.7 606.7L778.7 616.8L780.5 623.7L781.4 626.9L783.9 631.4L787.4 635.9L788.4 637.1L790.8 639.2L794.3 640.7L797.7 640.7L801.1 640.7L804.6 640.7L808.0 640.7L811.5 640.7L814.9 640.7L818.4 640.7L821.8 638.6L822.9 637.1L825.3 633.5L828.7 628.5L829.8 626.9L832.2 622.8L835.4 616.8L835.6 616.0L837.8 606.7L839.1 599.0L839.4 596.6L840.6 586.5L841.2 576.4L841.2 566.3L841.2 556.2L841.2 546.0L841.2 535.9L841.2 525.8L841.2 515.7L841.2 505.6L841.2 495.5L841.2 485.4L841.2 475.3L841.2 465.1L840.4 455.0L839.1 452.5L835.6 448.2L833.8 444.9L832.2 440.7L830.8 434.8L830.8 424.7L830.5 414.6L829.5 404.5L828.8 394.4L828.7 393.6L825.9 384.2L825.3 380.4L824.2 374.1L825.3 370.0L826.9 364.0L828.7 357.4L829.2 353.9L829.8 343.8L830.6 333.7L829.6 323.6L828.9 313.5L828.7 312.1L826.1 303.3L825.3 300.0L823.7 293.2L821.8 286.8L818.4 284.2L814.9 284.2L813.8 283.1L811.5 279.2L810.3 273.0L811.5 269.6L814.9 263.8L818.4 263.8L819.8 262.9L821.8 261.1L824.1 252.8L825.3 248.5L828.7 244.8L832.2 245.2L835.6 245.7L839.1 246.0L842.5 246.4L846.0 246.7L849.4 248.7L851.4 252.8L852.9 255.4L856.3 260.9L857.1 262.9L859.7 271.4L860.3 273.0L860.6 283.1L860.6 293.2L859.9 303.3L859.7 304.8L858.8 313.5L859.7 318.9L861.4 323.6L863.2 326.9L865.3 333.7L866.6 339.7L868.8 343.8L870.1 345.3L873.5 345.3L877.0 345.3L880.4 345.3L883.9 345.3L887.3 345.3L890.8 345.3L894.2 345.3L897.7 343.9L897.7 343.8L899.8 333.7L897.7 327.5L894.2 324.9L890.8 324.9L887.3 324.9L883.9 324.9L880.4 324.9L877.0 324.9L875.8 323.6L873.5 319.5L872.3 313.5L871.3 303.3L870.9 293.2L872.9 283.1L873.5 281.8L877.0 278.7L880.4 278.7L883.9 278.7L887.3 278.8L890.8 279.9L894.2 282.7L894.8 283.1L897.7 284.6L901.1 286.9L904.6 289.3L908.0 289.3L911.5 289.3L914.9 289.3L918.3 289.3L921.8 289.3L925.2 289.0L928.7 287.2L932.1 284.2L935.6 284.2L939.0 283.3L939.1 283.1L942.5 273.1L942.5 273.0L945.9 268.9L949.4 268.9L952.8 268.9L956.3 268.9L959.7 268.9L963.2 268.9L966.6 268.9L970.1 268.9L973.5 269.3L976.1 273.0L977.0 276.6L979.7 283.1L980.4 284.2L983.8 284.2L987.3 284.8L990.2 293.2L990.7 296.1L993.4 303.3L994.2 304.6L997.6 304.6L1001.1 304.6L1004.5 304.6L1008.0 304.6L1011.4 304.6L1014.9 304.6M763.2 1127.2L766.7 1129.5L770.1 1129.5L773.6 1129.5L777.0 1129.5L780.5 1129.5L783.9 1129.5L787.4 1129.5L790.8 1129.5L794.3 1128.3L797.7 1125.0L799.8 1122.5L801.1 1120.5L804.6 1114.1L805.3 1112.3L804.6 1107.5L803.7 1102.2L801.1 1097.8L797.7 1093.3L796.5 1092.1L794.3 1090.1L790.8 1087.4L787.4 1084.0L785.7 1082.0L783.9 1079.5L780.5 1072.9L780.0 1071.9L777.0 1064.1L776.0 1061.8L773.6 1057.4L770.1 1052.8L769.0 1051.7L766.7 1049.5L763.2 1046.8L759.8 1043.5L758.1 1041.6L756.3 1039.1L752.9 1032.7L752.4 1031.4L749.4 1023.9L748.4 1021.3L746.0 1017.0L742.5 1012.3L741.5 1011.2L739.1 1008.9L735.7 1006.2L732.2 1003.0L730.6 1001.1L728.8 998.6L725.3 992.4L724.7 991.0L721.9 983.6L720.7 980.9L718.4 976.5L715.0 971.8L714.0 970.8L711.5 968.4L708.1 967.5L704.6 970.7L704.6 970.8L701.2 975.0L697.8 980.9L697.7 981.1L694.3 989.9L693.9 991.0L690.8 997.0L688.0 1001.1L687.4 1001.9L683.9 1005.4L680.5 1008.1L677.0 1011.2L677.0 1011.2L673.6 1015.4L670.2 1021.3L670.2 1031.4L673.6 1036.5L677.0 1041.5L677.1 1041.6L680.5 1046.6L683.9 1050.0L685.7 1051.7L687.4 1053.5L690.8 1058.4L692.7 1061.8L694.3 1064.6L697.7 1071.8L697.8 1071.9L701.2 1076.9L704.6 1082.0L704.7 1082.0L708.1 1087.0L711.5 1088.8L715.0 1088.8L718.4 1088.8L721.9 1088.8L725.3 1088.8L728.8 1088.8L732.2 1088.8L735.7 1088.8L739.1 1090.4L741.0 1092.1L742.5 1093.8L746.0 1098.4L748.1 1102.2L749.4 1104.6L752.9 1111.8L753.1 1112.3L756.3 1117.1L759.8 1122.1L760.0 1122.5L763.2 1127.2M621.9 1001.4L625.3 1006.4L628.8 1005.0L632.2 1001.4L632.4 1001.1L635.7 996.3L638.3 991.0L637.4 980.9L635.7 977.6L632.2 972.5L630.7 970.8L628.8 968.9L625.3 967.0L621.9 970.1L621.2 970.8L618.4 974.1L615.0 979.8L614.5 980.9L614.8 991.0L615.0 991.3L618.4 996.3L621.7 1001.1L621.9 1001.4M570.2 993.6L573.6 992.6L577.1 991.1L577.4 991.0L580.5 984.0L581.8 980.9L580.5 978.3L577.1 973.0L575.1 970.8L573.6 969.3L570.2 966.9L568.0 970.8L566.7 973.8L564.7 980.9L566.7 988.2L567.4 991.0L570.2 993.6M790.8 761.5L794.3 761.6L797.6 758.4L797.7 758.3L801.1 753.9L804.2 748.3L804.6 742.6L804.9 738.2L804.6 737.6L801.1 731.2L798.9 728.1L797.7 726.7L794.3 723.4L790.8 723.6L787.4 726.9L786.4 728.1L783.9 731.5L780.5 738.0L780.4 738.2L780.5 739.3L781.0 748.3L783.9 753.6L787.4 758.1L787.6 758.4L790.8 761.5M787.4 467.5L784.8 465.1L783.9 462.8L783.0 455.0L783.9 452.4L787.0 444.9L787.4 443.8L789.6 434.8L790.8 430.4L794.3 431.6L795.4 434.8L796.1 444.9L796.1 455.0L794.3 464.2L793.6 465.1L790.8 467.5L787.4 467.5M652.9 460.4L650.3 455.0L650.3 444.9L651.5 434.8L652.9 432.8L656.4 431.9L659.8 431.9L663.3 431.9L666.7 431.9L669.7 434.8L668.7 444.9L666.7 448.7L664.6 455.0L663.3 457.6L659.8 461.6L656.4 461.6L652.9 460.4M773.6 406.4L770.2 404.5L770.1 404.4L766.7 401.5L763.2 398.5L760.6 394.4L759.8 393.0L756.3 391.1L752.9 391.1L749.4 390.5L746.0 388.3L743.7 384.2L742.5 379.4L741.5 374.1L742.5 372.6L746.0 367.9L748.6 364.0L749.4 362.7L752.9 360.3L756.3 360.3L759.8 361.2L763.2 363.7L763.5 364.0L766.7 369.3L768.0 374.1L770.1 382.6L771.4 384.2L773.6 386.1L777.0 386.1L780.5 389.4L781.9 394.4L780.5 402.2L779.2 404.5L777.0 406.4L773.6 406.4M715.0 398.9L712.4 394.4L711.5 390.9L708.1 386.1L704.6 386.1L702.8 384.2L701.2 381.8L699.5 374.1L701.2 369.1L704.6 365.7L708.1 365.7L711.5 365.7L715.0 365.7L718.4 370.3L719.4 374.1L721.9 383.6L722.2 384.2L725.3 390.6L726.3 394.4L725.3 396.5L721.9 400.2L718.4 400.5L715.0 398.9M542.6 522.7L546.1 525.0L546.9 525.8L549.5 528.6L552.5 535.9L553.0 537.8L555.3 546.0L556.4 548.8L559.8 552.2L562.2 556.2L563.3 560.2L564.5 566.3L565.5 576.4L566.0 586.5L566.3 596.6L566.6 606.7L566.7 612.4L566.8 616.8L568.0 626.9L569.7 637.1L570.2 639.6L573.6 640.7L577.1 640.7L580.5 640.7L584.0 640.7L587.4 640.7L590.9 640.7L594.3 640.7L597.8 640.7L599.7 637.1L601.2 634.6L604.7 629.1L606.2 626.9L608.1 623.3L611.6 617.6L612.1 616.8L612.1 606.7L612.1 596.6L612.1 586.5L612.1 576.4L612.1 566.3L613.4 556.2L615.0 547.4L615.1 546.0L615.0 539.0L615.0 535.9L611.6 527.8L610.6 525.8L608.6 515.7L608.6 505.6L609.1 495.5L611.6 488.7L613.3 485.4L615.0 480.1L616.0 475.3L618.4 468.4L621.9 467.5L625.3 467.5L626.9 465.1L628.8 460.1L629.9 455.0L632.2 448.2L634.0 444.9L635.7 440.0L636.8 434.8L639.1 428.0L642.6 426.8L646.0 426.8L648.3 424.7L649.5 423.8L652.9 421.3L656.4 421.0L659.8 421.0L663.3 421.0L666.7 421.0L670.2 422.4L672.8 424.7L673.6 425.6L677.0 432.5L677.6 434.8L678.0 444.9L678.0 455.0L678.0 465.1L680.5 467.5L683.9 473.0L684.5 475.3L687.1 485.4L687.4 486.1L690.8 493.2L691.4 495.5L694.0 505.6L694.3 506.3L697.7 513.4L698.3 515.7L698.9 525.8L698.9 535.9L699.6 546.0L701.2 555.1L701.5 556.2L702.3 566.3L702.3 576.4L704.3 586.5L704.6 587.6L707.9 596.6L708.1 597.1L708.8 596.6L711.5 594.6L714.3 586.5L715.0 583.2L716.2 576.4L716.2 566.3L717.5 556.2L718.4 554.3L721.9 550.1L724.0 546.0L725.3 542.9L727.2 535.9L728.8 531.1L731.5 525.8L732.2 524.0L734.1 515.7L735.7 510.9L738.4 505.6L739.1 503.5L740.5 495.5L740.5 485.4L740.5 475.3L740.5 465.1L740.1 455.0L739.1 451.4L735.9 444.9L735.7 444.3L734.0 434.8L735.7 429.4L739.1 426.8L742.5 426.8L746.0 430.8L747.1 434.8L749.4 444.2L750.0 444.9L752.9 447.2L756.3 447.2L759.8 447.2L763.2 447.2L766.7 447.2L770.1 447.2L773.6 447.2L777.0 447.2L778.5 444.9L780.5 440.4L781.8 434.8L780.5 430.2L777.0 426.8L773.6 426.8L771.1 424.7L770.1 423.7L767.2 414.6L766.7 413.8L763.2 410.8L759.8 408.6L756.3 406.4L752.9 406.4L749.4 406.4L746.0 406.4L743.4 404.5L742.5 403.7L739.9 394.4L739.1 392.0L735.7 388.7L734.0 394.4L732.2 401.8L731.2 404.5L728.8 408.1L725.3 410.6L721.9 411.5L718.4 411.5L715.0 411.0L711.5 408.9L708.1 406.4L704.6 406.4L701.3 404.5L701.2 404.4L698.2 394.4L697.7 392.9L694.3 386.1L690.8 386.1L687.5 384.2L687.4 384.2L685.3 374.1L687.4 367.5L690.8 365.7L694.3 365.7L695.1 364.0L697.7 358.2L699.2 353.9L701.2 347.4L704.6 345.3L708.1 345.3L709.5 343.8L711.5 339.9L712.8 333.7L712.8 323.6L712.5 313.5L711.5 309.4L708.6 303.3L708.1 302.1L706.0 293.2L708.1 286.4L711.5 284.2L715.0 284.2L718.4 288.9L719.5 293.2L721.9 302.1L723.4 303.3L725.3 304.6L728.8 304.6L732.2 304.6L735.7 304.6L739.1 308.8L740.3 313.5L739.1 319.8L737.8 323.6L735.7 327.6L733.9 333.7L733.6 343.8L733.6 353.9L735.7 362.9L739.1 363.3L742.5 360.7L746.0 356.7L747.8 353.9L749.4 348.2L752.9 345.3L756.3 345.3L759.8 345.3L763.2 345.3L766.7 345.3L770.1 345.3L773.6 345.3L777.0 345.3L780.5 345.3L783.9 345.3L787.4 345.3L790.8 345.3L794.3 345.3L797.7 345.3L801.1 345.3L803.0 343.8L803.0 333.7L803.0 323.6L803.0 313.5L803.0 303.3L802.8 293.2L801.1 287.2L797.7 284.2L794.3 284.2L790.8 287.8L789.4 293.2L789.2 303.3L789.2 313.5L787.4 321.4L785.6 323.6L783.9 324.9L780.5 324.9L777.0 324.9L773.6 324.9L771.9 323.6L770.1 321.4L768.3 313.5L768.3 303.3L768.5 293.2L770.1 287.4L772.3 283.1L773.6 280.5L775.4 273.0L777.0 267.2L780.5 263.8L783.9 263.8L787.4 263.8L790.8 263.8L794.3 263.8L797.7 263.8L801.1 263.8L804.6 263.8L805.3 262.9L808.0 258.9L810.0 252.8L809.2 242.7L808.0 236.1L806.5 232.6L806.5 222.4L806.7 212.3L808.0 208.9L811.5 202.2L811.5 202.2L814.9 197.5L818.4 194.1L821.8 193.6L825.3 196.9L828.7 201.2L829.4 202.2L832.2 207.5L834.1 212.3L835.6 216.4L838.5 222.4L839.1 223.3L842.5 228.0L846.0 231.5L847.9 232.6L849.4 232.8L852.9 233.0L856.3 233.6L858.6 242.7L858.6 252.8L859.7 255.4L862.9 262.9L863.2 263.8L866.6 263.8L868.5 262.9L870.1 261.9L872.5 252.8L872.5 242.7L873.5 234.6L877.0 234.0L880.4 236.0L883.9 239.0L885.1 242.7L886.3 252.8L887.3 257.6L889.4 262.9L890.8 265.4L893.2 273.0L894.2 274.3L897.7 276.9L901.1 277.8L904.6 278.7L908.0 278.7L911.5 278.7L914.9 278.7L918.3 278.7L921.8 278.7L925.2 277.9L928.2 273.0L928.7 270.9L932.1 263.8L935.6 263.8L939.0 263.1L939.2 262.9L942.5 259.9L945.9 258.4L949.4 258.4L952.8 258.4L956.3 258.4L959.7 258.4L963.2 258.4L966.6 258.4L970.1 258.4L973.5 258.5L977.0 260.4L979.6 262.9L980.4 263.8L983.8 263.8L987.3 264.1L990.4 273.0L990.7 274.1L993.8 283.1L994.2 284.2L997.6 284.2L1001.1 284.2L1004.5 284.2L1008.0 284.1L1008.6 283.1L1011.4 273.9L1011.6 273.0L1014.9 263.8M818.4 598.3L821.8 596.6L821.8 596.6L825.3 587.0L825.4 586.5L827.4 576.4L827.4 566.3L827.4 556.2L827.4 546.0L827.4 535.9L827.4 525.8L827.4 515.7L827.4 505.6L827.1 495.5L825.3 487.9L821.8 487.9L818.4 487.9L814.9 487.9L811.5 487.9L808.0 487.9L804.6 487.9L801.1 487.9L797.7 491.7L796.6 495.5L796.1 505.6L796.1 515.7L796.1 525.8L796.1 535.9L795.9 546.0L794.7 556.2L797.7 563.1L799.8 566.3L801.1 568.2L804.6 574.6L805.3 576.4L808.0 583.4L809.4 586.5L811.5 590.3L814.9 594.9L816.5 596.6L818.4 598.3M766.7 528.6L770.1 528.6L773.6 528.6L777.0 528.6L780.0 525.8L780.5 525.2L782.8 515.7L783.9 511.8L787.1 505.6L787.4 504.4L788.6 495.5L787.4 491.1L783.9 487.9L780.5 487.9L777.0 487.9L773.6 487.9L770.1 487.9L766.7 487.9L763.2 487.9L759.8 487.9L756.3 490.9L754.9 495.5L756.3 505.0L756.5 505.6L759.8 512.0L760.8 515.7L763.2 523.4L764.6 525.8L766.7 528.6M646.0 507.0L649.5 508.3L652.9 508.3L654.1 505.6L656.4 499.6L657.7 495.5L659.8 489.3L663.3 487.9L666.7 487.9L670.2 487.9L673.6 487.9L675.5 485.4L677.0 480.5L678.0 475.3L677.0 467.5L673.6 467.5L670.2 467.5L666.7 468.7L663.3 471.5L659.8 472.6L656.4 472.6L652.9 472.3L649.5 470.4L646.0 468.8L643.8 475.3L643.3 485.4L643.3 495.5L645.3 505.6L646.0 507.0M808.0 467.5L811.5 467.5L814.9 467.5L818.4 467.5L821.8 467.5L825.3 467.5L826.2 465.1L826.4 455.0L825.3 452.7L821.8 448.3L819.5 444.9L818.4 442.4L816.9 434.8L816.9 424.7L816.9 414.6L816.9 404.5L816.9 394.4L816.9 384.2L816.9 374.1L816.9 364.0L816.6 353.9L814.9 348.0L811.5 345.3L808.0 345.3L804.6 345.3L803.0 353.9L803.0 364.0L803.0 374.1L801.1 382.8L800.5 384.2L797.7 389.8L796.5 394.4L796.1 404.5L796.1 414.6L797.7 420.4L799.3 424.7L801.1 429.8L802.6 434.8L803.0 444.9L803.0 455.0L804.6 463.2L805.7 465.1L808.0 467.5M604.7 426.1L603.9 424.7L602.0 414.6L604.7 407.1L608.1 406.4L611.6 406.4L615.0 406.4L618.4 406.4L621.9 413.7L622.1 414.6L621.9 416.1L619.9 424.7L618.4 426.8L615.0 426.8L611.6 426.8L608.1 426.8L604.7 426.1M725.3 263.8L723.8 262.9L721.9 261.2L719.8 252.8L721.9 242.8L722.0 242.7L725.3 239.2L728.8 237.8L732.2 236.2L735.7 234.2L739.1 236.7L740.1 242.7L740.5 252.8L739.1 259.2L736.6 262.9L735.7 263.8L732.2 263.8L728.8 263.8L725.3 263.8" fill="none" stroke="#000" stroke-width="2.0" stroke-linejoin="round"/>
</g>
<g clip-path="url(#clipR)">
<path d="MZ" fill="#0000AA" fill-rule="evenodd" stroke="#0000AA" stroke-width="0.6"/>
<path d="MZ" fill="#0000FF" fill-rule="evenodd" stroke="#0000FF" stroke-width="0.6"/>
<path d="M1126.9 495.5L1126.0 494.7L1126.0 495.5L1126.0 497.1Z" fill="#0055FF" fill-rule="evenodd" stroke="#0055FF" stroke-width="0.6"/>
<path d="M1623.2 679.1L1626.7 680.9L1630.1 677.9L1630.5 677.5L1633.6 673.8L1637.0 668.1L1637.4 667.4L1639.9 657.3L1639.9 647.2L1637.0 637.3L1636.9 637.1L1633.6 634.3L1630.7 626.9L1630.1 623.0L1629.5 616.8L1629.5 606.7L1629.5 596.6L1629.5 586.5L1628.9 576.4L1626.7 570.4L1623.2 569.4L1619.8 569.4L1616.3 569.4L1612.8 569.4L1610.8 566.3L1609.4 562.3L1608.1 556.2L1605.9 550.2L1602.5 549.0L1599.0 549.0L1595.6 549.0L1592.1 549.0L1590.1 546.0L1588.7 542.4L1587.3 535.9L1585.2 530.1L1581.8 528.6L1578.3 528.6L1576.3 525.8L1574.9 523.5L1572.3 515.7L1571.4 514.5L1568.0 513.4L1564.5 513.4L1561.1 513.4L1557.6 513.4L1554.1 512.3L1550.7 509.6L1547.2 508.3L1543.8 508.3L1540.3 508.3L1536.9 508.3L1533.4 508.3L1530.0 508.3L1526.5 513.2L1525.9 515.7L1525.3 525.8L1525.3 535.9L1525.3 546.0L1525.3 556.2L1526.5 564.7L1527.1 566.3L1530.0 569.4L1533.4 569.4L1536.9 569.4L1540.3 569.4L1543.8 571.3L1545.5 576.4L1547.2 584.0L1548.3 586.5L1550.7 589.7L1554.1 589.7L1557.6 589.7L1561.1 589.7L1564.5 591.4L1566.3 596.6L1568.0 604.0L1569.0 606.7L1571.4 610.1L1574.9 610.1L1578.3 610.1L1581.8 610.1L1585.2 611.6L1587.1 616.8L1588.4 626.9L1588.7 628.7L1592.1 637.0L1592.3 637.1L1595.6 639.1L1599.0 641.3L1602.5 644.3L1605.0 647.2L1605.9 648.5L1609.4 654.3L1610.7 657.3L1612.8 662.8L1614.7 667.4L1616.3 670.4L1619.8 675.5L1621.6 677.5ZM1129.4 506.2L1130.3 505.6L1132.9 500.7L1134.9 495.5L1132.9 493.0L1129.4 489.9L1126.0 487.9L1126.0 494.7L1126.9 495.5L1126.0 497.1L1126.0 505.6L1126.0 508.3Z" fill="#00AAFF" fill-rule="evenodd" stroke="#00AAFF" stroke-width="0.6"/>
<path d="M1568.0 883.1L1571.4 884.4L1574.9 881.3L1576.2 879.8L1578.3 877.1L1581.8 871.1L1582.5 869.6L1582.3 859.5L1581.8 858.3L1578.3 852.4L1576.0 849.4L1574.9 848.2L1571.4 845.1L1568.0 846.4L1564.9 849.4L1564.5 849.9L1561.1 854.8L1558.6 859.5L1558.5 869.6L1561.1 874.7L1564.5 879.5L1564.7 879.8ZM1650.8 882.7L1654.3 885.1L1657.7 885.1L1661.2 885.1L1664.6 885.1L1668.1 885.1L1671.5 885.1L1675.0 885.1L1678.5 885.1L1681.9 885.1L1685.4 885.1L1688.8 885.1L1692.3 885.1L1695.7 885.1L1699.2 885.1L1702.6 885.1L1706.1 885.1L1709.5 885.1L1713.0 885.1L1716.4 885.1L1719.9 885.1L1723.3 885.1L1726.8 885.1L1730.2 885.1L1733.7 885.1L1737.2 885.1L1737.2 879.8L1737.2 869.6L1737.2 859.5L1737.2 849.4L1737.2 839.3L1737.2 829.2L1737.2 819.1L1737.2 809.0L1737.2 798.9L1737.2 788.7L1737.2 778.6L1737.2 768.5L1737.2 758.4L1737.2 748.3L1737.2 738.2L1737.2 728.1L1737.2 722.2L1733.7 719.3L1732.4 718.0L1730.2 715.4L1726.8 710.0L1725.7 707.8L1723.3 698.1L1723.3 697.7L1723.3 687.6L1723.3 677.5L1723.3 667.4L1720.7 657.3L1719.9 656.1L1716.4 651.0L1713.8 647.2L1713.0 645.8L1709.5 640.9L1707.2 637.1L1706.1 626.9L1706.1 626.8L1704.7 616.8L1702.6 610.7L1699.2 610.1L1695.7 610.1L1693.9 606.7L1692.3 602.5L1690.9 596.6L1688.8 590.6L1685.4 589.7L1681.9 589.7L1680.1 586.5L1678.5 583.1L1676.2 576.4L1675.0 574.9L1671.5 573.0L1668.1 569.9L1664.6 569.4L1661.2 569.4L1657.7 569.4L1654.3 569.4L1650.8 569.4L1647.4 569.4L1643.9 569.4L1640.5 569.4L1638.5 566.3L1637.0 561.7L1635.8 556.2L1633.6 550.0L1631.5 546.0L1630.1 544.3L1626.7 538.4L1623.2 536.1L1622.7 535.9L1619.8 535.5L1616.3 534.9L1612.8 534.0L1609.4 532.5L1605.9 529.6L1602.5 528.6L1599.0 528.6L1597.1 525.8L1595.6 522.8L1593.8 515.7L1592.1 510.7L1588.7 508.3L1585.2 508.3L1581.8 508.3L1578.3 508.3L1575.0 505.6L1574.9 505.5L1571.4 503.3L1568.0 502.8L1564.5 502.8L1561.1 502.8L1557.6 502.8L1554.1 499.7L1551.6 495.5L1550.7 494.3L1547.2 491.9L1543.8 489.3L1540.3 487.9L1536.9 487.9L1533.4 487.9L1530.0 487.9L1526.5 487.9L1523.1 487.9L1519.6 487.9L1516.2 487.9L1512.7 487.9L1509.3 487.9L1505.8 487.9L1502.4 487.9L1498.9 492.4L1498.1 495.5L1495.5 505.6L1495.4 505.8L1492.0 512.6L1491.1 515.7L1490.6 525.8L1490.6 535.9L1488.7 546.0L1488.5 546.4L1485.1 549.0L1481.6 549.0L1478.2 549.0L1474.7 549.0L1471.3 549.0L1467.8 549.0L1464.4 549.0L1460.9 549.0L1457.5 552.8L1456.5 556.2L1454.7 566.3L1454.0 568.7L1450.6 574.1L1448.0 576.4L1450.2 586.5L1450.6 587.0L1454.0 592.1L1457.1 596.6L1457.5 597.2L1460.9 599.9L1464.4 599.9L1467.8 599.9L1471.3 599.9L1474.7 599.9L1478.2 599.9L1481.6 599.9L1485.1 599.9L1488.5 599.9L1492.0 599.9L1495.4 599.9L1498.9 599.9L1502.4 599.9L1505.8 599.9L1509.3 599.9L1512.7 599.9L1516.2 601.8L1519.5 606.7L1519.6 606.8L1523.1 614.4L1523.6 616.8L1525.6 626.9L1526.5 629.8L1530.0 634.3L1533.4 635.6L1536.7 637.1L1536.9 637.2L1540.3 639.3L1543.8 641.5L1547.2 644.7L1549.4 647.2L1550.7 648.9L1554.1 655.0L1555.2 657.3L1557.6 663.6L1559.1 667.4L1561.1 671.0L1564.5 675.8L1566.0 677.5L1568.0 679.4L1571.4 682.1L1574.9 685.2L1577.0 687.6L1578.3 689.4L1581.8 695.4L1582.8 697.7L1584.4 707.8L1584.4 718.0L1584.4 728.1L1584.4 738.2L1584.4 748.3L1584.4 758.4L1581.8 762.9L1578.3 762.9L1574.9 762.9L1571.4 762.9L1568.0 764.9L1564.5 768.5L1564.5 768.5L1561.1 773.3L1558.4 778.6L1558.7 788.7L1561.1 793.2L1564.5 798.1L1565.2 798.9L1568.0 801.6L1571.4 802.9L1574.9 799.8L1575.7 798.9L1578.3 795.6L1581.8 789.7L1582.2 788.7L1584.4 778.6L1584.4 768.5L1585.2 762.9L1588.7 762.9L1592.1 762.9L1595.6 762.9L1599.0 763.5L1602.5 766.6L1604.3 768.5L1605.9 770.7L1609.4 776.5L1610.4 778.6L1612.8 785.1L1614.3 788.7L1616.3 792.6L1619.8 797.7L1620.8 798.9L1623.2 801.3L1626.7 803.6L1630.1 803.6L1633.6 803.6L1637.0 803.6L1639.9 798.9L1639.9 788.7L1640.5 786.0L1641.7 778.6L1643.9 774.1L1647.4 769.0L1647.8 768.5L1650.8 765.3L1654.3 763.2L1657.7 766.2L1659.8 768.5L1661.2 770.3L1664.6 775.9L1665.9 778.6L1665.5 788.7L1664.6 790.6L1661.2 796.3L1659.1 798.9L1657.7 800.3L1654.3 803.3L1650.8 803.6L1647.4 803.6L1643.9 803.6L1640.5 803.6L1639.9 809.0L1639.9 819.1L1639.9 829.2L1639.9 839.3L1639.9 849.4L1639.9 859.5L1640.5 862.7L1641.8 869.6L1643.9 873.8L1647.4 879.0L1648.0 879.8ZM1621.6 677.5L1619.8 675.5L1616.3 670.4L1614.7 667.4L1612.8 662.8L1610.7 657.3L1609.4 654.3L1605.9 648.5L1605.0 647.2L1602.5 644.3L1599.0 641.3L1595.6 639.1L1592.3 637.1L1592.1 637.0L1588.7 628.7L1588.4 626.9L1587.1 616.8L1585.2 611.6L1581.8 610.1L1578.3 610.1L1574.9 610.1L1571.4 610.1L1569.0 606.7L1568.0 604.0L1566.3 596.6L1564.5 591.4L1561.1 589.7L1557.6 589.7L1554.1 589.7L1550.7 589.7L1548.3 586.5L1547.2 584.0L1545.5 576.4L1543.8 571.3L1540.3 569.4L1536.9 569.4L1533.4 569.4L1530.0 569.4L1527.1 566.3L1526.5 564.7L1525.3 556.2L1525.3 546.0L1525.3 535.9L1525.3 525.8L1525.9 515.7L1526.5 513.2L1530.0 508.3L1533.4 508.3L1536.9 508.3L1540.3 508.3L1543.8 508.3L1547.2 508.3L1550.7 509.6L1554.1 512.3L1557.6 513.4L1561.1 513.4L1564.5 513.4L1568.0 513.4L1571.4 514.5L1572.3 515.7L1574.9 523.5L1576.3 525.8L1578.3 528.6L1581.8 528.6L1585.2 530.1L1587.3 535.9L1588.7 542.4L1590.1 546.0L1592.1 549.0L1595.6 549.0L1599.0 549.0L1602.5 549.0L1605.9 550.2L1608.1 556.2L1609.4 562.3L1610.8 566.3L1612.8 569.4L1616.3 569.4L1619.8 569.4L1623.2 569.4L1626.7 570.4L1628.9 576.4L1629.5 586.5L1629.5 596.6L1629.5 606.7L1629.5 616.8L1630.1 623.0L1630.7 626.9L1633.6 634.3L1636.9 637.1L1637.0 637.3L1639.9 647.2L1639.9 657.3L1637.4 667.4L1637.0 668.1L1633.6 673.8L1630.5 677.5L1630.1 677.9L1626.7 680.9L1623.2 679.1ZM1129.4 514.4L1132.9 513.4L1136.3 511.7L1139.8 508.4L1140.8 505.6L1142.8 495.5L1139.8 487.8L1137.6 485.4L1136.3 484.4L1132.9 482.4L1129.4 481.2L1126.0 480.3L1126.0 485.4L1126.0 487.9L1129.4 489.9L1132.9 493.0L1134.9 495.5L1132.9 500.7L1130.3 505.6L1129.4 506.2L1126.0 508.3L1126.0 515.1Z" fill="#00FFFF" fill-rule="evenodd" stroke="#00FFFF" stroke-width="0.6"/>
<path d="M1129.4 1452.6L1132.9 1448.7L1134.8 1446.1L1136.3 1443.3L1139.6 1435.9L1136.3 1427.0L1135.8 1425.8L1132.9 1421.5L1129.4 1417.6L1127.3 1415.7L1126.0 1414.7L1126.0 1415.7L1126.0 1425.8L1126.0 1435.9L1126.0 1446.1L1126.0 1455.5ZM1730.2 1082.1L1733.7 1085.9L1737.2 1088.8L1737.2 1082.0L1737.2 1071.9L1737.2 1061.8L1737.2 1051.7L1737.2 1041.6L1737.2 1031.4L1737.2 1021.3L1737.2 1011.2L1737.2 1001.1L1737.2 991.0L1737.2 980.9L1737.2 970.8L1737.2 960.7L1737.2 950.5L1737.2 940.4L1737.2 930.3L1737.2 920.2L1737.2 910.1L1737.2 900.0L1737.2 889.9L1737.2 885.1L1733.7 885.1L1730.2 885.1L1726.8 885.1L1723.3 885.1L1719.9 885.1L1716.4 885.1L1713.0 885.1L1709.5 885.1L1706.1 885.1L1702.6 885.1L1699.2 885.1L1695.7 885.1L1692.3 885.1L1688.8 885.1L1685.4 885.1L1681.9 885.1L1678.5 885.1L1675.0 885.1L1671.5 885.1L1668.1 885.1L1664.6 885.1L1661.2 885.1L1657.7 885.1L1654.3 885.1L1650.8 882.7L1648.0 879.8L1647.4 879.0L1643.9 873.8L1641.8 869.6L1640.5 862.7L1639.9 859.5L1639.9 849.4L1639.9 839.3L1639.9 829.2L1639.9 819.1L1639.9 809.0L1640.5 803.6L1643.9 803.6L1647.4 803.6L1650.8 803.6L1654.3 803.3L1657.7 800.3L1659.1 798.9L1661.2 796.3L1664.6 790.6L1665.5 788.7L1665.9 778.6L1664.6 775.9L1661.2 770.3L1659.8 768.5L1657.7 766.2L1654.3 763.2L1650.8 765.3L1647.8 768.5L1647.4 769.0L1643.9 774.1L1641.7 778.6L1640.5 786.0L1639.9 788.7L1639.9 798.9L1637.0 803.6L1633.6 803.6L1630.1 803.6L1626.7 803.6L1623.2 801.3L1620.8 798.9L1619.8 797.7L1616.3 792.6L1614.3 788.7L1612.8 785.1L1610.4 778.6L1609.4 776.5L1605.9 770.7L1604.3 768.5L1602.5 766.6L1599.0 763.5L1595.6 762.9L1592.1 762.9L1588.7 762.9L1585.2 762.9L1584.4 768.5L1584.4 778.6L1582.2 788.7L1581.8 789.7L1578.3 795.6L1575.7 798.9L1574.9 799.8L1571.4 802.9L1568.0 801.6L1565.2 798.9L1564.5 798.1L1561.1 793.2L1558.7 788.7L1558.4 778.6L1561.1 773.3L1564.5 768.5L1564.5 768.5L1568.0 764.9L1571.4 762.9L1574.9 762.9L1578.3 762.9L1581.8 762.9L1584.4 758.4L1584.4 748.3L1584.4 738.2L1584.4 728.1L1584.4 718.0L1584.4 707.8L1582.8 697.7L1581.8 695.4L1578.3 689.4L1577.0 687.6L1574.9 685.2L1571.4 682.1L1568.0 679.4L1566.0 677.5L1564.5 675.8L1561.1 671.0L1559.1 667.4L1557.6 663.6L1555.2 657.3L1554.1 655.0L1550.7 648.9L1549.4 647.2L1547.2 644.7L1543.8 641.5L1540.3 639.3L1536.9 637.2L1536.7 637.1L1533.4 635.6L1530.0 634.3L1526.5 629.8L1525.6 626.9L1523.6 616.8L1523.1 614.4L1519.6 606.8L1519.5 606.7L1516.2 601.8L1512.7 599.9L1509.3 599.9L1505.8 599.9L1502.4 599.9L1498.9 599.9L1495.4 599.9L1492.0 599.9L1488.5 599.9L1485.1 599.9L1481.6 599.9L1478.2 599.9L1474.7 599.9L1471.3 599.9L1467.8 599.9L1464.4 599.9L1460.9 599.9L1457.5 597.2L1457.1 596.6L1454.0 592.1L1450.6 587.0L1450.2 586.5L1448.0 576.4L1450.6 574.1L1454.0 568.7L1454.7 566.3L1456.5 556.2L1457.5 552.8L1460.9 549.0L1464.4 549.0L1467.8 549.0L1471.3 549.0L1474.7 549.0L1478.2 549.0L1481.6 549.0L1485.1 549.0L1488.5 546.4L1488.7 546.0L1490.6 535.9L1490.6 525.8L1491.1 515.7L1492.0 512.6L1495.4 505.8L1495.5 505.6L1498.1 495.5L1498.9 492.4L1502.4 487.9L1505.8 487.9L1509.3 487.9L1512.7 487.9L1516.2 487.9L1519.6 487.9L1523.1 487.9L1526.5 487.9L1530.0 487.9L1533.4 487.9L1536.9 487.9L1540.3 487.9L1543.8 489.3L1547.2 491.9L1550.7 494.3L1551.6 495.5L1554.1 499.7L1557.6 502.8L1561.1 502.8L1564.5 502.8L1568.0 502.8L1571.4 503.3L1574.9 505.5L1575.0 505.6L1578.3 508.3L1581.8 508.3L1585.2 508.3L1588.7 508.3L1592.1 510.7L1593.8 515.7L1595.6 522.8L1597.1 525.8L1599.0 528.6L1602.5 528.6L1605.9 529.6L1609.4 532.5L1612.8 534.0L1616.3 534.9L1619.8 535.5L1622.7 535.9L1623.2 536.1L1626.7 538.4L1630.1 544.3L1631.5 546.0L1633.6 550.0L1635.8 556.2L1637.0 561.7L1638.5 566.3L1640.5 569.4L1643.9 569.4L1647.4 569.4L1650.8 569.4L1654.3 569.4L1657.7 569.4L1661.2 569.4L1664.6 569.4L1668.1 569.9L1671.5 573.0L1675.0 574.9L1676.2 576.4L1678.5 583.1L1680.1 586.5L1681.9 589.7L1685.4 589.7L1688.8 590.6L1690.9 596.6L1692.3 602.5L1693.9 606.7L1695.7 610.1L1699.2 610.1L1702.6 610.7L1704.7 616.8L1706.1 626.8L1706.1 626.9L1707.2 637.1L1709.5 640.9L1713.0 645.8L1713.8 647.2L1716.4 651.0L1719.9 656.1L1720.7 657.3L1723.3 667.4L1723.3 677.5L1723.3 687.6L1723.3 697.7L1723.3 698.1L1725.7 707.8L1726.8 710.0L1730.2 715.4L1732.4 718.0L1733.7 719.3L1737.2 722.2L1737.2 718.0L1737.2 707.8L1737.2 697.7L1737.2 687.6L1737.2 677.5L1737.2 667.4L1737.2 657.3L1737.2 647.2L1737.2 640.7L1734.2 637.1L1733.7 636.6L1730.2 633.9L1727.9 626.9L1726.8 624.4L1724.4 616.8L1723.3 615.3L1719.9 613.6L1716.4 610.3L1713.0 610.1L1709.5 610.1L1708.3 606.7L1706.1 600.5L1704.8 596.6L1702.6 590.3L1699.2 589.7L1695.7 589.7L1694.5 586.5L1692.3 581.8L1689.8 576.4L1688.8 574.9L1685.4 573.0L1681.9 569.8L1678.5 566.3L1678.5 566.2L1675.0 564.7L1671.5 561.3L1668.1 556.2L1668.0 556.2L1664.6 555.2L1661.2 554.3L1657.7 552.7L1654.3 549.7L1652.2 546.0L1650.8 544.3L1647.4 538.3L1643.9 537.1L1640.5 537.1L1637.0 536.1L1636.6 535.9L1633.6 535.5L1630.1 533.4L1626.7 531.5L1623.2 530.3L1619.8 529.0L1616.3 527.1L1614.6 525.8L1612.8 524.6L1609.4 521.1L1606.5 515.7L1605.9 514.8L1602.5 512.1L1599.0 509.3L1597.5 505.6L1595.6 502.3L1592.7 495.5L1592.1 494.6L1588.7 491.8L1585.2 489.0L1581.8 487.9L1578.3 487.9L1574.9 487.9L1571.4 487.9L1568.0 487.9L1564.5 487.9L1561.1 487.9L1557.6 487.9L1554.3 485.4L1554.1 485.2L1550.7 482.5L1547.2 478.3L1545.7 475.3L1543.8 469.4L1541.5 465.1L1540.3 462.6L1538.4 455.0L1536.9 450.5L1533.4 447.2L1530.0 447.2L1528.1 444.9L1526.5 442.5L1524.6 434.8L1523.1 430.4L1519.6 431.6L1518.8 434.8L1516.2 444.9L1516.2 444.9L1512.7 447.2L1509.3 447.2L1505.8 447.2L1502.4 447.2L1498.9 447.2L1495.4 447.2L1492.0 447.2L1488.5 447.2L1485.1 451.4L1484.1 455.0L1485.1 461.7L1485.9 465.1L1488.5 470.1L1490.1 475.3L1488.5 485.2L1488.5 485.4L1485.1 487.9L1481.6 487.9L1478.2 487.9L1474.7 487.9L1471.3 487.9L1467.8 487.9L1464.4 487.9L1460.9 487.9L1457.5 487.9L1454.0 487.9L1450.6 487.9L1447.1 487.9L1443.7 487.9L1440.2 487.9L1436.7 487.9L1433.3 487.9L1429.8 491.3L1428.6 495.5L1428.1 505.6L1428.1 515.7L1426.4 524.9L1425.9 525.8L1422.9 528.6L1419.5 528.6L1416.0 531.8L1414.8 535.9L1412.6 545.2L1412.2 546.0L1409.1 552.1L1407.9 556.2L1408.5 566.3L1409.1 568.7L1412.6 574.1L1415.1 576.4L1416.0 578.1L1419.5 584.6L1420.5 586.5L1422.9 590.8L1426.4 595.3L1427.7 596.6L1429.8 598.6L1433.3 602.5L1436.2 606.7L1436.7 607.5L1440.2 612.6L1443.1 616.8L1443.7 618.1L1447.1 625.1L1448.2 626.9L1450.6 631.2L1454.0 635.8L1455.2 637.1L1457.5 639.2L1460.9 641.9L1464.4 645.2L1466.1 647.2L1467.8 649.6L1471.3 656.0L1471.8 657.3L1474.7 664.8L1475.8 667.4L1478.2 671.7L1481.6 676.4L1482.7 677.5L1485.1 679.8L1488.5 682.5L1492.0 685.7L1493.6 687.6L1495.4 690.1L1498.9 696.4L1499.5 697.7L1502.4 705.2L1503.5 707.8L1505.8 712.2L1509.3 716.9L1510.2 718.0L1512.7 720.4L1516.2 723.1L1519.6 726.3L1521.2 728.1L1523.1 730.6L1526.5 736.8L1527.1 738.2L1528.8 748.3L1528.8 758.4L1528.8 768.5L1528.8 778.6L1528.8 788.7L1528.8 798.9L1528.8 809.0L1528.8 819.1L1526.8 829.2L1526.5 829.7L1523.1 835.9L1520.4 839.3L1519.6 840.2L1516.2 843.4L1512.7 844.4L1509.3 844.4L1505.8 844.4L1502.4 844.4L1498.9 844.4L1495.4 844.4L1492.0 844.4L1488.5 844.4L1485.1 846.0L1481.6 849.4L1481.6 849.4L1478.2 854.0L1475.3 859.5L1475.1 869.6L1478.2 875.4L1481.4 879.8L1481.6 880.1L1485.1 883.5L1488.5 885.1L1492.0 885.1L1495.4 885.1L1498.9 885.1L1502.4 885.1L1505.8 885.1L1509.3 885.1L1512.7 885.1L1516.2 886.1L1519.6 889.3L1520.2 889.9L1523.1 893.6L1526.5 899.7L1526.6 900.0L1530.0 908.5L1530.6 910.1L1533.4 915.7L1536.7 920.2L1536.9 920.5L1540.3 924.0L1543.8 925.8L1547.2 925.8L1550.7 925.8L1554.1 925.8L1557.6 925.8L1561.1 925.8L1564.5 925.8L1568.0 925.8L1571.4 926.6L1574.9 929.7L1575.5 930.3L1578.3 933.9L1581.8 939.8L1582.1 940.4L1585.2 948.5L1586.0 950.5L1588.7 955.9L1592.0 960.7L1592.1 960.8L1595.6 964.4L1599.0 966.6L1602.5 966.6L1605.9 966.6L1609.4 966.6L1612.8 966.6L1616.3 966.6L1619.8 966.6L1623.2 966.6L1626.7 966.6L1630.1 966.6L1633.6 966.6L1637.0 966.6L1640.5 966.6L1643.9 966.6L1647.4 966.6L1650.8 966.6L1654.3 966.9L1657.7 969.9L1658.5 970.8L1661.2 973.9L1664.6 979.6L1665.3 980.9L1667.7 991.0L1667.7 1001.1L1667.7 1011.2L1667.7 1021.3L1668.1 1024.3L1669.1 1031.4L1671.5 1036.5L1674.9 1041.6L1675.0 1041.7L1678.5 1045.5L1681.9 1048.1L1685.4 1048.1L1688.8 1048.1L1692.3 1048.1L1695.7 1048.1L1699.2 1048.1L1702.6 1048.1L1706.1 1048.1L1709.5 1048.2L1713.0 1051.1L1713.6 1051.7L1716.4 1055.0L1719.9 1060.5L1720.6 1061.8L1723.3 1068.6L1724.6 1071.9L1726.8 1076.7L1730.2 1082.0ZM1564.7 879.8L1564.5 879.5L1561.1 874.7L1558.5 869.6L1558.6 859.5L1561.1 854.8L1564.5 849.9L1564.9 849.4L1568.0 846.4L1571.4 845.1L1574.9 848.2L1576.0 849.4L1578.3 852.4L1581.8 858.3L1582.3 859.5L1582.5 869.6L1581.8 871.1L1578.3 877.1L1576.2 879.8L1574.9 881.3L1571.4 884.4L1568.0 883.1ZM1260.7 881.4L1264.1 884.5L1267.6 882.9L1270.7 879.8L1271.0 879.3L1274.5 874.4L1276.9 869.6L1276.7 859.5L1274.5 855.1L1271.0 850.1L1270.4 849.4L1267.6 846.5L1264.1 845.0L1260.7 848.0L1259.4 849.4L1257.2 852.2L1253.7 858.0L1253.0 859.5L1252.9 869.6L1253.7 871.5L1257.2 877.3L1259.1 879.8ZM1177.8 678.2L1181.2 681.2L1184.7 681.4L1188.1 681.4L1191.6 681.4L1195.0 681.4L1198.5 681.4L1202.0 681.4L1205.4 681.4L1208.9 681.4L1212.3 679.0L1213.8 677.5L1215.8 675.3L1219.2 670.2L1220.7 667.4L1221.8 657.3L1219.2 651.9L1216.1 647.2L1215.8 646.8L1212.3 643.1L1208.9 640.3L1205.4 637.3L1205.1 637.1L1202.0 633.3L1198.5 627.7L1198.1 626.9L1195.0 619.3L1194.1 616.8L1191.6 611.5L1188.5 606.7L1188.1 606.3L1184.7 602.5L1181.2 599.7L1177.8 596.7L1177.7 596.6L1174.3 592.8L1170.9 587.2L1170.5 586.5L1167.4 580.8L1165.1 576.4L1164.0 575.3L1160.5 572.4L1158.5 566.3L1157.9 556.2L1160.5 549.3L1162.2 546.0L1163.6 535.9L1160.5 528.6L1157.1 528.6L1153.6 528.6L1150.2 528.6L1146.7 528.5L1145.3 525.8L1144.3 515.7L1146.7 508.6L1148.3 505.6L1150.2 496.5L1150.3 495.5L1150.3 485.4L1150.2 484.3L1148.8 475.3L1146.7 472.6L1143.3 470.9L1139.8 467.5L1136.3 467.5L1132.9 467.5L1129.4 467.5L1126.0 467.5L1126.0 475.3L1126.0 480.3L1129.4 481.2L1132.9 482.4L1136.3 484.4L1137.6 485.4L1139.8 487.8L1142.8 495.5L1140.8 505.6L1139.8 508.4L1136.3 511.7L1132.9 513.4L1129.4 514.4L1126.0 515.1L1126.0 515.7L1126.0 525.8L1126.0 535.9L1126.0 546.0L1126.0 556.2L1126.0 566.3L1126.0 576.4L1126.0 586.5L1126.0 596.6L1126.0 606.7L1126.0 616.8L1126.0 626.9L1126.0 637.1L1126.0 640.7L1129.4 640.7L1132.9 640.7L1136.3 640.7L1139.8 640.7L1143.3 640.7L1146.7 640.7L1150.2 640.7L1153.6 640.7L1157.1 643.4L1160.5 647.2L1160.5 647.2L1164.0 652.5L1166.2 657.3L1167.4 660.4L1170.2 667.4L1170.9 668.7L1174.3 674.3L1177.1 677.5ZM1260.7 677.7L1264.1 680.8L1267.6 679.2L1269.4 677.5L1271.0 675.7L1274.5 670.7L1276.2 667.4L1277.9 663.2L1280.2 657.3L1281.4 654.6L1284.8 648.7L1285.9 647.2L1288.3 644.5L1291.7 641.4L1295.2 640.7L1298.6 640.7L1302.1 640.7L1305.5 640.7L1309.0 640.7L1312.4 640.7L1315.9 640.7L1319.4 640.7L1322.8 638.8L1324.6 637.1L1326.3 635.3L1329.7 630.5L1331.6 626.9L1332.0 616.8L1329.7 613.5L1326.3 608.4L1325.1 606.7L1322.8 603.4L1319.4 599.9L1315.9 599.9L1312.4 599.9L1309.0 599.9L1305.5 599.9L1302.1 599.9L1298.6 599.9L1295.2 599.9L1291.7 599.2L1288.8 596.6L1288.3 596.1L1284.8 591.9L1281.6 586.5L1281.4 586.1L1277.9 579.6L1276.2 576.4L1274.5 574.7L1271.0 570.9L1269.6 566.3L1267.6 561.8L1264.8 556.2L1264.1 555.7L1260.7 554.9L1257.2 555.0L1256.3 556.2L1254.1 566.3L1253.7 569.7L1252.4 576.4L1251.0 586.5L1251.0 596.6L1251.0 606.7L1251.0 616.8L1251.0 626.9L1251.0 637.1L1251.0 647.2L1251.0 657.3L1253.6 667.4L1253.7 667.8L1257.2 673.6L1260.4 677.5Z" fill="#55FFAA" fill-rule="evenodd" stroke="#55FFAA" stroke-width="0.6"/>
<path d="M1129.4 1557.3L1132.9 1557.3L1136.3 1557.3L1139.8 1557.3L1143.3 1557.3L1146.7 1557.3L1150.2 1557.3L1153.6 1557.3L1157.1 1557.3L1160.5 1557.3L1164.0 1557.3L1167.4 1557.3L1167.7 1557.3L1167.7 1547.2L1167.7 1537.1L1167.7 1527.0L1167.7 1516.8L1167.7 1506.7L1167.7 1496.6L1167.7 1486.5L1167.7 1476.4L1170.9 1468.3L1171.9 1466.3L1174.3 1462.6L1177.8 1458.6L1180.6 1456.2L1181.2 1455.7L1184.7 1450.8L1188.0 1446.1L1188.1 1445.8L1191.6 1440.7L1194.8 1435.9L1195.0 1435.4L1198.5 1427.6L1199.5 1425.8L1202.0 1422.1L1205.4 1418.1L1208.0 1415.7L1208.9 1415.1L1212.3 1410.3L1215.5 1405.6L1215.8 1405.3L1219.2 1400.2L1222.4 1395.5L1219.2 1389.4L1217.1 1385.4L1215.8 1383.4L1212.3 1378.3L1209.9 1375.3L1208.9 1374.0L1205.4 1374.0L1202.0 1374.0L1198.5 1374.0L1195.0 1374.0L1191.6 1374.0L1188.1 1374.0L1184.7 1374.0L1181.2 1374.0L1177.8 1374.0L1174.3 1374.0L1170.9 1374.0L1167.4 1374.0L1164.0 1374.0L1160.5 1374.0L1157.1 1374.0L1153.6 1374.1L1151.9 1375.3L1150.2 1376.3L1146.7 1378.1L1143.3 1379.6L1139.8 1380.8L1136.3 1381.8L1132.9 1382.7L1129.4 1383.5L1126.0 1384.2L1126.0 1385.4L1126.0 1395.5L1126.0 1405.6L1126.0 1414.7L1127.3 1415.7L1129.4 1417.6L1132.9 1421.5L1135.8 1425.8L1136.3 1427.0L1139.6 1435.9L1136.3 1443.3L1134.8 1446.1L1132.9 1448.7L1129.4 1452.6L1126.0 1455.5L1126.0 1456.2L1126.0 1466.3L1126.0 1476.4L1126.0 1486.5L1126.0 1496.6L1126.0 1506.7L1126.0 1516.8L1126.0 1527.0L1126.0 1537.1L1126.0 1547.2L1126.0 1557.3ZM1509.3 1450.3L1512.7 1453.7L1516.2 1453.6L1519.6 1448.5L1521.3 1446.1L1523.1 1443.5L1526.5 1438.4L1528.2 1435.9L1526.5 1430.4L1524.7 1425.8L1523.1 1423.2L1519.6 1418.9L1516.2 1415.7L1516.2 1415.7L1516.0 1415.7L1512.7 1416.5L1509.3 1419.9L1505.8 1424.6L1505.1 1425.8L1502.4 1432.7L1501.3 1435.9L1502.4 1438.7L1505.8 1445.5L1506.1 1446.1ZM1619.8 1123.6L1623.2 1127.2L1626.7 1129.5L1630.1 1129.5L1633.6 1129.5L1637.0 1129.5L1640.5 1129.5L1643.9 1129.5L1647.4 1129.5L1650.8 1129.5L1654.3 1129.5L1657.7 1129.5L1661.2 1129.5L1664.6 1129.5L1668.1 1129.5L1671.5 1129.5L1675.0 1129.5L1678.5 1129.5L1681.9 1129.5L1685.4 1129.5L1688.8 1129.5L1692.3 1129.5L1695.7 1129.5L1699.2 1129.5L1702.6 1129.5L1706.1 1129.5L1709.5 1129.5L1713.0 1129.5L1716.4 1129.5L1719.9 1129.5L1723.3 1129.5L1726.8 1129.5L1730.2 1129.5L1733.7 1129.5L1737.2 1129.5L1737.2 1122.5L1737.2 1112.3L1737.2 1102.2L1737.2 1092.1L1737.2 1088.8L1733.7 1085.9L1730.2 1082.1L1730.2 1082.0L1726.8 1076.7L1724.6 1071.9L1723.3 1068.6L1720.6 1061.8L1719.9 1060.5L1716.4 1055.0L1713.6 1051.7L1713.0 1051.1L1709.5 1048.2L1706.1 1048.1L1702.6 1048.1L1699.2 1048.1L1695.7 1048.1L1692.3 1048.1L1688.8 1048.1L1685.4 1048.1L1681.9 1048.1L1678.5 1045.5L1675.0 1041.7L1674.9 1041.6L1671.5 1036.5L1669.1 1031.4L1668.1 1024.3L1667.7 1021.3L1667.7 1011.2L1667.7 1001.1L1667.7 991.0L1665.3 980.9L1664.6 979.6L1661.2 973.9L1658.5 970.8L1657.7 969.9L1654.3 966.9L1650.8 966.6L1647.4 966.6L1643.9 966.6L1640.5 966.6L1637.0 966.6L1633.6 966.6L1630.1 966.6L1626.7 966.6L1623.2 966.6L1619.8 966.6L1616.3 966.6L1612.8 966.6L1609.4 966.6L1605.9 966.6L1602.5 966.6L1599.0 966.6L1595.6 964.4L1592.1 960.8L1592.0 960.7L1588.7 955.9L1586.0 950.5L1585.2 948.5L1582.1 940.4L1581.8 939.8L1578.3 933.9L1575.5 930.3L1574.9 929.7L1571.4 926.6L1568.0 925.8L1564.5 925.8L1561.1 925.8L1557.6 925.8L1554.1 925.8L1550.7 925.8L1547.2 925.8L1543.8 925.8L1540.3 924.0L1536.9 920.5L1536.7 920.2L1533.4 915.7L1530.6 910.1L1530.0 908.5L1526.6 900.0L1526.5 899.7L1523.1 893.6L1520.2 889.9L1519.6 889.3L1516.2 886.1L1512.7 885.1L1509.3 885.1L1505.8 885.1L1502.4 885.1L1498.9 885.1L1495.4 885.1L1492.0 885.1L1488.5 885.1L1485.1 883.5L1481.6 880.1L1481.4 879.8L1478.2 875.4L1475.1 869.6L1475.3 859.5L1478.2 854.0L1481.6 849.4L1481.6 849.4L1485.1 846.0L1488.5 844.4L1492.0 844.4L1495.4 844.4L1498.9 844.4L1502.4 844.4L1505.8 844.4L1509.3 844.4L1512.7 844.4L1516.2 843.4L1519.6 840.2L1520.4 839.3L1523.1 835.9L1526.5 829.7L1526.8 829.2L1528.8 819.1L1528.8 809.0L1528.8 798.9L1528.8 788.7L1528.8 778.6L1528.8 768.5L1528.8 758.4L1528.8 748.3L1527.1 738.2L1526.5 736.8L1523.1 730.6L1521.2 728.1L1519.6 726.3L1516.2 723.1L1512.7 720.4L1510.2 718.0L1509.3 716.9L1505.8 712.2L1503.5 707.8L1502.4 705.2L1499.5 697.7L1498.9 696.4L1495.4 690.1L1493.6 687.6L1492.0 685.7L1488.5 682.5L1485.1 679.8L1482.7 677.5L1481.6 676.4L1478.2 671.7L1475.8 667.4L1474.7 664.8L1471.8 657.3L1471.3 656.0L1467.8 649.6L1466.1 647.2L1464.4 645.2L1460.9 641.9L1457.5 639.2L1455.2 637.1L1454.0 635.8L1450.6 631.2L1448.2 626.9L1447.1 625.1L1443.7 618.1L1443.1 616.8L1440.2 612.6L1436.7 607.5L1436.2 606.7L1433.3 602.5L1429.8 598.6L1427.7 596.6L1426.4 595.3L1422.9 590.8L1420.5 586.5L1419.5 584.6L1416.0 578.1L1415.1 576.4L1412.6 574.1L1409.1 568.7L1408.5 566.3L1407.9 556.2L1409.1 552.1L1412.2 546.0L1412.6 545.2L1414.8 535.9L1416.0 531.8L1419.5 528.6L1422.9 528.6L1425.9 525.8L1426.4 524.9L1428.1 515.7L1428.1 505.6L1428.6 495.5L1429.8 491.3L1433.3 487.9L1436.7 487.9L1440.2 487.9L1443.7 487.9L1447.1 487.9L1450.6 487.9L1454.0 487.9L1457.5 487.9L1460.9 487.9L1464.4 487.9L1467.8 487.9L1471.3 487.9L1474.7 487.9L1478.2 487.9L1481.6 487.9L1485.1 487.9L1488.5 485.4L1488.5 485.2L1490.1 475.3L1488.5 470.1L1485.9 465.1L1485.1 461.7L1484.1 455.0L1485.1 451.4L1488.5 447.2L1492.0 447.2L1495.4 447.2L1498.9 447.2L1502.4 447.2L1505.8 447.2L1509.3 447.2L1512.7 447.2L1516.2 444.9L1516.2 444.9L1518.8 434.8L1519.6 431.6L1523.1 430.4L1524.6 434.8L1526.5 442.5L1528.1 444.9L1530.0 447.2L1533.4 447.2L1536.9 450.5L1538.4 455.0L1540.3 462.6L1541.5 465.1L1543.8 469.4L1545.7 475.3L1547.2 478.3L1550.7 482.5L1554.1 485.2L1554.3 485.4L1557.6 487.9L1561.1 487.9L1564.5 487.9L1568.0 487.9L1571.4 487.9L1574.9 487.9L1578.3 487.9L1581.8 487.9L1585.2 489.0L1588.7 491.8L1592.1 494.6L1592.7 495.5L1595.6 502.3L1597.5 505.6L1599.0 509.3L1602.5 512.1L1605.9 514.8L1606.5 515.7L1609.4 521.1L1612.8 524.6L1614.6 525.8L1616.3 527.1L1619.8 529.0L1623.2 530.3L1626.7 531.5L1630.1 533.4L1633.6 535.5L1636.6 535.9L1637.0 536.1L1640.5 537.1L1643.9 537.1L1647.4 538.3L1650.8 544.3L1652.2 546.0L1654.3 549.7L1657.7 552.7L1661.2 554.3L1664.6 555.2L1668.0 556.2L1668.1 556.2L1671.5 561.3L1675.0 564.7L1678.5 566.2L1678.5 566.3L1681.9 569.8L1685.4 573.0L1688.8 574.9L1689.8 576.4L1692.3 581.8L1694.5 586.5L1695.7 589.7L1699.2 589.7L1702.6 590.3L1704.8 596.6L1706.1 600.5L1708.3 606.7L1709.5 610.1L1713.0 610.1L1716.4 610.3L1719.9 613.6L1723.3 615.3L1724.4 616.8L1726.8 624.4L1727.9 626.9L1730.2 633.9L1733.7 636.6L1734.2 637.1L1737.2 640.7L1737.2 637.1L1737.2 626.9L1737.2 616.8L1737.2 615.2L1733.7 615.2L1730.2 615.2L1726.8 610.2L1724.4 606.7L1723.3 604.8L1719.9 600.1L1717.8 596.6L1716.4 595.0L1713.0 593.2L1709.5 590.0L1708.3 586.5L1706.1 582.1L1702.7 576.4L1702.6 576.3L1699.2 575.5L1695.7 574.6L1692.3 569.8L1689.9 566.3L1688.8 564.9L1685.4 561.5L1681.9 557.6L1678.5 556.4L1677.1 556.2L1675.0 555.9L1671.5 552.8L1668.1 549.4L1664.6 547.3L1663.0 546.0L1661.2 544.6L1657.7 541.3L1654.3 537.3L1653.4 535.9L1650.8 534.1L1647.4 531.6L1643.9 531.2L1640.5 531.2L1637.0 530.3L1633.6 528.9L1630.1 527.4L1626.7 526.3L1625.6 525.8L1623.2 524.5L1619.8 522.3L1616.3 519.7L1612.8 516.7L1612.1 515.7L1609.4 512.8L1605.9 505.6L1605.9 505.6L1602.5 500.8L1599.0 496.7L1598.4 495.5L1595.6 492.5L1592.1 485.5L1592.0 485.4L1588.7 481.0L1585.2 477.4L1581.8 475.4L1581.4 475.3L1578.3 474.6L1574.9 473.2L1571.4 469.7L1568.9 465.1L1568.0 463.3L1564.6 455.0L1564.5 454.9L1561.1 454.0L1557.6 454.0L1554.1 453.5L1550.7 452.6L1547.2 451.2L1543.8 448.6L1542.2 444.9L1540.3 441.1L1537.7 434.8L1536.9 433.6L1533.4 430.9L1530.0 428.3L1528.3 424.7L1526.5 420.9L1523.9 414.6L1523.1 413.3L1519.6 410.5L1516.2 408.0L1513.8 404.5L1512.7 402.6L1509.7 394.4L1509.3 394.0L1505.8 393.2L1502.4 393.6L1500.6 394.4L1500.0 404.5L1502.4 408.8L1504.1 414.6L1502.4 424.2L1502.0 424.7L1498.9 426.8L1495.4 426.8L1492.0 426.8L1488.5 426.8L1485.1 426.8L1481.6 426.8L1478.2 426.8L1474.7 426.8L1471.3 429.0L1467.8 431.3L1464.4 431.9L1460.9 431.9L1457.5 434.3L1457.1 434.8L1454.0 444.2L1453.2 444.9L1450.6 447.2L1447.1 447.2L1443.7 447.2L1440.2 447.2L1436.7 447.2L1433.3 447.2L1429.8 447.2L1426.4 447.2L1423.8 444.9L1422.9 443.7L1420.7 434.8L1419.5 430.4L1416.0 426.8L1412.6 426.8L1409.1 426.8L1405.7 426.8L1402.2 426.8L1398.8 426.8L1395.3 429.7L1393.8 434.8L1395.3 443.8L1395.7 444.9L1398.8 451.1L1399.9 455.0L1400.3 465.1L1400.3 475.3L1402.2 484.8L1402.5 485.4L1405.7 491.7L1406.8 495.5L1407.3 505.6L1407.3 515.7L1405.7 524.5L1405.2 525.8L1402.2 531.6L1400.9 535.9L1400.3 546.0L1400.3 556.2L1399.6 566.3L1398.8 571.8L1397.8 576.4L1396.2 586.5L1395.3 594.3L1395.0 596.6L1393.4 606.7L1391.9 613.6L1391.0 616.8L1388.4 624.3L1387.2 626.9L1385.0 631.0L1381.5 635.7L1380.2 637.1L1378.1 639.1L1374.6 639.6L1371.8 637.1L1371.1 636.3L1367.7 632.0L1364.8 626.9L1364.2 625.9L1360.8 619.2L1359.8 616.8L1357.3 613.3L1353.9 608.2L1352.9 606.7L1350.4 603.2L1347.0 598.1L1346.0 596.6L1343.5 593.0L1340.1 588.0L1339.1 586.5L1336.6 583.9L1333.2 581.3L1329.7 578.6L1327.2 576.4L1326.3 575.9L1322.8 572.8L1319.4 569.4L1315.9 569.4L1312.4 569.4L1309.0 569.4L1305.5 569.4L1302.1 569.4L1298.6 569.4L1295.2 569.4L1291.7 569.0L1288.3 568.0L1285.6 566.3L1284.8 565.7L1281.4 558.4L1280.1 556.2L1277.9 554.1L1274.5 554.1L1271.0 553.2L1267.6 550.5L1264.1 548.6L1260.7 546.4L1260.0 546.0L1257.2 544.2L1253.8 546.0L1253.7 546.1L1250.3 549.0L1246.8 549.0L1243.4 549.0L1239.9 549.0L1236.5 548.0L1235.5 546.0L1233.1 535.9L1233.0 535.8L1229.6 527.7L1228.7 525.8L1226.2 515.7L1226.1 515.6L1222.7 508.3L1219.2 508.3L1215.8 508.3L1212.3 508.3L1208.9 508.3L1205.4 508.3L1202.0 508.3L1198.5 508.3L1195.0 508.3L1191.6 508.3L1188.1 507.7L1187.1 505.6L1184.7 496.4L1184.5 495.5L1181.2 487.9L1177.8 487.9L1174.3 487.5L1173.2 485.4L1170.9 476.4L1170.6 475.3L1167.4 467.5L1164.0 467.5L1160.5 467.5L1157.1 467.5L1153.6 467.3L1151.6 465.1L1150.2 463.7L1146.7 461.5L1143.3 455.7L1142.9 455.0L1139.8 447.3L1136.3 450.6L1132.9 452.3L1129.4 452.3L1126.0 452.3L1126.0 455.0L1126.0 465.1L1126.0 467.5L1129.4 467.5L1132.9 467.5L1136.3 467.5L1139.8 467.5L1143.3 470.9L1146.7 472.6L1148.8 475.3L1150.2 484.3L1150.3 485.4L1150.3 495.5L1150.2 496.5L1148.3 505.6L1146.7 508.6L1144.3 515.7L1145.3 525.8L1146.7 528.5L1150.2 528.6L1153.6 528.6L1157.1 528.6L1160.5 528.6L1163.6 535.9L1162.2 546.0L1160.5 549.3L1157.9 556.2L1158.5 566.3L1160.5 572.4L1164.0 575.3L1165.1 576.4L1167.4 580.8L1170.5 586.5L1170.9 587.2L1174.3 592.8L1177.7 596.6L1177.8 596.7L1181.2 599.7L1184.7 602.5L1188.1 606.3L1188.5 606.7L1191.6 611.5L1194.1 616.8L1195.0 619.3L1198.1 626.9L1198.5 627.7L1202.0 633.3L1205.1 637.1L1205.4 637.3L1208.9 640.3L1212.3 643.1L1215.8 646.8L1216.1 647.2L1219.2 651.9L1221.8 657.3L1220.7 667.4L1219.2 670.2L1215.8 675.3L1213.8 677.5L1212.3 679.0L1208.9 681.4L1205.4 681.4L1202.0 681.4L1198.5 681.4L1195.0 681.4L1191.6 681.4L1188.1 681.4L1184.7 681.4L1181.2 681.2L1177.8 678.2L1177.1 677.5L1174.3 674.3L1170.9 668.7L1170.2 667.4L1167.4 660.4L1166.2 657.3L1164.0 652.5L1160.5 647.2L1160.5 647.2L1157.1 643.4L1153.6 640.7L1150.2 640.7L1146.7 640.7L1143.3 640.7L1139.8 640.7L1136.3 640.7L1132.9 640.7L1129.4 640.7L1126.0 640.7L1126.0 647.2L1126.0 657.3L1126.0 667.4L1126.0 677.5L1126.0 681.4L1129.4 684.3L1132.5 687.6L1132.9 688.2L1136.3 693.5L1138.3 697.7L1139.8 707.3L1139.9 707.8L1139.9 718.0L1139.9 728.1L1139.9 738.2L1143.3 746.8L1143.8 748.3L1146.7 752.5L1150.2 757.6L1150.7 758.4L1153.6 762.7L1157.1 765.6L1159.8 768.5L1160.5 769.4L1164.0 774.7L1165.9 778.6L1167.4 787.3L1167.7 788.7L1167.7 798.9L1167.7 809.0L1167.7 819.1L1167.7 829.2L1167.7 839.3L1167.7 849.4L1167.7 859.5L1169.6 869.6L1170.9 872.4L1174.3 878.0L1175.8 879.8L1177.8 881.9L1181.2 884.9L1184.7 887.7L1186.8 889.9L1188.1 891.4L1191.6 896.6L1193.3 900.0L1195.0 904.5L1197.2 910.1L1198.5 912.8L1202.0 918.5L1203.3 920.2L1205.4 922.5L1208.9 925.5L1212.3 928.3L1214.3 930.3L1215.8 932.0L1219.2 937.1L1220.9 940.4L1222.7 944.8L1224.9 950.5L1226.1 953.3L1229.6 959.0L1230.9 960.7L1233.0 963.1L1236.5 966.1L1239.9 966.6L1243.4 966.6L1246.8 966.6L1250.3 966.6L1253.7 966.6L1257.2 966.6L1260.7 966.6L1264.1 966.6L1267.6 966.6L1271.0 966.6L1274.5 966.6L1277.9 966.6L1281.4 966.6L1284.8 966.6L1288.3 966.6L1291.7 966.6L1295.2 966.6L1298.6 966.6L1302.1 966.6L1305.5 966.6L1309.0 966.6L1312.4 966.6L1315.9 966.6L1319.4 966.6L1322.8 966.6L1326.3 966.6L1329.7 966.6L1333.2 966.6L1336.6 966.6L1340.1 966.6L1343.5 966.6L1347.0 966.6L1350.4 968.3L1353.0 970.8L1353.9 971.8L1357.3 976.5L1359.7 980.9L1360.8 982.8L1364.2 989.6L1364.9 991.0L1367.7 995.1L1371.1 1000.2L1371.8 1001.1L1374.6 1005.3L1378.1 1005.7L1381.5 1002.3L1382.5 1001.1L1385.0 997.6L1388.4 991.0L1388.4 990.9L1391.9 982.0L1392.3 980.9L1395.3 975.5L1398.8 971.1L1399.1 970.8L1402.2 967.8L1405.7 966.6L1409.1 966.6L1412.6 966.6L1416.0 966.6L1419.5 966.6L1422.9 966.6L1426.4 966.6L1429.8 966.6L1433.3 966.6L1436.7 966.6L1440.2 966.6L1443.7 966.6L1447.1 966.6L1450.6 966.6L1454.0 966.6L1457.5 966.6L1460.9 967.8L1464.1 970.8L1464.4 971.1L1467.8 975.5L1470.8 980.9L1471.3 982.0L1474.7 990.9L1474.8 991.0L1478.2 997.6L1480.6 1001.1L1481.6 1002.3L1485.1 1005.7L1488.5 1007.3L1492.0 1007.3L1495.4 1007.3L1498.9 1007.3L1502.4 1007.3L1505.8 1007.3L1509.3 1007.3L1512.7 1007.3L1516.2 1007.3L1519.6 1007.3L1523.1 1007.3L1526.5 1007.3L1530.0 1007.3L1533.4 1007.3L1536.9 1007.3L1540.3 1007.3L1543.8 1008.2L1547.2 1011.2L1547.2 1011.3L1550.7 1015.6L1554.0 1021.3L1554.1 1021.7L1557.6 1030.4L1558.0 1031.4L1561.1 1037.6L1563.7 1041.6L1564.5 1042.5L1568.0 1046.0L1571.4 1048.8L1574.7 1051.7L1574.9 1051.9L1578.3 1056.1L1581.7 1061.8L1581.8 1062.1L1585.2 1070.7L1585.7 1071.9L1588.7 1078.1L1591.3 1082.0L1592.1 1083.0L1595.6 1086.6L1599.0 1089.4L1602.1 1092.1L1602.5 1092.5L1605.9 1096.6L1609.3 1102.2L1609.4 1102.5L1612.8 1111.1L1613.3 1112.3L1616.3 1118.6L1618.9 1122.5ZM1397.8 920.2L1395.3 916.9L1391.9 910.5L1391.7 910.1L1389.9 900.0L1389.9 889.9L1389.9 879.8L1389.9 869.6L1388.4 862.0L1387.9 859.5L1385.0 854.0L1381.5 849.4L1381.5 849.4L1378.1 846.0L1374.6 843.3L1371.1 840.0L1370.5 839.3L1367.7 835.7L1364.2 829.4L1364.2 829.2L1360.8 820.6L1360.2 819.1L1357.3 813.6L1354.0 809.0L1353.9 808.8L1350.4 805.4L1347.0 803.6L1343.5 803.6L1340.1 803.6L1336.6 803.6L1333.2 803.6L1329.7 803.6L1326.3 803.6L1322.8 803.6L1319.4 802.8L1315.9 799.6L1315.2 798.9L1312.4 795.4L1309.0 789.3L1308.7 788.7L1308.3 778.6L1309.0 777.2L1312.4 771.1L1314.4 768.5L1315.9 766.9L1319.4 763.7L1322.8 761.0L1325.5 758.4L1326.3 757.5L1329.7 752.7L1332.0 748.3L1333.2 745.5L1336.0 738.2L1336.6 736.8L1340.1 730.6L1342.0 728.1L1343.5 726.3L1347.0 723.1L1350.4 720.4L1353.0 718.0L1353.9 716.9L1357.3 712.2L1359.7 707.8L1360.8 705.2L1363.7 697.7L1364.2 696.4L1367.7 690.1L1369.5 687.6L1371.1 685.7L1374.6 682.5L1378.1 681.4L1381.5 681.4L1385.0 681.4L1388.4 681.4L1391.9 681.4L1395.3 681.4L1398.8 681.4L1402.2 681.4L1405.7 681.4L1409.1 681.4L1412.6 681.4L1416.0 681.4L1419.5 681.4L1422.9 681.4L1426.4 681.4L1429.8 681.4L1433.3 682.8L1436.7 686.1L1438.1 687.6L1440.2 690.6L1443.7 697.1L1443.9 697.7L1445.5 707.8L1445.5 718.0L1445.5 728.1L1445.5 738.2L1445.5 748.3L1445.5 758.4L1445.5 768.5L1445.5 778.6L1445.5 788.7L1445.5 798.9L1445.5 809.0L1445.5 819.1L1445.5 829.2L1445.5 839.3L1445.5 849.4L1445.5 859.5L1443.7 869.2L1443.6 869.6L1440.2 875.9L1437.3 879.8L1436.7 880.4L1433.3 883.8L1429.8 886.5L1426.4 889.8L1426.3 889.9L1422.9 894.3L1419.8 900.0L1419.5 900.9L1416.0 909.8L1415.9 910.1L1412.6 916.4L1409.8 920.2L1409.1 921.0L1405.7 924.4L1402.2 924.6L1398.8 921.4ZM1259.1 879.8L1257.2 877.3L1253.7 871.5L1252.9 869.6L1253.0 859.5L1253.7 858.0L1257.2 852.2L1259.4 849.4L1260.7 848.0L1264.1 845.0L1267.6 846.5L1270.4 849.4L1271.0 850.1L1274.5 855.1L1276.7 859.5L1276.9 869.6L1274.5 874.4L1271.0 879.3L1270.7 879.8L1267.6 882.9L1264.1 884.5L1260.7 881.4ZM1260.4 677.5L1257.2 673.6L1253.7 667.8L1253.6 667.4L1251.0 657.3L1251.0 647.2L1251.0 637.1L1251.0 626.9L1251.0 616.8L1251.0 606.7L1251.0 596.6L1251.0 586.5L1252.4 576.4L1253.7 569.7L1254.1 566.3L1256.3 556.2L1257.2 555.0L1260.7 554.9L1264.1 555.7L1264.8 556.2L1267.6 561.8L1269.6 566.3L1271.0 570.9L1274.5 574.7L1276.2 576.4L1277.9 579.6L1281.4 586.1L1281.6 586.5L1284.8 591.9L1288.3 596.1L1288.8 596.6L1291.7 599.2L1295.2 599.9L1298.6 599.9L1302.1 599.9L1305.5 599.9L1309.0 599.9L1312.4 599.9L1315.9 599.9L1319.4 599.9L1322.8 603.4L1325.1 606.7L1326.3 608.4L1329.7 613.5L1332.0 616.8L1331.6 626.9L1329.7 630.5L1326.3 635.3L1324.6 637.1L1322.8 638.8L1319.4 640.7L1315.9 640.7L1312.4 640.7L1309.0 640.7L1305.5 640.7L1302.1 640.7L1298.6 640.7L1295.2 640.7L1291.7 641.4L1288.3 644.5L1285.9 647.2L1284.8 648.7L1281.4 654.6L1280.2 657.3L1277.9 663.2L1276.2 667.4L1274.5 670.7L1271.0 675.7L1269.4 677.5L1267.6 679.2L1264.1 680.8L1260.7 677.7Z" fill="#AAFF55" fill-rule="evenodd" stroke="#AAFF55" stroke-width="0.6"/>
<path d="M1170.9 1557.3L1174.3 1557.3L1177.8 1557.3L1181.2 1557.3L1184.7 1557.3L1188.1 1557.3L1191.6 1557.3L1195.0 1557.3L1195.4 1557.3L1195.4 1547.2L1195.4 1537.1L1195.4 1527.0L1195.4 1516.8L1195.4 1506.7L1195.4 1496.6L1195.4 1486.5L1195.4 1476.4L1198.5 1471.6L1201.9 1466.3L1202.0 1466.3L1205.4 1461.2L1208.8 1456.2L1208.9 1456.1L1212.3 1453.0L1215.8 1449.3L1218.1 1446.1L1219.2 1444.2L1222.7 1436.6L1222.9 1435.9L1226.1 1431.1L1229.5 1425.8L1229.6 1425.8L1233.0 1420.7L1236.4 1415.7L1236.5 1415.6L1239.9 1414.7L1243.4 1414.7L1246.8 1414.7L1250.3 1414.7L1251.0 1405.6L1251.0 1395.5L1250.3 1393.4L1247.1 1385.4L1246.8 1385.0L1243.4 1379.9L1239.9 1376.3L1238.9 1375.3L1236.5 1373.1L1233.0 1368.0L1231.1 1365.2L1229.6 1362.9L1226.1 1357.9L1224.2 1355.0L1222.7 1351.2L1219.5 1344.9L1219.2 1344.5L1215.8 1339.4L1212.3 1335.7L1211.3 1334.8L1208.9 1332.9L1205.4 1329.9L1202.0 1325.9L1201.1 1324.7L1198.5 1320.2L1196.1 1314.6L1195.0 1311.8L1191.8 1304.5L1191.6 1304.0L1188.1 1298.8L1184.7 1295.1L1183.9 1294.4L1181.2 1292.3L1177.8 1289.3L1174.3 1285.3L1173.6 1284.3L1170.9 1279.8L1168.4 1274.1L1167.4 1272.7L1164.0 1267.1L1162.1 1264.0L1160.5 1261.7L1157.1 1256.6L1155.1 1253.9L1153.6 1251.9L1151.1 1253.9L1150.2 1254.8L1146.7 1258.7L1143.3 1264.0L1143.3 1264.2L1139.9 1274.1L1139.9 1284.3L1139.9 1294.4L1139.9 1304.5L1139.9 1314.6L1139.9 1324.7L1139.9 1334.8L1139.9 1344.9L1139.8 1345.5L1138.3 1355.0L1136.3 1356.8L1132.9 1359.5L1129.4 1361.8L1126.0 1363.8L1126.0 1365.2L1126.0 1375.3L1126.0 1384.2L1129.4 1383.5L1132.9 1382.7L1136.3 1381.8L1139.8 1380.8L1143.3 1379.6L1146.7 1378.1L1150.2 1376.3L1151.9 1375.3L1153.6 1374.1L1157.1 1374.0L1160.5 1374.0L1164.0 1374.0L1167.4 1374.0L1170.9 1374.0L1174.3 1374.0L1177.8 1374.0L1181.2 1374.0L1184.7 1374.0L1188.1 1374.0L1191.6 1374.0L1195.0 1374.0L1198.5 1374.0L1202.0 1374.0L1205.4 1374.0L1208.9 1374.0L1209.9 1375.3L1212.3 1378.3L1215.8 1383.4L1217.1 1385.4L1219.2 1389.4L1222.4 1395.5L1219.2 1400.2L1215.8 1405.3L1215.5 1405.6L1212.3 1410.3L1208.9 1415.1L1208.0 1415.7L1205.4 1418.1L1202.0 1422.1L1199.5 1425.8L1198.5 1427.6L1195.0 1435.4L1194.8 1435.9L1191.6 1440.7L1188.1 1445.8L1188.0 1446.1L1184.7 1450.8L1181.2 1455.7L1180.6 1456.2L1177.8 1458.6L1174.3 1462.6L1171.9 1466.3L1170.9 1468.3L1167.7 1476.4L1167.7 1486.5L1167.7 1496.6L1167.7 1506.7L1167.7 1516.8L1167.7 1527.0L1167.7 1537.1L1167.7 1547.2L1167.7 1557.3ZM1395.3 1487.2L1398.8 1491.7L1402.2 1495.0L1405.7 1494.7L1409.1 1491.3L1412.6 1486.8L1412.7 1486.5L1416.0 1480.1L1417.5 1476.4L1417.7 1466.3L1417.7 1456.2L1419.5 1455.5L1422.9 1455.5L1426.4 1455.5L1429.8 1455.5L1433.3 1455.5L1436.7 1455.5L1440.2 1455.5L1443.7 1455.5L1447.1 1455.5L1450.6 1455.5L1454.0 1455.5L1457.5 1455.5L1459.6 1456.2L1460.9 1456.7L1464.4 1459.9L1467.8 1464.4L1469.0 1466.3L1471.3 1470.8L1473.4 1476.4L1474.7 1479.8L1478.2 1486.5L1478.2 1486.5L1481.6 1491.2L1485.1 1494.6L1488.5 1495.2L1492.0 1493.2L1495.4 1491.5L1498.9 1490.1L1502.4 1489.0L1505.8 1488.0L1509.3 1487.2L1512.3 1486.5L1512.7 1486.4L1516.2 1485.5L1519.6 1483.9L1523.1 1481.8L1526.5 1478.7L1528.4 1476.4L1530.0 1474.1L1533.4 1469.1L1535.3 1466.3L1536.9 1464.0L1540.3 1458.9L1543.1 1456.2L1543.8 1455.5L1547.2 1455.5L1550.7 1455.5L1554.1 1455.5L1557.6 1455.5L1561.1 1455.5L1564.5 1455.5L1568.0 1455.5L1571.4 1455.5L1574.9 1455.5L1578.3 1455.5L1581.8 1455.5L1585.2 1455.5L1588.7 1455.5L1592.1 1455.5L1595.6 1455.5L1599.0 1455.5L1602.5 1455.5L1605.9 1455.5L1609.4 1455.5L1612.1 1456.2L1612.1 1466.3L1612.3 1476.4L1612.8 1477.8L1616.3 1485.2L1617.1 1486.5L1619.8 1490.2L1623.2 1493.9L1626.7 1495.7L1630.1 1492.7L1633.6 1488.6L1635.0 1486.5L1637.0 1482.9L1639.7 1476.4L1637.0 1469.1L1635.7 1466.3L1633.6 1463.0L1630.1 1459.0L1627.0 1456.2L1626.7 1455.9L1623.2 1455.5L1619.8 1455.5L1616.3 1455.5L1612.8 1455.5L1612.1 1446.1L1612.1 1435.9L1612.1 1425.8L1612.1 1415.7L1612.1 1405.6L1612.1 1395.5L1609.4 1387.9L1608.2 1385.4L1605.9 1381.8L1602.5 1377.6L1599.9 1375.3L1599.0 1374.6L1597.1 1375.3L1595.6 1375.8L1592.1 1377.7L1588.7 1379.2L1585.2 1380.5L1581.8 1381.6L1578.3 1382.5L1574.9 1383.3L1571.4 1384.0L1568.0 1383.7L1564.5 1382.9L1561.1 1382.1L1557.6 1381.1L1554.1 1379.9L1550.7 1378.5L1547.2 1376.8L1544.6 1375.3L1543.8 1374.7L1540.3 1372.1L1536.9 1368.6L1534.3 1365.2L1533.4 1363.8L1530.0 1356.8L1529.3 1355.0L1526.5 1350.8L1523.1 1345.2L1522.9 1344.9L1519.6 1340.1L1516.2 1335.1L1515.9 1334.8L1512.7 1331.5L1509.3 1328.0L1506.7 1324.7L1505.8 1323.3L1502.4 1316.4L1501.6 1314.6L1498.9 1310.3L1495.4 1304.7L1495.3 1304.5L1492.0 1299.6L1488.5 1294.6L1488.2 1294.4L1485.1 1292.5L1481.6 1292.5L1478.2 1292.5L1474.7 1292.5L1471.3 1292.5L1467.8 1292.5L1464.4 1292.5L1460.9 1292.5L1457.5 1292.5L1454.0 1292.5L1450.6 1292.5L1447.1 1292.5L1445.5 1284.3L1445.5 1274.1L1443.7 1268.6L1442.0 1264.0L1440.2 1260.9L1436.7 1256.4L1434.2 1253.9L1433.3 1253.1L1429.8 1253.1L1428.9 1253.9L1426.4 1256.4L1422.9 1260.9L1421.1 1264.0L1419.5 1269.7L1418.4 1274.1L1419.5 1276.8L1422.9 1283.3L1423.6 1284.3L1426.4 1287.8L1429.8 1291.1L1433.3 1292.5L1436.7 1292.5L1440.2 1292.5L1443.7 1292.5L1445.5 1294.4L1445.5 1304.5L1445.5 1314.6L1445.5 1324.7L1445.5 1334.8L1445.5 1344.9L1445.5 1355.0L1445.5 1365.2L1445.5 1375.3L1445.5 1385.4L1445.1 1395.5L1443.7 1399.0L1440.2 1405.5L1440.1 1405.6L1436.7 1410.0L1433.3 1413.4L1431.2 1415.7L1429.8 1417.2L1426.4 1422.3L1424.0 1425.8L1422.9 1427.6L1419.5 1433.1L1417.7 1435.9L1417.7 1446.1L1416.0 1455.5L1412.6 1455.5L1409.1 1455.5L1405.7 1455.5L1404.7 1456.2L1402.2 1457.8L1398.8 1462.8L1396.4 1466.3L1395.3 1468.1L1391.9 1473.6L1390.1 1476.4L1391.9 1480.9L1394.8 1486.5ZM1506.1 1446.1L1505.8 1445.5L1502.4 1438.7L1501.3 1435.9L1502.4 1432.7L1505.1 1425.8L1505.8 1424.6L1509.3 1419.9L1512.7 1416.5L1516.0 1415.7L1516.2 1415.7L1516.2 1415.7L1519.6 1418.9L1523.1 1423.2L1524.7 1425.8L1526.5 1430.4L1528.2 1435.9L1526.5 1438.4L1523.1 1443.5L1521.3 1446.1L1519.6 1448.5L1516.2 1453.6L1512.7 1453.7L1509.3 1450.3ZM1257.2 1447.7L1260.7 1451.8L1264.1 1454.9L1267.6 1453.3L1271.0 1449.7L1273.7 1446.1L1274.5 1444.7L1277.9 1437.5L1278.5 1435.9L1277.9 1434.1L1274.7 1425.8L1274.5 1425.4L1271.0 1420.5L1267.6 1416.9L1265.8 1415.7L1264.1 1414.7L1260.7 1414.7L1257.2 1414.7L1253.7 1414.7L1251.0 1415.7L1251.0 1425.8L1251.3 1435.9L1253.7 1441.8L1256.1 1446.1ZM1340.1 1447.0L1343.5 1451.3L1347.0 1454.5L1350.4 1451.6L1352.6 1446.1L1353.9 1441.5L1355.0 1435.9L1353.9 1431.1L1352.5 1425.8L1350.4 1420.0L1347.0 1415.7L1347.0 1415.7L1346.9 1415.7L1343.5 1418.9L1340.1 1423.2L1338.4 1425.8L1336.6 1430.1L1334.6 1435.9L1336.6 1440.8L1339.5 1446.1ZM1343.5 1247.6L1347.0 1250.8L1350.4 1250.0L1353.9 1246.6L1356.0 1243.8L1357.3 1241.8L1360.8 1235.0L1361.3 1233.7L1360.8 1232.7L1357.3 1227.5L1353.9 1223.9L1353.5 1223.6L1350.4 1222.1L1347.0 1221.7L1343.5 1223.3L1343.0 1223.6L1340.1 1226.4L1336.6 1231.1L1335.2 1233.7L1336.6 1237.1L1340.1 1243.3L1340.4 1243.8ZM1730.2 1204.3L1733.7 1208.1L1737.2 1211.0L1737.2 1203.4L1737.2 1193.2L1737.2 1183.1L1737.2 1173.0L1737.2 1162.9L1737.2 1152.8L1737.2 1142.7L1737.2 1132.6L1737.2 1129.5L1733.7 1129.5L1730.2 1129.5L1726.8 1129.5L1723.3 1129.5L1719.9 1129.5L1716.4 1129.5L1713.0 1129.5L1709.5 1129.5L1706.1 1129.5L1702.6 1129.5L1699.2 1129.5L1695.7 1129.5L1692.3 1129.5L1688.8 1129.5L1685.4 1129.5L1681.9 1129.5L1678.5 1129.5L1675.0 1129.5L1671.5 1129.5L1668.1 1129.5L1664.6 1129.5L1661.2 1129.5L1657.7 1129.5L1654.3 1129.5L1650.8 1129.5L1647.4 1129.5L1643.9 1129.5L1640.5 1129.5L1637.0 1129.5L1633.6 1129.5L1630.1 1129.5L1626.7 1129.5L1623.2 1127.2L1619.8 1123.6L1618.9 1122.5L1616.3 1118.6L1613.3 1112.3L1612.8 1111.1L1609.4 1102.5L1609.3 1102.2L1605.9 1096.6L1602.5 1092.5L1602.1 1092.1L1599.0 1089.4L1595.6 1086.6L1592.1 1083.0L1591.3 1082.0L1588.7 1078.1L1585.7 1071.9L1585.2 1070.7L1581.8 1062.1L1581.7 1061.8L1578.3 1056.1L1574.9 1051.9L1574.7 1051.7L1571.4 1048.8L1568.0 1046.0L1564.5 1042.5L1563.7 1041.6L1561.1 1037.6L1558.0 1031.4L1557.6 1030.4L1554.1 1021.7L1554.0 1021.3L1550.7 1015.6L1547.2 1011.3L1547.2 1011.2L1543.8 1008.2L1540.3 1007.3L1536.9 1007.3L1533.4 1007.3L1530.0 1007.3L1526.5 1007.3L1523.1 1007.3L1519.6 1007.3L1516.2 1007.3L1512.7 1007.3L1509.3 1007.3L1505.8 1007.3L1502.4 1007.3L1498.9 1007.3L1495.4 1007.3L1492.0 1007.3L1488.5 1007.3L1485.1 1005.7L1481.6 1002.3L1480.6 1001.1L1478.2 997.6L1474.8 991.0L1474.7 990.9L1471.3 982.0L1470.8 980.9L1467.8 975.5L1464.4 971.1L1464.1 970.8L1460.9 967.8L1457.5 966.6L1454.0 966.6L1450.6 966.6L1447.1 966.6L1443.7 966.6L1440.2 966.6L1436.7 966.6L1433.3 966.6L1429.8 966.6L1426.4 966.6L1422.9 966.6L1419.5 966.6L1416.0 966.6L1412.6 966.6L1409.1 966.6L1405.7 966.6L1402.2 967.8L1399.1 970.8L1398.8 971.1L1395.3 975.5L1392.3 980.9L1391.9 982.0L1388.4 990.9L1388.4 991.0L1385.0 997.6L1382.5 1001.1L1381.5 1002.3L1378.1 1005.7L1374.6 1005.3L1371.8 1001.1L1371.1 1000.2L1367.7 995.1L1364.9 991.0L1364.2 989.6L1360.8 982.8L1359.7 980.9L1357.3 976.5L1353.9 971.8L1353.0 970.8L1350.4 968.3L1347.0 966.6L1343.5 966.6L1340.1 966.6L1336.6 966.6L1333.2 966.6L1329.7 966.6L1326.3 966.6L1322.8 966.6L1319.4 966.6L1315.9 966.6L1312.4 966.6L1309.0 966.6L1305.5 966.6L1302.1 966.6L1298.6 966.6L1295.2 966.6L1291.7 966.6L1288.3 966.6L1284.8 966.6L1281.4 966.6L1277.9 966.6L1274.5 966.6L1271.0 966.6L1267.6 966.6L1264.1 966.6L1260.7 966.6L1257.2 966.6L1253.7 966.6L1250.3 966.6L1246.8 966.6L1243.4 966.6L1239.9 966.6L1236.5 966.1L1233.0 963.1L1230.9 960.7L1229.6 959.0L1226.1 953.3L1224.9 950.5L1222.7 944.8L1220.9 940.4L1219.2 937.1L1215.8 932.0L1214.3 930.3L1212.3 928.3L1208.9 925.5L1205.4 922.5L1203.3 920.2L1202.0 918.5L1198.5 912.8L1197.2 910.1L1195.0 904.5L1193.3 900.0L1191.6 896.6L1188.1 891.4L1186.8 889.9L1184.7 887.7L1181.2 884.9L1177.8 881.9L1175.8 879.8L1174.3 878.0L1170.9 872.4L1169.6 869.6L1167.7 859.5L1167.7 849.4L1167.7 839.3L1167.7 829.2L1167.7 819.1L1167.7 809.0L1167.7 798.9L1167.7 788.7L1167.4 787.3L1165.9 778.6L1164.0 774.7L1160.5 769.4L1159.8 768.5L1157.1 765.6L1153.6 762.7L1150.7 758.4L1150.2 757.6L1146.7 752.5L1143.8 748.3L1143.3 746.8L1139.9 738.2L1139.9 728.1L1139.9 718.0L1139.9 707.8L1139.8 707.3L1138.3 697.7L1136.3 693.5L1132.9 688.2L1132.5 687.6L1129.4 684.3L1126.0 681.4L1126.0 687.6L1126.0 697.7L1126.0 707.8L1126.0 718.0L1126.0 728.1L1126.0 738.2L1126.0 748.3L1126.0 758.4L1126.0 762.9L1129.4 768.0L1129.8 768.5L1132.9 773.0L1136.3 778.1L1136.7 778.6L1137.7 788.7L1136.3 791.5L1132.9 796.9L1131.3 798.9L1129.4 800.7L1126.0 803.6L1126.0 809.0L1126.0 819.1L1126.0 829.2L1126.0 839.3L1126.0 849.4L1126.0 859.5L1126.0 869.6L1126.0 879.8L1126.0 885.1L1129.4 888.0L1131.3 889.9L1132.9 891.8L1136.3 897.2L1137.7 900.0L1138.1 910.1L1136.3 913.7L1132.9 919.1L1132.0 920.2L1129.4 923.0L1126.0 925.8L1126.0 930.3L1126.0 940.4L1126.0 950.5L1126.0 960.7L1126.0 966.6L1129.4 966.6L1132.9 966.6L1136.3 966.6L1139.8 966.6L1143.3 966.6L1146.7 966.6L1150.2 966.6L1153.6 966.6L1157.1 969.3L1158.5 970.8L1160.5 973.1L1164.0 978.4L1165.2 980.9L1167.4 990.1L1167.7 991.0L1167.7 1001.1L1167.4 1007.3L1164.0 1007.3L1160.5 1007.3L1157.1 1007.3L1153.6 1007.3L1150.2 1007.3L1146.7 1007.3L1143.3 1007.3L1139.8 1007.3L1136.3 1007.3L1132.9 1007.3L1129.4 1007.3L1126.0 1007.3L1126.0 1011.2L1126.0 1021.3L1126.0 1031.4L1126.0 1041.6L1126.0 1048.1L1129.4 1048.1L1132.9 1048.1L1136.3 1048.1L1139.8 1048.1L1143.3 1048.1L1146.7 1048.1L1150.2 1048.1L1153.6 1048.1L1157.1 1045.3L1160.5 1041.6L1160.5 1041.5L1164.0 1036.2L1166.2 1031.4L1167.4 1022.7L1167.7 1021.3L1167.7 1011.2L1170.9 1007.3L1174.3 1007.3L1177.8 1007.3L1181.2 1007.3L1184.7 1007.3L1188.1 1007.3L1191.6 1007.3L1195.0 1007.3L1198.5 1007.3L1202.0 1007.3L1205.4 1007.3L1208.9 1007.3L1212.3 1007.3L1215.8 1007.3L1219.2 1007.3L1222.7 1007.3L1226.1 1007.3L1229.6 1007.3L1233.0 1007.3L1236.5 1007.3L1239.9 1007.3L1243.4 1007.3L1246.8 1007.3L1250.3 1007.3L1253.7 1007.3L1257.2 1007.3L1260.7 1007.3L1264.1 1007.3L1267.6 1007.3L1271.0 1007.3L1274.5 1007.3L1277.9 1007.3L1281.4 1007.3L1284.8 1007.3L1288.3 1007.3L1291.7 1007.3L1295.2 1009.3L1297.1 1011.2L1298.6 1012.9L1302.1 1017.8L1304.0 1021.3L1305.5 1025.1L1308.0 1031.4L1309.0 1033.8L1312.4 1039.8L1313.7 1041.6L1315.9 1044.1L1319.4 1047.2L1322.8 1046.2L1326.3 1042.7L1327.2 1041.6L1329.7 1037.9L1332.9 1031.4L1333.2 1030.8L1336.6 1022.0L1336.9 1021.3L1340.1 1015.8L1343.5 1011.5L1343.8 1011.2L1347.0 1008.3L1350.4 1010.5L1350.9 1011.2L1353.9 1015.6L1357.3 1020.7L1357.8 1021.3L1360.8 1026.9L1363.5 1031.4L1364.2 1033.1L1367.7 1039.4L1369.3 1041.6L1371.1 1043.7L1374.6 1047.0L1378.1 1048.1L1381.5 1048.1L1385.0 1048.1L1388.4 1048.1L1391.9 1048.1L1395.3 1048.1L1398.8 1048.1L1402.2 1048.1L1405.7 1048.1L1409.1 1048.1L1412.6 1048.1L1416.0 1048.1L1419.5 1048.1L1422.9 1048.1L1426.4 1048.1L1429.8 1048.1L1433.3 1049.4L1435.8 1051.7L1436.7 1052.7L1440.2 1057.2L1442.8 1061.8L1443.7 1063.9L1446.8 1071.9L1447.1 1072.8L1450.6 1079.4L1452.4 1082.0L1454.0 1084.0L1457.5 1087.3L1460.9 1088.8L1464.4 1088.8L1467.8 1088.8L1471.3 1088.8L1474.7 1088.8L1478.2 1088.8L1481.6 1088.8L1485.1 1088.8L1488.5 1088.8L1492.0 1088.8L1495.4 1088.8L1498.9 1088.8L1502.4 1088.8L1505.8 1088.8L1509.3 1088.8L1512.7 1088.8L1516.2 1088.8L1519.6 1088.8L1523.1 1088.8L1526.5 1088.8L1530.0 1088.8L1533.4 1088.8L1536.9 1088.8L1540.3 1088.8L1543.8 1089.6L1546.6 1092.1L1547.2 1092.8L1550.7 1097.0L1553.7 1102.2L1554.1 1103.2L1557.6 1111.9L1557.8 1112.3L1561.1 1119.1L1563.3 1122.5L1564.5 1124.0L1568.0 1127.5L1571.4 1130.3L1574.1 1132.6L1574.9 1133.4L1578.3 1137.6L1581.4 1142.7L1581.8 1143.4L1585.2 1150.2L1586.3 1152.8L1588.7 1156.2L1592.1 1161.3L1593.2 1162.9L1595.6 1166.4L1599.0 1170.3L1602.5 1170.3L1605.9 1170.3L1609.4 1170.3L1612.8 1170.3L1616.3 1170.3L1619.8 1170.3L1623.2 1170.3L1626.7 1170.3L1630.1 1170.3L1633.6 1170.3L1637.0 1170.3L1640.5 1170.3L1643.9 1170.3L1647.4 1170.3L1650.8 1170.3L1654.3 1170.3L1657.7 1170.3L1661.2 1170.3L1664.6 1170.3L1668.1 1170.3L1671.5 1170.3L1675.0 1170.3L1678.5 1170.3L1681.9 1170.3L1685.4 1170.3L1688.8 1170.3L1692.3 1170.3L1695.7 1170.3L1699.2 1170.3L1702.6 1170.3L1706.1 1170.3L1709.5 1170.4L1712.7 1173.0L1713.0 1173.3L1716.4 1177.2L1719.9 1182.7L1720.1 1183.1L1723.3 1190.9L1724.2 1193.2L1726.8 1198.9L1729.6 1203.4ZM1398.8 921.4L1402.2 924.6L1405.7 924.4L1409.1 921.0L1409.8 920.2L1412.6 916.4L1415.9 910.1L1416.0 909.8L1419.5 900.9L1419.8 900.0L1422.9 894.3L1426.3 889.9L1426.4 889.8L1429.8 886.5L1433.3 883.8L1436.7 880.4L1437.3 879.8L1440.2 875.9L1443.6 869.6L1443.7 869.2L1445.5 859.5L1445.5 849.4L1445.5 839.3L1445.5 829.2L1445.5 819.1L1445.5 809.0L1445.5 798.9L1445.5 788.7L1445.5 778.6L1445.5 768.5L1445.5 758.4L1445.5 748.3L1445.5 738.2L1445.5 728.1L1445.5 718.0L1445.5 707.8L1443.9 697.7L1443.7 697.1L1440.2 690.6L1438.1 687.6L1436.7 686.1L1433.3 682.8L1429.8 681.4L1426.4 681.4L1422.9 681.4L1419.5 681.4L1416.0 681.4L1412.6 681.4L1409.1 681.4L1405.7 681.4L1402.2 681.4L1398.8 681.4L1395.3 681.4L1391.9 681.4L1388.4 681.4L1385.0 681.4L1381.5 681.4L1378.1 681.4L1374.6 682.5L1371.1 685.7L1369.5 687.6L1367.7 690.1L1364.2 696.4L1363.7 697.7L1360.8 705.2L1359.7 707.8L1357.3 712.2L1353.9 716.9L1353.0 718.0L1350.4 720.4L1347.0 723.1L1343.5 726.3L1342.0 728.1L1340.1 730.6L1336.6 736.8L1336.0 738.2L1333.2 745.5L1332.0 748.3L1329.7 752.7L1326.3 757.5L1325.5 758.4L1322.8 761.0L1319.4 763.7L1315.9 766.9L1314.4 768.5L1312.4 771.1L1309.0 777.2L1308.3 778.6L1308.7 788.7L1309.0 789.3L1312.4 795.4L1315.2 798.9L1315.9 799.6L1319.4 802.8L1322.8 803.6L1326.3 803.6L1329.7 803.6L1333.2 803.6L1336.6 803.6L1340.1 803.6L1343.5 803.6L1347.0 803.6L1350.4 805.4L1353.9 808.8L1354.0 809.0L1357.3 813.6L1360.2 819.1L1360.8 820.6L1364.2 829.2L1364.2 829.4L1367.7 835.7L1370.5 839.3L1371.1 840.0L1374.6 843.3L1378.1 846.0L1381.5 849.4L1381.5 849.4L1385.0 854.0L1387.9 859.5L1388.4 862.0L1389.9 869.6L1389.9 879.8L1389.9 889.9L1389.9 900.0L1391.7 910.1L1391.9 910.5L1395.3 916.9L1397.8 920.2ZM1374.6 639.6L1378.1 639.1L1380.2 637.1L1381.5 635.7L1385.0 631.0L1387.2 626.9L1388.4 624.3L1391.0 616.8L1391.9 613.6L1393.4 606.7L1395.0 596.6L1395.3 594.3L1396.2 586.5L1397.8 576.4L1398.8 571.8L1399.6 566.3L1400.3 556.2L1400.3 546.0L1400.9 535.9L1402.2 531.6L1405.2 525.8L1405.7 524.5L1407.3 515.7L1407.3 505.6L1406.8 495.5L1405.7 491.7L1402.5 485.4L1402.2 484.8L1400.3 475.3L1400.3 465.1L1399.9 455.0L1398.8 451.1L1395.7 444.9L1395.3 443.8L1393.8 434.8L1395.3 429.7L1398.8 426.8L1402.2 426.8L1405.7 426.8L1409.1 426.8L1412.6 426.8L1416.0 426.8L1419.5 430.4L1420.7 434.8L1422.9 443.7L1423.8 444.9L1426.4 447.2L1429.8 447.2L1433.3 447.2L1436.7 447.2L1440.2 447.2L1443.7 447.2L1447.1 447.2L1450.6 447.2L1453.2 444.9L1454.0 444.2L1457.1 434.8L1457.5 434.3L1460.9 431.9L1464.4 431.9L1467.8 431.3L1471.3 429.0L1474.7 426.8L1478.2 426.8L1481.6 426.8L1485.1 426.8L1488.5 426.8L1492.0 426.8L1495.4 426.8L1498.9 426.8L1502.0 424.7L1502.4 424.2L1504.1 414.6L1502.4 408.8L1500.0 404.5L1500.6 394.4L1502.4 393.6L1505.8 393.2L1509.3 394.0L1509.7 394.4L1512.7 402.6L1513.8 404.5L1516.2 408.0L1519.6 410.5L1523.1 413.3L1523.9 414.6L1526.5 420.9L1528.3 424.7L1530.0 428.3L1533.4 430.9L1536.9 433.6L1537.7 434.8L1540.3 441.1L1542.2 444.9L1543.8 448.6L1547.2 451.2L1550.7 452.6L1554.1 453.5L1557.6 454.0L1561.1 454.0L1564.5 454.9L1564.6 455.0L1568.0 463.3L1568.9 465.1L1571.4 469.7L1574.9 473.2L1578.3 474.6L1581.4 475.3L1581.8 475.4L1585.2 477.4L1588.7 481.0L1592.0 485.4L1592.1 485.5L1595.6 492.5L1598.4 495.5L1599.0 496.7L1602.5 500.8L1605.9 505.6L1605.9 505.6L1609.4 512.8L1612.1 515.7L1612.8 516.7L1616.3 519.7L1619.8 522.3L1623.2 524.5L1625.6 525.8L1626.7 526.3L1630.1 527.4L1633.6 528.9L1637.0 530.3L1640.5 531.2L1643.9 531.2L1647.4 531.6L1650.8 534.1L1653.4 535.9L1654.3 537.3L1657.7 541.3L1661.2 544.6L1663.0 546.0L1664.6 547.3L1668.1 549.4L1671.5 552.8L1675.0 555.9L1677.1 556.2L1678.5 556.4L1681.9 557.6L1685.4 561.5L1688.8 564.9L1689.9 566.3L1692.3 569.8L1695.7 574.6L1699.2 575.5L1702.6 576.3L1702.7 576.4L1706.1 582.1L1708.3 586.5L1709.5 590.0L1713.0 593.2L1716.4 595.0L1717.8 596.6L1719.9 600.1L1723.3 604.8L1724.4 606.7L1726.8 610.2L1730.2 615.2L1733.7 615.2L1737.2 615.2L1737.2 606.7L1737.2 605.0L1733.7 604.9L1730.2 604.7L1726.8 598.7L1725.6 596.6L1723.3 590.0L1720.0 586.5L1719.9 586.4L1716.4 584.7L1713.0 580.4L1710.7 576.4L1709.5 574.7L1706.1 571.5L1702.6 569.5L1699.2 567.5L1697.6 566.3L1695.7 564.5L1692.3 560.0L1689.0 556.2L1688.8 556.0L1685.4 553.6L1681.9 551.7L1678.5 550.6L1675.0 549.2L1671.6 546.0L1671.5 546.0L1668.1 542.2L1664.6 539.2L1661.4 535.9L1661.2 535.8L1657.7 533.3L1654.3 531.4L1650.8 529.0L1647.4 526.5L1643.9 526.1L1640.5 526.1L1639.8 525.8L1637.0 524.5L1633.6 522.3L1630.1 521.1L1626.7 520.4L1623.2 518.3L1619.9 515.7L1619.8 515.6L1616.3 513.1L1612.8 511.1L1609.4 506.4L1609.0 505.6L1605.9 497.0L1605.0 495.5L1602.5 492.7L1599.0 490.8L1595.6 486.2L1595.2 485.4L1592.1 477.6L1590.6 475.3L1588.7 473.6L1585.2 472.0L1581.8 470.5L1578.3 468.3L1575.4 465.1L1574.9 464.2L1571.4 456.1L1570.9 455.0L1568.0 451.5L1564.5 448.1L1561.1 447.2L1557.6 447.2L1554.1 445.8L1552.8 444.9L1550.7 442.9L1547.2 438.6L1544.9 434.8L1543.8 433.2L1540.3 428.4L1537.8 424.7L1536.9 423.4L1533.4 418.9L1530.9 414.6L1530.0 413.2L1526.5 408.2L1524.0 404.5L1523.1 402.9L1519.6 398.1L1517.3 394.4L1516.2 392.7L1512.7 389.1L1509.3 386.7L1505.8 387.0L1502.4 388.2L1498.9 389.7L1495.4 391.8L1492.4 394.4L1492.0 395.7L1488.5 404.0L1487.8 404.5L1485.1 406.4L1481.6 406.4L1478.2 406.4L1474.7 406.4L1471.3 412.2L1470.5 414.6L1467.8 419.3L1464.4 421.4L1460.9 421.4L1457.5 422.3L1454.2 424.7L1454.0 424.9L1450.6 426.8L1447.1 426.8L1444.8 424.7L1443.7 423.0L1441.6 414.6L1440.2 409.7L1437.5 404.5L1436.7 402.6L1435.0 394.4L1435.0 384.2L1434.7 374.1L1433.3 369.1L1430.7 364.0L1429.8 361.7L1428.1 353.9L1426.4 345.3L1422.9 347.3L1419.5 349.6L1416.0 350.4L1412.6 350.4L1409.1 349.7L1405.7 347.5L1402.2 345.3L1398.8 345.3L1395.3 345.3L1391.9 345.3L1388.4 348.1L1386.7 353.9L1386.4 364.0L1386.4 374.1L1386.4 384.2L1386.4 394.4L1385.0 401.8L1383.9 404.5L1381.5 409.1L1379.9 414.6L1379.5 424.7L1379.5 434.8L1381.5 444.3L1381.8 444.9L1385.0 451.3L1386.0 455.0L1386.4 465.1L1386.4 475.3L1386.4 485.4L1386.4 495.5L1388.4 505.4L1388.5 505.6L1391.9 512.3L1392.8 515.7L1393.4 525.8L1393.4 535.9L1393.4 546.0L1393.4 556.2L1391.9 563.5L1390.8 566.3L1388.4 570.6L1385.0 575.0L1384.2 576.4L1381.5 584.9L1381.0 586.5L1378.1 595.1L1376.2 596.6L1374.6 597.9L1373.7 596.6L1371.1 592.8L1367.7 587.7L1366.8 586.5L1364.2 582.5L1360.8 577.9L1359.6 576.4L1357.3 574.3L1353.9 569.7L1352.9 566.3L1351.1 556.2L1350.4 553.7L1347.0 549.0L1343.5 549.0L1340.1 551.2L1338.4 556.2L1336.6 561.4L1333.2 565.6L1329.7 564.9L1326.3 562.3L1323.3 556.2L1322.8 554.2L1319.4 549.0L1315.9 549.0L1312.4 549.0L1309.0 549.0L1305.5 549.0L1302.1 549.0L1298.6 549.0L1295.2 549.0L1291.7 549.0L1288.3 549.0L1284.8 547.8L1282.9 546.0L1281.4 545.2L1277.9 543.9L1274.5 543.9L1271.0 543.6L1267.6 542.2L1264.1 540.6L1260.7 537.0L1259.5 535.9L1257.2 533.4L1253.7 531.5L1250.3 527.5L1249.5 525.8L1246.8 519.9L1245.4 515.7L1243.4 513.1L1239.9 511.2L1236.5 507.3L1235.7 505.6L1233.0 496.9L1232.7 495.5L1229.6 487.9L1226.1 487.9L1222.7 487.9L1219.2 487.9L1215.8 487.9L1212.3 487.9L1208.9 487.9L1205.4 487.9L1202.0 487.2L1201.0 485.4L1198.5 479.8L1197.1 475.3L1195.0 472.6L1191.6 472.6L1188.1 472.5L1184.7 470.7L1181.2 467.0L1180.2 465.1L1177.8 459.7L1176.4 455.0L1174.3 452.2L1170.9 450.4L1167.4 447.2L1164.0 447.2L1160.5 446.9L1159.5 444.9L1157.1 437.6L1156.5 434.8L1153.6 426.6L1152.6 424.7L1150.2 418.4L1149.3 414.6L1146.7 406.2L1145.7 404.5L1143.3 400.4L1140.8 394.4L1139.8 393.7L1136.3 393.7L1132.9 393.7L1129.4 393.7L1126.0 393.7L1126.0 394.4L1126.0 404.5L1126.0 414.6L1126.0 424.7L1126.0 426.8L1129.4 426.8L1132.9 426.8L1136.0 434.8L1132.9 440.7L1129.4 440.7L1126.0 440.7L1126.0 444.9L1126.0 452.3L1129.4 452.3L1132.9 452.3L1136.3 450.6L1139.8 447.3L1142.9 455.0L1143.3 455.7L1146.7 461.5L1150.2 463.7L1151.6 465.1L1153.6 467.3L1157.1 467.5L1160.5 467.5L1164.0 467.5L1167.4 467.5L1170.6 475.3L1170.9 476.4L1173.2 485.4L1174.3 487.5L1177.8 487.9L1181.2 487.9L1184.5 495.5L1184.7 496.4L1187.1 505.6L1188.1 507.7L1191.6 508.3L1195.0 508.3L1198.5 508.3L1202.0 508.3L1205.4 508.3L1208.9 508.3L1212.3 508.3L1215.8 508.3L1219.2 508.3L1222.7 508.3L1226.1 515.6L1226.2 515.7L1228.7 525.8L1229.6 527.7L1233.0 535.8L1233.1 535.9L1235.5 546.0L1236.5 548.0L1239.9 549.0L1243.4 549.0L1246.8 549.0L1250.3 549.0L1253.7 546.1L1253.8 546.0L1257.2 544.2L1260.0 546.0L1260.7 546.4L1264.1 548.6L1267.6 550.5L1271.0 553.2L1274.5 554.1L1277.9 554.1L1280.1 556.2L1281.4 558.4L1284.8 565.7L1285.6 566.3L1288.3 568.0L1291.7 569.0L1295.2 569.4L1298.6 569.4L1302.1 569.4L1305.5 569.4L1309.0 569.4L1312.4 569.4L1315.9 569.4L1319.4 569.4L1322.8 572.8L1326.3 575.9L1327.2 576.4L1329.7 578.6L1333.2 581.3L1336.6 583.9L1339.1 586.5L1340.1 588.0L1343.5 593.0L1346.0 596.6L1347.0 598.1L1350.4 603.2L1352.9 606.7L1353.9 608.2L1357.3 613.3L1359.8 616.8L1360.8 619.2L1364.2 625.9L1364.8 626.9L1367.7 632.0L1371.1 636.3L1371.8 637.1ZM1429.8 345.3L1433.3 345.3L1436.7 345.3L1438.6 343.8L1440.2 340.9L1441.3 333.7L1440.2 331.3L1436.7 327.7L1433.3 326.1L1429.8 328.3L1428.4 333.7L1428.1 343.8Z" fill="#FFFF00" fill-rule="evenodd" stroke="#FFFF00" stroke-width="0.6"/>
<path d="M1198.5 1557.3L1202.0 1557.3L1205.4 1557.3L1208.9 1557.3L1212.3 1557.3L1215.8 1557.3L1219.2 1557.3L1222.7 1557.3L1226.1 1557.3L1229.6 1557.3L1233.0 1557.3L1236.5 1557.3L1239.9 1557.3L1243.4 1557.3L1246.8 1557.3L1250.3 1557.3L1253.7 1557.3L1257.2 1557.3L1260.7 1557.3L1264.1 1557.3L1267.6 1557.3L1271.0 1557.3L1274.5 1557.3L1277.9 1557.3L1281.4 1557.3L1284.8 1557.3L1288.3 1557.3L1291.7 1557.3L1295.2 1557.3L1298.6 1557.3L1302.1 1557.3L1305.5 1557.3L1309.0 1557.3L1312.4 1557.3L1315.9 1557.3L1319.4 1557.3L1322.8 1557.3L1326.3 1557.3L1329.7 1557.3L1333.2 1557.3L1336.6 1557.3L1340.1 1557.3L1343.5 1557.3L1347.0 1557.3L1350.4 1557.3L1353.9 1557.3L1357.3 1557.3L1360.8 1557.3L1364.2 1557.3L1367.7 1557.3L1371.1 1557.3L1374.6 1557.3L1378.1 1557.3L1381.5 1557.3L1385.0 1557.3L1388.4 1557.3L1391.9 1557.3L1395.3 1557.3L1398.8 1557.3L1402.2 1557.3L1405.7 1557.3L1409.1 1557.3L1412.6 1557.3L1416.0 1557.3L1419.5 1557.3L1422.9 1557.3L1426.4 1557.3L1429.8 1557.3L1433.3 1557.3L1436.7 1557.3L1440.2 1557.3L1443.7 1557.3L1447.1 1557.3L1450.6 1557.3L1454.0 1557.3L1457.5 1557.3L1460.9 1557.3L1464.4 1557.3L1467.8 1557.3L1471.3 1557.3L1474.7 1557.3L1478.2 1557.3L1481.6 1557.3L1485.1 1557.3L1488.5 1557.3L1492.0 1557.3L1495.4 1557.3L1498.9 1557.3L1501.0 1557.3L1501.0 1547.2L1501.0 1537.1L1501.0 1527.0L1501.0 1516.8L1502.4 1515.5L1505.8 1512.5L1509.3 1509.9L1512.7 1507.7L1516.2 1506.9L1519.6 1508.5L1523.1 1510.7L1526.5 1513.9L1528.8 1516.8L1528.8 1527.0L1528.8 1537.1L1528.8 1547.2L1528.8 1557.3L1530.0 1557.3L1533.4 1557.3L1536.9 1557.3L1540.3 1557.3L1543.8 1557.3L1547.2 1557.3L1550.7 1557.3L1554.1 1557.3L1557.6 1557.3L1561.1 1557.3L1564.5 1557.3L1568.0 1557.3L1571.4 1557.3L1574.9 1557.3L1578.3 1557.3L1581.8 1557.3L1585.2 1557.3L1588.7 1557.3L1592.1 1557.3L1595.6 1557.3L1599.0 1557.3L1602.5 1557.3L1605.9 1557.3L1609.4 1557.3L1612.8 1557.3L1616.3 1557.3L1619.8 1557.3L1623.2 1557.3L1626.7 1557.3L1630.1 1557.3L1633.6 1557.3L1637.0 1557.3L1640.5 1557.3L1643.9 1557.3L1647.4 1557.3L1650.8 1557.3L1654.3 1557.3L1657.7 1557.3L1661.2 1557.3L1664.6 1557.3L1668.1 1557.3L1671.5 1557.3L1675.0 1557.3L1678.5 1557.3L1681.9 1557.3L1685.4 1557.3L1688.8 1557.3L1692.3 1557.3L1695.7 1557.3L1699.2 1557.3L1702.6 1557.3L1706.1 1557.3L1709.5 1557.3L1713.0 1557.3L1716.4 1557.3L1719.9 1557.3L1723.3 1557.3L1726.8 1557.3L1730.2 1557.3L1733.7 1557.3L1737.2 1557.3L1737.2 1547.2L1737.2 1537.1L1737.2 1527.0L1737.2 1516.8L1737.2 1506.7L1737.2 1496.6L1737.2 1486.5L1737.2 1476.4L1737.2 1466.3L1737.2 1456.2L1737.2 1446.1L1737.2 1435.9L1737.2 1425.8L1737.2 1415.7L1737.2 1405.6L1737.2 1395.5L1737.2 1385.4L1737.2 1375.3L1737.2 1374.0L1733.7 1374.0L1730.2 1374.0L1726.8 1374.0L1723.3 1374.0L1719.9 1374.0L1716.4 1374.0L1713.0 1374.0L1709.5 1374.0L1706.1 1371.2L1702.6 1367.4L1701.0 1365.2L1699.2 1362.2L1696.0 1355.0L1695.7 1354.3L1692.3 1346.0L1691.7 1344.9L1688.8 1340.4L1685.4 1336.4L1683.6 1334.8L1681.9 1333.5L1678.5 1330.6L1675.0 1326.9L1673.4 1324.7L1671.5 1321.7L1668.3 1314.6L1671.3 1304.5L1671.5 1304.0L1675.0 1298.8L1678.5 1295.1L1679.3 1294.4L1681.9 1292.3L1685.4 1289.3L1688.8 1285.3L1689.6 1284.3L1692.3 1279.8L1694.8 1274.1L1695.7 1271.5L1698.9 1264.0L1699.2 1263.6L1702.6 1258.3L1706.1 1254.5L1706.7 1253.9L1709.5 1251.8L1713.0 1251.8L1716.4 1251.8L1719.9 1251.8L1723.3 1251.8L1726.8 1251.8L1730.2 1251.8L1733.7 1251.8L1737.2 1251.8L1737.2 1243.8L1737.2 1233.7L1737.2 1223.6L1737.2 1213.5L1737.2 1211.0L1733.7 1208.1L1730.2 1204.3L1729.6 1203.4L1726.8 1198.9L1724.2 1193.2L1723.3 1190.9L1720.1 1183.1L1719.9 1182.7L1716.4 1177.2L1713.0 1173.3L1712.7 1173.0L1709.5 1170.4L1706.1 1170.3L1702.6 1170.3L1699.2 1170.3L1695.7 1170.3L1692.3 1170.3L1688.8 1170.3L1685.4 1170.3L1681.9 1170.3L1678.5 1170.3L1675.0 1170.3L1671.5 1170.3L1668.1 1170.3L1664.6 1170.3L1661.2 1170.3L1657.7 1170.3L1654.3 1170.3L1650.8 1170.3L1647.4 1170.3L1643.9 1170.3L1640.5 1170.3L1637.0 1170.3L1633.6 1170.3L1630.1 1170.3L1626.7 1170.3L1623.2 1170.3L1619.8 1170.3L1616.3 1170.3L1612.8 1170.3L1609.4 1170.3L1605.9 1170.3L1602.5 1170.3L1599.0 1170.3L1595.6 1166.4L1593.2 1162.9L1592.1 1161.3L1588.7 1156.2L1586.3 1152.8L1585.2 1150.2L1581.8 1143.4L1581.4 1142.7L1578.3 1137.6L1574.9 1133.4L1574.1 1132.6L1571.4 1130.3L1568.0 1127.5L1564.5 1124.0L1563.3 1122.5L1561.1 1119.1L1557.8 1112.3L1557.6 1111.9L1554.1 1103.2L1553.7 1102.2L1550.7 1097.0L1547.2 1092.8L1546.6 1092.1L1543.8 1089.6L1540.3 1088.8L1536.9 1088.8L1533.4 1088.8L1530.0 1088.8L1526.5 1088.8L1523.1 1088.8L1519.6 1088.8L1516.2 1088.8L1512.7 1088.8L1509.3 1088.8L1505.8 1088.8L1502.4 1088.8L1498.9 1088.8L1495.4 1088.8L1492.0 1088.8L1488.5 1088.8L1485.1 1088.8L1481.6 1088.8L1478.2 1088.8L1474.7 1088.8L1471.3 1088.8L1467.8 1088.8L1464.4 1088.8L1460.9 1088.8L1457.5 1087.3L1454.0 1084.0L1452.4 1082.0L1450.6 1079.4L1447.1 1072.8L1446.8 1071.9L1443.7 1063.9L1442.8 1061.8L1440.2 1057.2L1436.7 1052.7L1435.8 1051.7L1433.3 1049.4L1429.8 1048.1L1426.4 1048.1L1422.9 1048.1L1419.5 1048.1L1416.0 1048.1L1412.6 1048.1L1409.1 1048.1L1405.7 1048.1L1402.2 1048.1L1398.8 1048.1L1395.3 1048.1L1391.9 1048.1L1388.4 1048.1L1385.0 1048.1L1381.5 1048.1L1378.1 1048.1L1374.6 1047.0L1371.1 1043.7L1369.3 1041.6L1367.7 1039.4L1364.2 1033.1L1363.5 1031.4L1360.8 1026.9L1357.8 1021.3L1357.3 1020.7L1353.9 1015.6L1350.9 1011.2L1350.4 1010.5L1347.0 1008.3L1343.8 1011.2L1343.5 1011.5L1340.1 1015.8L1336.9 1021.3L1336.6 1022.0L1333.2 1030.8L1332.9 1031.4L1329.7 1037.9L1327.2 1041.6L1326.3 1042.7L1322.8 1046.2L1319.4 1047.2L1315.9 1044.1L1313.7 1041.6L1312.4 1039.8L1309.0 1033.8L1308.0 1031.4L1305.5 1025.1L1304.0 1021.3L1302.1 1017.8L1298.6 1012.9L1297.1 1011.2L1295.2 1009.3L1291.7 1007.3L1288.3 1007.3L1284.8 1007.3L1281.4 1007.3L1277.9 1007.3L1274.5 1007.3L1271.0 1007.3L1267.6 1007.3L1264.1 1007.3L1260.7 1007.3L1257.2 1007.3L1253.7 1007.3L1250.3 1007.3L1246.8 1007.3L1243.4 1007.3L1239.9 1007.3L1236.5 1007.3L1233.0 1007.3L1229.6 1007.3L1226.1 1007.3L1222.7 1007.3L1219.2 1007.3L1215.8 1007.3L1212.3 1007.3L1208.9 1007.3L1205.4 1007.3L1202.0 1007.3L1198.5 1007.3L1195.0 1007.3L1191.6 1007.3L1188.1 1007.3L1184.7 1007.3L1181.2 1007.3L1177.8 1007.3L1174.3 1007.3L1170.9 1007.3L1167.7 1011.2L1167.7 1021.3L1167.4 1022.7L1166.2 1031.4L1164.0 1036.2L1160.5 1041.5L1160.5 1041.6L1157.1 1045.3L1153.6 1048.1L1150.2 1048.1L1146.7 1048.1L1143.3 1048.1L1139.8 1048.1L1136.3 1048.1L1132.9 1048.1L1129.4 1048.1L1126.0 1048.1L1126.0 1051.7L1126.0 1061.8L1126.0 1071.9L1126.0 1082.0L1126.0 1088.8L1129.4 1091.7L1129.9 1092.1L1132.9 1095.5L1136.3 1100.9L1137.0 1102.2L1138.7 1112.3L1136.3 1117.4L1133.2 1122.5L1132.9 1122.8L1129.4 1126.6L1126.0 1129.5L1126.0 1132.6L1126.0 1142.7L1126.0 1152.8L1126.0 1162.9L1126.0 1170.3L1129.4 1170.3L1132.9 1170.3L1136.3 1170.3L1139.8 1170.3L1143.3 1170.3L1146.7 1170.3L1150.2 1170.3L1153.6 1170.3L1157.1 1170.3L1160.5 1170.3L1164.0 1170.3L1167.4 1170.3L1170.9 1170.3L1174.3 1170.3L1177.8 1170.3L1181.2 1170.3L1184.7 1172.9L1184.8 1173.0L1188.1 1176.6L1191.6 1181.8L1192.3 1183.1L1195.0 1191.7L1195.4 1193.2L1195.4 1203.4L1195.4 1213.5L1195.4 1223.6L1195.0 1228.5L1194.6 1233.7L1191.6 1240.2L1189.3 1243.8L1188.1 1245.4L1184.7 1249.2L1181.2 1251.3L1177.8 1246.2L1176.1 1243.8L1174.3 1241.2L1170.9 1236.1L1169.2 1233.7L1167.4 1229.4L1164.4 1223.6L1164.0 1222.8L1160.5 1217.6L1157.1 1213.8L1156.7 1213.5L1153.6 1211.0L1150.2 1211.0L1146.7 1211.0L1143.3 1211.0L1139.8 1211.0L1136.3 1211.0L1132.9 1211.0L1129.4 1211.0L1126.0 1211.0L1126.0 1213.5L1126.0 1223.6L1126.0 1233.7L1126.0 1243.8L1126.0 1253.9L1126.0 1264.0L1126.0 1274.1L1126.0 1284.3L1126.0 1294.4L1126.0 1304.5L1126.0 1314.6L1126.0 1324.7L1126.0 1334.8L1126.0 1344.9L1126.0 1355.0L1126.0 1363.8L1129.4 1361.8L1132.9 1359.5L1136.3 1356.8L1138.3 1355.0L1139.8 1345.5L1139.9 1344.9L1139.9 1334.8L1139.9 1324.7L1139.9 1314.6L1139.9 1304.5L1139.9 1294.4L1139.9 1284.3L1139.9 1274.1L1143.3 1264.2L1143.3 1264.0L1146.7 1258.7L1150.2 1254.8L1151.1 1253.9L1153.6 1251.9L1155.1 1253.9L1157.1 1256.6L1160.5 1261.7L1162.1 1264.0L1164.0 1267.1L1167.4 1272.7L1168.4 1274.1L1170.9 1279.8L1173.6 1284.3L1174.3 1285.3L1177.8 1289.3L1181.2 1292.3L1183.9 1294.4L1184.7 1295.1L1188.1 1298.8L1191.6 1304.0L1191.8 1304.5L1195.0 1311.8L1196.1 1314.6L1198.5 1320.2L1201.1 1324.7L1202.0 1325.9L1205.4 1329.9L1208.9 1332.9L1211.3 1334.8L1212.3 1335.7L1215.8 1339.4L1219.2 1344.5L1219.5 1344.9L1222.7 1351.2L1224.2 1355.0L1226.1 1357.9L1229.6 1362.9L1231.1 1365.2L1233.0 1368.0L1236.5 1373.1L1238.9 1375.3L1239.9 1376.3L1243.4 1379.9L1246.8 1385.0L1247.1 1385.4L1250.3 1393.4L1251.0 1395.5L1251.0 1405.6L1250.3 1414.7L1246.8 1414.7L1243.4 1414.7L1239.9 1414.7L1236.5 1415.6L1236.4 1415.7L1233.0 1420.7L1229.6 1425.8L1229.5 1425.8L1226.1 1431.1L1222.9 1435.9L1222.7 1436.6L1219.2 1444.2L1218.1 1446.1L1215.8 1449.3L1212.3 1453.0L1208.9 1456.1L1208.8 1456.2L1205.4 1461.2L1202.0 1466.3L1201.9 1466.3L1198.5 1471.6L1195.4 1476.4L1195.4 1486.5L1195.4 1496.6L1195.4 1506.7L1195.4 1516.8L1195.4 1527.0L1195.4 1537.1L1195.4 1547.2L1195.4 1557.3ZM1394.8 1486.5L1391.9 1480.9L1390.1 1476.4L1391.9 1473.6L1395.3 1468.1L1396.4 1466.3L1398.8 1462.8L1402.2 1457.8L1404.7 1456.2L1405.7 1455.5L1409.1 1455.5L1412.6 1455.5L1416.0 1455.5L1417.7 1446.1L1417.7 1435.9L1419.5 1433.1L1422.9 1427.6L1424.0 1425.8L1426.4 1422.3L1429.8 1417.2L1431.2 1415.7L1433.3 1413.4L1436.7 1410.0L1440.1 1405.6L1440.2 1405.5L1443.7 1399.0L1445.1 1395.5L1445.5 1385.4L1445.5 1375.3L1445.5 1365.2L1445.5 1355.0L1445.5 1344.9L1445.5 1334.8L1445.5 1324.7L1445.5 1314.6L1445.5 1304.5L1445.5 1294.4L1443.7 1292.5L1440.2 1292.5L1436.7 1292.5L1433.3 1292.5L1429.8 1291.1L1426.4 1287.8L1423.6 1284.3L1422.9 1283.3L1419.5 1276.8L1418.4 1274.1L1419.5 1269.7L1421.1 1264.0L1422.9 1260.9L1426.4 1256.4L1428.9 1253.9L1429.8 1253.1L1433.3 1253.1L1434.2 1253.9L1436.7 1256.4L1440.2 1260.9L1442.0 1264.0L1443.7 1268.6L1445.5 1274.1L1445.5 1284.3L1447.1 1292.5L1450.6 1292.5L1454.0 1292.5L1457.5 1292.5L1460.9 1292.5L1464.4 1292.5L1467.8 1292.5L1471.3 1292.5L1474.7 1292.5L1478.2 1292.5L1481.6 1292.5L1485.1 1292.5L1488.2 1294.4L1488.5 1294.6L1492.0 1299.6L1495.3 1304.5L1495.4 1304.7L1498.9 1310.3L1501.6 1314.6L1502.4 1316.4L1505.8 1323.3L1506.7 1324.7L1509.3 1328.0L1512.7 1331.5L1515.9 1334.8L1516.2 1335.1L1519.6 1340.1L1522.9 1344.9L1523.1 1345.2L1526.5 1350.8L1529.3 1355.0L1530.0 1356.8L1533.4 1363.8L1534.3 1365.2L1536.9 1368.6L1540.3 1372.1L1543.8 1374.7L1544.6 1375.3L1547.2 1376.8L1550.7 1378.5L1554.1 1379.9L1557.6 1381.1L1561.1 1382.1L1564.5 1382.9L1568.0 1383.7L1571.4 1384.0L1574.9 1383.3L1578.3 1382.5L1581.8 1381.6L1585.2 1380.5L1588.7 1379.2L1592.1 1377.7L1595.6 1375.8L1597.1 1375.3L1599.0 1374.6L1599.9 1375.3L1602.5 1377.6L1605.9 1381.8L1608.2 1385.4L1609.4 1387.9L1612.1 1395.5L1612.1 1405.6L1612.1 1415.7L1612.1 1425.8L1612.1 1435.9L1612.1 1446.1L1612.8 1455.5L1616.3 1455.5L1619.8 1455.5L1623.2 1455.5L1626.7 1455.9L1627.0 1456.2L1630.1 1459.0L1633.6 1463.0L1635.7 1466.3L1637.0 1469.1L1639.7 1476.4L1637.0 1482.9L1635.0 1486.5L1633.6 1488.6L1630.1 1492.7L1626.7 1495.7L1623.2 1493.9L1619.8 1490.2L1617.1 1486.5L1616.3 1485.2L1612.8 1477.8L1612.3 1476.4L1612.1 1466.3L1612.1 1456.2L1609.4 1455.5L1605.9 1455.5L1602.5 1455.5L1599.0 1455.5L1595.6 1455.5L1592.1 1455.5L1588.7 1455.5L1585.2 1455.5L1581.8 1455.5L1578.3 1455.5L1574.9 1455.5L1571.4 1455.5L1568.0 1455.5L1564.5 1455.5L1561.1 1455.5L1557.6 1455.5L1554.1 1455.5L1550.7 1455.5L1547.2 1455.5L1543.8 1455.5L1543.1 1456.2L1540.3 1458.9L1536.9 1464.0L1535.3 1466.3L1533.4 1469.1L1530.0 1474.1L1528.4 1476.4L1526.5 1478.7L1523.1 1481.8L1519.6 1483.9L1516.2 1485.5L1512.7 1486.4L1512.3 1486.5L1509.3 1487.2L1505.8 1488.0L1502.4 1489.0L1498.9 1490.1L1495.4 1491.5L1492.0 1493.2L1488.5 1495.2L1485.1 1494.6L1481.6 1491.2L1478.2 1486.5L1478.2 1486.5L1474.7 1479.8L1473.4 1476.4L1471.3 1470.8L1469.0 1466.3L1467.8 1464.4L1464.4 1459.9L1460.9 1456.7L1459.6 1456.2L1457.5 1455.5L1454.0 1455.5L1450.6 1455.5L1447.1 1455.5L1443.7 1455.5L1440.2 1455.5L1436.7 1455.5L1433.3 1455.5L1429.8 1455.5L1426.4 1455.5L1422.9 1455.5L1419.5 1455.5L1417.7 1456.2L1417.7 1466.3L1417.5 1476.4L1416.0 1480.1L1412.7 1486.5L1412.6 1486.8L1409.1 1491.3L1405.7 1494.7L1402.2 1495.0L1398.8 1491.7L1395.3 1487.2ZM1700.4 1486.5L1699.2 1484.4L1695.7 1476.5L1695.7 1476.4L1695.7 1476.3L1699.2 1467.4L1699.7 1466.3L1702.6 1462.0L1706.1 1458.2L1708.7 1456.2L1709.5 1455.6L1710.3 1456.2L1713.0 1458.5L1716.4 1462.4L1719.0 1466.3L1719.9 1468.1L1723.1 1476.4L1719.9 1483.8L1718.3 1486.5L1716.4 1489.2L1713.0 1493.1L1709.5 1496.1L1706.1 1493.4L1702.6 1489.7ZM1256.1 1446.1L1253.7 1441.8L1251.3 1435.9L1251.0 1425.8L1251.0 1415.7L1253.7 1414.7L1257.2 1414.7L1260.7 1414.7L1264.1 1414.7L1265.8 1415.7L1267.6 1416.9L1271.0 1420.5L1274.5 1425.4L1274.7 1425.8L1277.9 1434.1L1278.5 1435.9L1277.9 1437.5L1274.5 1444.7L1273.7 1446.1L1271.0 1449.7L1267.6 1453.3L1264.1 1454.9L1260.7 1451.8L1257.2 1447.7ZM1339.5 1446.1L1336.6 1440.8L1334.6 1435.9L1336.6 1430.1L1338.4 1425.8L1340.1 1423.2L1343.5 1418.9L1346.9 1415.7L1347.0 1415.7L1347.0 1415.7L1350.4 1420.0L1352.5 1425.8L1353.9 1431.1L1355.0 1435.9L1353.9 1441.5L1352.6 1446.1L1350.4 1451.6L1347.0 1454.5L1343.5 1451.3L1340.1 1447.0ZM1371.6 1446.1L1371.1 1444.5L1369.2 1435.9L1368.2 1425.8L1367.7 1421.6L1366.9 1415.7L1365.1 1405.6L1364.2 1401.7L1362.5 1395.5L1360.8 1390.8L1358.2 1385.4L1357.3 1383.9L1353.9 1379.2L1350.4 1375.7L1349.9 1375.3L1347.0 1373.0L1343.5 1369.8L1340.1 1365.5L1339.8 1365.2L1336.6 1359.3L1334.9 1355.0L1333.2 1350.5L1330.6 1344.9L1329.7 1343.4L1326.3 1338.6L1322.8 1335.1L1322.4 1334.8L1319.4 1332.4L1315.9 1329.2L1312.4 1325.0L1312.3 1324.7L1309.0 1318.9L1307.2 1314.6L1309.0 1308.0L1310.2 1304.5L1312.4 1300.7L1315.9 1296.5L1318.1 1294.4L1319.4 1293.3L1322.8 1292.5L1326.3 1292.5L1329.7 1292.5L1333.2 1292.5L1336.6 1292.5L1340.1 1292.5L1343.5 1292.5L1347.0 1292.5L1350.4 1294.2L1350.6 1294.4L1353.9 1297.7L1357.3 1302.4L1358.5 1304.5L1360.8 1309.4L1362.7 1314.6L1364.2 1318.3L1367.7 1324.5L1367.8 1324.7L1371.1 1328.9L1374.6 1332.1L1378.0 1334.8L1378.1 1334.9L1381.5 1338.3L1385.0 1342.9L1386.1 1344.9L1388.4 1349.8L1390.4 1355.0L1391.9 1358.6L1395.3 1365.0L1395.4 1365.2L1398.8 1369.5L1402.2 1372.8L1405.4 1375.3L1405.7 1375.5L1409.1 1378.8L1412.6 1383.4L1413.8 1385.4L1416.0 1392.2L1416.9 1395.5L1416.0 1396.8L1412.6 1401.8L1410.0 1405.6L1409.1 1406.9L1405.7 1412.0L1402.4 1415.7L1402.2 1415.9L1398.8 1419.2L1395.3 1423.7L1394.0 1425.8L1391.9 1429.8L1389.3 1435.9L1388.4 1437.3L1385.0 1442.3L1382.4 1446.1L1381.5 1447.4L1378.1 1452.5L1374.6 1453.1ZM1558.1 1355.0L1557.6 1353.9L1554.1 1347.1L1552.8 1344.9L1550.7 1341.5L1547.2 1337.2L1544.7 1334.8L1543.8 1334.1L1540.3 1329.8L1536.9 1324.7L1536.9 1324.7L1533.4 1319.7L1530.0 1314.6L1530.0 1314.6L1526.5 1306.8L1525.2 1304.5L1523.1 1301.0L1519.6 1296.7L1517.3 1294.4L1516.2 1293.5L1512.7 1289.3L1509.3 1284.3L1509.3 1284.2L1505.8 1279.1L1502.4 1274.1L1502.4 1274.1L1498.9 1269.0L1495.5 1264.0L1495.4 1264.0L1492.0 1258.9L1488.6 1253.9L1488.5 1253.8L1485.1 1250.1L1481.6 1246.7L1479.3 1243.8L1478.2 1242.1L1474.7 1235.3L1474.1 1233.7L1471.3 1229.2L1467.9 1223.6L1467.8 1223.4L1464.4 1218.4L1461.0 1213.5L1460.9 1213.3L1457.5 1209.5L1454.0 1206.2L1451.8 1203.4L1450.6 1201.6L1447.1 1195.0L1446.4 1193.2L1443.7 1186.1L1442.3 1183.1L1440.2 1179.5L1436.7 1174.9L1434.9 1173.0L1433.3 1171.6L1429.8 1168.9L1426.4 1165.6L1424.2 1162.9L1422.9 1161.1L1419.5 1154.6L1418.7 1152.8L1419.5 1148.6L1420.7 1142.7L1422.9 1138.7L1426.4 1134.2L1428.0 1132.6L1429.8 1130.9L1433.3 1129.5L1436.7 1129.5L1440.2 1129.5L1443.7 1129.5L1447.1 1129.5L1450.6 1129.5L1454.0 1129.5L1457.5 1129.5L1460.9 1129.5L1464.4 1129.5L1467.8 1129.5L1471.3 1129.5L1474.7 1129.5L1478.2 1129.5L1481.6 1129.5L1485.1 1129.5L1488.5 1129.5L1492.0 1129.5L1495.4 1129.5L1498.9 1129.5L1502.4 1129.5L1505.8 1129.5L1509.3 1129.5L1512.7 1129.5L1516.2 1130.5L1518.5 1132.6L1519.6 1133.7L1523.1 1138.0L1525.8 1142.7L1526.5 1143.9L1530.0 1150.9L1530.8 1152.8L1533.4 1156.7L1536.9 1161.8L1537.7 1162.9L1540.3 1166.8L1543.8 1170.3L1547.2 1170.3L1550.7 1170.3L1554.1 1170.3L1557.6 1170.3L1561.1 1170.3L1564.5 1170.3L1568.0 1170.3L1571.4 1171.7L1572.3 1173.0L1574.9 1176.7L1578.3 1181.8L1579.2 1183.1L1581.8 1187.5L1585.2 1193.1L1585.3 1193.2L1588.7 1200.3L1590.7 1203.4L1592.1 1205.3L1595.6 1208.9L1599.0 1211.6L1601.2 1213.5L1602.5 1214.7L1605.9 1218.8L1608.9 1223.6L1609.4 1224.8L1612.8 1233.3L1613.0 1233.7L1616.3 1240.8L1618.2 1243.8L1619.8 1245.8L1623.2 1249.5L1626.7 1252.2L1628.7 1253.9L1630.1 1255.3L1633.6 1259.3L1636.5 1264.0L1637.0 1265.8L1639.2 1274.1L1637.0 1279.2L1634.0 1284.3L1633.6 1284.9L1630.1 1289.0L1626.7 1292.0L1623.7 1294.4L1623.2 1294.8L1619.8 1298.4L1616.3 1303.5L1615.7 1304.5L1612.8 1311.0L1611.5 1314.6L1609.4 1319.6L1606.4 1324.7L1605.9 1325.4L1602.5 1329.6L1599.0 1332.6L1596.3 1334.8L1595.6 1335.4L1592.1 1339.0L1588.7 1343.9L1588.1 1344.9L1585.2 1350.0L1582.8 1355.0L1581.8 1356.0L1578.3 1358.8L1574.9 1361.2L1571.4 1363.3L1568.0 1362.3L1564.5 1360.1L1561.1 1357.6ZM1340.4 1243.8L1340.1 1243.3L1336.6 1237.1L1335.2 1233.7L1336.6 1231.1L1340.1 1226.4L1343.0 1223.6L1343.5 1223.3L1347.0 1221.7L1350.4 1222.1L1353.5 1223.6L1353.9 1223.9L1357.3 1227.5L1360.8 1232.7L1361.3 1233.7L1360.8 1235.0L1357.3 1241.8L1356.0 1243.8L1353.9 1246.6L1350.4 1250.0L1347.0 1250.8L1343.5 1247.6ZM1336.4 1193.2L1333.2 1186.8L1331.2 1183.1L1329.7 1180.5L1326.3 1175.7L1323.7 1173.0L1322.8 1172.2L1319.4 1170.3L1315.9 1170.3L1312.4 1170.3L1309.0 1170.3L1305.5 1170.3L1302.1 1170.3L1298.6 1170.3L1295.2 1170.3L1291.7 1169.6L1288.3 1166.5L1285.3 1162.9L1284.8 1162.3L1281.4 1156.3L1279.8 1152.8L1278.8 1142.7L1278.8 1132.6L1278.8 1122.5L1278.8 1112.3L1281.4 1103.0L1281.6 1102.2L1284.8 1096.8L1288.3 1092.6L1288.8 1092.1L1291.7 1089.5L1295.2 1088.8L1298.6 1088.8L1302.1 1088.8L1305.5 1088.8L1309.0 1088.8L1312.4 1088.8L1315.9 1088.8L1319.4 1088.8L1322.8 1088.8L1326.3 1088.8L1329.7 1088.8L1333.2 1088.8L1336.6 1088.8L1340.1 1088.8L1343.5 1088.8L1347.0 1088.8L1350.4 1090.6L1352.1 1092.1L1353.9 1094.0L1357.3 1098.7L1359.3 1102.2L1360.8 1107.1L1362.1 1112.3L1362.1 1122.5L1362.1 1132.6L1362.1 1142.7L1362.1 1152.8L1362.1 1162.9L1362.1 1173.0L1362.1 1183.1L1360.8 1190.1L1360.1 1193.2L1357.3 1195.9L1353.9 1198.2L1350.4 1200.0L1347.0 1200.4L1343.5 1198.8L1340.1 1196.6L1336.6 1193.5ZM1129.4 1007.3L1132.9 1007.3L1136.3 1007.3L1139.8 1007.3L1143.3 1007.3L1146.7 1007.3L1150.2 1007.3L1153.6 1007.3L1157.1 1007.3L1160.5 1007.3L1164.0 1007.3L1167.4 1007.3L1167.7 1001.1L1167.7 991.0L1167.4 990.1L1165.2 980.9L1164.0 978.4L1160.5 973.1L1158.5 970.8L1157.1 969.3L1153.6 966.6L1150.2 966.6L1146.7 966.6L1143.3 966.6L1139.8 966.6L1136.3 966.6L1132.9 966.6L1129.4 966.6L1126.0 966.6L1126.0 970.8L1126.0 980.9L1126.0 991.0L1126.0 1001.1L1126.0 1007.3ZM1129.4 923.0L1132.0 920.2L1132.9 919.1L1136.3 913.7L1138.1 910.1L1137.7 900.0L1136.3 897.2L1132.9 891.8L1131.3 889.9L1129.4 888.0L1126.0 885.1L1126.0 889.9L1126.0 900.0L1126.0 910.1L1126.0 920.2L1126.0 925.8ZM1129.4 800.7L1131.3 798.9L1132.9 796.9L1136.3 791.5L1137.7 788.7L1136.7 778.6L1136.3 778.1L1132.9 773.0L1129.8 768.5L1129.4 768.0L1126.0 762.9L1126.0 768.5L1126.0 778.6L1126.0 788.7L1126.0 798.9L1126.0 803.6ZM1374.6 597.9L1376.2 596.6L1378.1 595.1L1381.0 586.5L1381.5 584.9L1384.2 576.4L1385.0 575.0L1388.4 570.6L1390.8 566.3L1391.9 563.5L1393.4 556.2L1393.4 546.0L1393.4 535.9L1393.4 525.8L1392.8 515.7L1391.9 512.3L1388.5 505.6L1388.4 505.4L1386.4 495.5L1386.4 485.4L1386.4 475.3L1386.4 465.1L1386.0 455.0L1385.0 451.3L1381.8 444.9L1381.5 444.3L1379.5 434.8L1379.5 424.7L1379.9 414.6L1381.5 409.1L1383.9 404.5L1385.0 401.8L1386.4 394.4L1386.4 384.2L1386.4 374.1L1386.4 364.0L1386.7 353.9L1388.4 348.1L1391.9 345.3L1395.3 345.3L1398.8 345.3L1402.2 345.3L1405.7 347.5L1409.1 349.7L1412.6 350.4L1416.0 350.4L1419.5 349.6L1422.9 347.3L1426.4 345.3L1428.1 353.9L1429.8 361.7L1430.7 364.0L1433.3 369.1L1434.7 374.1L1435.0 384.2L1435.0 394.4L1436.7 402.6L1437.5 404.5L1440.2 409.7L1441.6 414.6L1443.7 423.0L1444.8 424.7L1447.1 426.8L1450.6 426.8L1454.0 424.9L1454.2 424.7L1457.5 422.3L1460.9 421.4L1464.4 421.4L1467.8 419.3L1470.5 414.6L1471.3 412.2L1474.7 406.4L1478.2 406.4L1481.6 406.4L1485.1 406.4L1487.8 404.5L1488.5 404.0L1492.0 395.7L1492.4 394.4L1495.4 391.8L1498.9 389.7L1502.4 388.2L1505.8 387.0L1509.3 386.7L1512.7 389.1L1516.2 392.7L1517.3 394.4L1519.6 398.1L1523.1 402.9L1524.0 404.5L1526.5 408.2L1530.0 413.2L1530.9 414.6L1533.4 418.9L1536.9 423.4L1537.8 424.7L1540.3 428.4L1543.8 433.2L1544.9 434.8L1547.2 438.6L1550.7 442.9L1552.8 444.9L1554.1 445.8L1557.6 447.2L1561.1 447.2L1564.5 448.1L1568.0 451.5L1570.9 455.0L1571.4 456.1L1574.9 464.2L1575.4 465.1L1578.3 468.3L1581.8 470.5L1585.2 472.0L1588.7 473.6L1590.6 475.3L1592.1 477.6L1595.2 485.4L1595.6 486.2L1599.0 490.8L1602.5 492.7L1605.0 495.5L1605.9 497.0L1609.0 505.6L1609.4 506.4L1612.8 511.1L1616.3 513.1L1619.8 515.6L1619.9 515.7L1623.2 518.3L1626.7 520.4L1630.1 521.1L1633.6 522.3L1637.0 524.5L1639.8 525.8L1640.5 526.1L1643.9 526.1L1647.4 526.5L1650.8 529.0L1654.3 531.4L1657.7 533.3L1661.2 535.8L1661.4 535.9L1664.6 539.2L1668.1 542.2L1671.5 546.0L1671.6 546.0L1675.0 549.2L1678.5 550.6L1681.9 551.7L1685.4 553.6L1688.8 556.0L1689.0 556.2L1692.3 560.0L1695.7 564.5L1697.6 566.3L1699.2 567.5L1702.6 569.5L1706.1 571.5L1709.5 574.7L1710.7 576.4L1713.0 580.4L1716.4 584.7L1719.9 586.4L1720.0 586.5L1723.3 590.0L1725.6 596.6L1726.8 598.7L1730.2 604.7L1733.7 604.9L1737.2 605.0L1737.2 596.6L1737.2 594.8L1733.7 593.2L1730.2 589.8L1729.1 586.5L1726.8 581.4L1724.6 576.4L1723.3 574.6L1719.9 574.5L1716.4 574.5L1713.0 569.6L1710.7 566.3L1709.5 564.5L1706.1 563.1L1702.6 562.2L1699.2 559.0L1696.9 556.2L1695.7 554.4L1692.3 551.2L1688.8 549.1L1685.4 547.7L1681.9 546.6L1680.8 546.0L1678.5 544.6L1675.0 542.1L1671.5 538.5L1669.2 535.9L1668.1 534.3L1664.6 531.0L1661.2 528.9L1657.7 527.4L1654.3 526.2L1653.7 525.8L1650.8 523.5L1647.4 520.6L1643.9 520.2L1640.5 520.2L1637.0 518.3L1633.7 515.7L1633.6 515.6L1630.1 514.5L1626.7 513.6L1623.2 510.8L1619.8 508.6L1616.3 507.1L1612.8 505.9L1612.6 505.6L1609.4 499.4L1608.0 495.5L1605.9 489.5L1602.5 486.7L1599.0 485.6L1598.9 485.4L1595.6 479.4L1594.0 475.3L1592.1 471.3L1588.7 469.0L1585.2 467.8L1581.8 465.7L1581.1 465.1L1578.3 461.5L1575.0 455.0L1574.9 454.6L1571.4 448.2L1568.2 444.9L1568.0 444.7L1564.5 440.7L1561.1 439.6L1557.6 439.6L1554.1 437.1L1552.4 434.8L1550.7 429.9L1547.6 424.7L1547.2 424.2L1543.8 422.2L1540.3 418.2L1537.8 414.6L1536.9 413.2L1533.4 408.1L1530.9 404.5L1530.0 402.8L1526.5 396.8L1525.0 394.4L1523.1 388.2L1520.4 384.2L1519.6 383.6L1516.2 381.5L1512.7 380.2L1509.3 379.2L1505.8 380.5L1502.4 382.7L1498.9 384.1L1498.6 384.2L1495.4 385.4L1492.0 387.2L1488.5 389.7L1485.1 391.1L1481.6 391.1L1478.2 391.1L1474.7 391.1L1471.3 393.2L1470.6 394.4L1467.8 401.6L1465.9 404.5L1464.4 406.4L1460.9 406.4L1457.5 406.4L1454.0 406.4L1451.9 404.5L1450.6 402.3L1448.9 394.4L1448.9 384.2L1449.3 374.1L1450.6 369.4L1453.3 364.0L1454.0 362.4L1455.9 353.9L1455.9 343.8L1455.2 333.7L1454.0 331.2L1450.6 327.7L1447.1 326.0L1445.3 323.6L1443.7 321.3L1440.2 316.1L1437.8 313.5L1436.7 311.6L1433.3 306.6L1429.8 304.6L1426.4 304.6L1422.9 304.6L1419.5 304.6L1416.0 304.6L1412.6 304.6L1409.1 304.6L1405.7 304.6L1402.2 305.7L1398.8 308.3L1395.3 310.8L1391.9 313.3L1391.7 313.5L1388.4 317.4L1385.0 320.3L1381.5 322.5L1379.3 323.6L1378.1 324.1L1374.6 325.7L1371.1 327.1L1367.7 328.1L1364.2 328.9L1360.8 331.3L1359.4 333.7L1360.8 342.2L1361.3 343.8L1364.2 349.8L1365.3 353.9L1365.6 364.0L1365.6 374.1L1365.6 384.2L1365.6 394.4L1365.6 404.5L1365.6 414.6L1365.6 424.7L1365.6 434.8L1365.6 444.9L1365.6 455.0L1365.6 465.1L1365.6 475.3L1364.2 482.8L1363.4 485.4L1360.8 490.3L1359.2 495.5L1358.6 505.6L1358.6 515.7L1357.3 523.4L1356.3 525.8L1353.9 528.6L1350.4 528.6L1347.0 528.6L1343.5 528.6L1340.1 528.6L1336.6 528.6L1333.2 528.6L1329.7 528.6L1326.3 528.6L1322.8 528.6L1319.4 528.6L1315.9 528.6L1312.4 528.6L1309.0 528.6L1305.5 529.9L1302.1 532.6L1298.6 534.1L1295.2 535.0L1291.7 535.4L1288.3 535.4L1284.8 535.3L1281.4 534.5L1277.9 533.7L1274.5 533.7L1271.0 533.4L1267.6 531.5L1264.1 527.6L1262.2 525.8L1260.7 524.7L1257.2 522.3L1253.7 517.3L1252.9 515.7L1250.3 512.3L1246.8 507.3L1245.6 505.6L1243.4 502.0L1239.9 496.0L1239.7 495.5L1236.5 486.1L1236.2 485.4L1233.0 478.6L1230.9 475.3L1229.6 474.3L1226.1 474.3L1222.7 474.3L1219.2 474.3L1215.8 474.2L1212.3 473.5L1208.9 472.6L1205.4 472.6L1202.0 472.0L1198.5 466.9L1197.1 465.1L1195.0 462.4L1191.6 462.4L1188.1 462.1L1184.7 457.3L1183.4 455.0L1181.2 451.8L1177.8 446.7L1176.5 444.9L1174.3 441.4L1170.9 436.6L1169.8 434.8L1167.4 431.8L1164.0 430.0L1160.5 426.2L1160.0 424.7L1157.1 416.9L1156.1 414.6L1153.6 411.2L1150.8 404.5L1150.2 402.7L1147.6 394.4L1146.7 392.7L1143.3 390.4L1139.8 388.6L1136.3 388.6L1132.9 388.6L1129.4 388.6L1126.0 388.6L1126.0 393.7L1129.4 393.7L1132.9 393.7L1136.3 393.7L1139.8 393.7L1140.8 394.4L1143.3 400.4L1145.7 404.5L1146.7 406.2L1149.3 414.6L1150.2 418.4L1152.6 424.7L1153.6 426.6L1156.5 434.8L1157.1 437.6L1159.5 444.9L1160.5 446.9L1164.0 447.2L1167.4 447.2L1170.9 450.4L1174.3 452.2L1176.4 455.0L1177.8 459.7L1180.2 465.1L1181.2 467.0L1184.7 470.7L1188.1 472.5L1191.6 472.6L1195.0 472.6L1197.1 475.3L1198.5 479.8L1201.0 485.4L1202.0 487.2L1205.4 487.9L1208.9 487.9L1212.3 487.9L1215.8 487.9L1219.2 487.9L1222.7 487.9L1226.1 487.9L1229.6 487.9L1232.7 495.5L1233.0 496.9L1235.7 505.6L1236.5 507.3L1239.9 511.2L1243.4 513.1L1245.4 515.7L1246.8 519.9L1249.5 525.8L1250.3 527.5L1253.7 531.5L1257.2 533.4L1259.5 535.9L1260.7 537.0L1264.1 540.6L1267.6 542.2L1271.0 543.6L1274.5 543.9L1277.9 543.9L1281.4 545.2L1282.9 546.0L1284.8 547.8L1288.3 549.0L1291.7 549.0L1295.2 549.0L1298.6 549.0L1302.1 549.0L1305.5 549.0L1309.0 549.0L1312.4 549.0L1315.9 549.0L1319.4 549.0L1322.8 554.2L1323.3 556.2L1326.3 562.3L1329.7 564.9L1333.2 565.6L1336.6 561.4L1338.4 556.2L1340.1 551.2L1343.5 549.0L1347.0 549.0L1350.4 553.7L1351.1 556.2L1352.9 566.3L1353.9 569.7L1357.3 574.3L1359.6 576.4L1360.8 577.9L1364.2 582.5L1366.8 586.5L1367.7 587.7L1371.1 592.8L1373.7 596.6ZM1428.1 343.8L1428.4 333.7L1429.8 328.3L1433.3 326.1L1436.7 327.7L1440.2 331.3L1441.3 333.7L1440.2 340.9L1438.6 343.8L1436.7 345.3L1433.3 345.3L1429.8 345.3ZM1407.5 333.7L1409.1 328.0L1412.6 324.9L1416.0 324.9L1419.5 328.5L1420.9 333.7L1419.5 336.4L1416.0 339.2L1412.6 339.2L1409.1 336.8ZM1129.4 440.7L1132.9 440.7L1136.0 434.8L1132.9 426.8L1129.4 426.8L1126.0 426.8L1126.0 434.8L1126.0 440.7Z" fill="#FFAA00" fill-rule="evenodd" stroke="#FFAA00" stroke-width="0.6"/>
<path d="M1502.4 1557.3L1505.8 1557.3L1509.3 1557.3L1512.7 1557.3L1516.2 1557.3L1519.6 1557.3L1523.1 1557.3L1526.5 1557.3L1528.8 1557.3L1528.8 1547.2L1528.8 1537.1L1528.8 1527.0L1528.8 1516.8L1526.5 1513.9L1523.1 1510.7L1519.6 1508.5L1516.2 1506.9L1512.7 1507.7L1509.3 1509.9L1505.8 1512.5L1502.4 1515.5L1501.0 1516.8L1501.0 1527.0L1501.0 1537.1L1501.0 1547.2L1501.0 1557.3ZM1702.6 1489.7L1706.1 1493.4L1709.5 1496.1L1713.0 1493.1L1716.4 1489.2L1718.3 1486.5L1719.9 1483.8L1723.1 1476.4L1719.9 1468.1L1719.0 1466.3L1716.4 1462.4L1713.0 1458.5L1710.3 1456.2L1709.5 1455.6L1708.7 1456.2L1706.1 1458.2L1702.6 1462.0L1699.7 1466.3L1699.2 1467.4L1695.7 1476.3L1695.7 1476.4L1695.7 1476.5L1699.2 1484.4L1700.4 1486.5ZM1374.6 1453.1L1378.1 1452.5L1381.5 1447.4L1382.4 1446.1L1385.0 1442.3L1388.4 1437.3L1389.3 1435.9L1391.9 1429.8L1394.0 1425.8L1395.3 1423.7L1398.8 1419.2L1402.2 1415.9L1402.4 1415.7L1405.7 1412.0L1409.1 1406.9L1410.0 1405.6L1412.6 1401.8L1416.0 1396.8L1416.9 1395.5L1416.0 1392.2L1413.8 1385.4L1412.6 1383.4L1409.1 1378.8L1405.7 1375.5L1405.4 1375.3L1402.2 1372.8L1398.8 1369.5L1395.4 1365.2L1395.3 1365.0L1391.9 1358.6L1390.4 1355.0L1388.4 1349.8L1386.1 1344.9L1385.0 1342.9L1381.5 1338.3L1378.1 1334.9L1378.0 1334.8L1374.6 1332.1L1371.1 1328.9L1367.8 1324.7L1367.7 1324.5L1364.2 1318.3L1362.7 1314.6L1360.8 1309.4L1358.5 1304.5L1357.3 1302.4L1353.9 1297.7L1350.6 1294.4L1350.4 1294.2L1347.0 1292.5L1343.5 1292.5L1340.1 1292.5L1336.6 1292.5L1333.2 1292.5L1329.7 1292.5L1326.3 1292.5L1322.8 1292.5L1319.4 1293.3L1318.1 1294.4L1315.9 1296.5L1312.4 1300.7L1310.2 1304.5L1309.0 1308.0L1307.2 1314.6L1309.0 1318.9L1312.3 1324.7L1312.4 1325.0L1315.9 1329.2L1319.4 1332.4L1322.4 1334.8L1322.8 1335.1L1326.3 1338.6L1329.7 1343.4L1330.6 1344.9L1333.2 1350.5L1334.9 1355.0L1336.6 1359.3L1339.8 1365.2L1340.1 1365.5L1343.5 1369.8L1347.0 1373.0L1349.9 1375.3L1350.4 1375.7L1353.9 1379.2L1357.3 1383.9L1358.2 1385.4L1360.8 1390.8L1362.5 1395.5L1364.2 1401.7L1365.1 1405.6L1366.9 1415.7L1367.7 1421.6L1368.2 1425.8L1369.2 1435.9L1371.1 1444.5L1371.6 1446.1ZM1702.6 1367.4L1706.1 1371.2L1709.5 1374.0L1713.0 1374.0L1716.4 1374.0L1719.9 1374.0L1723.3 1374.0L1726.8 1374.0L1730.2 1374.0L1733.7 1374.0L1737.2 1374.0L1737.2 1365.2L1737.2 1355.0L1737.2 1344.9L1737.2 1334.8L1737.2 1324.7L1737.2 1314.6L1737.2 1304.5L1737.2 1294.4L1737.2 1284.3L1737.2 1274.1L1737.2 1264.0L1737.2 1253.9L1737.2 1251.8L1733.7 1251.8L1730.2 1251.8L1726.8 1251.8L1723.3 1251.8L1719.9 1251.8L1716.4 1251.8L1713.0 1251.8L1709.5 1251.8L1706.7 1253.9L1706.1 1254.5L1702.6 1258.3L1699.2 1263.6L1698.9 1264.0L1695.7 1271.5L1694.8 1274.1L1692.3 1279.8L1689.6 1284.3L1688.8 1285.3L1685.4 1289.3L1681.9 1292.3L1679.3 1294.4L1678.5 1295.1L1675.0 1298.8L1671.5 1304.0L1671.3 1304.5L1668.3 1314.6L1671.5 1321.7L1673.4 1324.7L1675.0 1326.9L1678.5 1330.6L1681.9 1333.5L1683.6 1334.8L1685.4 1336.4L1688.8 1340.4L1691.7 1344.9L1692.3 1346.0L1695.7 1354.3L1696.0 1355.0L1699.2 1362.2L1701.0 1365.2ZM1561.1 1357.6L1564.5 1360.1L1568.0 1362.3L1571.4 1363.3L1574.9 1361.2L1578.3 1358.8L1581.8 1356.0L1582.8 1355.0L1585.2 1350.0L1588.1 1344.9L1588.7 1343.9L1592.1 1339.0L1595.6 1335.4L1596.3 1334.8L1599.0 1332.6L1602.5 1329.6L1605.9 1325.4L1606.4 1324.7L1609.4 1319.6L1611.5 1314.6L1612.8 1311.0L1615.7 1304.5L1616.3 1303.5L1619.8 1298.4L1623.2 1294.8L1623.7 1294.4L1626.7 1292.0L1630.1 1289.0L1633.6 1284.9L1634.0 1284.3L1637.0 1279.2L1639.2 1274.1L1637.0 1265.8L1636.5 1264.0L1633.6 1259.3L1630.1 1255.3L1628.7 1253.9L1626.7 1252.2L1623.2 1249.5L1619.8 1245.8L1618.2 1243.8L1616.3 1240.8L1613.0 1233.7L1612.8 1233.3L1609.4 1224.8L1608.9 1223.6L1605.9 1218.8L1602.5 1214.7L1601.2 1213.5L1599.0 1211.6L1595.6 1208.9L1592.1 1205.3L1590.7 1203.4L1588.7 1200.3L1585.3 1193.2L1585.2 1193.1L1581.8 1187.5L1579.2 1183.1L1578.3 1181.8L1574.9 1176.7L1572.3 1173.0L1571.4 1171.7L1568.0 1170.3L1564.5 1170.3L1561.1 1170.3L1557.6 1170.3L1554.1 1170.3L1550.7 1170.3L1547.2 1170.3L1543.8 1170.3L1540.3 1166.8L1537.7 1162.9L1536.9 1161.8L1533.4 1156.7L1530.8 1152.8L1530.0 1150.9L1526.5 1143.9L1525.8 1142.7L1523.1 1138.0L1519.6 1133.7L1518.5 1132.6L1516.2 1130.5L1512.7 1129.5L1509.3 1129.5L1505.8 1129.5L1502.4 1129.5L1498.9 1129.5L1495.4 1129.5L1492.0 1129.5L1488.5 1129.5L1485.1 1129.5L1481.6 1129.5L1478.2 1129.5L1474.7 1129.5L1471.3 1129.5L1467.8 1129.5L1464.4 1129.5L1460.9 1129.5L1457.5 1129.5L1454.0 1129.5L1450.6 1129.5L1447.1 1129.5L1443.7 1129.5L1440.2 1129.5L1436.7 1129.5L1433.3 1129.5L1429.8 1130.9L1428.0 1132.6L1426.4 1134.2L1422.9 1138.7L1420.7 1142.7L1419.5 1148.6L1418.7 1152.8L1419.5 1154.6L1422.9 1161.1L1424.2 1162.9L1426.4 1165.6L1429.8 1168.9L1433.3 1171.6L1434.9 1173.0L1436.7 1174.9L1440.2 1179.5L1442.3 1183.1L1443.7 1186.1L1446.4 1193.2L1447.1 1195.0L1450.6 1201.6L1451.8 1203.4L1454.0 1206.2L1457.5 1209.5L1460.9 1213.3L1461.0 1213.5L1464.4 1218.4L1467.8 1223.4L1467.9 1223.6L1471.3 1229.2L1474.1 1233.7L1474.7 1235.3L1478.2 1242.1L1479.3 1243.8L1481.6 1246.7L1485.1 1250.1L1488.5 1253.8L1488.6 1253.9L1492.0 1258.9L1495.4 1264.0L1495.5 1264.0L1498.9 1269.0L1502.4 1274.1L1502.4 1274.1L1505.8 1279.1L1509.3 1284.2L1509.3 1284.3L1512.7 1289.3L1516.2 1293.5L1517.3 1294.4L1519.6 1296.7L1523.1 1301.0L1525.2 1304.5L1526.5 1306.8L1530.0 1314.6L1530.0 1314.6L1533.4 1319.7L1536.9 1324.7L1536.9 1324.7L1540.3 1329.8L1543.8 1334.1L1544.7 1334.8L1547.2 1337.2L1550.7 1341.5L1552.8 1344.9L1554.1 1347.1L1557.6 1353.9L1558.1 1355.0ZM1509.5 1243.8L1509.3 1243.5L1505.8 1238.4L1502.6 1233.7L1502.4 1233.1L1498.9 1225.6L1497.7 1223.6L1495.4 1219.7L1492.0 1215.3L1490.1 1213.5L1488.5 1212.1L1485.1 1208.0L1481.9 1203.4L1481.6 1203.0L1478.2 1197.9L1475.0 1193.2L1476.4 1183.1L1478.2 1180.0L1481.6 1175.3L1483.8 1173.0L1485.1 1171.9L1488.5 1170.3L1492.0 1170.3L1495.4 1170.3L1498.9 1170.3L1502.4 1170.3L1505.8 1170.3L1509.3 1170.3L1512.7 1170.3L1516.2 1172.1L1516.8 1173.0L1519.6 1177.2L1523.1 1182.2L1523.7 1183.1L1526.5 1188.0L1529.7 1193.2L1530.0 1193.8L1533.4 1200.8L1535.1 1203.4L1536.9 1205.6L1540.3 1209.1L1543.8 1211.9L1545.7 1213.5L1547.2 1215.0L1550.7 1219.3L1553.3 1223.6L1554.1 1226.8L1555.7 1233.7L1554.1 1237.5L1550.7 1243.5L1550.5 1243.8L1547.2 1247.8L1543.8 1250.9L1540.3 1251.8L1536.9 1251.8L1533.4 1251.8L1530.0 1251.8L1526.5 1251.8L1523.1 1251.8L1519.6 1251.8L1516.2 1251.8L1512.7 1248.5ZM1177.8 1246.2L1181.2 1251.3L1184.7 1249.2L1188.1 1245.4L1189.3 1243.8L1191.6 1240.2L1194.6 1233.7L1195.0 1228.5L1195.4 1223.6L1195.4 1213.5L1195.4 1203.4L1195.4 1193.2L1195.0 1191.7L1192.3 1183.1L1191.6 1181.8L1188.1 1176.6L1184.8 1173.0L1184.7 1172.9L1181.2 1170.3L1177.8 1170.3L1174.3 1170.3L1170.9 1170.3L1167.4 1170.3L1164.0 1170.3L1160.5 1170.3L1157.1 1170.3L1153.6 1170.3L1150.2 1170.3L1146.7 1170.3L1143.3 1170.3L1139.8 1170.3L1136.3 1170.3L1132.9 1170.3L1129.4 1170.3L1126.0 1170.3L1126.0 1173.0L1126.0 1183.1L1126.0 1193.2L1126.0 1203.4L1126.0 1211.0L1129.4 1211.0L1132.9 1211.0L1136.3 1211.0L1139.8 1211.0L1143.3 1211.0L1146.7 1211.0L1150.2 1211.0L1153.6 1211.0L1156.7 1213.5L1157.1 1213.8L1160.5 1217.6L1164.0 1222.8L1164.4 1223.6L1167.4 1229.4L1169.2 1233.7L1170.9 1236.1L1174.3 1241.2L1176.1 1243.8ZM1336.6 1193.5L1340.1 1196.6L1343.5 1198.8L1347.0 1200.4L1350.4 1200.0L1353.9 1198.2L1357.3 1195.9L1360.1 1193.2L1360.8 1190.1L1362.1 1183.1L1362.1 1173.0L1362.1 1162.9L1362.1 1152.8L1362.1 1142.7L1362.1 1132.6L1362.1 1122.5L1362.1 1112.3L1360.8 1107.1L1359.3 1102.2L1357.3 1098.7L1353.9 1094.0L1352.1 1092.1L1350.4 1090.6L1347.0 1088.8L1343.5 1088.8L1340.1 1088.8L1336.6 1088.8L1333.2 1088.8L1329.7 1088.8L1326.3 1088.8L1322.8 1088.8L1319.4 1088.8L1315.9 1088.8L1312.4 1088.8L1309.0 1088.8L1305.5 1088.8L1302.1 1088.8L1298.6 1088.8L1295.2 1088.8L1291.7 1089.5L1288.8 1092.1L1288.3 1092.6L1284.8 1096.8L1281.6 1102.2L1281.4 1103.0L1278.8 1112.3L1278.8 1122.5L1278.8 1132.6L1278.8 1142.7L1279.8 1152.8L1281.4 1156.3L1284.8 1162.3L1285.3 1162.9L1288.3 1166.5L1291.7 1169.6L1295.2 1170.3L1298.6 1170.3L1302.1 1170.3L1305.5 1170.3L1309.0 1170.3L1312.4 1170.3L1315.9 1170.3L1319.4 1170.3L1322.8 1172.2L1323.7 1173.0L1326.3 1175.7L1329.7 1180.5L1331.2 1183.1L1333.2 1186.8L1336.4 1193.2ZM1129.4 1126.6L1132.9 1122.8L1133.2 1122.5L1136.3 1117.4L1138.7 1112.3L1137.0 1102.2L1136.3 1100.9L1132.9 1095.5L1129.9 1092.1L1129.4 1091.7L1126.0 1088.8L1126.0 1092.1L1126.0 1102.2L1126.0 1112.3L1126.0 1122.5L1126.0 1129.5ZM1730.2 589.8L1733.7 593.2L1737.2 594.8L1737.2 586.5L1737.2 584.3L1733.7 579.6L1731.8 576.4L1730.2 574.5L1726.8 569.5L1724.6 566.3L1723.3 564.1L1719.9 563.9L1716.4 563.9L1713.0 558.8L1711.0 556.2L1709.5 554.3L1706.1 554.1L1702.6 554.1L1699.2 549.3L1696.9 546.0L1695.7 544.0L1692.3 542.3L1688.8 541.4L1685.4 540.7L1681.9 540.1L1678.5 537.7L1676.4 535.9L1675.0 534.1L1671.5 529.2L1669.3 525.8L1668.1 523.8L1664.6 522.0L1661.2 521.1L1657.7 520.4L1654.3 519.8L1650.8 517.3L1648.7 515.7L1647.4 513.9L1643.9 513.4L1640.5 513.4L1637.0 510.7L1633.6 508.6L1630.1 506.6L1628.6 505.6L1626.7 503.5L1623.2 501.7L1619.8 500.8L1616.3 500.1L1612.8 499.5L1610.8 495.5L1609.4 490.3L1607.7 485.4L1605.9 481.5L1602.5 479.8L1599.0 479.2L1596.9 475.3L1595.6 471.5L1592.1 465.7L1590.8 465.1L1588.7 464.1L1585.2 463.2L1581.8 459.9L1578.8 455.0L1578.3 451.7L1576.2 444.9L1574.9 442.5L1571.4 439.6L1568.0 436.3L1566.6 434.8L1564.5 428.5L1561.1 426.8L1557.6 426.8L1556.6 424.7L1554.1 420.0L1552.0 414.6L1550.7 412.8L1547.2 411.5L1543.8 411.5L1540.3 408.1L1537.9 404.5L1536.9 402.8L1533.4 396.9L1532.0 394.4L1531.2 384.2L1530.2 374.1L1530.0 373.4L1526.5 370.8L1523.1 370.8L1519.6 370.8L1516.2 370.8L1512.7 370.8L1509.3 370.8L1505.8 373.6L1505.5 374.1L1502.4 376.6L1498.9 377.8L1495.4 378.4L1492.0 379.1L1488.5 380.1L1485.1 380.6L1481.6 380.4L1478.2 380.3L1474.7 380.3L1471.3 377.9L1469.8 374.1L1469.8 364.0L1469.8 353.9L1469.8 343.8L1469.3 333.7L1467.8 329.9L1464.4 326.5L1460.9 325.5L1459.4 323.6L1457.5 321.0L1454.0 315.6L1452.2 313.5L1450.6 306.2L1449.7 303.3L1447.1 297.6L1444.2 293.2L1443.7 292.7L1440.2 289.8L1436.7 287.3L1433.3 285.2L1429.8 284.2L1426.4 284.2L1422.9 284.2L1419.5 284.2L1416.0 284.2L1412.6 284.2L1409.1 284.2L1405.7 284.2L1402.2 284.8L1398.8 286.5L1395.3 288.7L1391.9 291.9L1390.7 293.2L1388.4 295.0L1385.0 297.6L1381.5 300.3L1378.1 303.0L1377.7 303.3L1374.6 305.9L1371.1 309.5L1367.8 313.5L1367.7 313.5L1364.2 315.9L1360.8 318.4L1357.3 322.5L1356.7 323.6L1353.9 328.8L1352.1 333.7L1350.4 340.6L1349.0 343.8L1347.0 347.6L1345.1 353.9L1344.8 364.0L1344.8 374.1L1347.0 383.7L1347.2 384.2L1350.4 390.8L1351.3 394.4L1351.7 404.5L1351.7 414.6L1350.4 421.4L1349.3 424.7L1347.0 429.0L1345.2 434.8L1343.5 442.0L1342.0 444.9L1340.1 447.2L1336.6 447.2L1333.2 447.2L1329.7 447.2L1326.3 448.6L1322.8 451.2L1319.4 453.6L1318.3 455.0L1317.0 465.1L1317.0 475.3L1317.0 485.4L1317.0 495.5L1315.9 502.0L1314.5 505.6L1312.4 508.3L1309.0 508.3L1305.5 510.0L1303.6 515.7L1302.1 518.7L1298.6 524.1L1297.2 525.8L1295.2 527.2L1291.7 528.6L1288.3 528.6L1284.8 528.2L1281.4 525.9L1281.2 525.8L1277.9 523.2L1274.5 523.2L1271.0 522.2L1267.6 517.1L1266.5 515.7L1264.1 513.1L1260.7 511.1L1257.2 507.3L1255.5 505.6L1253.7 504.2L1250.3 501.0L1247.0 495.5L1246.8 494.7L1243.4 485.9L1243.2 485.4L1239.9 477.0L1239.2 475.3L1236.5 472.0L1233.0 469.2L1229.6 467.5L1226.1 467.5L1222.7 467.5L1219.2 467.5L1215.8 467.3L1212.3 465.1L1212.3 465.1L1208.9 462.1L1205.4 462.1L1202.0 461.4L1198.5 456.3L1197.5 455.0L1195.0 452.3L1191.6 452.3L1188.1 451.7L1184.7 446.7L1183.5 444.9L1181.2 441.2L1177.8 435.5L1177.3 434.8L1174.3 426.4L1172.8 424.7L1170.9 423.1L1167.4 421.1L1164.0 415.6L1163.5 414.6L1160.5 406.1L1159.1 404.5L1157.1 402.8L1153.6 400.6L1151.5 394.4L1150.2 390.8L1146.7 386.0L1143.3 384.6L1142.3 384.2L1139.8 383.4L1136.3 383.4L1132.9 383.4L1129.4 383.4L1126.0 383.4L1126.0 384.2L1126.0 388.6L1129.4 388.6L1132.9 388.6L1136.3 388.6L1139.8 388.6L1143.3 390.4L1146.7 392.7L1147.6 394.4L1150.2 402.7L1150.8 404.5L1153.6 411.2L1156.1 414.6L1157.1 416.9L1160.0 424.7L1160.5 426.2L1164.0 430.0L1167.4 431.8L1169.8 434.8L1170.9 436.6L1174.3 441.4L1176.5 444.9L1177.8 446.7L1181.2 451.8L1183.4 455.0L1184.7 457.3L1188.1 462.1L1191.6 462.4L1195.0 462.4L1197.1 465.1L1198.5 466.9L1202.0 472.0L1205.4 472.6L1208.9 472.6L1212.3 473.5L1215.8 474.2L1219.2 474.3L1222.7 474.3L1226.1 474.3L1229.6 474.3L1230.9 475.3L1233.0 478.6L1236.2 485.4L1236.5 486.1L1239.7 495.5L1239.9 496.0L1243.4 502.0L1245.6 505.6L1246.8 507.3L1250.3 512.3L1252.9 515.7L1253.7 517.3L1257.2 522.3L1260.7 524.7L1262.2 525.8L1264.1 527.6L1267.6 531.5L1271.0 533.4L1274.5 533.7L1277.9 533.7L1281.4 534.5L1284.8 535.3L1288.3 535.4L1291.7 535.4L1295.2 535.0L1298.6 534.1L1302.1 532.6L1305.5 529.9L1309.0 528.6L1312.4 528.6L1315.9 528.6L1319.4 528.6L1322.8 528.6L1326.3 528.6L1329.7 528.6L1333.2 528.6L1336.6 528.6L1340.1 528.6L1343.5 528.6L1347.0 528.6L1350.4 528.6L1353.9 528.6L1356.3 525.8L1357.3 523.4L1358.6 515.7L1358.6 505.6L1359.2 495.5L1360.8 490.3L1363.4 485.4L1364.2 482.8L1365.6 475.3L1365.6 465.1L1365.6 455.0L1365.6 444.9L1365.6 434.8L1365.6 424.7L1365.6 414.6L1365.6 404.5L1365.6 394.4L1365.6 384.2L1365.6 374.1L1365.6 364.0L1365.3 353.9L1364.2 349.8L1361.3 343.8L1360.8 342.2L1359.4 333.7L1360.8 331.3L1364.2 328.9L1367.7 328.1L1371.1 327.1L1374.6 325.7L1378.1 324.1L1379.3 323.6L1381.5 322.5L1385.0 320.3L1388.4 317.4L1391.7 313.5L1391.9 313.3L1395.3 310.8L1398.8 308.3L1402.2 305.7L1405.7 304.6L1409.1 304.6L1412.6 304.6L1416.0 304.6L1419.5 304.6L1422.9 304.6L1426.4 304.6L1429.8 304.6L1433.3 306.6L1436.7 311.6L1437.8 313.5L1440.2 316.1L1443.7 321.3L1445.3 323.6L1447.1 326.0L1450.6 327.7L1454.0 331.2L1455.2 333.7L1455.9 343.8L1455.9 353.9L1454.0 362.4L1453.3 364.0L1450.6 369.4L1449.3 374.1L1448.9 384.2L1448.9 394.4L1450.6 402.3L1451.9 404.5L1454.0 406.4L1457.5 406.4L1460.9 406.4L1464.4 406.4L1465.9 404.5L1467.8 401.6L1470.6 394.4L1471.3 393.2L1474.7 391.1L1478.2 391.1L1481.6 391.1L1485.1 391.1L1488.5 389.7L1492.0 387.2L1495.4 385.4L1498.6 384.2L1498.9 384.1L1502.4 382.7L1505.8 380.5L1509.3 379.2L1512.7 380.2L1516.2 381.5L1519.6 383.6L1520.4 384.2L1523.1 388.2L1525.0 394.4L1526.5 396.8L1530.0 402.8L1530.9 404.5L1533.4 408.1L1536.9 413.2L1537.8 414.6L1540.3 418.2L1543.8 422.2L1547.2 424.2L1547.6 424.7L1550.7 429.9L1552.4 434.8L1554.1 437.1L1557.6 439.6L1561.1 439.6L1564.5 440.7L1568.0 444.7L1568.2 444.9L1571.4 448.2L1574.9 454.6L1575.0 455.0L1578.3 461.5L1581.1 465.1L1581.8 465.7L1585.2 467.8L1588.7 469.0L1592.1 471.3L1594.0 475.3L1595.6 479.4L1598.9 485.4L1599.0 485.6L1602.5 486.7L1605.9 489.5L1608.0 495.5L1609.4 499.4L1612.6 505.6L1612.8 505.9L1616.3 507.1L1619.8 508.6L1623.2 510.8L1626.7 513.6L1630.1 514.5L1633.6 515.6L1633.7 515.7L1637.0 518.3L1640.5 520.2L1643.9 520.2L1647.4 520.6L1650.8 523.5L1653.7 525.8L1654.3 526.2L1657.7 527.4L1661.2 528.9L1664.6 531.0L1668.1 534.3L1669.2 535.9L1671.5 538.5L1675.0 542.1L1678.5 544.6L1680.8 546.0L1681.9 546.6L1685.4 547.7L1688.8 549.1L1692.3 551.2L1695.7 554.4L1696.9 556.2L1699.2 559.0L1702.6 562.2L1706.1 563.1L1709.5 564.5L1710.7 566.3L1713.0 569.6L1716.4 574.5L1719.9 574.5L1723.3 574.6L1724.6 576.4L1726.8 581.4L1729.1 586.5ZM1409.1 336.8L1412.6 339.2L1416.0 339.2L1419.5 336.4L1420.9 333.7L1419.5 328.5L1416.0 324.9L1412.6 324.9L1409.1 328.0L1407.5 333.7Z" fill="#FF5500" fill-rule="evenodd" stroke="#FF5500" stroke-width="0.6"/>
<path d="M1512.7 1248.5L1516.2 1251.8L1519.6 1251.8L1523.1 1251.8L1526.5 1251.8L1530.0 1251.8L1533.4 1251.8L1536.9 1251.8L1540.3 1251.8L1543.8 1250.9L1547.2 1247.8L1550.5 1243.8L1550.7 1243.5L1554.1 1237.5L1555.7 1233.7L1554.1 1226.8L1553.3 1223.6L1550.7 1219.3L1547.2 1215.0L1545.7 1213.5L1543.8 1211.9L1540.3 1209.1L1536.9 1205.6L1535.1 1203.4L1533.4 1200.8L1530.0 1193.8L1529.7 1193.2L1526.5 1188.0L1523.7 1183.1L1523.1 1182.2L1519.6 1177.2L1516.8 1173.0L1516.2 1172.1L1512.7 1170.3L1509.3 1170.3L1505.8 1170.3L1502.4 1170.3L1498.9 1170.3L1495.4 1170.3L1492.0 1170.3L1488.5 1170.3L1485.1 1171.9L1483.8 1173.0L1481.6 1175.3L1478.2 1180.0L1476.4 1183.1L1475.0 1193.2L1478.2 1197.9L1481.6 1203.0L1481.9 1203.4L1485.1 1208.0L1488.5 1212.1L1490.1 1213.5L1492.0 1215.3L1495.4 1219.7L1497.7 1223.6L1498.9 1225.6L1502.4 1233.1L1502.6 1233.7L1505.8 1238.4L1509.3 1243.5L1509.5 1243.8ZM1733.7 579.6L1737.2 584.3L1737.2 576.4L1737.2 569.4L1734.1 566.3L1733.7 565.9L1730.2 563.5L1726.8 557.2L1726.1 556.2L1723.3 549.1L1719.9 549.0L1716.4 549.0L1713.5 546.0L1713.0 545.6L1709.5 543.1L1706.1 543.1L1702.6 543.1L1699.2 537.2L1698.4 535.9L1695.7 529.0L1692.3 528.6L1688.8 528.6L1685.4 528.6L1681.9 528.6L1679.0 525.8L1678.5 525.3L1675.0 522.9L1671.5 517.2L1670.6 515.7L1668.1 508.9L1664.6 508.3L1661.2 508.3L1657.7 508.3L1654.3 508.3L1651.4 505.6L1650.8 505.1L1647.4 502.6L1643.9 502.3L1640.5 502.3L1637.0 501.2L1633.6 500.2L1630.1 496.9L1629.0 495.5L1626.7 488.9L1623.2 487.9L1619.8 487.9L1616.3 487.9L1612.8 487.9L1612.2 485.4L1609.4 477.4L1608.2 475.3L1605.9 468.8L1602.5 467.5L1599.0 467.5L1598.1 465.1L1595.6 461.2L1592.1 458.7L1588.7 458.1L1585.2 457.7L1582.8 455.0L1581.9 444.9L1581.8 443.9L1580.5 434.8L1578.3 428.3L1576.4 424.7L1574.9 420.5L1573.6 414.6L1571.4 408.0L1568.0 406.4L1564.5 406.4L1561.1 406.4L1557.6 406.4L1555.3 404.5L1554.1 403.6L1550.7 401.1L1547.2 400.6L1543.8 400.6L1540.3 396.6L1539.0 394.4L1536.9 385.3L1536.7 384.2L1535.1 374.1L1533.4 366.8L1532.3 364.0L1530.0 360.8L1526.5 360.0L1523.1 360.0L1519.6 360.0L1516.2 360.0L1512.7 360.0L1509.3 360.0L1505.8 361.1L1502.4 364.0L1502.4 364.0L1498.9 365.7L1495.4 365.7L1492.0 365.7L1488.5 365.7L1486.9 364.0L1485.1 361.2L1483.4 353.9L1481.6 348.0L1479.4 343.8L1478.2 340.7L1476.6 333.7L1475.9 323.6L1474.7 317.2L1473.2 313.5L1473.2 303.3L1472.8 293.2L1471.3 289.3L1467.9 283.1L1467.8 283.0L1464.4 278.5L1460.9 275.2L1457.9 273.0L1457.5 272.7L1454.0 270.7L1450.6 269.1L1447.1 267.8L1443.7 266.7L1440.2 265.7L1436.7 264.9L1433.3 264.2L1429.8 263.8L1426.4 263.8L1422.9 263.8L1419.5 263.8L1416.0 263.8L1412.6 263.8L1409.1 263.8L1405.7 263.8L1402.2 263.2L1401.4 262.9L1398.8 261.5L1395.3 259.1L1391.9 255.8L1389.6 252.8L1388.4 249.7L1385.0 243.0L1384.8 242.7L1381.5 238.3L1378.1 234.9L1374.6 233.3L1371.1 233.3L1367.7 233.3L1364.2 233.3L1360.8 233.3L1357.3 233.3L1353.9 233.3L1350.4 233.3L1347.0 234.2L1343.5 237.4L1340.1 241.8L1339.5 242.7L1336.6 247.9L1334.6 252.8L1336.6 258.7L1338.4 262.9L1340.1 265.5L1343.5 269.9L1346.9 273.0L1347.0 273.1L1350.4 275.8L1353.9 279.2L1356.8 283.1L1357.3 283.9L1360.8 290.8L1361.7 293.2L1360.8 294.3L1357.3 298.9L1354.6 303.3L1353.9 304.4L1350.4 310.3L1348.3 313.5L1347.0 315.6L1343.5 317.5L1340.1 319.9L1337.8 323.6L1336.6 326.2L1334.2 333.7L1333.2 338.9L1331.9 343.8L1330.0 353.9L1333.2 360.2L1334.7 364.0L1336.6 368.9L1337.6 374.1L1336.6 379.7L1335.2 384.2L1333.2 388.1L1331.2 394.4L1330.9 404.5L1330.9 414.6L1329.7 421.0L1328.4 424.7L1326.3 428.8L1324.3 434.8L1322.8 437.7L1319.4 441.8L1315.9 444.5L1315.3 444.9L1312.4 447.2L1309.0 447.2L1305.5 448.9L1303.5 455.0L1302.1 461.5L1300.8 465.1L1298.6 469.2L1296.6 475.3L1296.1 485.4L1296.1 495.5L1296.1 505.6L1296.1 515.7L1295.2 517.2L1291.7 520.4L1288.3 520.4L1284.8 519.4L1281.7 515.7L1281.4 514.3L1277.9 508.3L1274.5 508.3L1271.0 507.2L1269.4 505.6L1267.6 504.0L1264.1 501.2L1260.9 495.5L1260.7 494.4L1257.2 486.7L1256.6 485.4L1254.0 475.3L1253.7 474.2L1250.3 467.5L1246.8 467.5L1243.4 466.6L1241.9 465.1L1239.9 463.3L1236.5 461.4L1233.0 460.1L1229.6 459.4L1226.1 459.4L1222.7 459.4L1219.2 459.4L1215.8 458.9L1212.4 455.0L1212.3 454.8L1208.9 447.2L1205.4 447.2L1202.0 446.6L1200.4 444.9L1198.5 443.1L1195.0 441.3L1191.6 441.3L1188.1 440.7L1184.7 434.9L1184.6 434.8L1181.2 425.9L1180.8 424.7L1177.8 414.8L1177.7 414.6L1174.3 406.4L1170.9 406.4L1167.4 405.7L1167.0 404.5L1164.0 394.8L1163.8 394.4L1160.5 386.1L1157.1 386.1L1153.6 385.6L1153.0 384.2L1150.2 380.2L1146.7 378.2L1143.3 377.6L1139.8 377.2L1136.3 377.2L1132.9 377.2L1129.4 377.2L1126.0 377.2L1126.0 383.4L1129.4 383.4L1132.9 383.4L1136.3 383.4L1139.8 383.4L1142.3 384.2L1143.3 384.6L1146.7 386.0L1150.2 390.8L1151.5 394.4L1153.6 400.6L1157.1 402.8L1159.1 404.5L1160.5 406.1L1163.5 414.6L1164.0 415.6L1167.4 421.1L1170.9 423.1L1172.8 424.7L1174.3 426.4L1177.3 434.8L1177.8 435.5L1181.2 441.2L1183.5 444.9L1184.7 446.7L1188.1 451.7L1191.6 452.3L1195.0 452.3L1197.5 455.0L1198.5 456.3L1202.0 461.4L1205.4 462.1L1208.9 462.1L1212.3 465.1L1212.3 465.1L1215.8 467.3L1219.2 467.5L1222.7 467.5L1226.1 467.5L1229.6 467.5L1233.0 469.2L1236.5 472.0L1239.2 475.3L1239.9 477.0L1243.2 485.4L1243.4 485.9L1246.8 494.7L1247.0 495.5L1250.3 501.0L1253.7 504.2L1255.5 505.6L1257.2 507.3L1260.7 511.1L1264.1 513.1L1266.5 515.7L1267.6 517.1L1271.0 522.2L1274.5 523.2L1277.9 523.2L1281.2 525.8L1281.4 525.9L1284.8 528.2L1288.3 528.6L1291.7 528.6L1295.2 527.2L1297.2 525.8L1298.6 524.1L1302.1 518.7L1303.6 515.7L1305.5 510.0L1309.0 508.3L1312.4 508.3L1314.5 505.6L1315.9 502.0L1317.0 495.5L1317.0 485.4L1317.0 475.3L1317.0 465.1L1318.3 455.0L1319.4 453.6L1322.8 451.2L1326.3 448.6L1329.7 447.2L1333.2 447.2L1336.6 447.2L1340.1 447.2L1342.0 444.9L1343.5 442.0L1345.2 434.8L1347.0 429.0L1349.3 424.7L1350.4 421.4L1351.7 414.6L1351.7 404.5L1351.3 394.4L1350.4 390.8L1347.2 384.2L1347.0 383.7L1344.8 374.1L1344.8 364.0L1345.1 353.9L1347.0 347.6L1349.0 343.8L1350.4 340.6L1352.1 333.7L1353.9 328.8L1356.7 323.6L1357.3 322.5L1360.8 318.4L1364.2 315.9L1367.7 313.5L1367.8 313.5L1371.1 309.5L1374.6 305.9L1377.7 303.3L1378.1 303.0L1381.5 300.3L1385.0 297.6L1388.4 295.0L1390.7 293.2L1391.9 291.9L1395.3 288.7L1398.8 286.5L1402.2 284.8L1405.7 284.2L1409.1 284.2L1412.6 284.2L1416.0 284.2L1419.5 284.2L1422.9 284.2L1426.4 284.2L1429.8 284.2L1433.3 285.2L1436.7 287.3L1440.2 289.8L1443.7 292.7L1444.2 293.2L1447.1 297.6L1449.7 303.3L1450.6 306.2L1452.2 313.5L1454.0 315.6L1457.5 321.0L1459.4 323.6L1460.9 325.5L1464.4 326.5L1467.8 329.9L1469.3 333.7L1469.8 343.8L1469.8 353.9L1469.8 364.0L1469.8 374.1L1471.3 377.9L1474.7 380.3L1478.2 380.3L1481.6 380.4L1485.1 380.6L1488.5 380.1L1492.0 379.1L1495.4 378.4L1498.9 377.8L1502.4 376.6L1505.5 374.1L1505.8 373.6L1509.3 370.8L1512.7 370.8L1516.2 370.8L1519.6 370.8L1523.1 370.8L1526.5 370.8L1530.0 373.4L1530.2 374.1L1531.2 384.2L1532.0 394.4L1533.4 396.9L1536.9 402.8L1537.9 404.5L1540.3 408.1L1543.8 411.5L1547.2 411.5L1550.7 412.8L1552.0 414.6L1554.1 420.0L1556.6 424.7L1557.6 426.8L1561.1 426.8L1564.5 428.5L1566.6 434.8L1568.0 436.3L1571.4 439.6L1574.9 442.5L1576.2 444.9L1578.3 451.7L1578.8 455.0L1581.8 459.9L1585.2 463.2L1588.7 464.1L1590.8 465.1L1592.1 465.7L1595.6 471.5L1596.9 475.3L1599.0 479.2L1602.5 479.8L1605.9 481.5L1607.7 485.4L1609.4 490.3L1610.8 495.5L1612.8 499.5L1616.3 500.1L1619.8 500.8L1623.2 501.7L1626.7 503.5L1628.6 505.6L1630.1 506.6L1633.6 508.6L1637.0 510.7L1640.5 513.4L1643.9 513.4L1647.4 513.9L1648.7 515.7L1650.8 517.3L1654.3 519.8L1657.7 520.4L1661.2 521.1L1664.6 522.0L1668.1 523.8L1669.3 525.8L1671.5 529.2L1675.0 534.1L1676.4 535.9L1678.5 537.7L1681.9 540.1L1685.4 540.7L1688.8 541.4L1692.3 542.3L1695.7 544.0L1696.9 546.0L1699.2 549.3L1702.6 554.1L1706.1 554.1L1709.5 554.3L1711.0 556.2L1713.0 558.8L1716.4 563.9L1719.9 563.9L1723.3 564.1L1724.6 566.3L1726.8 569.5L1730.2 574.5L1731.8 576.4Z" fill="#FF0000" fill-rule="evenodd" stroke="#FF0000" stroke-width="0.6"/>
<path d="M1737.2 569.4L1737.2 566.3L1737.2 556.2L1737.2 546.0L1737.2 535.9L1737.2 525.8L1737.2 515.7L1737.2 505.6L1737.2 495.5L1737.2 485.4L1737.2 475.3L1737.2 465.1L1737.2 455.0L1737.2 444.9L1737.2 434.8L1737.2 424.7L1737.2 414.6L1737.2 404.5L1737.2 394.4L1737.2 384.2L1737.2 374.1L1737.2 364.0L1737.2 353.9L1737.2 343.8L1737.2 333.7L1737.2 323.6L1737.2 313.5L1737.2 303.3L1737.2 293.2L1737.2 283.1L1737.2 273.0L1737.2 262.9L1737.2 252.8L1737.2 242.7L1737.2 232.6L1737.2 222.4L1737.2 212.3L1737.2 202.2L1737.2 192.1L1737.2 182.0L1737.2 171.9L1737.2 161.8L1737.2 151.7L1737.2 141.5L1737.2 131.4L1733.7 131.4L1730.2 131.4L1726.8 131.4L1723.3 131.4L1719.9 131.4L1716.4 131.4L1713.0 131.4L1709.5 131.4L1706.1 131.4L1702.6 131.4L1699.2 131.4L1695.7 131.4L1692.3 131.4L1688.8 131.4L1685.4 131.4L1681.9 131.4L1678.5 131.4L1675.0 131.4L1671.5 131.4L1668.1 131.4L1664.6 131.4L1661.2 131.4L1657.7 131.4L1654.3 131.4L1650.8 131.4L1647.4 131.4L1643.9 131.4L1640.5 131.4L1637.0 131.4L1633.6 131.4L1630.1 131.4L1626.7 131.4L1623.2 131.4L1619.8 131.4L1616.3 131.4L1612.8 131.4L1609.4 131.4L1605.9 131.4L1602.5 131.4L1599.0 131.4L1595.6 131.4L1592.1 131.4L1588.7 131.4L1585.2 131.4L1581.8 131.4L1578.3 131.4L1574.9 131.4L1571.4 131.4L1568.0 131.4L1564.5 131.4L1561.1 131.4L1557.6 131.4L1554.1 131.4L1550.7 131.4L1547.2 131.4L1543.8 131.4L1540.3 131.4L1536.9 131.4L1533.4 131.4L1530.0 131.4L1526.5 131.4L1523.1 131.4L1519.6 131.4L1516.2 131.4L1512.7 131.4L1509.3 131.4L1505.8 131.4L1502.4 131.4L1498.9 131.4L1495.4 131.4L1492.0 131.4L1488.5 131.4L1485.1 131.4L1481.6 131.4L1478.2 131.4L1474.7 131.4L1471.3 131.4L1467.8 131.4L1464.4 131.4L1460.9 131.4L1457.5 131.4L1454.0 131.4L1450.6 131.4L1447.1 131.4L1443.7 131.4L1440.2 131.4L1436.7 131.4L1433.3 131.4L1429.8 131.4L1426.4 131.4L1422.9 131.4L1419.5 131.4L1416.0 131.4L1412.6 131.4L1409.1 131.4L1405.7 131.4L1402.2 131.4L1398.8 131.4L1395.3 131.4L1391.9 131.4L1388.4 131.4L1385.0 131.4L1381.5 131.4L1378.1 131.4L1374.6 131.4L1371.1 131.4L1367.7 131.4L1364.2 131.4L1360.8 131.4L1357.3 131.4L1353.9 131.4L1350.4 131.4L1347.0 131.4L1343.5 131.4L1340.1 131.4L1336.6 131.4L1333.2 131.4L1329.7 131.4L1326.3 131.4L1322.8 131.4L1319.4 131.4L1315.9 131.4L1312.4 131.4L1309.0 131.4L1305.5 131.4L1302.1 131.4L1298.6 131.4L1295.2 131.4L1291.7 131.4L1288.3 131.4L1284.8 131.4L1281.4 131.4L1277.9 131.4L1274.5 131.4L1271.0 131.4L1267.6 131.4L1264.1 131.4L1260.7 131.4L1257.2 131.4L1253.7 131.4L1250.3 131.4L1246.8 131.4L1243.4 131.4L1239.9 131.4L1236.5 131.4L1233.0 131.4L1229.6 131.4L1226.1 131.4L1222.7 131.4L1219.2 131.4L1215.8 131.4L1212.3 131.4L1208.9 131.4L1205.4 131.4L1202.0 131.4L1198.5 131.4L1195.0 131.4L1191.6 131.4L1188.1 131.4L1184.7 131.4L1181.2 131.4L1177.8 131.4L1174.3 131.4L1170.9 131.4L1167.4 131.4L1164.0 131.4L1160.5 131.4L1157.1 131.4L1153.6 131.4L1150.2 131.4L1146.7 131.4L1143.3 131.4L1139.8 131.4L1136.3 131.4L1132.9 131.4L1129.4 131.4L1126.0 131.4L1126.0 141.5L1126.0 151.7L1126.0 161.8L1126.0 171.9L1126.0 182.0L1126.0 192.1L1126.0 202.2L1126.0 212.3L1126.0 222.4L1126.0 232.6L1126.0 242.7L1126.0 252.8L1126.0 262.9L1126.0 273.0L1126.0 283.1L1126.0 293.2L1126.0 303.3L1126.0 313.5L1126.0 323.6L1126.0 333.7L1126.0 343.8L1126.0 353.9L1126.0 364.0L1126.0 374.1L1126.0 377.2L1129.4 377.2L1132.9 377.2L1136.3 377.2L1139.8 377.2L1143.3 377.6L1146.7 378.2L1150.2 380.2L1153.0 384.2L1153.6 385.6L1157.1 386.1L1160.5 386.1L1163.8 394.4L1164.0 394.8L1167.0 404.5L1167.4 405.7L1170.9 406.4L1174.3 406.4L1177.7 414.6L1177.8 414.8L1180.8 424.7L1181.2 425.9L1184.6 434.8L1184.7 434.9L1188.1 440.7L1191.6 441.3L1195.0 441.3L1198.5 443.1L1200.4 444.9L1202.0 446.6L1205.4 447.2L1208.9 447.2L1212.3 454.8L1212.4 455.0L1215.8 458.9L1219.2 459.4L1222.7 459.4L1226.1 459.4L1229.6 459.4L1233.0 460.1L1236.5 461.4L1239.9 463.3L1241.9 465.1L1243.4 466.6L1246.8 467.5L1250.3 467.5L1253.7 474.2L1254.0 475.3L1256.6 485.4L1257.2 486.7L1260.7 494.4L1260.9 495.5L1264.1 501.2L1267.6 504.0L1269.4 505.6L1271.0 507.2L1274.5 508.3L1277.9 508.3L1281.4 514.3L1281.7 515.7L1284.8 519.4L1288.3 520.4L1291.7 520.4L1295.2 517.2L1296.1 515.7L1296.1 505.6L1296.1 495.5L1296.1 485.4L1296.6 475.3L1298.6 469.2L1300.8 465.1L1302.1 461.5L1303.5 455.0L1305.5 448.9L1309.0 447.2L1312.4 447.2L1315.3 444.9L1315.9 444.5L1319.4 441.8L1322.8 437.7L1324.3 434.8L1326.3 428.8L1328.4 424.7L1329.7 421.0L1330.9 414.6L1330.9 404.5L1331.2 394.4L1333.2 388.1L1335.2 384.2L1336.6 379.7L1337.6 374.1L1336.6 368.9L1334.7 364.0L1333.2 360.2L1330.0 353.9L1331.9 343.8L1333.2 338.9L1334.2 333.7L1336.6 326.2L1337.8 323.6L1340.1 319.9L1343.5 317.5L1347.0 315.6L1348.3 313.5L1350.4 310.3L1353.9 304.4L1354.6 303.3L1357.3 298.9L1360.8 294.3L1361.7 293.2L1360.8 290.8L1357.3 283.9L1356.8 283.1L1353.9 279.2L1350.4 275.8L1347.0 273.1L1346.9 273.0L1343.5 269.9L1340.1 265.5L1338.4 262.9L1336.6 258.7L1334.6 252.8L1336.6 247.9L1339.5 242.7L1340.1 241.8L1343.5 237.4L1347.0 234.2L1350.4 233.3L1353.9 233.3L1357.3 233.3L1360.8 233.3L1364.2 233.3L1367.7 233.3L1371.1 233.3L1374.6 233.3L1378.1 234.9L1381.5 238.3L1384.8 242.7L1385.0 243.0L1388.4 249.7L1389.6 252.8L1391.9 255.8L1395.3 259.1L1398.8 261.5L1401.4 262.9L1402.2 263.2L1405.7 263.8L1409.1 263.8L1412.6 263.8L1416.0 263.8L1419.5 263.8L1422.9 263.8L1426.4 263.8L1429.8 263.8L1433.3 264.2L1436.7 264.9L1440.2 265.7L1443.7 266.7L1447.1 267.8L1450.6 269.1L1454.0 270.7L1457.5 272.7L1457.9 273.0L1460.9 275.2L1464.4 278.5L1467.8 283.0L1467.9 283.1L1471.3 289.3L1472.8 293.2L1473.2 303.3L1473.2 313.5L1474.7 317.2L1475.9 323.6L1476.6 333.7L1478.2 340.7L1479.4 343.8L1481.6 348.0L1483.4 353.9L1485.1 361.2L1486.9 364.0L1488.5 365.7L1492.0 365.7L1495.4 365.7L1498.9 365.7L1502.4 364.0L1502.4 364.0L1505.8 361.1L1509.3 360.0L1512.7 360.0L1516.2 360.0L1519.6 360.0L1523.1 360.0L1526.5 360.0L1530.0 360.8L1532.3 364.0L1533.4 366.8L1535.1 374.1L1536.7 384.2L1536.9 385.3L1539.0 394.4L1540.3 396.6L1543.8 400.6L1547.2 400.6L1550.7 401.1L1554.1 403.6L1555.3 404.5L1557.6 406.4L1561.1 406.4L1564.5 406.4L1568.0 406.4L1571.4 408.0L1573.6 414.6L1574.9 420.5L1576.4 424.7L1578.3 428.3L1580.5 434.8L1581.8 443.9L1581.9 444.9L1582.8 455.0L1585.2 457.7L1588.7 458.1L1592.1 458.7L1595.6 461.2L1598.1 465.1L1599.0 467.5L1602.5 467.5L1605.9 468.8L1608.2 475.3L1609.4 477.4L1612.2 485.4L1612.8 487.9L1616.3 487.9L1619.8 487.9L1623.2 487.9L1626.7 488.9L1629.0 495.5L1630.1 496.9L1633.6 500.2L1637.0 501.2L1640.5 502.3L1643.9 502.3L1647.4 502.6L1650.8 505.1L1651.4 505.6L1654.3 508.3L1657.7 508.3L1661.2 508.3L1664.6 508.3L1668.1 508.9L1670.6 515.7L1671.5 517.2L1675.0 522.9L1678.5 525.3L1679.0 525.8L1681.9 528.6L1685.4 528.6L1688.8 528.6L1692.3 528.6L1695.7 529.0L1698.4 535.9L1699.2 537.2L1702.6 543.1L1706.1 543.1L1709.5 543.1L1713.0 545.6L1713.5 546.0L1716.4 549.0L1719.9 549.0L1723.3 549.1L1726.1 556.2L1726.8 557.2L1730.2 563.5L1733.7 565.9L1734.1 566.3Z" fill="#AA0000" fill-rule="evenodd" stroke="#AA0000" stroke-width="0.6"/>
<path d="M1126.0 494.7L1126.9 495.5L1126.0 497.1M1126.0 487.9L1129.4 489.9L1132.9 493.0L1134.9 495.5L1132.9 500.7L1130.3 505.6L1129.4 506.2L1126.0 508.3M1623.2 679.1L1621.6 677.5L1619.8 675.5L1616.3 670.4L1614.7 667.4L1612.8 662.8L1610.7 657.3L1609.4 654.3L1605.9 648.5L1605.0 647.2L1602.5 644.3L1599.0 641.3L1595.6 639.1L1592.3 637.1L1592.1 637.0L1588.7 628.7L1588.4 626.9L1587.1 616.8L1585.2 611.6L1581.8 610.1L1578.3 610.1L1574.9 610.1L1571.4 610.1L1569.0 606.7L1568.0 604.0L1566.3 596.6L1564.5 591.4L1561.1 589.7L1557.6 589.7L1554.1 589.7L1550.7 589.7L1548.3 586.5L1547.2 584.0L1545.5 576.4L1543.8 571.3L1540.3 569.4L1536.9 569.4L1533.4 569.4L1530.0 569.4L1527.1 566.3L1526.5 564.7L1525.3 556.2L1525.3 546.0L1525.3 535.9L1525.3 525.8L1525.9 515.7L1526.5 513.2L1530.0 508.3L1533.4 508.3L1536.9 508.3L1540.3 508.3L1543.8 508.3L1547.2 508.3L1550.7 509.6L1554.1 512.3L1557.6 513.4L1561.1 513.4L1564.5 513.4L1568.0 513.4L1571.4 514.5L1572.3 515.7L1574.9 523.5L1576.3 525.8L1578.3 528.6L1581.8 528.6L1585.2 530.1L1587.3 535.9L1588.7 542.4L1590.1 546.0L1592.1 549.0L1595.6 549.0L1599.0 549.0L1602.5 549.0L1605.9 550.2L1608.1 556.2L1609.4 562.3L1610.8 566.3L1612.8 569.4L1616.3 569.4L1619.8 569.4L1623.2 569.4L1626.7 570.4L1628.9 576.4L1629.5 586.5L1629.5 596.6L1629.5 606.7L1629.5 616.8L1630.1 623.0L1630.7 626.9L1633.6 634.3L1636.9 637.1L1637.0 637.3L1639.9 647.2L1639.9 657.3L1637.4 667.4L1637.0 668.1L1633.6 673.8L1630.5 677.5L1630.1 677.9L1626.7 680.9L1623.2 679.1M1737.2 885.1L1733.7 885.1L1730.2 885.1L1726.8 885.1L1723.3 885.1L1719.9 885.1L1716.4 885.1L1713.0 885.1L1709.5 885.1L1706.1 885.1L1702.6 885.1L1699.2 885.1L1695.7 885.1L1692.3 885.1L1688.8 885.1L1685.4 885.1L1681.9 885.1L1678.5 885.1L1675.0 885.1L1671.5 885.1L1668.1 885.1L1664.6 885.1L1661.2 885.1L1657.7 885.1L1654.3 885.1L1650.8 882.7L1648.0 879.8L1647.4 879.0L1643.9 873.8L1641.8 869.6L1640.5 862.7L1639.9 859.5L1639.9 849.4L1639.9 839.3L1639.9 829.2L1639.9 819.1L1639.9 809.0L1640.5 803.6L1643.9 803.6L1647.4 803.6L1650.8 803.6L1654.3 803.3L1657.7 800.3L1659.1 798.9L1661.2 796.3L1664.6 790.6L1665.5 788.7L1665.9 778.6L1664.6 775.9L1661.2 770.3L1659.8 768.5L1657.7 766.2L1654.3 763.2L1650.8 765.3L1647.8 768.5L1647.4 769.0L1643.9 774.1L1641.7 778.6L1640.5 786.0L1639.9 788.7L1639.9 798.9L1637.0 803.6L1633.6 803.6L1630.1 803.6L1626.7 803.6L1623.2 801.3L1620.8 798.9L1619.8 797.7L1616.3 792.6L1614.3 788.7L1612.8 785.1L1610.4 778.6L1609.4 776.5L1605.9 770.7L1604.3 768.5L1602.5 766.6L1599.0 763.5L1595.6 762.9L1592.1 762.9L1588.7 762.9L1585.2 762.9L1584.4 768.5L1584.4 778.6L1582.2 788.7L1581.8 789.7L1578.3 795.6L1575.7 798.9L1574.9 799.8L1571.4 802.9L1568.0 801.6L1565.2 798.9L1564.5 798.1L1561.1 793.2L1558.7 788.7L1558.4 778.6L1561.1 773.3L1564.5 768.5L1564.5 768.5L1568.0 764.9L1571.4 762.9L1574.9 762.9L1578.3 762.9L1581.8 762.9L1584.4 758.4L1584.4 748.3L1584.4 738.2L1584.4 728.1L1584.4 718.0L1584.4 707.8L1582.8 697.7L1581.8 695.4L1578.3 689.4L1577.0 687.6L1574.9 685.2L1571.4 682.1L1568.0 679.4L1566.0 677.5L1564.5 675.8L1561.1 671.0L1559.1 667.4L1557.6 663.6L1555.2 657.3L1554.1 655.0L1550.7 648.9L1549.4 647.2L1547.2 644.7L1543.8 641.5L1540.3 639.3L1536.9 637.2L1536.7 637.1L1533.4 635.6L1530.0 634.3L1526.5 629.8L1525.6 626.9L1523.6 616.8L1523.1 614.4L1519.6 606.8L1519.5 606.7L1516.2 601.8L1512.7 599.9L1509.3 599.9L1505.8 599.9L1502.4 599.9L1498.9 599.9L1495.4 599.9L1492.0 599.9L1488.5 599.9L1485.1 599.9L1481.6 599.9L1478.2 599.9L1474.7 599.9L1471.3 599.9L1467.8 599.9L1464.4 599.9L1460.9 599.9L1457.5 597.2L1457.1 596.6L1454.0 592.1L1450.6 587.0L1450.2 586.5L1448.0 576.4L1450.6 574.1L1454.0 568.7L1454.7 566.3L1456.5 556.2L1457.5 552.8L1460.9 549.0L1464.4 549.0L1467.8 549.0L1471.3 549.0L1474.7 549.0L1478.2 549.0L1481.6 549.0L1485.1 549.0L1488.5 546.4L1488.7 546.0L1490.6 535.9L1490.6 525.8L1491.1 515.7L1492.0 512.6L1495.4 505.8L1495.5 505.6L1498.1 495.5L1498.9 492.4L1502.4 487.9L1505.8 487.9L1509.3 487.9L1512.7 487.9L1516.2 487.9L1519.6 487.9L1523.1 487.9L1526.5 487.9L1530.0 487.9L1533.4 487.9L1536.9 487.9L1540.3 487.9L1543.8 489.3L1547.2 491.9L1550.7 494.3L1551.6 495.5L1554.1 499.7L1557.6 502.8L1561.1 502.8L1564.5 502.8L1568.0 502.8L1571.4 503.3L1574.9 505.5L1575.0 505.6L1578.3 508.3L1581.8 508.3L1585.2 508.3L1588.7 508.3L1592.1 510.7L1593.8 515.7L1595.6 522.8L1597.1 525.8L1599.0 528.6L1602.5 528.6L1605.9 529.6L1609.4 532.5L1612.8 534.0L1616.3 534.9L1619.8 535.5L1622.7 535.9L1623.2 536.1L1626.7 538.4L1630.1 544.3L1631.5 546.0L1633.6 550.0L1635.8 556.2L1637.0 561.7L1638.5 566.3L1640.5 569.4L1643.9 569.4L1647.4 569.4L1650.8 569.4L1654.3 569.4L1657.7 569.4L1661.2 569.4L1664.6 569.4L1668.1 569.9L1671.5 573.0L1675.0 574.9L1676.2 576.4L1678.5 583.1L1680.1 586.5L1681.9 589.7L1685.4 589.7L1688.8 590.6L1690.9 596.6L1692.3 602.5L1693.9 606.7L1695.7 610.1L1699.2 610.1L1702.6 610.7L1704.7 616.8L1706.1 626.8L1706.1 626.9L1707.2 637.1L1709.5 640.9L1713.0 645.8L1713.8 647.2L1716.4 651.0L1719.9 656.1L1720.7 657.3L1723.3 667.4L1723.3 677.5L1723.3 687.6L1723.3 697.7L1723.3 698.1L1725.7 707.8L1726.8 710.0L1730.2 715.4L1732.4 718.0L1733.7 719.3L1737.2 722.2M1126.0 480.3L1129.4 481.2L1132.9 482.4L1136.3 484.4L1137.6 485.4L1139.8 487.8L1142.8 495.5L1140.8 505.6L1139.8 508.4L1136.3 511.7L1132.9 513.4L1129.4 514.4L1126.0 515.1M1568.0 883.1L1564.7 879.8L1564.5 879.5L1561.1 874.7L1558.5 869.6L1558.6 859.5L1561.1 854.8L1564.5 849.9L1564.9 849.4L1568.0 846.4L1571.4 845.1L1574.9 848.2L1576.0 849.4L1578.3 852.4L1581.8 858.3L1582.3 859.5L1582.5 869.6L1581.8 871.1L1578.3 877.1L1576.2 879.8L1574.9 881.3L1571.4 884.4L1568.0 883.1M1126.0 1414.7L1127.3 1415.7L1129.4 1417.6L1132.9 1421.5L1135.8 1425.8L1136.3 1427.0L1139.6 1435.9L1136.3 1443.3L1134.8 1446.1L1132.9 1448.7L1129.4 1452.6L1126.0 1455.5M1737.2 1088.8L1733.7 1085.9L1730.2 1082.1L1730.2 1082.0L1726.8 1076.7L1724.6 1071.9L1723.3 1068.6L1720.6 1061.8L1719.9 1060.5L1716.4 1055.0L1713.6 1051.7L1713.0 1051.1L1709.5 1048.2L1706.1 1048.1L1702.6 1048.1L1699.2 1048.1L1695.7 1048.1L1692.3 1048.1L1688.8 1048.1L1685.4 1048.1L1681.9 1048.1L1678.5 1045.5L1675.0 1041.7L1674.9 1041.6L1671.5 1036.5L1669.1 1031.4L1668.1 1024.3L1667.7 1021.3L1667.7 1011.2L1667.7 1001.1L1667.7 991.0L1665.3 980.9L1664.6 979.6L1661.2 973.9L1658.5 970.8L1657.7 969.9L1654.3 966.9L1650.8 966.6L1647.4 966.6L1643.9 966.6L1640.5 966.6L1637.0 966.6L1633.6 966.6L1630.1 966.6L1626.7 966.6L1623.2 966.6L1619.8 966.6L1616.3 966.6L1612.8 966.6L1609.4 966.6L1605.9 966.6L1602.5 966.6L1599.0 966.6L1595.6 964.4L1592.1 960.8L1592.0 960.7L1588.7 955.9L1586.0 950.5L1585.2 948.5L1582.1 940.4L1581.8 939.8L1578.3 933.9L1575.5 930.3L1574.9 929.7L1571.4 926.6L1568.0 925.8L1564.5 925.8L1561.1 925.8L1557.6 925.8L1554.1 925.8L1550.7 925.8L1547.2 925.8L1543.8 925.8L1540.3 924.0L1536.9 920.5L1536.7 920.2L1533.4 915.7L1530.6 910.1L1530.0 908.5L1526.6 900.0L1526.5 899.7L1523.1 893.6L1520.2 889.9L1519.6 889.3L1516.2 886.1L1512.7 885.1L1509.3 885.1L1505.8 885.1L1502.4 885.1L1498.9 885.1L1495.4 885.1L1492.0 885.1L1488.5 885.1L1485.1 883.5L1481.6 880.1L1481.4 879.8L1478.2 875.4L1475.1 869.6L1475.3 859.5L1478.2 854.0L1481.6 849.4L1481.6 849.4L1485.1 846.0L1488.5 844.4L1492.0 844.4L1495.4 844.4L1498.9 844.4L1502.4 844.4L1505.8 844.4L1509.3 844.4L1512.7 844.4L1516.2 843.4L1519.6 840.2L1520.4 839.3L1523.1 835.9L1526.5 829.7L1526.8 829.2L1528.8 819.1L1528.8 809.0L1528.8 798.9L1528.8 788.7L1528.8 778.6L1528.8 768.5L1528.8 758.4L1528.8 748.3L1527.1 738.2L1526.5 736.8L1523.1 730.6L1521.2 728.1L1519.6 726.3L1516.2 723.1L1512.7 720.4L1510.2 718.0L1509.3 716.9L1505.8 712.2L1503.5 707.8L1502.4 705.2L1499.5 697.7L1498.9 696.4L1495.4 690.1L1493.6 687.6L1492.0 685.7L1488.5 682.5L1485.1 679.8L1482.7 677.5L1481.6 676.4L1478.2 671.7L1475.8 667.4L1474.7 664.8L1471.8 657.3L1471.3 656.0L1467.8 649.6L1466.1 647.2L1464.4 645.2L1460.9 641.9L1457.5 639.2L1455.2 637.1L1454.0 635.8L1450.6 631.2L1448.2 626.9L1447.1 625.1L1443.7 618.1L1443.1 616.8L1440.2 612.6L1436.7 607.5L1436.2 606.7L1433.3 602.5L1429.8 598.6L1427.7 596.6L1426.4 595.3L1422.9 590.8L1420.5 586.5L1419.5 584.6L1416.0 578.1L1415.1 576.4L1412.6 574.1L1409.1 568.7L1408.5 566.3L1407.9 556.2L1409.1 552.1L1412.2 546.0L1412.6 545.2L1414.8 535.9L1416.0 531.8L1419.5 528.6L1422.9 528.6L1425.9 525.8L1426.4 524.9L1428.1 515.7L1428.1 505.6L1428.6 495.5L1429.8 491.3L1433.3 487.9L1436.7 487.9L1440.2 487.9L1443.7 487.9L1447.1 487.9L1450.6 487.9L1454.0 487.9L1457.5 487.9L1460.9 487.9L1464.4 487.9L1467.8 487.9L1471.3 487.9L1474.7 487.9L1478.2 487.9L1481.6 487.9L1485.1 487.9L1488.5 485.4L1488.5 485.2L1490.1 475.3L1488.5 470.1L1485.9 465.1L1485.1 461.7L1484.1 455.0L1485.1 451.4L1488.5 447.2L1492.0 447.2L1495.4 447.2L1498.9 447.2L1502.4 447.2L1505.8 447.2L1509.3 447.2L1512.7 447.2L1516.2 444.9L1516.2 444.9L1518.8 434.8L1519.6 431.6L1523.1 430.4L1524.6 434.8L1526.5 442.5L1528.1 444.9L1530.0 447.2L1533.4 447.2L1536.9 450.5L1538.4 455.0L1540.3 462.6L1541.5 465.1L1543.8 469.4L1545.7 475.3L1547.2 478.3L1550.7 482.5L1554.1 485.2L1554.3 485.4L1557.6 487.9L1561.1 487.9L1564.5 487.9L1568.0 487.9L1571.4 487.9L1574.9 487.9L1578.3 487.9L1581.8 487.9L1585.2 489.0L1588.7 491.8L1592.1 494.6L1592.7 495.5L1595.6 502.3L1597.5 505.6L1599.0 509.3L1602.5 512.1L1605.9 514.8L1606.5 515.7L1609.4 521.1L1612.8 524.6L1614.6 525.8L1616.3 527.1L1619.8 529.0L1623.2 530.3L1626.7 531.5L1630.1 533.4L1633.6 535.5L1636.6 535.9L1637.0 536.1L1640.5 537.1L1643.9 537.1L1647.4 538.3L1650.8 544.3L1652.2 546.0L1654.3 549.7L1657.7 552.7L1661.2 554.3L1664.6 555.2L1668.0 556.2L1668.1 556.2L1671.5 561.3L1675.0 564.7L1678.5 566.2L1678.5 566.3L1681.9 569.8L1685.4 573.0L1688.8 574.9L1689.8 576.4L1692.3 581.8L1694.5 586.5L1695.7 589.7L1699.2 589.7L1702.6 590.3L1704.8 596.6L1706.1 600.5L1708.3 606.7L1709.5 610.1L1713.0 610.1L1716.4 610.3L1719.9 613.6L1723.3 615.3L1724.4 616.8L1726.8 624.4L1727.9 626.9L1730.2 633.9L1733.7 636.6L1734.2 637.1L1737.2 640.7M1126.0 467.5L1129.4 467.5L1132.9 467.5L1136.3 467.5L1139.8 467.5L1143.3 470.9L1146.7 472.6L1148.8 475.3L1150.2 484.3L1150.3 485.4L1150.3 495.5L1150.2 496.5L1148.3 505.6L1146.7 508.6L1144.3 515.7L1145.3 525.8L1146.7 528.5L1150.2 528.6L1153.6 528.6L1157.1 528.6L1160.5 528.6L1163.6 535.9L1162.2 546.0L1160.5 549.3L1157.9 556.2L1158.5 566.3L1160.5 572.4L1164.0 575.3L1165.1 576.4L1167.4 580.8L1170.5 586.5L1170.9 587.2L1174.3 592.8L1177.7 596.6L1177.8 596.7L1181.2 599.7L1184.7 602.5L1188.1 606.3L1188.5 606.7L1191.6 611.5L1194.1 616.8L1195.0 619.3L1198.1 626.9L1198.5 627.7L1202.0 633.3L1205.1 637.1L1205.4 637.3L1208.9 640.3L1212.3 643.1L1215.8 646.8L1216.1 647.2L1219.2 651.9L1221.8 657.3L1220.7 667.4L1219.2 670.2L1215.8 675.3L1213.8 677.5L1212.3 679.0L1208.9 681.4L1205.4 681.4L1202.0 681.4L1198.5 681.4L1195.0 681.4L1191.6 681.4L1188.1 681.4L1184.7 681.4L1181.2 681.2L1177.8 678.2L1177.1 677.5L1174.3 674.3L1170.9 668.7L1170.2 667.4L1167.4 660.4L1166.2 657.3L1164.0 652.5L1160.5 647.2L1160.5 647.2L1157.1 643.4L1153.6 640.7L1150.2 640.7L1146.7 640.7L1143.3 640.7L1139.8 640.7L1136.3 640.7L1132.9 640.7L1129.4 640.7L1126.0 640.7M1260.7 881.4L1259.1 879.8L1257.2 877.3L1253.7 871.5L1252.9 869.6L1253.0 859.5L1253.7 858.0L1257.2 852.2L1259.4 849.4L1260.7 848.0L1264.1 845.0L1267.6 846.5L1270.4 849.4L1271.0 850.1L1274.5 855.1L1276.7 859.5L1276.9 869.6L1274.5 874.4L1271.0 879.3L1270.7 879.8L1267.6 882.9L1264.1 884.5L1260.7 881.4M1260.7 677.7L1260.4 677.5L1257.2 673.6L1253.7 667.8L1253.6 667.4L1251.0 657.3L1251.0 647.2L1251.0 637.1L1251.0 626.9L1251.0 616.8L1251.0 606.7L1251.0 596.6L1251.0 586.5L1252.4 576.4L1253.7 569.7L1254.1 566.3L1256.3 556.2L1257.2 555.0L1260.7 554.9L1264.1 555.7L1264.8 556.2L1267.6 561.8L1269.6 566.3L1271.0 570.9L1274.5 574.7L1276.2 576.4L1277.9 579.6L1281.4 586.1L1281.6 586.5L1284.8 591.9L1288.3 596.1L1288.8 596.6L1291.7 599.2L1295.2 599.9L1298.6 599.9L1302.1 599.9L1305.5 599.9L1309.0 599.9L1312.4 599.9L1315.9 599.9L1319.4 599.9L1322.8 603.4L1325.1 606.7L1326.3 608.4L1329.7 613.5L1332.0 616.8L1331.6 626.9L1329.7 630.5L1326.3 635.3L1324.6 637.1L1322.8 638.8L1319.4 640.7L1315.9 640.7L1312.4 640.7L1309.0 640.7L1305.5 640.7L1302.1 640.7L1298.6 640.7L1295.2 640.7L1291.7 641.4L1288.3 644.5L1285.9 647.2L1284.8 648.7L1281.4 654.6L1280.2 657.3L1277.9 663.2L1276.2 667.4L1274.5 670.7L1271.0 675.7L1269.4 677.5L1267.6 679.2L1264.1 680.8L1260.7 677.7M1126.0 1384.2L1129.4 1383.5L1132.9 1382.7L1136.3 1381.8L1139.8 1380.8L1143.3 1379.6L1146.7 1378.1L1150.2 1376.3L1151.9 1375.3L1153.6 1374.1L1157.1 1374.0L1160.5 1374.0L1164.0 1374.0L1167.4 1374.0L1170.9 1374.0L1174.3 1374.0L1177.8 1374.0L1181.2 1374.0L1184.7 1374.0L1188.1 1374.0L1191.6 1374.0L1195.0 1374.0L1198.5 1374.0L1202.0 1374.0L1205.4 1374.0L1208.9 1374.0L1209.9 1375.3L1212.3 1378.3L1215.8 1383.4L1217.1 1385.4L1219.2 1389.4L1222.4 1395.5L1219.2 1400.2L1215.8 1405.3L1215.5 1405.6L1212.3 1410.3L1208.9 1415.1L1208.0 1415.7L1205.4 1418.1L1202.0 1422.1L1199.5 1425.8L1198.5 1427.6L1195.0 1435.4L1194.8 1435.9L1191.6 1440.7L1188.1 1445.8L1188.0 1446.1L1184.7 1450.8L1181.2 1455.7L1180.6 1456.2L1177.8 1458.6L1174.3 1462.6L1171.9 1466.3L1170.9 1468.3L1167.7 1476.4L1167.7 1486.5L1167.7 1496.6L1167.7 1506.7L1167.7 1516.8L1167.7 1527.0L1167.7 1537.1L1167.7 1547.2L1167.7 1557.3M1737.2 1129.5L1733.7 1129.5L1730.2 1129.5L1726.8 1129.5L1723.3 1129.5L1719.9 1129.5L1716.4 1129.5L1713.0 1129.5L1709.5 1129.5L1706.1 1129.5L1702.6 1129.5L1699.2 1129.5L1695.7 1129.5L1692.3 1129.5L1688.8 1129.5L1685.4 1129.5L1681.9 1129.5L1678.5 1129.5L1675.0 1129.5L1671.5 1129.5L1668.1 1129.5L1664.6 1129.5L1661.2 1129.5L1657.7 1129.5L1654.3 1129.5L1650.8 1129.5L1647.4 1129.5L1643.9 1129.5L1640.5 1129.5L1637.0 1129.5L1633.6 1129.5L1630.1 1129.5L1626.7 1129.5L1623.2 1127.2L1619.8 1123.6L1618.9 1122.5L1616.3 1118.6L1613.3 1112.3L1612.8 1111.1L1609.4 1102.5L1609.3 1102.2L1605.9 1096.6L1602.5 1092.5L1602.1 1092.1L1599.0 1089.4L1595.6 1086.6L1592.1 1083.0L1591.3 1082.0L1588.7 1078.1L1585.7 1071.9L1585.2 1070.7L1581.8 1062.1L1581.7 1061.8L1578.3 1056.1L1574.9 1051.9L1574.7 1051.7L1571.4 1048.8L1568.0 1046.0L1564.5 1042.5L1563.7 1041.6L1561.1 1037.6L1558.0 1031.4L1557.6 1030.4L1554.1 1021.7L1554.0 1021.3L1550.7 1015.6L1547.2 1011.3L1547.2 1011.2L1543.8 1008.2L1540.3 1007.3L1536.9 1007.3L1533.4 1007.3L1530.0 1007.3L1526.5 1007.3L1523.1 1007.3L1519.6 1007.3L1516.2 1007.3L1512.7 1007.3L1509.3 1007.3L1505.8 1007.3L1502.4 1007.3L1498.9 1007.3L1495.4 1007.3L1492.0 1007.3L1488.5 1007.3L1485.1 1005.7L1481.6 1002.3L1480.6 1001.1L1478.2 997.6L1474.8 991.0L1474.7 990.9L1471.3 982.0L1470.8 980.9L1467.8 975.5L1464.4 971.1L1464.1 970.8L1460.9 967.8L1457.5 966.6L1454.0 966.6L1450.6 966.6L1447.1 966.6L1443.7 966.6L1440.2 966.6L1436.7 966.6L1433.3 966.6L1429.8 966.6L1426.4 966.6L1422.9 966.6L1419.5 966.6L1416.0 966.6L1412.6 966.6L1409.1 966.6L1405.7 966.6L1402.2 967.8L1399.1 970.8L1398.8 971.1L1395.3 975.5L1392.3 980.9L1391.9 982.0L1388.4 990.9L1388.4 991.0L1385.0 997.6L1382.5 1001.1L1381.5 1002.3L1378.1 1005.7L1374.6 1005.3L1371.8 1001.1L1371.1 1000.2L1367.7 995.1L1364.9 991.0L1364.2 989.6L1360.8 982.8L1359.7 980.9L1357.3 976.5L1353.9 971.8L1353.0 970.8L1350.4 968.3L1347.0 966.6L1343.5 966.6L1340.1 966.6L1336.6 966.6L1333.2 966.6L1329.7 966.6L1326.3 966.6L1322.8 966.6L1319.4 966.6L1315.9 966.6L1312.4 966.6L1309.0 966.6L1305.5 966.6L1302.1 966.6L1298.6 966.6L1295.2 966.6L1291.7 966.6L1288.3 966.6L1284.8 966.6L1281.4 966.6L1277.9 966.6L1274.5 966.6L1271.0 966.6L1267.6 966.6L1264.1 966.6L1260.7 966.6L1257.2 966.6L1253.7 966.6L1250.3 966.6L1246.8 966.6L1243.4 966.6L1239.9 966.6L1236.5 966.1L1233.0 963.1L1230.9 960.7L1229.6 959.0L1226.1 953.3L1224.9 950.5L1222.7 944.8L1220.9 940.4L1219.2 937.1L1215.8 932.0L1214.3 930.3L1212.3 928.3L1208.9 925.5L1205.4 922.5L1203.3 920.2L1202.0 918.5L1198.5 912.8L1197.2 910.1L1195.0 904.5L1193.3 900.0L1191.6 896.6L1188.1 891.4L1186.8 889.9L1184.7 887.7L1181.2 884.9L1177.8 881.9L1175.8 879.8L1174.3 878.0L1170.9 872.4L1169.6 869.6L1167.7 859.5L1167.7 849.4L1167.7 839.3L1167.7 829.2L1167.7 819.1L1167.7 809.0L1167.7 798.9L1167.7 788.7L1167.4 787.3L1165.9 778.6L1164.0 774.7L1160.5 769.4L1159.8 768.5L1157.1 765.6L1153.6 762.7L1150.7 758.4L1150.2 757.6L1146.7 752.5L1143.8 748.3L1143.3 746.8L1139.9 738.2L1139.9 728.1L1139.9 718.0L1139.9 707.8L1139.8 707.3L1138.3 697.7L1136.3 693.5L1132.9 688.2L1132.5 687.6L1129.4 684.3L1126.0 681.4M1126.0 452.3L1129.4 452.3L1132.9 452.3L1136.3 450.6L1139.8 447.3L1142.9 455.0L1143.3 455.7L1146.7 461.5L1150.2 463.7L1151.6 465.1L1153.6 467.3L1157.1 467.5L1160.5 467.5L1164.0 467.5L1167.4 467.5L1170.6 475.3L1170.9 476.4L1173.2 485.4L1174.3 487.5L1177.8 487.9L1181.2 487.9L1184.5 495.5L1184.7 496.4L1187.1 505.6L1188.1 507.7L1191.6 508.3L1195.0 508.3L1198.5 508.3L1202.0 508.3L1205.4 508.3L1208.9 508.3L1212.3 508.3L1215.8 508.3L1219.2 508.3L1222.7 508.3L1226.1 515.6L1226.2 515.7L1228.7 525.8L1229.6 527.7L1233.0 535.8L1233.1 535.9L1235.5 546.0L1236.5 548.0L1239.9 549.0L1243.4 549.0L1246.8 549.0L1250.3 549.0L1253.7 546.1L1253.8 546.0L1257.2 544.2L1260.0 546.0L1260.7 546.4L1264.1 548.6L1267.6 550.5L1271.0 553.2L1274.5 554.1L1277.9 554.1L1280.1 556.2L1281.4 558.4L1284.8 565.7L1285.6 566.3L1288.3 568.0L1291.7 569.0L1295.2 569.4L1298.6 569.4L1302.1 569.4L1305.5 569.4L1309.0 569.4L1312.4 569.4L1315.9 569.4L1319.4 569.4L1322.8 572.8L1326.3 575.9L1327.2 576.4L1329.7 578.6L1333.2 581.3L1336.6 583.9L1339.1 586.5L1340.1 588.0L1343.5 593.0L1346.0 596.6L1347.0 598.1L1350.4 603.2L1352.9 606.7L1353.9 608.2L1357.3 613.3L1359.8 616.8L1360.8 619.2L1364.2 625.9L1364.8 626.9L1367.7 632.0L1371.1 636.3L1371.8 637.1L1374.6 639.6L1378.1 639.1L1380.2 637.1L1381.5 635.7L1385.0 631.0L1387.2 626.9L1388.4 624.3L1391.0 616.8L1391.9 613.6L1393.4 606.7L1395.0 596.6L1395.3 594.3L1396.2 586.5L1397.8 576.4L1398.8 571.8L1399.6 566.3L1400.3 556.2L1400.3 546.0L1400.9 535.9L1402.2 531.6L1405.2 525.8L1405.7 524.5L1407.3 515.7L1407.3 505.6L1406.8 495.5L1405.7 491.7L1402.5 485.4L1402.2 484.8L1400.3 475.3L1400.3 465.1L1399.9 455.0L1398.8 451.1L1395.7 444.9L1395.3 443.8L1393.8 434.8L1395.3 429.7L1398.8 426.8L1402.2 426.8L1405.7 426.8L1409.1 426.8L1412.6 426.8L1416.0 426.8L1419.5 430.4L1420.7 434.8L1422.9 443.7L1423.8 444.9L1426.4 447.2L1429.8 447.2L1433.3 447.2L1436.7 447.2L1440.2 447.2L1443.7 447.2L1447.1 447.2L1450.6 447.2L1453.2 444.9L1454.0 444.2L1457.1 434.8L1457.5 434.3L1460.9 431.9L1464.4 431.9L1467.8 431.3L1471.3 429.0L1474.7 426.8L1478.2 426.8L1481.6 426.8L1485.1 426.8L1488.5 426.8L1492.0 426.8L1495.4 426.8L1498.9 426.8L1502.0 424.7L1502.4 424.2L1504.1 414.6L1502.4 408.8L1500.0 404.5L1500.6 394.4L1502.4 393.6L1505.8 393.2L1509.3 394.0L1509.7 394.4L1512.7 402.6L1513.8 404.5L1516.2 408.0L1519.6 410.5L1523.1 413.3L1523.9 414.6L1526.5 420.9L1528.3 424.7L1530.0 428.3L1533.4 430.9L1536.9 433.6L1537.7 434.8L1540.3 441.1L1542.2 444.9L1543.8 448.6L1547.2 451.2L1550.7 452.6L1554.1 453.5L1557.6 454.0L1561.1 454.0L1564.5 454.9L1564.6 455.0L1568.0 463.3L1568.9 465.1L1571.4 469.7L1574.9 473.2L1578.3 474.6L1581.4 475.3L1581.8 475.4L1585.2 477.4L1588.7 481.0L1592.0 485.4L1592.1 485.5L1595.6 492.5L1598.4 495.5L1599.0 496.7L1602.5 500.8L1605.9 505.6L1605.9 505.6L1609.4 512.8L1612.1 515.7L1612.8 516.7L1616.3 519.7L1619.8 522.3L1623.2 524.5L1625.6 525.8L1626.7 526.3L1630.1 527.4L1633.6 528.9L1637.0 530.3L1640.5 531.2L1643.9 531.2L1647.4 531.6L1650.8 534.1L1653.4 535.9L1654.3 537.3L1657.7 541.3L1661.2 544.6L1663.0 546.0L1664.6 547.3L1668.1 549.4L1671.5 552.8L1675.0 555.9L1677.1 556.2L1678.5 556.4L1681.9 557.6L1685.4 561.5L1688.8 564.9L1689.9 566.3L1692.3 569.8L1695.7 574.6L1699.2 575.5L1702.6 576.3L1702.7 576.4L1706.1 582.1L1708.3 586.5L1709.5 590.0L1713.0 593.2L1716.4 595.0L1717.8 596.6L1719.9 600.1L1723.3 604.8L1724.4 606.7L1726.8 610.2L1730.2 615.2L1733.7 615.2L1737.2 615.2M1509.3 1450.3L1506.1 1446.1L1505.8 1445.5L1502.4 1438.7L1501.3 1435.9L1502.4 1432.7L1505.1 1425.8L1505.8 1424.6L1509.3 1419.9L1512.7 1416.5L1516.0 1415.7L1516.2 1415.7L1516.2 1415.7L1519.6 1418.9L1523.1 1423.2L1524.7 1425.8L1526.5 1430.4L1528.2 1435.9L1526.5 1438.4L1523.1 1443.5L1521.3 1446.1L1519.6 1448.5L1516.2 1453.6L1512.7 1453.7L1509.3 1450.3M1398.8 921.4L1402.2 924.6L1405.7 924.4L1409.1 921.0L1409.8 920.2L1412.6 916.4L1415.9 910.1L1416.0 909.8L1419.5 900.9L1419.8 900.0L1422.9 894.3L1426.3 889.9L1426.4 889.8L1429.8 886.5L1433.3 883.8L1436.7 880.4L1437.3 879.8L1440.2 875.9L1443.6 869.6L1443.7 869.2L1445.5 859.5L1445.5 849.4L1445.5 839.3L1445.5 829.2L1445.5 819.1L1445.5 809.0L1445.5 798.9L1445.5 788.7L1445.5 778.6L1445.5 768.5L1445.5 758.4L1445.5 748.3L1445.5 738.2L1445.5 728.1L1445.5 718.0L1445.5 707.8L1443.9 697.7L1443.7 697.1L1440.2 690.6L1438.1 687.6L1436.7 686.1L1433.3 682.8L1429.8 681.4L1426.4 681.4L1422.9 681.4L1419.5 681.4L1416.0 681.4L1412.6 681.4L1409.1 681.4L1405.7 681.4L1402.2 681.4L1398.8 681.4L1395.3 681.4L1391.9 681.4L1388.4 681.4L1385.0 681.4L1381.5 681.4L1378.1 681.4L1374.6 682.5L1371.1 685.7L1369.5 687.6L1367.7 690.1L1364.2 696.4L1363.7 697.7L1360.8 705.2L1359.7 707.8L1357.3 712.2L1353.9 716.9L1353.0 718.0L1350.4 720.4L1347.0 723.1L1343.5 726.3L1342.0 728.1L1340.1 730.6L1336.6 736.8L1336.0 738.2L1333.2 745.5L1332.0 748.3L1329.7 752.7L1326.3 757.5L1325.5 758.4L1322.8 761.0L1319.4 763.7L1315.9 766.9L1314.4 768.5L1312.4 771.1L1309.0 777.2L1308.3 778.6L1308.7 788.7L1309.0 789.3L1312.4 795.4L1315.2 798.9L1315.9 799.6L1319.4 802.8L1322.8 803.6L1326.3 803.6L1329.7 803.6L1333.2 803.6L1336.6 803.6L1340.1 803.6L1343.5 803.6L1347.0 803.6L1350.4 805.4L1353.9 808.8L1354.0 809.0L1357.3 813.6L1360.2 819.1L1360.8 820.6L1364.2 829.2L1364.2 829.4L1367.7 835.7L1370.5 839.3L1371.1 840.0L1374.6 843.3L1378.1 846.0L1381.5 849.4L1381.5 849.4L1385.0 854.0L1387.9 859.5L1388.4 862.0L1389.9 869.6L1389.9 879.8L1389.9 889.9L1389.9 900.0L1391.7 910.1L1391.9 910.5L1395.3 916.9L1397.8 920.2L1398.8 921.4M1126.0 1363.8L1129.4 1361.8L1132.9 1359.5L1136.3 1356.8L1138.3 1355.0L1139.8 1345.5L1139.9 1344.9L1139.9 1334.8L1139.9 1324.7L1139.9 1314.6L1139.9 1304.5L1139.9 1294.4L1139.9 1284.3L1139.9 1274.1L1143.3 1264.2L1143.3 1264.0L1146.7 1258.7L1150.2 1254.8L1151.1 1253.9L1153.6 1251.9L1155.1 1253.9L1157.1 1256.6L1160.5 1261.7L1162.1 1264.0L1164.0 1267.1L1167.4 1272.7L1168.4 1274.1L1170.9 1279.8L1173.6 1284.3L1174.3 1285.3L1177.8 1289.3L1181.2 1292.3L1183.9 1294.4L1184.7 1295.1L1188.1 1298.8L1191.6 1304.0L1191.8 1304.5L1195.0 1311.8L1196.1 1314.6L1198.5 1320.2L1201.1 1324.7L1202.0 1325.9L1205.4 1329.9L1208.9 1332.9L1211.3 1334.8L1212.3 1335.7L1215.8 1339.4L1219.2 1344.5L1219.5 1344.9L1222.7 1351.2L1224.2 1355.0L1226.1 1357.9L1229.6 1362.9L1231.1 1365.2L1233.0 1368.0L1236.5 1373.1L1238.9 1375.3L1239.9 1376.3L1243.4 1379.9L1246.8 1385.0L1247.1 1385.4L1250.3 1393.4L1251.0 1395.5L1251.0 1405.6L1250.3 1414.7L1246.8 1414.7L1243.4 1414.7L1239.9 1414.7L1236.5 1415.6L1236.4 1415.7L1233.0 1420.7L1229.6 1425.8L1229.5 1425.8L1226.1 1431.1L1222.9 1435.9L1222.7 1436.6L1219.2 1444.2L1218.1 1446.1L1215.8 1449.3L1212.3 1453.0L1208.9 1456.1L1208.8 1456.2L1205.4 1461.2L1202.0 1466.3L1201.9 1466.3L1198.5 1471.6L1195.4 1476.4L1195.4 1486.5L1195.4 1496.6L1195.4 1506.7L1195.4 1516.8L1195.4 1527.0L1195.4 1537.1L1195.4 1547.2L1195.4 1557.3M1737.2 1211.0L1733.7 1208.1L1730.2 1204.3L1729.6 1203.4L1726.8 1198.9L1724.2 1193.2L1723.3 1190.9L1720.1 1183.1L1719.9 1182.7L1716.4 1177.2L1713.0 1173.3L1712.7 1173.0L1709.5 1170.4L1706.1 1170.3L1702.6 1170.3L1699.2 1170.3L1695.7 1170.3L1692.3 1170.3L1688.8 1170.3L1685.4 1170.3L1681.9 1170.3L1678.5 1170.3L1675.0 1170.3L1671.5 1170.3L1668.1 1170.3L1664.6 1170.3L1661.2 1170.3L1657.7 1170.3L1654.3 1170.3L1650.8 1170.3L1647.4 1170.3L1643.9 1170.3L1640.5 1170.3L1637.0 1170.3L1633.6 1170.3L1630.1 1170.3L1626.7 1170.3L1623.2 1170.3L1619.8 1170.3L1616.3 1170.3L1612.8 1170.3L1609.4 1170.3L1605.9 1170.3L1602.5 1170.3L1599.0 1170.3L1595.6 1166.4L1593.2 1162.9L1592.1 1161.3L1588.7 1156.2L1586.3 1152.8L1585.2 1150.2L1581.8 1143.4L1581.4 1142.7L1578.3 1137.6L1574.9 1133.4L1574.1 1132.6L1571.4 1130.3L1568.0 1127.5L1564.5 1124.0L1563.3 1122.5L1561.1 1119.1L1557.8 1112.3L1557.6 1111.9L1554.1 1103.2L1553.7 1102.2L1550.7 1097.0L1547.2 1092.8L1546.6 1092.1L1543.8 1089.6L1540.3 1088.8L1536.9 1088.8L1533.4 1088.8L1530.0 1088.8L1526.5 1088.8L1523.1 1088.8L1519.6 1088.8L1516.2 1088.8L1512.7 1088.8L1509.3 1088.8L1505.8 1088.8L1502.4 1088.8L1498.9 1088.8L1495.4 1088.8L1492.0 1088.8L1488.5 1088.8L1485.1 1088.8L1481.6 1088.8L1478.2 1088.8L1474.7 1088.8L1471.3 1088.8L1467.8 1088.8L1464.4 1088.8L1460.9 1088.8L1457.5 1087.3L1454.0 1084.0L1452.4 1082.0L1450.6 1079.4L1447.1 1072.8L1446.8 1071.9L1443.7 1063.9L1442.8 1061.8L1440.2 1057.2L1436.7 1052.7L1435.8 1051.7L1433.3 1049.4L1429.8 1048.1L1426.4 1048.1L1422.9 1048.1L1419.5 1048.1L1416.0 1048.1L1412.6 1048.1L1409.1 1048.1L1405.7 1048.1L1402.2 1048.1L1398.8 1048.1L1395.3 1048.1L1391.9 1048.1L1388.4 1048.1L1385.0 1048.1L1381.5 1048.1L1378.1 1048.1L1374.6 1047.0L1371.1 1043.7L1369.3 1041.6L1367.7 1039.4L1364.2 1033.1L1363.5 1031.4L1360.8 1026.9L1357.8 1021.3L1357.3 1020.7L1353.9 1015.6L1350.9 1011.2L1350.4 1010.5L1347.0 1008.3L1343.8 1011.2L1343.5 1011.5L1340.1 1015.8L1336.9 1021.3L1336.6 1022.0L1333.2 1030.8L1332.9 1031.4L1329.7 1037.9L1327.2 1041.6L1326.3 1042.7L1322.8 1046.2L1319.4 1047.2L1315.9 1044.1L1313.7 1041.6L1312.4 1039.8L1309.0 1033.8L1308.0 1031.4L1305.5 1025.1L1304.0 1021.3L1302.1 1017.8L1298.6 1012.9L1297.1 1011.2L1295.2 1009.3L1291.7 1007.3L1288.3 1007.3L1284.8 1007.3L1281.4 1007.3L1277.9 1007.3L1274.5 1007.3L1271.0 1007.3L1267.6 1007.3L1264.1 1007.3L1260.7 1007.3L1257.2 1007.3L1253.7 1007.3L1250.3 1007.3L1246.8 1007.3L1243.4 1007.3L1239.9 1007.3L1236.5 1007.3L1233.0 1007.3L1229.6 1007.3L1226.1 1007.3L1222.7 1007.3L1219.2 1007.3L1215.8 1007.3L1212.3 1007.3L1208.9 1007.3L1205.4 1007.3L1202.0 1007.3L1198.5 1007.3L1195.0 1007.3L1191.6 1007.3L1188.1 1007.3L1184.7 1007.3L1181.2 1007.3L1177.8 1007.3L1174.3 1007.3L1170.9 1007.3L1167.7 1011.2L1167.7 1021.3L1167.4 1022.7L1166.2 1031.4L1164.0 1036.2L1160.5 1041.5L1160.5 1041.6L1157.1 1045.3L1153.6 1048.1L1150.2 1048.1L1146.7 1048.1L1143.3 1048.1L1139.8 1048.1L1136.3 1048.1L1132.9 1048.1L1129.4 1048.1L1126.0 1048.1M1126.0 1007.3L1129.4 1007.3L1132.9 1007.3L1136.3 1007.3L1139.8 1007.3L1143.3 1007.3L1146.7 1007.3L1150.2 1007.3L1153.6 1007.3L1157.1 1007.3L1160.5 1007.3L1164.0 1007.3L1167.4 1007.3L1167.7 1001.1L1167.7 991.0L1167.4 990.1L1165.2 980.9L1164.0 978.4L1160.5 973.1L1158.5 970.8L1157.1 969.3L1153.6 966.6L1150.2 966.6L1146.7 966.6L1143.3 966.6L1139.8 966.6L1136.3 966.6L1132.9 966.6L1129.4 966.6L1126.0 966.6M1126.0 925.8L1129.4 923.0L1132.0 920.2L1132.9 919.1L1136.3 913.7L1138.1 910.1L1137.7 900.0L1136.3 897.2L1132.9 891.8L1131.3 889.9L1129.4 888.0L1126.0 885.1M1126.0 803.6L1129.4 800.7L1131.3 798.9L1132.9 796.9L1136.3 791.5L1137.7 788.7L1136.7 778.6L1136.3 778.1L1132.9 773.0L1129.8 768.5L1129.4 768.0L1126.0 762.9M1126.0 440.7L1129.4 440.7L1132.9 440.7L1136.0 434.8L1132.9 426.8L1129.4 426.8L1126.0 426.8M1126.0 393.7L1129.4 393.7L1132.9 393.7L1136.3 393.7L1139.8 393.7L1140.8 394.4L1143.3 400.4L1145.7 404.5L1146.7 406.2L1149.3 414.6L1150.2 418.4L1152.6 424.7L1153.6 426.6L1156.5 434.8L1157.1 437.6L1159.5 444.9L1160.5 446.9L1164.0 447.2L1167.4 447.2L1170.9 450.4L1174.3 452.2L1176.4 455.0L1177.8 459.7L1180.2 465.1L1181.2 467.0L1184.7 470.7L1188.1 472.5L1191.6 472.6L1195.0 472.6L1197.1 475.3L1198.5 479.8L1201.0 485.4L1202.0 487.2L1205.4 487.9L1208.9 487.9L1212.3 487.9L1215.8 487.9L1219.2 487.9L1222.7 487.9L1226.1 487.9L1229.6 487.9L1232.7 495.5L1233.0 496.9L1235.7 505.6L1236.5 507.3L1239.9 511.2L1243.4 513.1L1245.4 515.7L1246.8 519.9L1249.5 525.8L1250.3 527.5L1253.7 531.5L1257.2 533.4L1259.5 535.9L1260.7 537.0L1264.1 540.6L1267.6 542.2L1271.0 543.6L1274.5 543.9L1277.9 543.9L1281.4 545.2L1282.9 546.0L1284.8 547.8L1288.3 549.0L1291.7 549.0L1295.2 549.0L1298.6 549.0L1302.1 549.0L1305.5 549.0L1309.0 549.0L1312.4 549.0L1315.9 549.0L1319.4 549.0L1322.8 554.2L1323.3 556.2L1326.3 562.3L1329.7 564.9L1333.2 565.6L1336.6 561.4L1338.4 556.2L1340.1 551.2L1343.5 549.0L1347.0 549.0L1350.4 553.7L1351.1 556.2L1352.9 566.3L1353.9 569.7L1357.3 574.3L1359.6 576.4L1360.8 577.9L1364.2 582.5L1366.8 586.5L1367.7 587.7L1371.1 592.8L1373.7 596.6L1374.6 597.9L1376.2 596.6L1378.1 595.1L1381.0 586.5L1381.5 584.9L1384.2 576.4L1385.0 575.0L1388.4 570.6L1390.8 566.3L1391.9 563.5L1393.4 556.2L1393.4 546.0L1393.4 535.9L1393.4 525.8L1392.8 515.7L1391.9 512.3L1388.5 505.6L1388.4 505.4L1386.4 495.5L1386.4 485.4L1386.4 475.3L1386.4 465.1L1386.0 455.0L1385.0 451.3L1381.8 444.9L1381.5 444.3L1379.5 434.8L1379.5 424.7L1379.9 414.6L1381.5 409.1L1383.9 404.5L1385.0 401.8L1386.4 394.4L1386.4 384.2L1386.4 374.1L1386.4 364.0L1386.7 353.9L1388.4 348.1L1391.9 345.3L1395.3 345.3L1398.8 345.3L1402.2 345.3L1405.7 347.5L1409.1 349.7L1412.6 350.4L1416.0 350.4L1419.5 349.6L1422.9 347.3L1426.4 345.3L1428.1 353.9L1429.8 361.7L1430.7 364.0L1433.3 369.1L1434.7 374.1L1435.0 384.2L1435.0 394.4L1436.7 402.6L1437.5 404.5L1440.2 409.7L1441.6 414.6L1443.7 423.0L1444.8 424.7L1447.1 426.8L1450.6 426.8L1454.0 424.9L1454.2 424.7L1457.5 422.3L1460.9 421.4L1464.4 421.4L1467.8 419.3L1470.5 414.6L1471.3 412.2L1474.7 406.4L1478.2 406.4L1481.6 406.4L1485.1 406.4L1487.8 404.5L1488.5 404.0L1492.0 395.7L1492.4 394.4L1495.4 391.8L1498.9 389.7L1502.4 388.2L1505.8 387.0L1509.3 386.7L1512.7 389.1L1516.2 392.7L1517.3 394.4L1519.6 398.1L1523.1 402.9L1524.0 404.5L1526.5 408.2L1530.0 413.2L1530.9 414.6L1533.4 418.9L1536.9 423.4L1537.8 424.7L1540.3 428.4L1543.8 433.2L1544.9 434.8L1547.2 438.6L1550.7 442.9L1552.8 444.9L1554.1 445.8L1557.6 447.2L1561.1 447.2L1564.5 448.1L1568.0 451.5L1570.9 455.0L1571.4 456.1L1574.9 464.2L1575.4 465.1L1578.3 468.3L1581.8 470.5L1585.2 472.0L1588.7 473.6L1590.6 475.3L1592.1 477.6L1595.2 485.4L1595.6 486.2L1599.0 490.8L1602.5 492.7L1605.0 495.5L1605.9 497.0L1609.0 505.6L1609.4 506.4L1612.8 511.1L1616.3 513.1L1619.8 515.6L1619.9 515.7L1623.2 518.3L1626.7 520.4L1630.1 521.1L1633.6 522.3L1637.0 524.5L1639.8 525.8L1640.5 526.1L1643.9 526.1L1647.4 526.5L1650.8 529.0L1654.3 531.4L1657.7 533.3L1661.2 535.8L1661.4 535.9L1664.6 539.2L1668.1 542.2L1671.5 546.0L1671.6 546.0L1675.0 549.2L1678.5 550.6L1681.9 551.7L1685.4 553.6L1688.8 556.0L1689.0 556.2L1692.3 560.0L1695.7 564.5L1697.6 566.3L1699.2 567.5L1702.6 569.5L1706.1 571.5L1709.5 574.7L1710.7 576.4L1713.0 580.4L1716.4 584.7L1719.9 586.4L1720.0 586.5L1723.3 590.0L1725.6 596.6L1726.8 598.7L1730.2 604.7L1733.7 604.9L1737.2 605.0M1395.3 1487.2L1394.8 1486.5L1391.9 1480.9L1390.1 1476.4L1391.9 1473.6L1395.3 1468.1L1396.4 1466.3L1398.8 1462.8L1402.2 1457.8L1404.7 1456.2L1405.7 1455.5L1409.1 1455.5L1412.6 1455.5L1416.0 1455.5L1417.7 1446.1L1417.7 1435.9L1419.5 1433.1L1422.9 1427.6L1424.0 1425.8L1426.4 1422.3L1429.8 1417.2L1431.2 1415.7L1433.3 1413.4L1436.7 1410.0L1440.1 1405.6L1440.2 1405.5L1443.7 1399.0L1445.1 1395.5L1445.5 1385.4L1445.5 1375.3L1445.5 1365.2L1445.5 1355.0L1445.5 1344.9L1445.5 1334.8L1445.5 1324.7L1445.5 1314.6L1445.5 1304.5L1445.5 1294.4L1443.7 1292.5L1440.2 1292.5L1436.7 1292.5L1433.3 1292.5L1429.8 1291.1L1426.4 1287.8L1423.6 1284.3L1422.9 1283.3L1419.5 1276.8L1418.4 1274.1L1419.5 1269.7L1421.1 1264.0L1422.9 1260.9L1426.4 1256.4L1428.9 1253.9L1429.8 1253.1L1433.3 1253.1L1434.2 1253.9L1436.7 1256.4L1440.2 1260.9L1442.0 1264.0L1443.7 1268.6L1445.5 1274.1L1445.5 1284.3L1447.1 1292.5L1450.6 1292.5L1454.0 1292.5L1457.5 1292.5L1460.9 1292.5L1464.4 1292.5L1467.8 1292.5L1471.3 1292.5L1474.7 1292.5L1478.2 1292.5L1481.6 1292.5L1485.1 1292.5L1488.2 1294.4L1488.5 1294.6L1492.0 1299.6L1495.3 1304.5L1495.4 1304.7L1498.9 1310.3L1501.6 1314.6L1502.4 1316.4L1505.8 1323.3L1506.7 1324.7L1509.3 1328.0L1512.7 1331.5L1515.9 1334.8L1516.2 1335.1L1519.6 1340.1L1522.9 1344.9L1523.1 1345.2L1526.5 1350.8L1529.3 1355.0L1530.0 1356.8L1533.4 1363.8L1534.3 1365.2L1536.9 1368.6L1540.3 1372.1L1543.8 1374.7L1544.6 1375.3L1547.2 1376.8L1550.7 1378.5L1554.1 1379.9L1557.6 1381.1L1561.1 1382.1L1564.5 1382.9L1568.0 1383.7L1571.4 1384.0L1574.9 1383.3L1578.3 1382.5L1581.8 1381.6L1585.2 1380.5L1588.7 1379.2L1592.1 1377.7L1595.6 1375.8L1597.1 1375.3L1599.0 1374.6L1599.9 1375.3L1602.5 1377.6L1605.9 1381.8L1608.2 1385.4L1609.4 1387.9L1612.1 1395.5L1612.1 1405.6L1612.1 1415.7L1612.1 1425.8L1612.1 1435.9L1612.1 1446.1L1612.8 1455.5L1616.3 1455.5L1619.8 1455.5L1623.2 1455.5L1626.7 1455.9L1627.0 1456.2L1630.1 1459.0L1633.6 1463.0L1635.7 1466.3L1637.0 1469.1L1639.7 1476.4L1637.0 1482.9L1635.0 1486.5L1633.6 1488.6L1630.1 1492.7L1626.7 1495.7L1623.2 1493.9L1619.8 1490.2L1617.1 1486.5L1616.3 1485.2L1612.8 1477.8L1612.3 1476.4L1612.1 1466.3L1612.1 1456.2L1609.4 1455.5L1605.9 1455.5L1602.5 1455.5L1599.0 1455.5L1595.6 1455.5L1592.1 1455.5L1588.7 1455.5L1585.2 1455.5L1581.8 1455.5L1578.3 1455.5L1574.9 1455.5L1571.4 1455.5L1568.0 1455.5L1564.5 1455.5L1561.1 1455.5L1557.6 1455.5L1554.1 1455.5L1550.7 1455.5L1547.2 1455.5L1543.8 1455.5L1543.1 1456.2L1540.3 1458.9L1536.9 1464.0L1535.3 1466.3L1533.4 1469.1L1530.0 1474.1L1528.4 1476.4L1526.5 1478.7L1523.1 1481.8L1519.6 1483.9L1516.2 1485.5L1512.7 1486.4L1512.3 1486.5L1509.3 1487.2L1505.8 1488.0L1502.4 1489.0L1498.9 1490.1L1495.4 1491.5L1492.0 1493.2L1488.5 1495.2L1485.1 1494.6L1481.6 1491.2L1478.2 1486.5L1478.2 1486.5L1474.7 1479.8L1473.4 1476.4L1471.3 1470.8L1469.0 1466.3L1467.8 1464.4L1464.4 1459.9L1460.9 1456.7L1459.6 1456.2L1457.5 1455.5L1454.0 1455.5L1450.6 1455.5L1447.1 1455.5L1443.7 1455.5L1440.2 1455.5L1436.7 1455.5L1433.3 1455.5L1429.8 1455.5L1426.4 1455.5L1422.9 1455.5L1419.5 1455.5L1417.7 1456.2L1417.7 1466.3L1417.5 1476.4L1416.0 1480.1L1412.7 1486.5L1412.6 1486.8L1409.1 1491.3L1405.7 1494.7L1402.2 1495.0L1398.8 1491.7L1395.3 1487.2M1257.2 1447.7L1256.1 1446.1L1253.7 1441.8L1251.3 1435.9L1251.0 1425.8L1251.0 1415.7L1253.7 1414.7L1257.2 1414.7L1260.7 1414.7L1264.1 1414.7L1265.8 1415.7L1267.6 1416.9L1271.0 1420.5L1274.5 1425.4L1274.7 1425.8L1277.9 1434.1L1278.5 1435.9L1277.9 1437.5L1274.5 1444.7L1273.7 1446.1L1271.0 1449.7L1267.6 1453.3L1264.1 1454.9L1260.7 1451.8L1257.2 1447.7M1340.1 1447.0L1339.5 1446.1L1336.6 1440.8L1334.6 1435.9L1336.6 1430.1L1338.4 1425.8L1340.1 1423.2L1343.5 1418.9L1346.9 1415.7L1347.0 1415.7L1347.0 1415.7L1350.4 1420.0L1352.5 1425.8L1353.9 1431.1L1355.0 1435.9L1353.9 1441.5L1352.6 1446.1L1350.4 1451.6L1347.0 1454.5L1343.5 1451.3L1340.1 1447.0M1343.5 1247.6L1340.4 1243.8L1340.1 1243.3L1336.6 1237.1L1335.2 1233.7L1336.6 1231.1L1340.1 1226.4L1343.0 1223.6L1343.5 1223.3L1347.0 1221.7L1350.4 1222.1L1353.5 1223.6L1353.9 1223.9L1357.3 1227.5L1360.8 1232.7L1361.3 1233.7L1360.8 1235.0L1357.3 1241.8L1356.0 1243.8L1353.9 1246.6L1350.4 1250.0L1347.0 1250.8L1343.5 1247.6M1429.8 345.3L1428.1 343.8L1428.4 333.7L1429.8 328.3L1433.3 326.1L1436.7 327.7L1440.2 331.3L1441.3 333.7L1440.2 340.9L1438.6 343.8L1436.7 345.3L1433.3 345.3L1429.8 345.3M1528.8 1557.3L1528.8 1547.2L1528.8 1537.1L1528.8 1527.0L1528.8 1516.8L1526.5 1513.9L1523.1 1510.7L1519.6 1508.5L1516.2 1506.9L1512.7 1507.7L1509.3 1509.9L1505.8 1512.5L1502.4 1515.5L1501.0 1516.8L1501.0 1527.0L1501.0 1537.1L1501.0 1547.2L1501.0 1557.3M1737.2 1251.8L1733.7 1251.8L1730.2 1251.8L1726.8 1251.8L1723.3 1251.8L1719.9 1251.8L1716.4 1251.8L1713.0 1251.8L1709.5 1251.8L1706.7 1253.9L1706.1 1254.5L1702.6 1258.3L1699.2 1263.6L1698.9 1264.0L1695.7 1271.5L1694.8 1274.1L1692.3 1279.8L1689.6 1284.3L1688.8 1285.3L1685.4 1289.3L1681.9 1292.3L1679.3 1294.4L1678.5 1295.1L1675.0 1298.8L1671.5 1304.0L1671.3 1304.5L1668.3 1314.6L1671.5 1321.7L1673.4 1324.7L1675.0 1326.9L1678.5 1330.6L1681.9 1333.5L1683.6 1334.8L1685.4 1336.4L1688.8 1340.4L1691.7 1344.9L1692.3 1346.0L1695.7 1354.3L1696.0 1355.0L1699.2 1362.2L1701.0 1365.2L1702.6 1367.4L1706.1 1371.2L1709.5 1374.0L1713.0 1374.0L1716.4 1374.0L1719.9 1374.0L1723.3 1374.0L1726.8 1374.0L1730.2 1374.0L1733.7 1374.0L1737.2 1374.0M1126.0 1211.0L1129.4 1211.0L1132.9 1211.0L1136.3 1211.0L1139.8 1211.0L1143.3 1211.0L1146.7 1211.0L1150.2 1211.0L1153.6 1211.0L1156.7 1213.5L1157.1 1213.8L1160.5 1217.6L1164.0 1222.8L1164.4 1223.6L1167.4 1229.4L1169.2 1233.7L1170.9 1236.1L1174.3 1241.2L1176.1 1243.8L1177.8 1246.2L1181.2 1251.3L1184.7 1249.2L1188.1 1245.4L1189.3 1243.8L1191.6 1240.2L1194.6 1233.7L1195.0 1228.5L1195.4 1223.6L1195.4 1213.5L1195.4 1203.4L1195.4 1193.2L1195.0 1191.7L1192.3 1183.1L1191.6 1181.8L1188.1 1176.6L1184.8 1173.0L1184.7 1172.9L1181.2 1170.3L1177.8 1170.3L1174.3 1170.3L1170.9 1170.3L1167.4 1170.3L1164.0 1170.3L1160.5 1170.3L1157.1 1170.3L1153.6 1170.3L1150.2 1170.3L1146.7 1170.3L1143.3 1170.3L1139.8 1170.3L1136.3 1170.3L1132.9 1170.3L1129.4 1170.3L1126.0 1170.3M1126.0 1129.5L1129.4 1126.6L1132.9 1122.8L1133.2 1122.5L1136.3 1117.4L1138.7 1112.3L1137.0 1102.2L1136.3 1100.9L1132.9 1095.5L1129.9 1092.1L1129.4 1091.7L1126.0 1088.8M1126.0 388.6L1129.4 388.6L1132.9 388.6L1136.3 388.6L1139.8 388.6L1143.3 390.4L1146.7 392.7L1147.6 394.4L1150.2 402.7L1150.8 404.5L1153.6 411.2L1156.1 414.6L1157.1 416.9L1160.0 424.7L1160.5 426.2L1164.0 430.0L1167.4 431.8L1169.8 434.8L1170.9 436.6L1174.3 441.4L1176.5 444.9L1177.8 446.7L1181.2 451.8L1183.4 455.0L1184.7 457.3L1188.1 462.1L1191.6 462.4L1195.0 462.4L1197.1 465.1L1198.5 466.9L1202.0 472.0L1205.4 472.6L1208.9 472.6L1212.3 473.5L1215.8 474.2L1219.2 474.3L1222.7 474.3L1226.1 474.3L1229.6 474.3L1230.9 475.3L1233.0 478.6L1236.2 485.4L1236.5 486.1L1239.7 495.5L1239.9 496.0L1243.4 502.0L1245.6 505.6L1246.8 507.3L1250.3 512.3L1252.9 515.7L1253.7 517.3L1257.2 522.3L1260.7 524.7L1262.2 525.8L1264.1 527.6L1267.6 531.5L1271.0 533.4L1274.5 533.7L1277.9 533.7L1281.4 534.5L1284.8 535.3L1288.3 535.4L1291.7 535.4L1295.2 535.0L1298.6 534.1L1302.1 532.6L1305.5 529.9L1309.0 528.6L1312.4 528.6L1315.9 528.6L1319.4 528.6L1322.8 528.6L1326.3 528.6L1329.7 528.6L1333.2 528.6L1336.6 528.6L1340.1 528.6L1343.5 528.6L1347.0 528.6L1350.4 528.6L1353.9 528.6L1356.3 525.8L1357.3 523.4L1358.6 515.7L1358.6 505.6L1359.2 495.5L1360.8 490.3L1363.4 485.4L1364.2 482.8L1365.6 475.3L1365.6 465.1L1365.6 455.0L1365.6 444.9L1365.6 434.8L1365.6 424.7L1365.6 414.6L1365.6 404.5L1365.6 394.4L1365.6 384.2L1365.6 374.1L1365.6 364.0L1365.3 353.9L1364.2 349.8L1361.3 343.8L1360.8 342.2L1359.4 333.7L1360.8 331.3L1364.2 328.9L1367.7 328.1L1371.1 327.1L1374.6 325.7L1378.1 324.1L1379.3 323.6L1381.5 322.5L1385.0 320.3L1388.4 317.4L1391.7 313.5L1391.9 313.3L1395.3 310.8L1398.8 308.3L1402.2 305.7L1405.7 304.6L1409.1 304.6L1412.6 304.6L1416.0 304.6L1419.5 304.6L1422.9 304.6L1426.4 304.6L1429.8 304.6L1433.3 306.6L1436.7 311.6L1437.8 313.5L1440.2 316.1L1443.7 321.3L1445.3 323.6L1447.1 326.0L1450.6 327.7L1454.0 331.2L1455.2 333.7L1455.9 343.8L1455.9 353.9L1454.0 362.4L1453.3 364.0L1450.6 369.4L1449.3 374.1L1448.9 384.2L1448.9 394.4L1450.6 402.3L1451.9 404.5L1454.0 406.4L1457.5 406.4L1460.9 406.4L1464.4 406.4L1465.9 404.5L1467.8 401.6L1470.6 394.4L1471.3 393.2L1474.7 391.1L1478.2 391.1L1481.6 391.1L1485.1 391.1L1488.5 389.7L1492.0 387.2L1495.4 385.4L1498.6 384.2L1498.9 384.1L1502.4 382.7L1505.8 380.5L1509.3 379.2L1512.7 380.2L1516.2 381.5L1519.6 383.6L1520.4 384.2L1523.1 388.2L1525.0 394.4L1526.5 396.8L1530.0 402.8L1530.9 404.5L1533.4 408.1L1536.9 413.2L1537.8 414.6L1540.3 418.2L1543.8 422.2L1547.2 424.2L1547.6 424.7L1550.7 429.9L1552.4 434.8L1554.1 437.1L1557.6 439.6L1561.1 439.6L1564.5 440.7L1568.0 444.7L1568.2 444.9L1571.4 448.2L1574.9 454.6L1575.0 455.0L1578.3 461.5L1581.1 465.1L1581.8 465.7L1585.2 467.8L1588.7 469.0L1592.1 471.3L1594.0 475.3L1595.6 479.4L1598.9 485.4L1599.0 485.6L1602.5 486.7L1605.9 489.5L1608.0 495.5L1609.4 499.4L1612.6 505.6L1612.8 505.9L1616.3 507.1L1619.8 508.6L1623.2 510.8L1626.7 513.6L1630.1 514.5L1633.6 515.6L1633.7 515.7L1637.0 518.3L1640.5 520.2L1643.9 520.2L1647.4 520.6L1650.8 523.5L1653.7 525.8L1654.3 526.2L1657.7 527.4L1661.2 528.9L1664.6 531.0L1668.1 534.3L1669.2 535.9L1671.5 538.5L1675.0 542.1L1678.5 544.6L1680.8 546.0L1681.9 546.6L1685.4 547.7L1688.8 549.1L1692.3 551.2L1695.7 554.4L1696.9 556.2L1699.2 559.0L1702.6 562.2L1706.1 563.1L1709.5 564.5L1710.7 566.3L1713.0 569.6L1716.4 574.5L1719.9 574.5L1723.3 574.6L1724.6 576.4L1726.8 581.4L1729.1 586.5L1730.2 589.8L1733.7 593.2L1737.2 594.8M1702.6 1489.7L1706.1 1493.4L1709.5 1496.1L1713.0 1493.1L1716.4 1489.2L1718.3 1486.5L1719.9 1483.8L1723.1 1476.4L1719.9 1468.1L1719.0 1466.3L1716.4 1462.4L1713.0 1458.5L1710.3 1456.2L1709.5 1455.6L1708.7 1456.2L1706.1 1458.2L1702.6 1462.0L1699.7 1466.3L1699.2 1467.4L1695.7 1476.3L1695.7 1476.4L1695.7 1476.5L1699.2 1484.4L1700.4 1486.5L1702.6 1489.7M1374.6 1453.1L1378.1 1452.5L1381.5 1447.4L1382.4 1446.1L1385.0 1442.3L1388.4 1437.3L1389.3 1435.9L1391.9 1429.8L1394.0 1425.8L1395.3 1423.7L1398.8 1419.2L1402.2 1415.9L1402.4 1415.7L1405.7 1412.0L1409.1 1406.9L1410.0 1405.6L1412.6 1401.8L1416.0 1396.8L1416.9 1395.5L1416.0 1392.2L1413.8 1385.4L1412.6 1383.4L1409.1 1378.8L1405.7 1375.5L1405.4 1375.3L1402.2 1372.8L1398.8 1369.5L1395.4 1365.2L1395.3 1365.0L1391.9 1358.6L1390.4 1355.0L1388.4 1349.8L1386.1 1344.9L1385.0 1342.9L1381.5 1338.3L1378.1 1334.9L1378.0 1334.8L1374.6 1332.1L1371.1 1328.9L1367.8 1324.7L1367.7 1324.5L1364.2 1318.3L1362.7 1314.6L1360.8 1309.4L1358.5 1304.5L1357.3 1302.4L1353.9 1297.7L1350.6 1294.4L1350.4 1294.2L1347.0 1292.5L1343.5 1292.5L1340.1 1292.5L1336.6 1292.5L1333.2 1292.5L1329.7 1292.5L1326.3 1292.5L1322.8 1292.5L1319.4 1293.3L1318.1 1294.4L1315.9 1296.5L1312.4 1300.7L1310.2 1304.5L1309.0 1308.0L1307.2 1314.6L1309.0 1318.9L1312.3 1324.7L1312.4 1325.0L1315.9 1329.2L1319.4 1332.4L1322.4 1334.8L1322.8 1335.1L1326.3 1338.6L1329.7 1343.4L1330.6 1344.9L1333.2 1350.5L1334.9 1355.0L1336.6 1359.3L1339.8 1365.2L1340.1 1365.5L1343.5 1369.8L1347.0 1373.0L1349.9 1375.3L1350.4 1375.7L1353.9 1379.2L1357.3 1383.9L1358.2 1385.4L1360.8 1390.8L1362.5 1395.5L1364.2 1401.7L1365.1 1405.6L1366.9 1415.7L1367.7 1421.6L1368.2 1425.8L1369.2 1435.9L1371.1 1444.5L1371.6 1446.1L1374.6 1453.1M1561.1 1357.6L1564.5 1360.1L1568.0 1362.3L1571.4 1363.3L1574.9 1361.2L1578.3 1358.8L1581.8 1356.0L1582.8 1355.0L1585.2 1350.0L1588.1 1344.9L1588.7 1343.9L1592.1 1339.0L1595.6 1335.4L1596.3 1334.8L1599.0 1332.6L1602.5 1329.6L1605.9 1325.4L1606.4 1324.7L1609.4 1319.6L1611.5 1314.6L1612.8 1311.0L1615.7 1304.5L1616.3 1303.5L1619.8 1298.4L1623.2 1294.8L1623.7 1294.4L1626.7 1292.0L1630.1 1289.0L1633.6 1284.9L1634.0 1284.3L1637.0 1279.2L1639.2 1274.1L1637.0 1265.8L1636.5 1264.0L1633.6 1259.3L1630.1 1255.3L1628.7 1253.9L1626.7 1252.2L1623.2 1249.5L1619.8 1245.8L1618.2 1243.8L1616.3 1240.8L1613.0 1233.7L1612.8 1233.3L1609.4 1224.8L1608.9 1223.6L1605.9 1218.8L1602.5 1214.7L1601.2 1213.5L1599.0 1211.6L1595.6 1208.9L1592.1 1205.3L1590.7 1203.4L1588.7 1200.3L1585.3 1193.2L1585.2 1193.1L1581.8 1187.5L1579.2 1183.1L1578.3 1181.8L1574.9 1176.7L1572.3 1173.0L1571.4 1171.7L1568.0 1170.3L1564.5 1170.3L1561.1 1170.3L1557.6 1170.3L1554.1 1170.3L1550.7 1170.3L1547.2 1170.3L1543.8 1170.3L1540.3 1166.8L1537.7 1162.9L1536.9 1161.8L1533.4 1156.7L1530.8 1152.8L1530.0 1150.9L1526.5 1143.9L1525.8 1142.7L1523.1 1138.0L1519.6 1133.7L1518.5 1132.6L1516.2 1130.5L1512.7 1129.5L1509.3 1129.5L1505.8 1129.5L1502.4 1129.5L1498.9 1129.5L1495.4 1129.5L1492.0 1129.5L1488.5 1129.5L1485.1 1129.5L1481.6 1129.5L1478.2 1129.5L1474.7 1129.5L1471.3 1129.5L1467.8 1129.5L1464.4 1129.5L1460.9 1129.5L1457.5 1129.5L1454.0 1129.5L1450.6 1129.5L1447.1 1129.5L1443.7 1129.5L1440.2 1129.5L1436.7 1129.5L1433.3 1129.5L1429.8 1130.9L1428.0 1132.6L1426.4 1134.2L1422.9 1138.7L1420.7 1142.7L1419.5 1148.6L1418.7 1152.8L1419.5 1154.6L1422.9 1161.1L1424.2 1162.9L1426.4 1165.6L1429.8 1168.9L1433.3 1171.6L1434.9 1173.0L1436.7 1174.9L1440.2 1179.5L1442.3 1183.1L1443.7 1186.1L1446.4 1193.2L1447.1 1195.0L1450.6 1201.6L1451.8 1203.4L1454.0 1206.2L1457.5 1209.5L1460.9 1213.3L1461.0 1213.5L1464.4 1218.4L1467.8 1223.4L1467.9 1223.6L1471.3 1229.2L1474.1 1233.7L1474.7 1235.3L1478.2 1242.1L1479.3 1243.8L1481.6 1246.7L1485.1 1250.1L1488.5 1253.8L1488.6 1253.9L1492.0 1258.9L1495.4 1264.0L1495.5 1264.0L1498.9 1269.0L1502.4 1274.1L1502.4 1274.1L1505.8 1279.1L1509.3 1284.2L1509.3 1284.3L1512.7 1289.3L1516.2 1293.5L1517.3 1294.4L1519.6 1296.7L1523.1 1301.0L1525.2 1304.5L1526.5 1306.8L1530.0 1314.6L1530.0 1314.6L1533.4 1319.7L1536.9 1324.7L1536.9 1324.7L1540.3 1329.8L1543.8 1334.1L1544.7 1334.8L1547.2 1337.2L1550.7 1341.5L1552.8 1344.9L1554.1 1347.1L1557.6 1353.9L1558.1 1355.0L1561.1 1357.6M1336.6 1193.5L1340.1 1196.6L1343.5 1198.8L1347.0 1200.4L1350.4 1200.0L1353.9 1198.2L1357.3 1195.9L1360.1 1193.2L1360.8 1190.1L1362.1 1183.1L1362.1 1173.0L1362.1 1162.9L1362.1 1152.8L1362.1 1142.7L1362.1 1132.6L1362.1 1122.5L1362.1 1112.3L1360.8 1107.1L1359.3 1102.2L1357.3 1098.7L1353.9 1094.0L1352.1 1092.1L1350.4 1090.6L1347.0 1088.8L1343.5 1088.8L1340.1 1088.8L1336.6 1088.8L1333.2 1088.8L1329.7 1088.8L1326.3 1088.8L1322.8 1088.8L1319.4 1088.8L1315.9 1088.8L1312.4 1088.8L1309.0 1088.8L1305.5 1088.8L1302.1 1088.8L1298.6 1088.8L1295.2 1088.8L1291.7 1089.5L1288.8 1092.1L1288.3 1092.6L1284.8 1096.8L1281.6 1102.2L1281.4 1103.0L1278.8 1112.3L1278.8 1122.5L1278.8 1132.6L1278.8 1142.7L1279.8 1152.8L1281.4 1156.3L1284.8 1162.3L1285.3 1162.9L1288.3 1166.5L1291.7 1169.6L1295.2 1170.3L1298.6 1170.3L1302.1 1170.3L1305.5 1170.3L1309.0 1170.3L1312.4 1170.3L1315.9 1170.3L1319.4 1170.3L1322.8 1172.2L1323.7 1173.0L1326.3 1175.7L1329.7 1180.5L1331.2 1183.1L1333.2 1186.8L1336.4 1193.2L1336.6 1193.5M1409.1 336.8L1412.6 339.2L1416.0 339.2L1419.5 336.4L1420.9 333.7L1419.5 328.5L1416.0 324.9L1412.6 324.9L1409.1 328.0L1407.5 333.7L1409.1 336.8M1126.0 383.4L1129.4 383.4L1132.9 383.4L1136.3 383.4L1139.8 383.4L1142.3 384.2L1143.3 384.6L1146.7 386.0L1150.2 390.8L1151.5 394.4L1153.6 400.6L1157.1 402.8L1159.1 404.5L1160.5 406.1L1163.5 414.6L1164.0 415.6L1167.4 421.1L1170.9 423.1L1172.8 424.7L1174.3 426.4L1177.3 434.8L1177.8 435.5L1181.2 441.2L1183.5 444.9L1184.7 446.7L1188.1 451.7L1191.6 452.3L1195.0 452.3L1197.5 455.0L1198.5 456.3L1202.0 461.4L1205.4 462.1L1208.9 462.1L1212.3 465.1L1212.3 465.1L1215.8 467.3L1219.2 467.5L1222.7 467.5L1226.1 467.5L1229.6 467.5L1233.0 469.2L1236.5 472.0L1239.2 475.3L1239.9 477.0L1243.2 485.4L1243.4 485.9L1246.8 494.7L1247.0 495.5L1250.3 501.0L1253.7 504.2L1255.5 505.6L1257.2 507.3L1260.7 511.1L1264.1 513.1L1266.5 515.7L1267.6 517.1L1271.0 522.2L1274.5 523.2L1277.9 523.2L1281.2 525.8L1281.4 525.9L1284.8 528.2L1288.3 528.6L1291.7 528.6L1295.2 527.2L1297.2 525.8L1298.6 524.1L1302.1 518.7L1303.6 515.7L1305.5 510.0L1309.0 508.3L1312.4 508.3L1314.5 505.6L1315.9 502.0L1317.0 495.5L1317.0 485.4L1317.0 475.3L1317.0 465.1L1318.3 455.0L1319.4 453.6L1322.8 451.2L1326.3 448.6L1329.7 447.2L1333.2 447.2L1336.6 447.2L1340.1 447.2L1342.0 444.9L1343.5 442.0L1345.2 434.8L1347.0 429.0L1349.3 424.7L1350.4 421.4L1351.7 414.6L1351.7 404.5L1351.3 394.4L1350.4 390.8L1347.2 384.2L1347.0 383.7L1344.8 374.1L1344.8 364.0L1345.1 353.9L1347.0 347.6L1349.0 343.8L1350.4 340.6L1352.1 333.7L1353.9 328.8L1356.7 323.6L1357.3 322.5L1360.8 318.4L1364.2 315.9L1367.7 313.5L1367.8 313.5L1371.1 309.5L1374.6 305.9L1377.7 303.3L1378.1 303.0L1381.5 300.3L1385.0 297.6L1388.4 295.0L1390.7 293.2L1391.9 291.9L1395.3 288.7L1398.8 286.5L1402.2 284.8L1405.7 284.2L1409.1 284.2L1412.6 284.2L1416.0 284.2L1419.5 284.2L1422.9 284.2L1426.4 284.2L1429.8 284.2L1433.3 285.2L1436.7 287.3L1440.2 289.8L1443.7 292.7L1444.2 293.2L1447.1 297.6L1449.7 303.3L1450.6 306.2L1452.2 313.5L1454.0 315.6L1457.5 321.0L1459.4 323.6L1460.9 325.5L1464.4 326.5L1467.8 329.9L1469.3 333.7L1469.8 343.8L1469.8 353.9L1469.8 364.0L1469.8 374.1L1471.3 377.9L1474.7 380.3L1478.2 380.3L1481.6 380.4L1485.1 380.6L1488.5 380.1L1492.0 379.1L1495.4 378.4L1498.9 377.8L1502.4 376.6L1505.5 374.1L1505.8 373.6L1509.3 370.8L1512.7 370.8L1516.2 370.8L1519.6 370.8L1523.1 370.8L1526.5 370.8L1530.0 373.4L1530.2 374.1L1531.2 384.2L1532.0 394.4L1533.4 396.9L1536.9 402.8L1537.9 404.5L1540.3 408.1L1543.8 411.5L1547.2 411.5L1550.7 412.8L1552.0 414.6L1554.1 420.0L1556.6 424.7L1557.6 426.8L1561.1 426.8L1564.5 428.5L1566.6 434.8L1568.0 436.3L1571.4 439.6L1574.9 442.5L1576.2 444.9L1578.3 451.7L1578.8 455.0L1581.8 459.9L1585.2 463.2L1588.7 464.1L1590.8 465.1L1592.1 465.7L1595.6 471.5L1596.9 475.3L1599.0 479.2L1602.5 479.8L1605.9 481.5L1607.7 485.4L1609.4 490.3L1610.8 495.5L1612.8 499.5L1616.3 500.1L1619.8 500.8L1623.2 501.7L1626.7 503.5L1628.6 505.6L1630.1 506.6L1633.6 508.6L1637.0 510.7L1640.5 513.4L1643.9 513.4L1647.4 513.9L1648.7 515.7L1650.8 517.3L1654.3 519.8L1657.7 520.4L1661.2 521.1L1664.6 522.0L1668.1 523.8L1669.3 525.8L1671.5 529.2L1675.0 534.1L1676.4 535.9L1678.5 537.7L1681.9 540.1L1685.4 540.7L1688.8 541.4L1692.3 542.3L1695.7 544.0L1696.9 546.0L1699.2 549.3L1702.6 554.1L1706.1 554.1L1709.5 554.3L1711.0 556.2L1713.0 558.8L1716.4 563.9L1719.9 563.9L1723.3 564.1L1724.6 566.3L1726.8 569.5L1730.2 574.5L1731.8 576.4L1733.7 579.6L1737.2 584.3M1512.7 1248.5L1516.2 1251.8L1519.6 1251.8L1523.1 1251.8L1526.5 1251.8L1530.0 1251.8L1533.4 1251.8L1536.9 1251.8L1540.3 1251.8L1543.8 1250.9L1547.2 1247.8L1550.5 1243.8L1550.7 1243.5L1554.1 1237.5L1555.7 1233.7L1554.1 1226.8L1553.3 1223.6L1550.7 1219.3L1547.2 1215.0L1545.7 1213.5L1543.8 1211.9L1540.3 1209.1L1536.9 1205.6L1535.1 1203.4L1533.4 1200.8L1530.0 1193.8L1529.7 1193.2L1526.5 1188.0L1523.7 1183.1L1523.1 1182.2L1519.6 1177.2L1516.8 1173.0L1516.2 1172.1L1512.7 1170.3L1509.3 1170.3L1505.8 1170.3L1502.4 1170.3L1498.9 1170.3L1495.4 1170.3L1492.0 1170.3L1488.5 1170.3L1485.1 1171.9L1483.8 1173.0L1481.6 1175.3L1478.2 1180.0L1476.4 1183.1L1475.0 1193.2L1478.2 1197.9L1481.6 1203.0L1481.9 1203.4L1485.1 1208.0L1488.5 1212.1L1490.1 1213.5L1492.0 1215.3L1495.4 1219.7L1497.7 1223.6L1498.9 1225.6L1502.4 1233.1L1502.6 1233.7L1505.8 1238.4L1509.3 1243.5L1509.5 1243.8L1512.7 1248.5M1126.0 377.2L1129.4 377.2L1132.9 377.2L1136.3 377.2L1139.8 377.2L1143.3 377.6L1146.7 378.2L1150.2 380.2L1153.0 384.2L1153.6 385.6L1157.1 386.1L1160.5 386.1L1163.8 394.4L1164.0 394.8L1167.0 404.5L1167.4 405.7L1170.9 406.4L1174.3 406.4L1177.7 414.6L1177.8 414.8L1180.8 424.7L1181.2 425.9L1184.6 434.8L1184.7 434.9L1188.1 440.7L1191.6 441.3L1195.0 441.3L1198.5 443.1L1200.4 444.9L1202.0 446.6L1205.4 447.2L1208.9 447.2L1212.3 454.8L1212.4 455.0L1215.8 458.9L1219.2 459.4L1222.7 459.4L1226.1 459.4L1229.6 459.4L1233.0 460.1L1236.5 461.4L1239.9 463.3L1241.9 465.1L1243.4 466.6L1246.8 467.5L1250.3 467.5L1253.7 474.2L1254.0 475.3L1256.6 485.4L1257.2 486.7L1260.7 494.4L1260.9 495.5L1264.1 501.2L1267.6 504.0L1269.4 505.6L1271.0 507.2L1274.5 508.3L1277.9 508.3L1281.4 514.3L1281.7 515.7L1284.8 519.4L1288.3 520.4L1291.7 520.4L1295.2 517.2L1296.1 515.7L1296.1 505.6L1296.1 495.5L1296.1 485.4L1296.6 475.3L1298.6 469.2L1300.8 465.1L1302.1 461.5L1303.5 455.0L1305.5 448.9L1309.0 447.2L1312.4 447.2L1315.3 444.9L1315.9 444.5L1319.4 441.8L1322.8 437.7L1324.3 434.8L1326.3 428.8L1328.4 424.7L1329.7 421.0L1330.9 414.6L1330.9 404.5L1331.2 394.4L1333.2 388.1L1335.2 384.2L1336.6 379.7L1337.6 374.1L1336.6 368.9L1334.7 364.0L1333.2 360.2L1330.0 353.9L1331.9 343.8L1333.2 338.9L1334.2 333.7L1336.6 326.2L1337.8 323.6L1340.1 319.9L1343.5 317.5L1347.0 315.6L1348.3 313.5L1350.4 310.3L1353.9 304.4L1354.6 303.3L1357.3 298.9L1360.8 294.3L1361.7 293.2L1360.8 290.8L1357.3 283.9L1356.8 283.1L1353.9 279.2L1350.4 275.8L1347.0 273.1L1346.9 273.0L1343.5 269.9L1340.1 265.5L1338.4 262.9L1336.6 258.7L1334.6 252.8L1336.6 247.9L1339.5 242.7L1340.1 241.8L1343.5 237.4L1347.0 234.2L1350.4 233.3L1353.9 233.3L1357.3 233.3L1360.8 233.3L1364.2 233.3L1367.7 233.3L1371.1 233.3L1374.6 233.3L1378.1 234.9L1381.5 238.3L1384.8 242.7L1385.0 243.0L1388.4 249.7L1389.6 252.8L1391.9 255.8L1395.3 259.1L1398.8 261.5L1401.4 262.9L1402.2 263.2L1405.7 263.8L1409.1 263.8L1412.6 263.8L1416.0 263.8L1419.5 263.8L1422.9 263.8L1426.4 263.8L1429.8 263.8L1433.3 264.2L1436.7 264.9L1440.2 265.7L1443.7 266.7L1447.1 267.8L1450.6 269.1L1454.0 270.7L1457.5 272.7L1457.9 273.0L1460.9 275.2L1464.4 278.5L1467.8 283.0L1467.9 283.1L1471.3 289.3L1472.8 293.2L1473.2 303.3L1473.2 313.5L1474.7 317.2L1475.9 323.6L1476.6 333.7L1478.2 340.7L1479.4 343.8L1481.6 348.0L1483.4 353.9L1485.1 361.2L1486.9 364.0L1488.5 365.7L1492.0 365.7L1495.4 365.7L1498.9 365.7L1502.4 364.0L1502.4 364.0L1505.8 361.1L1509.3 360.0L1512.7 360.0L1516.2 360.0L1519.6 360.0L1523.1 360.0L1526.5 360.0L1530.0 360.8L1532.3 364.0L1533.4 366.8L1535.1 374.1L1536.7 384.2L1536.9 385.3L1539.0 394.4L1540.3 396.6L1543.8 400.6L1547.2 400.6L1550.7 401.1L1554.1 403.6L1555.3 404.5L1557.6 406.4L1561.1 406.4L1564.5 406.4L1568.0 406.4L1571.4 408.0L1573.6 414.6L1574.9 420.5L1576.4 424.7L1578.3 428.3L1580.5 434.8L1581.8 443.9L1581.9 444.9L1582.8 455.0L1585.2 457.7L1588.7 458.1L1592.1 458.7L1595.6 461.2L1598.1 465.1L1599.0 467.5L1602.5 467.5L1605.9 468.8L1608.2 475.3L1609.4 477.4L1612.2 485.4L1612.8 487.9L1616.3 487.9L1619.8 487.9L1623.2 487.9L1626.7 488.9L1629.0 495.5L1630.1 496.9L1633.6 500.2L1637.0 501.2L1640.5 502.3L1643.9 502.3L1647.4 502.6L1650.8 505.1L1651.4 505.6L1654.3 508.3L1657.7 508.3L1661.2 508.3L1664.6 508.3L1668.1 508.9L1670.6 515.7L1671.5 517.2L1675.0 522.9L1678.5 525.3L1679.0 525.8L1681.9 528.6L1685.4 528.6L1688.8 528.6L1692.3 528.6L1695.7 529.0L1698.4 535.9L1699.2 537.2L1702.6 543.1L1706.1 543.1L1709.5 543.1L1713.0 545.6L1713.5 546.0L1716.4 549.0L1719.9 549.0L1723.3 549.1L1726.1 556.2L1726.8 557.2L1730.2 563.5L1733.7 565.9L1734.1 566.3L1737.2 569.4" fill="none" stroke="#000" stroke-width="2.0" stroke-linejoin="round"/>
</g>
<path d="M750.9 192.6L765.0 212.0L765.0 233.0L750.9 252.5L736.7 233.0L736.7 212.0ZM792.5 152.4L806.6 172.0L806.6 192.0L792.5 212.3L778.4 192.0L778.4 172.0ZM793.5 315.0L807.0 335.0L800.0 350.0L807.0 376.0L793.3 396.0L765.0 353.0ZM557.5 334.2L570.5 315.4L583.5 334.2L570.5 354.5ZM1181.0 132.2L1195.4 151.8L1195.4 172.7L1181.0 191.5L1167.9 172.7L1167.9 151.8ZM1237.3 211.8L1278.5 152.5L1292.0 171.3L1292.0 193.0L1278.5 211.8L1264.1 211.8L1251.0 232.1ZM1348.7 232.1L1361.7 213.2L1375.5 232.1L1361.7 252.3Z" fill="#fff"/>
<rect x="278.70" y="131.43" width="1666.80" height="1425.87" fill="none" stroke="#262626" stroke-width="1.6"/>
<path d="M417.60 1557.30V1540.30M417.60 131.43V148.43M695.40 1557.30V1540.30M695.40 131.43V148.43M973.20 1557.30V1540.30M973.20 131.43V148.43M1251.00 1557.30V1540.30M1251.00 131.43V148.43M1528.80 1557.30V1540.30M1528.80 131.43V148.43M1806.60 1557.30V1540.30M1806.60 131.43V148.43M278.70 1353.61H295.70M1945.50 1353.61H1928.50M278.70 1149.91H295.70M1945.50 1149.91H1928.50M278.70 946.22H295.70M1945.50 946.22H1928.50M278.70 742.52H295.70M1945.50 742.52H1928.50M278.70 538.83H295.70M1945.50 538.83H1928.50M278.70 335.13H295.70M1945.50 335.13H1928.50" stroke="#262626" stroke-width="1.6" fill="none"/>
<text x="417.60" y="1642.6" font-size="69" text-anchor="middle" fill="#262626">0</text>
<text x="695.40" y="1642.6" font-size="69" text-anchor="middle" fill="#262626">2</text>
<text x="973.20" y="1642.6" font-size="69" text-anchor="middle" fill="#262626">4</text>
<text x="1251.00" y="1642.6" font-size="69" text-anchor="middle" fill="#262626">6</text>
<text x="1528.80" y="1642.6" font-size="69" text-anchor="middle" fill="#262626">8</text>
<text x="1806.60" y="1642.6" font-size="69" text-anchor="middle" fill="#262626">10</text>
<text x="255.5" y="1581.90" font-size="69" text-anchor="end" fill="#262626">80</text>
<text x="255.5" y="1378.20" font-size="69" text-anchor="end" fill="#262626">85</text>
<text x="255.5" y="1174.51" font-size="69" text-anchor="end" fill="#262626">90</text>
<text x="255.5" y="970.82" font-size="69" text-anchor="end" fill="#262626">95</text>
<text x="255.5" y="767.12" font-size="69" text-anchor="end" fill="#262626">100</text>
<text x="255.5" y="563.43" font-size="69" text-anchor="end" fill="#262626">105</text>
<text x="255.5" y="359.73" font-size="69" text-anchor="end" fill="#262626">110</text>
<text x="255.5" y="156.03" font-size="69" text-anchor="end" fill="#262626">115</text>
<text x="956" y="1732" font-size="77" textLength="313" lengthAdjust="spacingAndGlyphs" fill="#262626">UT (Hour)</text>
<text transform="translate(117.5 1050.7) rotate(-90)" font-size="77" textLength="412.3" lengthAdjust="spacingAndGlyphs" fill="#262626">Altitude (km)</text>
<text x="712" y="111.2" font-size="77" font-weight="bold" textLength="799" lengthAdjust="spacingAndGlyphs" fill="#000">Temperature 20200127</text>
<rect x="1979.30" y="1439.56" width="66.40" height="118.94" fill="#0000AA"/>
<rect x="1979.30" y="1320.62" width="66.40" height="119.44" fill="#0000FF"/>
<rect x="1979.30" y="1201.68" width="66.40" height="119.44" fill="#0055FF"/>
<rect x="1979.30" y="1082.74" width="66.40" height="119.44" fill="#00AAFF"/>
<rect x="1979.30" y="963.80" width="66.40" height="119.44" fill="#00FFFF"/>
<rect x="1979.30" y="844.86" width="66.40" height="119.44" fill="#55FFAA"/>
<rect x="1979.30" y="725.92" width="66.40" height="119.44" fill="#AAFF55"/>
<rect x="1979.30" y="606.98" width="66.40" height="119.44" fill="#FFFF00"/>
<rect x="1979.30" y="488.04" width="66.40" height="119.44" fill="#FFAA00"/>
<rect x="1979.30" y="369.10" width="66.40" height="119.44" fill="#FF5500"/>
<rect x="1979.30" y="250.16" width="66.40" height="119.44" fill="#FF0000"/>
<rect x="1979.30" y="131.22" width="66.40" height="119.44" fill="#AA0000"/>
<path d="M2045.70 1439.56H2031.70M2045.70 1320.62H2031.70M2045.70 1201.68H2031.70M2045.70 1082.74H2031.70M2045.70 963.80H2031.70M2045.70 844.86H2031.70M2045.70 725.92H2031.70M2045.70 606.98H2031.70M2045.70 488.04H2031.70M2045.70 369.10H2031.70M2045.70 250.16H2031.70" stroke="#262626" stroke-width="1.6" fill="none"/>
<rect x="1979.30" y="131.22" width="66.40" height="1427.28" fill="none" stroke="#262626" stroke-width="1.6"/>
<text x="2064.0" y="1462.66" font-size="62" fill="#262626">120</text>
<text x="2064.0" y="1343.72" font-size="62" fill="#262626">130</text>
<text x="2064.0" y="1224.78" font-size="62" fill="#262626">140</text>
<text x="2064.0" y="1105.84" font-size="62" fill="#262626">150</text>
<text x="2064.0" y="986.90" font-size="62" fill="#262626">160</text>
<text x="2064.0" y="867.96" font-size="62" fill="#262626">170</text>
<text x="2064.0" y="749.02" font-size="62" fill="#262626">180</text>
<text x="2064.0" y="630.08" font-size="62" fill="#262626">190</text>
<text x="2064.0" y="511.14" font-size="62" fill="#262626">200</text>
<text x="2064.0" y="392.20" font-size="62" fill="#262626">210</text>
<text x="2064.0" y="273.26" font-size="62" fill="#262626">220</text>
</svg></body></html>
